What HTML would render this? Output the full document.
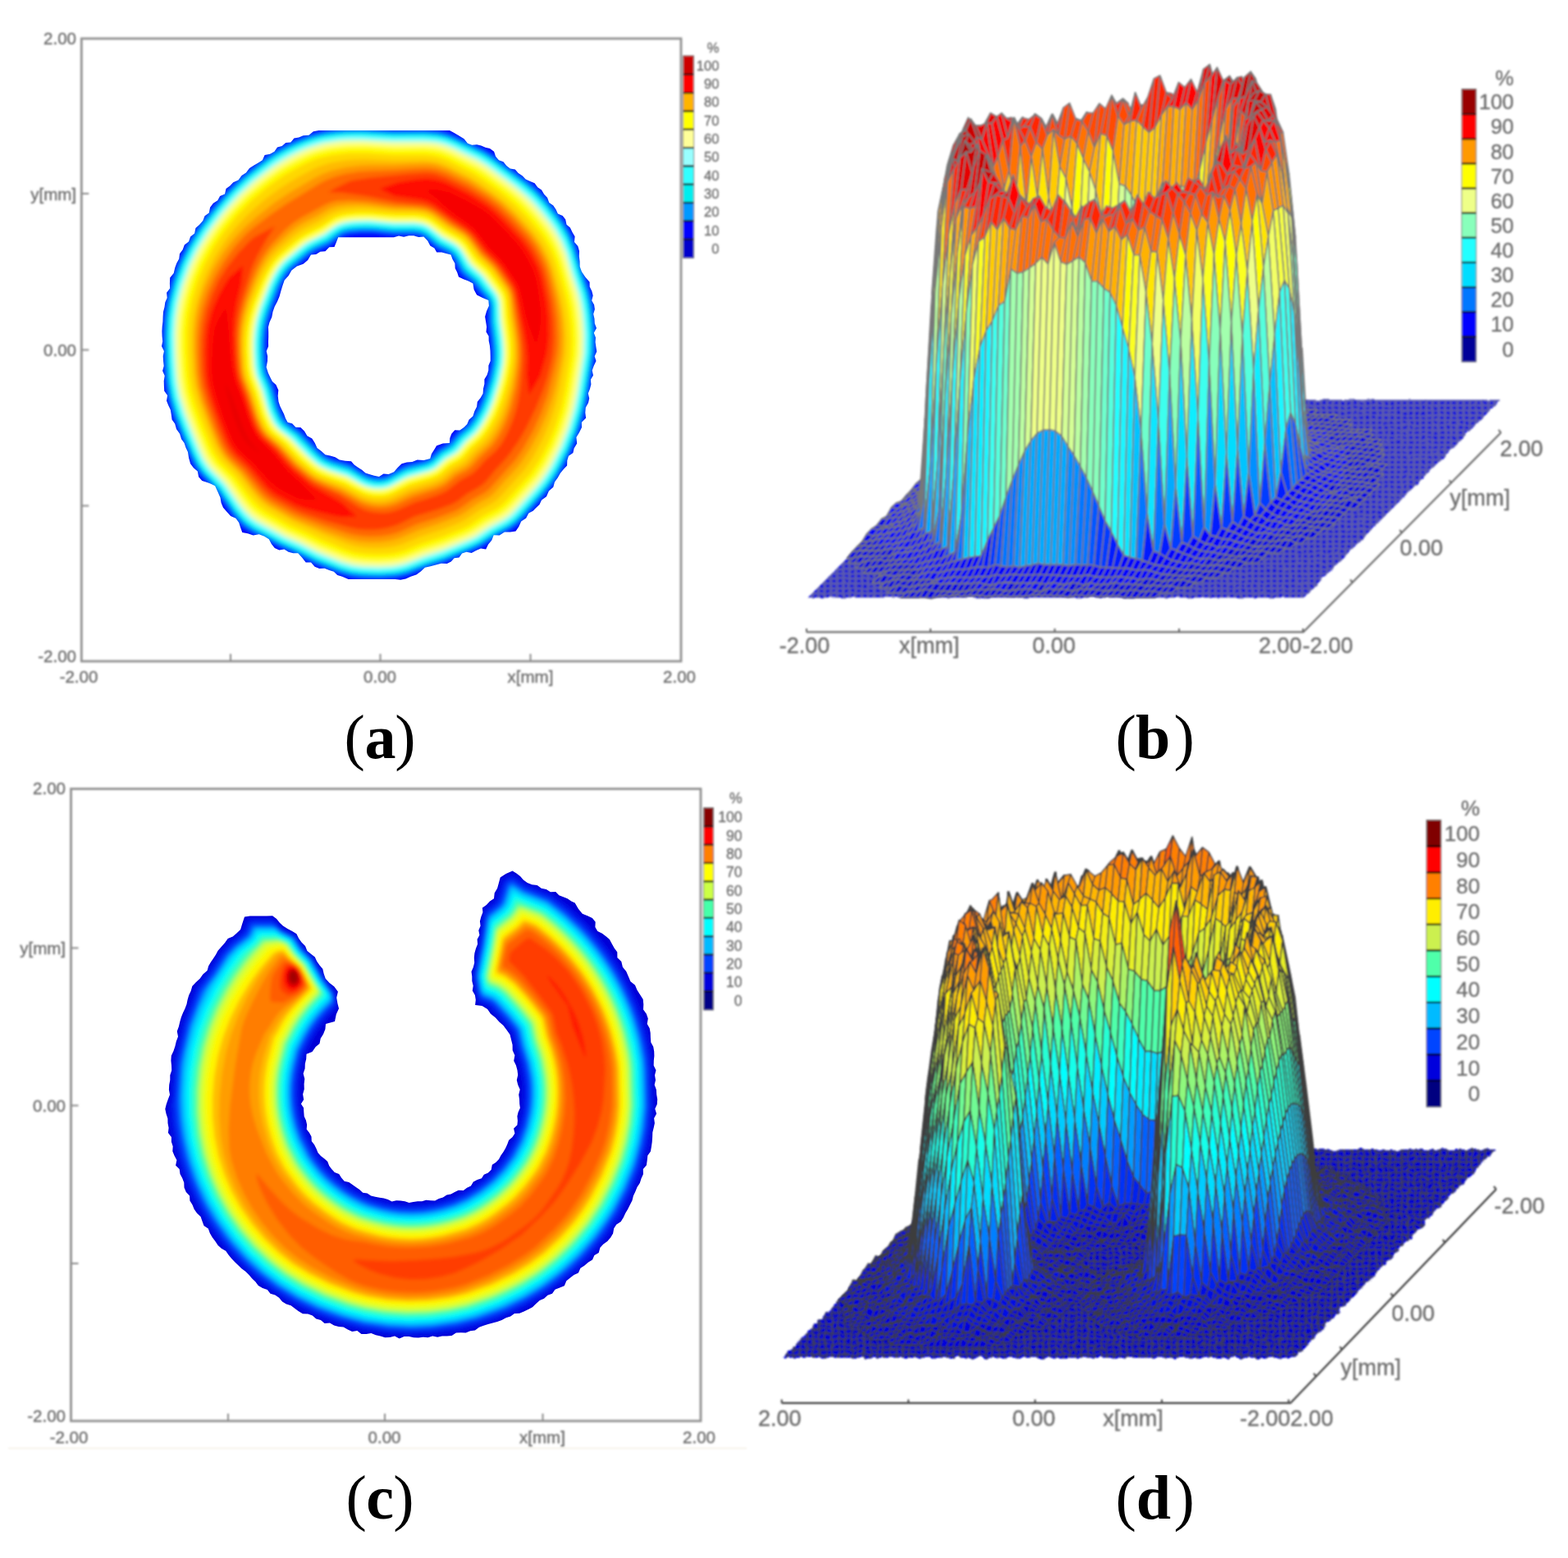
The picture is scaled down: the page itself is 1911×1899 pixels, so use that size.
<!DOCTYPE html>
<html lang="en"><head><meta charset="utf-8"><title>Beam intensity profiles</title>
<style>html,body{margin:0;padding:0;background:#fff;overflow:hidden}svg{display:block;font-family:"Liberation Sans",sans-serif}</style>
</head><body>
<svg width="1911" height="1899" viewBox="0 0 1911 1899" role="img" aria-label="Measured beam intensity profiles: ring (a, b) and open ring (c, d)">
<rect width="1911" height="1899" fill="#fff"/>
<filter id="tb" x="-10%" y="-10%" width="120%" height="120%"><feGaussianBlur stdDeviation="0.85"/></filter>
<g id="pa">
<clipPath id="ca"><path clip-rule="evenodd" d="M199.0 440.0L198.7 434.0L199.9 428.0L197.0 422.0L198.2 416.0L197.6 410.0L197.4 404.0L197.7 398.0L198.4 392.0L198.6 386.0L199.0 380.0L200.5 374.3L201.3 368.4L203.7 362.9L203.1 356.7L207.1 351.5L206.9 345.4L207.2 338.5L211.7 332.9L213.2 326.4L215.3 320.7L218.2 315.4L219.0 309.3L222.7 304.3L224.8 298.4L230.0 294.4L232.1 288.5L237.1 284.5L238.4 278.0L243.2 273.8L247.3 269.1L249.5 263.2L254.7 259.5L256.1 252.7L259.9 247.8L265.3 244.3L268.1 239.0L274.0 236.4L275.5 230.0L280.3 226.4L284.3 222.2L290.5 219.5L294.5 214.1L299.9 210.4L304.0 205.1L309.5 201.6L314.7 198.5L319.8 195.3L322.6 189.0L329.1 187.7L334.4 184.7L338.0 179.5L343.7 178.0L348.2 174.0L354.3 173.5L358.4 168.6L364.2 167.5L369.6 165.3L376.4 164.8L381.9 160.3L388.5 159.0L394.2 159.0L399.9 159.0L405.7 159.0L411.4 159.0L417.1 159.0L422.8 159.0L428.5 159.0L434.2 159.0L440.0 159.0L445.7 159.0L451.4 159.0L457.1 159.0L462.8 159.0L468.6 159.0L474.3 159.0L480.0 159.0L485.7 159.0L491.3 159.0L497.0 159.0L502.7 159.0L508.3 159.0L514.0 159.0L519.7 159.0L525.3 159.0L531.0 159.0L536.7 159.0L542.3 159.0L548.0 159.0L554.0 162.3L559.9 165.7L565.6 169.3L570.0 174.8L575.2 176.7L581.1 176.2L586.4 177.6L591.6 179.7L597.0 181.0L602.1 184.7L604.1 190.7L608.0 195.3L613.5 197.3L617.3 201.9L621.8 205.4L627.8 206.5L631.7 211.0L636.6 214.2L640.7 218.5L646.1 221.0L651.6 223.3L655.2 228.3L660.0 231.6L663.1 236.7L667.1 241.1L669.3 246.9L674.3 250.6L677.5 255.3L679.9 260.5L685.7 263.1L689.2 267.6L690.5 273.7L694.9 277.4L697.5 283.0L700.6 288.3L700.0 295.1L704.3 300.0L706.0 305.9L705.8 312.3L706.6 318.7L706.7 325.1L709.0 331.2L713.4 337.8L718.6 343.8L718.7 349.5L721.3 354.8L722.7 360.2L721.2 366.2L724.1 371.4L724.9 377.0L723.2 382.8L724.5 388.5L724.8 394.2L727.0 399.9L723.8 405.7L726.0 411.4L725.6 417.1L726.4 422.8L727.3 428.5L724.7 434.3L726.5 440.0L723.8 445.7L721.7 451.6L723.0 457.5L719.9 462.8L720.4 468.6L718.9 474.2L716.8 479.6L718.2 485.5L717.0 491.1L713.8 496.7L713.3 503.0L714.1 509.6L708.9 514.7L709.0 521.1L705.9 527.2L702.4 533.1L703.2 540.5L699.6 546.4L698.4 552.1L693.0 555.7L691.3 561.2L691.1 567.4L687.0 571.7L682.9 576.7L679.8 582.2L676.0 587.4L674.3 593.8L668.9 598.5L666.0 605.3L660.1 609.6L657.5 614.9L653.5 618.8L649.6 622.8L644.3 625.4L641.2 631.5L635.2 635.6L632.3 641.9L628.5 647.5L621.8 648.5L614.9 648.5L608.7 652.5L601.7 652.2L599.3 658.4L595.1 663.6L592.2 669.6L586.0 668.5L580.3 671.0L574.7 673.9L568.5 672.8L563.1 674.6L559.6 679.4L553.6 680.3L549.8 684.5L544.8 687.0L537.8 686.7L531.2 688.4L524.6 690.3L517.9 691.7L512.9 696.6L507.3 700.6L500.6 702.8L494.5 705.4L488.2 706.7L481.6 706.0L475.3 706.0L469.0 706.0L462.6 706.0L456.3 706.0L450.0 706.0L444.3 706.0L438.5 706.0L432.8 706.0L424.6 705.9L417.0 702.8L411.2 701.1L406.8 696.8L401.2 694.9L395.6 692.8L389.2 692.9L383.6 690.8L379.0 685.5L372.7 685.4L368.2 679.7L363.2 674.3L357.3 674.2L351.6 672.7L346.4 669.6L340.2 670.4L334.8 668.0L330.8 663.1L327.8 657.3L322.2 653.8L315.7 651.2L308.6 652.4L302.0 650.2L295.3 649.0L293.1 643.0L291.2 636.9L287.4 631.7L281.1 628.9L276.4 623.8L272.0 618.8L269.6 612.9L268.5 606.4L265.3 599.3L262.1 592.2L257.0 589.7L251.7 587.7L246.3 585.9L242.1 581.2L240.8 574.5L235.9 570.3L232.1 565.3L230.1 558.3L229.0 551.1L226.5 545.7L224.6 540.1L221.1 535.3L219.1 528.7L215.0 523.1L213.2 516.4L209.6 511.4L208.8 505.5L207.8 499.6L205.3 494.2L203.0 488.4L204.1 482.0L200.2 476.5L199.9 470.4L199.7 464.2L200.7 458.1L198.1 452.1L199.7 446.0ZM326.0 440.0L326.1 434.1L324.7 428.1L327.1 422.3L327.0 416.4L327.2 410.5L327.2 404.6L327.0 398.6L328.5 392.8L331.3 386.6L332.5 379.9L334.8 373.5L338.0 367.5L340.6 361.3L342.3 354.9L344.3 348.5L346.7 341.5L351.7 335.9L355.4 329.6L361.9 324.5L369.6 321.7L375.2 316.9L379.0 310.6L385.2 310.0L390.4 306.7L396.5 306.2L401.3 301.3L407.5 301.0L409.9 295.2L412.2 289.3L417.8 289.3L423.5 289.3L429.1 289.3L434.8 289.3L440.4 289.3L446.1 289.3L451.8 289.3L457.4 289.3L463.1 289.3L468.7 289.3L474.4 289.3L480.0 289.3L486.0 287.4L492.1 288.7L498.2 287.3L504.2 287.3L510.3 289.0L516.4 288.5L521.2 293.4L524.3 299.6L529.4 302.4L532.2 307.5L538.2 307.4L543.8 309.0L549.5 310.6L551.5 315.9L554.4 321.0L554.7 326.9L557.2 332.1L559.0 337.5L564.8 340.2L570.8 342.4L576.4 345.4L577.6 352.9L581.1 359.6L588.1 363.0L595.3 365.9L595.9 372.8L593.0 379.3L591.1 385.9L592.2 392.8L593.1 398.5L592.5 404.4L595.6 409.7L595.7 415.6L596.9 421.2L597.5 427.5L597.7 433.7L597.7 440.0L595.4 445.6L595.3 451.6L593.6 457.1L590.4 462.2L590.4 468.1L589.0 473.7L588.6 479.8L585.6 484.9L581.8 489.8L581.1 495.8L578.3 501.3L576.4 507.3L571.6 511.6L569.3 516.9L565.3 521.1L560.3 524.4L554.3 524.3L550.3 528.8L548.3 534.1L547.9 540.1L539.8 540.5L532.1 543.2L529.1 548.3L525.9 553.3L524.2 559.0L516.5 561.1L508.5 560.6L502.4 563.0L495.8 563.6L489.5 565.3L484.6 570.0L480.1 575.2L473.7 578.0L467.4 577.6L462.0 581.0L455.9 579.7L450.0 578.0L445.4 576.4L441.1 572.8L436.3 569.8L431.7 566.5L428.0 562.2L420.8 561.8L413.8 560.6L408.5 557.3L402.5 555.5L396.4 554.3L391.8 549.9L386.5 546.1L383.8 540.1L380.3 534.5L374.4 531.2L371.0 525.6L366.4 521.1L360.4 520.8L356.1 516.3L350.6 514.8L348.0 509.9L346.1 504.7L343.6 499.8L341.2 494.8L339.5 489.5L338.7 482.6L339.3 475.6L336.4 469.0L331.9 465.1L329.4 459.9L326.9 454.8L324.6 447.5Z"/></clipPath>
<filter id="bl" x="-5%" y="-5%" width="110%" height="110%"><feGaussianBlur stdDeviation="2.2"/></filter>
<g clip-path="url(#ca)"><g filter="url(#bl)" fill-rule="evenodd">
<path fill="#0000fa" d="M453.4 140.0L480.0 141.6L513.0 141.0L526.5 141.3L540.0 142.9L552.0 146.2L576.0 157.1L594.0 164.5L603.0 169.2L610.5 174.4L631.5 190.9L658.5 209.5L668.8 218.0L681.0 231.0L697.5 252.8L706.9 267.5L713.4 281.0L717.4 293.0L724.5 320.0L733.7 344.0L737.3 356.0L741.1 378.5L743.0 404.0L742.8 422.0L741.1 438.5L731.6 495.5L728.2 510.5L723.8 525.5L714.4 551.0L702.3 576.5L690.0 597.5L683.5 606.5L676.2 615.5L649.5 645.5L640.5 654.0L633.1 659.0L615.0 668.5L594.0 681.6L571.5 690.7L549.0 700.7L525.0 708.4L502.5 716.7L487.5 720.2L469.5 721.7L445.5 721.6L429.0 720.4L415.5 717.6L400.5 712.7L379.5 704.4L354.0 690.7L330.0 680.0L313.5 671.1L294.0 661.8L289.4 659.0L283.8 654.5L276.6 647.0L268.5 636.7L250.1 608.0L244.9 602.0L230.0 587.0L225.4 581.0L220.9 573.5L201.1 528.5L193.8 509.0L188.2 488.0L184.6 464.0L182.5 428.0L182.2 402.5L183.7 380.0L187.3 359.0L194.2 333.5L203.2 309.5L213.9 288.5L228.0 266.7L248.3 240.5L263.4 222.5L273.1 212.0L292.5 194.6L312.0 178.8L324.0 169.9L333.3 164.0L343.5 158.6L354.0 154.0L367.5 149.1L379.5 145.5L390.0 143.1L400.5 141.3ZM430.5 301.9L426.0 303.0L421.5 305.0L418.5 307.2L411.7 314.0L408.0 316.5L394.5 321.3L388.5 324.5L378.0 333.0L368.8 339.5L365.6 342.5L362.2 347.0L358.9 353.0L355.8 360.5L345.6 390.5L343.1 399.5L341.4 410.0L340.6 420.5L340.6 432.5L341.5 444.5L343.3 452.0L350.5 467.0L353.4 482.0L356.2 491.0L360.0 499.3L363.9 504.5L367.5 507.2L376.9 512.0L381.1 515.0L390.0 523.9L399.8 536.0L406.5 541.4L414.0 544.7L427.5 547.3L432.0 549.0L445.5 558.8L453.0 562.8L459.0 564.3L465.0 564.2L472.5 561.5L484.5 553.1L490.5 549.9L498.0 547.7L510.0 545.7L515.3 543.5L518.6 540.5L525.0 532.8L537.0 525.0L544.5 515.5L556.2 506.0L562.5 497.1L567.5 488.0L571.8 477.5L578.5 456.5L581.7 443.0L582.2 435.5L581.9 428.0L578.4 399.5L580.1 384.5L580.1 380.0L578.8 375.5L576.6 372.5L568.5 365.3L560.8 356.0L551.9 350.0L548.7 347.0L546.3 342.5L542.0 330.5L538.7 326.0L535.5 323.8L526.5 320.4L523.5 318.8L520.5 316.3L513.0 308.0L510.0 305.7L507.0 304.4L502.5 303.4L478.5 303.8L453.0 300.8L441.0 300.8Z"/>
<path fill="#0022ff" d="M427.1 155.0L453.0 155.2L466.3 156.5L480.0 156.9L525.0 156.8L538.5 158.5L544.5 160.1L552.0 162.9L594.0 182.5L603.0 188.6L619.4 201.5L637.5 214.2L649.5 223.3L664.3 237.5L674.6 249.5L688.0 267.5L692.7 275.0L698.2 285.5L703.0 297.5L711.0 327.1L720.8 354.5L723.9 368.0L726.9 392.0L727.5 414.5L726.8 432.5L721.5 463.3L717.9 488.0L713.5 507.5L705.9 531.5L697.2 552.5L684.9 576.5L677.5 588.5L669.8 599.0L643.2 629.0L630.0 642.2L624.0 646.4L610.6 653.0L603.0 657.5L588.0 667.6L579.0 671.8L568.7 675.5L553.5 682.4L541.5 687.2L520.5 693.5L499.5 701.8L487.5 704.9L477.0 706.3L459.0 706.8L439.5 706.2L429.0 704.9L421.5 703.3L408.0 699.0L385.5 690.2L357.3 675.5L339.0 667.7L321.0 657.5L304.5 649.7L294.0 642.2L287.1 635.0L281.0 627.5L273.7 617.0L265.5 603.5L261.0 597.6L241.8 578.0L237.4 572.0L233.1 564.5L215.1 522.5L207.4 501.5L204.4 491.0L201.5 477.5L198.7 453.5L197.1 419.0L197.3 399.5L198.4 384.5L199.9 374.0L204.4 353.0L211.9 329.0L220.9 308.0L231.6 288.5L248.1 264.5L267.5 240.5L286.5 220.2L298.5 209.5L315.0 196.1L327.0 187.1L336.0 181.1L346.5 175.1L355.5 170.7L370.5 164.7L379.5 161.7L391.5 158.6L400.5 156.9L412.5 155.5ZM435.0 285.5L424.5 287.0L419.6 288.5L414.0 291.5L406.5 298.1L402.0 301.4L383.1 309.5L376.5 314.0L369.0 320.7L359.8 327.5L352.4 335.0L346.5 344.8L342.1 354.5L331.5 383.4L328.5 393.5L327.0 401.0L325.5 414.3L325.5 435.8L327.1 450.5L330.0 459.0L335.3 470.0L340.5 491.6L345.0 503.2L348.0 508.6L351.0 512.3L356.0 516.5L366.0 522.8L372.0 528.2L392.4 549.5L395.8 552.5L400.5 555.5L412.5 560.0L421.5 561.9L426.0 563.3L432.0 566.5L442.2 573.5L451.5 578.0L458.6 579.5L464.3 579.5L470.9 578.0L474.2 576.5L487.5 568.1L493.5 565.1L504.0 562.0L514.8 560.0L522.2 557.0L534.0 545.3L543.0 540.3L546.7 537.5L555.3 527.0L564.4 519.5L568.5 515.4L574.5 507.2L580.5 496.4L586.5 482.1L594.0 457.3L597.0 442.4L597.0 421.2L593.4 393.5L594.0 374.0L592.5 369.1L591.0 366.4L582.7 357.5L576.0 348.3L571.7 344.0L564.0 338.3L560.7 335.0L558.5 332.0L552.0 318.2L549.0 314.2L544.8 311.0L531.0 304.5L520.1 294.5L516.0 291.4L508.7 288.5L505.5 288.2L478.5 288.2L457.5 285.5Z"/>
<path fill="#0067ff" d="M415.2 158.0L441.0 157.3L480.0 159.6L519.0 159.2L535.5 160.8L544.5 163.0L553.5 166.5L588.0 182.4L600.0 189.8L618.0 203.6L642.2 221.0L654.7 231.5L662.0 239.0L669.7 248.0L680.2 261.5L687.6 272.0L695.2 285.5L701.2 300.5L708.7 327.5L718.4 356.0L721.1 368.0L723.1 381.5L725.0 407.0L724.4 429.5L716.3 482.0L712.2 501.5L705.2 525.5L695.7 549.5L682.7 575.0L676.5 585.3L670.5 593.8L662.6 603.5L638.4 630.5L630.0 638.8L622.5 644.1L603.1 654.5L588.0 664.5L579.0 669.0L543.0 683.8L520.5 691.0L498.0 699.5L490.5 701.6L481.5 703.1L463.5 704.3L441.0 703.7L427.5 701.9L414.0 698.3L385.5 687.2L361.5 674.8L340.5 665.6L322.5 655.7L306.0 647.4L297.0 641.2L290.7 635.0L283.3 626.0L263.9 597.5L245.1 578.0L240.5 572.0L236.8 566.0L232.5 557.0L219.8 527.0L211.8 506.0L206.1 486.5L202.7 467.0L200.6 440.0L199.7 407.0L201.0 386.0L204.3 365.0L210.7 341.0L219.6 317.0L229.4 297.5L242.6 276.5L261.0 252.2L273.5 237.5L283.5 226.8L292.5 218.2L303.0 209.2L330.0 188.3L339.8 182.0L349.5 176.7L360.7 171.5L372.0 167.0L382.5 163.7L393.0 161.1L403.5 159.3ZM439.5 282.4L424.5 284.1L420.0 285.3L415.5 287.2L400.5 298.6L385.5 305.0L378.0 309.3L355.6 327.5L349.5 334.4L344.5 342.5L340.4 351.5L329.7 380.0L326.0 392.0L324.0 402.5L322.7 414.5L322.5 426.5L323.2 441.5L325.0 453.5L332.6 471.5L337.0 489.5L339.4 497.0L344.1 507.5L349.5 514.7L366.5 527.0L389.8 551.0L397.5 557.0L406.5 561.0L426.0 566.6L430.5 569.0L442.5 576.9L448.5 579.8L456.0 581.9L463.5 582.3L468.0 581.6L474.0 579.5L489.0 570.5L495.0 567.8L502.5 565.5L517.5 562.1L523.5 559.5L526.6 557.0L535.5 547.9L545.8 542.0L549.0 539.5L558.0 528.6L570.0 518.2L576.0 510.1L583.4 497.0L588.4 485.0L595.5 462.5L599.4 444.5L600.2 437.0L600.2 428.0L599.3 416.0L596.4 393.5L596.6 374.0L595.1 368.0L592.5 363.7L585.0 355.4L576.2 344.0L566.7 336.5L562.5 332.3L559.6 327.5L554.5 317.0L551.3 312.5L546.0 308.3L532.5 301.7L520.5 291.1L516.7 288.5L511.5 286.3L504.0 285.1L480.0 285.3L456.0 282.6Z"/>
<path fill="#00a4fd" d="M408.7 161.0L423.0 159.8L441.0 159.6L480.0 161.9L516.0 161.4L534.0 162.9L546.0 165.9L553.5 169.0L588.0 185.1L598.5 191.6L616.5 205.4L640.5 222.8L651.0 231.5L664.0 245.0L676.1 260.0L683.7 270.5L692.6 285.5L698.8 300.5L706.8 329.0L715.2 353.0L718.2 365.0L719.8 374.0L722.5 401.0L722.6 425.0L721.1 438.5L712.1 492.5L706.2 515.0L697.1 540.5L685.1 566.0L677.4 579.5L671.6 588.5L659.5 603.5L635.2 630.5L628.5 636.9L621.0 642.3L603.0 651.8L586.5 662.7L576.0 667.8L540.0 682.5L519.2 689.0L496.5 697.7L483.0 700.7L466.5 702.0L445.5 701.7L432.0 700.4L424.5 699.0L414.0 695.9L384.0 684.1L362.0 672.5L340.5 663.1L322.5 653.0L309.0 646.4L300.0 640.6L291.2 632.0L283.9 623.0L265.5 595.9L248.0 578.0L240.2 567.5L232.9 552.5L216.3 512.0L210.4 494.0L205.7 473.0L204.3 462.5L203.0 444.5L202.0 411.5L202.9 389.0L206.0 368.0L212.1 344.0L219.6 323.0L228.7 303.5L240.2 284.0L249.6 270.5L259.9 257.0L280.6 233.0L295.5 218.5L312.0 204.8L325.5 194.4L336.0 187.2L346.5 180.9L366.0 171.8L378.0 167.4L388.5 164.4L396.0 162.8ZM426.0 281.0L419.5 282.5L415.5 284.1L410.9 287.0L402.0 294.3L399.1 296.0L384.0 302.6L377.2 306.5L353.3 326.0L349.5 330.0L345.0 336.4L340.5 344.7L336.3 354.5L327.0 379.4L322.5 395.0L321.0 404.2L319.8 419.0L319.9 432.5L321.0 447.5L323.1 456.5L329.7 471.5L331.2 476.0L334.5 490.3L337.7 500.0L342.0 509.3L347.6 516.5L364.5 528.9L387.4 552.5L392.7 557.0L397.4 560.0L406.5 563.8L421.5 567.9L426.0 569.6L441.0 579.0L448.3 582.5L457.5 584.8L465.0 584.8L469.5 584.0L474.0 582.3L490.5 572.7L495.0 570.6L504.0 567.9L519.0 564.5L525.2 561.5L537.0 550.3L546.2 545.0L550.5 541.9L559.5 531.1L572.6 519.5L579.0 510.5L586.4 497.0L592.3 482.0L598.5 461.7L602.3 443.0L603.0 435.5L602.9 426.5L601.5 410.8L599.1 393.5L598.9 372.5L598.0 368.0L595.5 363.2L586.7 353.0L579.0 342.7L568.5 334.2L564.9 330.5L562.8 327.5L555.8 314.0L552.2 309.5L548.4 306.5L533.6 299.0L522.0 288.9L517.0 285.5L513.6 284.0L506.6 282.5L478.5 282.4L453.0 279.7L439.5 279.7Z"/>
<path fill="#00caf5" d="M408.3 162.5L423.0 161.3L438.0 161.0L478.5 163.3L514.5 162.9L532.5 164.2L543.0 166.6L552.0 170.0L586.5 186.1L597.0 192.4L637.5 222.4L651.0 233.7L658.5 241.2L666.0 249.9L676.4 263.0L683.8 273.5L691.6 287.0L697.7 302.0L705.8 330.5L714.4 356.0L717.2 368.0L718.9 378.5L721.2 405.5L720.8 428.0L719.6 438.5L712.8 480.5L708.4 501.5L700.7 527.0L691.6 549.5L678.4 575.0L667.5 591.5L657.5 603.5L634.6 629.0L628.5 635.0L621.0 640.5L603.2 650.0L585.0 661.9L577.5 665.6L541.5 680.4L519.1 687.5L496.5 696.1L487.5 698.4L480.0 699.6L462.0 700.6L439.5 699.8L426.0 697.7L412.5 693.8L385.5 683.1L362.1 671.0L342.0 662.2L324.0 652.2L309.0 644.7L300.0 638.6L293.2 632.0L285.8 623.0L267.0 595.5L248.6 576.5L243.9 570.5L240.2 564.5L235.2 554.0L223.2 525.5L215.8 506.0L209.6 485.0L206.6 468.5L204.7 447.5L203.4 411.5L204.2 392.0L206.7 372.5L212.8 347.0L217.2 333.5L221.8 321.5L231.2 302.0L243.0 282.5L259.4 260.0L271.8 245.0L283.5 232.1L301.5 215.3L327.0 195.2L337.5 188.0L346.5 182.7L367.5 172.9L385.5 166.8L399.0 163.8ZM439.5 278.0L424.6 279.5L418.5 281.0L414.0 283.0L399.0 294.0L382.5 301.5L375.0 306.0L354.0 323.1L346.5 331.2L341.3 339.5L336.4 350.0L325.5 378.5L321.9 390.5L319.5 402.8L318.4 414.5L318.1 426.5L318.9 443.0L320.9 455.0L328.4 473.0L335.4 498.5L340.0 509.0L345.3 516.5L349.5 520.2L363.0 529.9L385.5 552.9L394.5 560.2L405.0 565.1L424.5 570.9L429.0 573.1L441.4 581.0L448.5 584.3L456.0 586.3L463.5 586.6L469.5 585.6L474.1 584.0L490.5 574.6L496.5 571.9L519.0 566.2L525.0 563.6L529.5 560.1L538.5 551.3L547.5 546.2L552.0 542.9L561.0 532.0L573.0 521.5L579.1 513.5L586.8 500.0L592.5 486.5L599.6 464.0L603.6 446.0L604.6 437.0L604.6 426.5L603.5 413.0L600.9 393.5L600.7 374.0L599.7 368.0L596.7 362.0L588.9 353.0L580.5 341.8L570.0 333.0L566.0 329.0L563.1 324.5L557.7 314.0L554.5 309.5L549.0 304.8L534.0 297.1L519.0 284.7L513.0 282.0L505.5 280.7L480.0 280.8L456.0 278.2Z"/>
<path fill="#01eeee" d="M422.7 162.5L444.0 162.3L481.5 164.6L519.0 164.2L531.0 165.2L541.5 167.4L552.0 171.3L590.1 189.5L598.5 195.0L636.0 222.8L650.0 234.5L663.0 248.3L680.3 270.5L685.5 278.5L690.2 287.0L697.0 303.5L704.6 330.5L713.2 356.0L716.2 369.5L718.7 387.5L720.2 411.5L719.4 431.0L711.4 482.0L706.8 503.0L699.4 527.0L690.3 549.5L677.9 573.5L672.0 583.1L666.0 591.5L658.5 600.6L634.5 627.3L627.0 634.7L619.5 640.1L600.9 650.0L585.0 660.6L577.5 664.3L541.5 679.1L519.0 686.3L496.5 694.8L487.5 697.2L478.5 698.6L460.5 699.5L441.0 698.8L427.5 696.9L414.0 693.0L387.0 682.4L363.0 670.2L342.0 660.9L325.2 651.5L309.0 643.3L300.0 637.0L293.5 630.5L286.1 621.5L267.6 594.5L249.0 575.2L244.5 569.3L240.7 563.0L236.4 554.0L223.9 524.0L216.0 503.0L210.1 482.0L207.0 462.5L204.9 428.0L204.7 404.0L206.2 383.0L210.0 362.0L216.9 338.0L225.7 315.5L236.8 294.5L250.6 273.5L270.0 248.9L280.5 237.0L289.5 227.7L300.0 218.1L312.0 208.2L325.5 197.8L336.0 190.4L346.5 184.2L357.0 178.8L369.0 173.6L379.5 169.8L389.5 167.0L399.0 165.0L411.0 163.4ZM442.5 276.5L424.5 278.1L418.5 279.5L414.0 281.4L409.8 284.0L399.0 292.4L382.5 299.9L375.0 304.3L352.5 322.7L346.5 329.0L340.6 338.0L335.5 348.5L324.6 377.0L320.8 389.0L318.4 401.0L317.1 413.0L316.8 425.0L317.4 440.0L318.2 449.0L319.5 455.0L327.4 474.5L334.0 498.5L339.3 510.5L344.9 518.0L361.1 530.0L384.7 554.0L390.0 558.7L394.5 561.8L403.5 565.9L424.5 572.4L441.0 582.3L447.0 585.1L456.0 587.6L463.5 588.0L469.5 587.0L475.5 584.8L490.5 576.1L496.5 573.4L519.0 567.5L526.1 564.5L529.5 561.9L538.5 553.0L552.0 544.8L562.0 533.0L571.5 524.9L575.3 521.0L581.7 512.0L588.3 500.0L593.4 488.0L598.4 473.0L602.5 458.0L605.1 444.5L606.0 434.0L605.7 422.0L602.1 392.0L601.8 372.5L600.0 365.0L597.3 360.5L589.6 351.5L582.0 341.2L570.0 331.1L567.0 327.8L558.0 311.9L553.5 306.4L549.0 303.2L535.5 296.4L520.5 284.1L513.0 280.5L504.0 279.2L480.0 279.4L457.5 277.0Z"/>
<path fill="#18f6f6" d="M417.5 164.0L441.0 163.4L478.5 165.7L519.0 165.4L534.0 166.9L543.0 169.1L552.0 172.6L585.0 188.1L598.5 196.5L636.0 224.4L649.8 236.0L657.1 243.5L666.0 253.9L675.5 266.0L682.8 276.5L691.0 291.5L696.7 306.5L703.4 330.5L712.3 357.5L715.0 369.5L717.2 384.5L718.9 408.5L718.4 429.5L710.5 480.5L706.4 500.0L699.3 524.0L690.0 547.3L677.4 572.0L665.7 590.0L655.7 602.0L632.7 627.5L626.5 633.5L619.5 638.7L601.5 648.3L583.5 660.1L576.0 663.7L540.0 678.4L519.0 685.1L495.0 694.1L487.5 696.0L478.5 697.4L460.5 698.3L441.0 697.6L427.5 695.7L415.5 692.3L387.0 681.1L363.0 668.9L343.5 660.4L310.1 642.5L301.3 636.5L295.1 630.5L287.6 621.5L269.1 594.5L250.3 575.0L245.7 569.0L242.0 563.0L237.7 554.0L225.8 525.5L217.2 503.0L211.7 483.5L208.3 464.0L206.3 432.5L205.8 405.5L207.2 384.5L210.6 365.0L217.1 341.0L225.7 318.5L235.5 299.0L248.8 278.0L267.2 254.0L278.8 240.5L288.0 230.8L307.5 213.4L333.0 193.9L343.5 187.3L353.3 182.0L364.5 176.8L376.5 172.1L385.5 169.3L396.0 166.8ZM426.0 276.4L420.0 277.6L414.0 279.8L409.5 282.6L397.5 291.6L382.5 298.4L375.0 302.6L351.0 322.2L346.0 327.5L342.0 333.2L337.5 341.1L332.9 351.5L322.6 378.5L318.7 392.0L316.6 404.0L315.5 417.5L315.5 431.0L316.7 447.5L318.6 456.5L326.0 474.5L330.6 492.5L333.7 501.5L338.6 512.0L341.8 516.5L344.6 519.5L360.0 530.9L384.3 555.5L389.5 560.0L394.5 563.4L403.5 567.4L424.5 573.9L441.0 583.7L448.2 587.0L457.5 589.2L465.0 589.2L469.5 588.3L475.5 586.2L490.5 577.6L496.5 574.8L520.5 568.5L526.5 565.8L530.2 563.0L539.5 554.0L550.0 548.0L553.5 545.3L562.5 534.5L575.8 522.5L582.4 513.5L589.9 500.0L595.4 486.5L602.4 464.0L606.5 444.5L607.4 435.5L607.3 425.0L606.3 413.0L603.5 392.0L603.0 371.0L601.5 365.0L598.5 359.9L591.4 351.5L582.4 339.5L571.6 330.5L568.5 327.3L565.5 323.0L559.0 311.0L555.5 306.5L550.5 302.5L535.5 294.7L523.5 284.6L519.0 281.5L513.0 279.1L504.0 277.8L480.0 278.0L459.0 275.7L448.5 275.1L436.5 275.4Z"/>
<path fill="#2ffefe" d="M413.7 165.5L426.0 164.7L441.0 164.6L478.5 166.8L519.0 166.6L534.0 168.1L541.9 170.0L552.0 173.9L585.0 189.5L597.0 196.9L634.5 224.8L647.9 236.0L655.5 243.6L664.5 254.0L673.9 266.0L681.3 276.5L688.9 290.0L695.0 305.0L701.7 329.0L711.1 357.5L714.0 370.7L715.8 383.0L717.7 408.5L717.2 429.5L709.5 479.4L705.2 500.0L698.0 524.0L689.1 546.5L676.5 571.2L670.6 581.0L664.5 589.6L657.0 598.7L633.0 625.4L625.5 632.8L618.0 638.2L600.0 647.8L583.0 659.0L576.0 662.5L540.0 677.2L517.5 684.4L496.5 692.4L486.7 695.0L478.5 696.3L462.0 697.2L441.6 696.5L427.5 694.4L415.5 691.0L387.4 680.0L363.0 667.6L343.5 659.1L310.5 641.4L301.5 635.0L295.4 629.0L288.0 620.0L270.0 593.8L250.5 573.5L243.0 562.4L238.5 553.0L227.7 527.0L219.0 504.5L213.0 484.1L209.7 465.5L207.8 440.0L206.9 408.5L208.1 387.5L211.1 368.0L217.4 344.0L225.7 321.5L235.2 302.0L248.1 281.0L266.2 257.0L277.5 243.7L287.5 233.0L306.0 216.1L331.5 196.4L340.5 190.5L351.0 184.5L362.5 179.0L373.5 174.5L384.0 170.9L393.6 168.5ZM427.5 274.8L420.0 276.2L414.0 278.3L409.4 281.0L397.5 289.9L381.0 297.5L375.0 301.0L349.8 321.5L345.6 326.0L341.2 332.0L336.1 341.0L331.5 351.3L321.7 377.0L317.3 392.0L315.2 404.0L314.1 417.5L314.2 431.0L315.3 447.5L317.2 456.5L324.5 474.5L329.3 492.5L332.2 501.5L337.0 512.0L342.7 519.5L358.6 531.5L382.3 555.5L388.5 560.9L393.0 564.1L402.0 568.3L424.5 575.4L441.0 585.2L447.0 588.0L456.0 590.3L465.0 590.5L471.0 589.3L475.5 587.6L490.5 579.0L496.5 576.3L520.5 569.9L528.0 566.5L540.0 555.3L550.5 549.3L554.3 546.5L564.0 535.0L576.4 524.0L583.0 515.0L590.7 501.5L596.8 486.5L603.8 464.0L607.8 444.5L608.7 435.5L608.7 425.0L607.5 411.5L604.9 392.0L604.3 371.0L602.9 365.0L599.5 359.0L592.5 350.6L584.4 339.5L569.4 326.0L566.3 321.5L560.6 311.0L556.5 305.5L550.5 300.9L540.0 295.7L535.5 292.9L523.5 282.9L519.0 280.0L513.0 277.6L505.5 276.5L480.0 276.6L459.0 274.4L448.5 273.7L438.0 273.9Z"/>
<path fill="#59ffff" d="M411.8 167.0L426.0 166.0L439.5 165.9L478.5 168.2L514.5 167.8L531.0 169.0L542.3 171.5L550.5 174.6L582.0 189.5L594.8 197.0L631.5 224.2L646.5 236.6L654.0 244.1L662.6 254.0L673.3 267.5L679.5 276.2L688.2 291.5L694.2 306.5L700.9 330.5L709.5 356.6L712.2 368.0L714.0 379.3L715.5 392.6L716.4 407.0L716.0 428.0L715.1 437.0L708.0 480.7L704.6 497.0L697.5 521.6L688.5 544.7L676.3 569.0L670.0 579.5L664.5 587.4L654.0 600.1L630.0 626.7L624.4 632.0L616.5 637.5L598.5 647.1L583.5 657.2L574.5 661.7L541.5 675.2L520.5 681.9L495.0 691.6L480.0 694.8L462.0 695.9L442.5 695.2L429.0 693.4L417.0 690.2L387.2 678.5L364.5 666.9L345.0 658.4L312.0 640.7L303.0 634.5L297.0 628.7L289.5 619.8L271.0 593.0L252.1 573.5L244.5 562.5L238.5 549.8L220.9 506.0L214.9 486.5L211.5 469.4L210.0 456.5L209.0 440.0L208.2 411.5L208.9 392.0L211.8 371.0L217.5 348.1L225.2 326.0L235.5 304.1L247.6 284.0L264.1 261.5L276.0 247.3L286.5 235.8L302.2 221.0L330.0 199.1L339.8 192.5L349.5 186.9L361.5 180.9L372.0 176.5L381.8 173.0L391.5 170.3ZM427.5 273.5L419.3 275.0L412.5 277.5L396.0 289.2L381.0 296.0L373.5 300.4L349.5 320.1L345.0 324.7L340.5 330.7L334.5 341.3L330.0 351.5L320.8 375.5L316.3 390.5L314.1 402.5L312.9 416.0L312.9 431.0L314.0 447.5L316.3 458.0L323.1 474.5L328.3 494.0L331.4 503.0L336.0 512.8L338.4 516.5L342.0 520.5L357.0 531.9L382.0 557.0L387.1 561.5L393.0 565.6L402.0 569.6L423.0 576.2L429.0 579.3L439.5 585.8L447.0 589.3L456.0 591.6L465.0 591.8L471.0 590.6L475.5 589.0L490.5 580.5L496.5 577.7L522.0 570.8L528.0 568.0L541.5 555.9L552.0 550.0L555.0 547.7L564.9 536.0L577.5 524.7L583.7 516.5L592.5 500.7L598.5 485.7L604.7 465.5L609.1 444.5L610.0 435.5L610.0 425.0L609.0 412.5L606.1 390.5L605.5 371.0L604.3 365.0L601.2 359.0L585.0 338.1L573.0 327.8L570.0 324.5L561.2 309.5L557.8 305.0L552.0 300.2L537.0 292.3L520.5 279.3L513.9 276.5L505.5 275.2L480.0 275.3L459.0 273.0L448.5 272.4L438.0 272.6Z"/>
<path fill="#87ffff" d="M412.6 168.5L426.0 167.6L441.0 167.5L478.5 169.7L514.5 169.4L532.5 170.8L541.5 172.9L550.5 176.4L583.5 192.1L595.5 199.5L632.5 227.0L646.5 238.9L654.0 246.6L663.0 257.1L672.4 269.0L679.5 279.2L687.1 293.0L693.0 308.0L699.8 332.0L708.5 359.0L710.8 369.5L712.9 383.0L714.9 408.5L714.4 429.5L706.7 479.0L702.7 498.5L695.6 522.5L686.7 545.0L674.5 569.0L662.9 587.0L654.0 597.8L630.0 624.3L624.0 630.2L616.5 635.7L598.5 645.3L582.0 656.3L573.4 660.5L540.0 674.1L519.0 680.8L495.0 689.9L487.5 691.9L478.5 693.4L460.5 694.4L441.0 693.6L427.5 691.5L415.5 688.0L387.0 676.7L364.5 665.2L345.0 656.7L312.0 638.8L303.0 632.4L296.7 626.0L289.5 617.2L271.7 591.5L253.5 572.8L249.4 567.5L245.7 561.5L241.3 552.5L230.1 525.5L221.5 503.0L215.8 483.5L212.5 465.5L210.6 440.0L209.7 408.5L210.9 387.5L214.0 368.0L219.9 345.5L228.2 323.0L237.6 303.5L250.5 282.5L267.3 260.0L278.7 246.5L288.5 236.0L306.4 219.5L331.5 200.0L340.5 194.0L351.0 187.9L363.0 182.0L373.5 177.6L382.5 174.4L393.0 171.6ZM430.5 271.8L420.0 273.5L412.5 276.1L408.0 278.8L396.0 287.6L375.0 297.9L369.0 302.2L349.4 318.5L344.9 323.0L340.2 329.0L334.5 338.6L329.3 350.0L319.4 375.5L315.0 390.5L312.8 402.5L311.7 416.0L311.6 429.5L312.6 446.0L314.5 456.5L322.3 476.0L327.1 494.0L330.0 502.7L335.0 513.5L340.8 521.0L356.4 533.0L377.0 554.0L385.5 561.8L391.5 566.1L402.0 570.9L423.0 577.6L439.5 587.2L447.0 590.6L456.0 592.9L465.0 593.0L471.0 591.9L475.5 590.2L496.5 579.1L522.0 572.1L528.7 569.0L532.5 566.1L541.5 557.5L552.0 551.5L556.5 548.1L565.5 537.3L578.5 525.5L585.2 516.5L592.8 503.0L599.0 488.0L606.0 465.5L610.4 444.5L611.3 434.0L611.2 423.5L610.2 411.5L607.4 390.5L606.7 371.0L605.0 363.5L601.6 357.5L586.5 337.8L571.5 324.2L568.5 319.9L561.7 308.0L558.2 303.5L552.5 299.0L537.0 290.7L525.0 280.9L520.5 277.8L514.5 275.3L505.5 273.9L480.0 274.0L448.5 271.2Z"/>
<path fill="#b5ffe3" d="M413.5 170.0L427.5 169.1L441.0 169.0L478.5 171.3L514.5 170.9L532.5 172.4L541.5 174.6L550.5 178.1L582.0 193.1L594.0 200.4L629.8 227.0L644.1 239.0L651.6 246.5L660.7 257.0L670.5 269.2L677.7 279.5L685.5 293.4L691.9 309.5L698.6 333.5L706.9 359.0L709.2 369.5L711.3 383.0L713.3 408.5L712.8 429.5L705.4 477.5L701.5 497.0L694.5 521.0L685.6 543.5L673.5 567.5L667.5 577.6L661.5 586.2L652.1 597.5L628.5 623.6L622.5 629.4L615.0 634.7L597.0 644.4L582.0 654.5L573.0 659.0L540.0 672.5L517.5 679.7L495.0 688.3L487.5 690.4L478.5 691.9L462.0 692.9L442.5 692.2L429.0 690.3L417.0 686.9L388.5 675.6L366.0 664.3L346.5 655.7L313.5 637.9L304.5 631.5L298.5 625.6L291.4 617.0L272.4 590.0L253.5 570.5L246.6 560.0L242.3 551.0L231.8 525.5L223.2 503.0L217.4 483.5L214.1 465.5L212.1 440.0L211.2 408.5L212.3 389.0L215.3 369.5L221.1 347.0L229.5 323.8L239.4 303.5L252.0 283.0L269.2 260.0L289.5 237.2L307.5 220.6L333.0 200.9L342.0 195.0L352.5 189.0L363.7 183.5L375.0 178.7L393.0 173.2ZM432.0 270.4L420.0 272.2L412.5 274.7L408.0 277.3L396.0 286.1L379.5 293.9L373.5 297.3L367.5 301.8L348.0 318.1L343.3 323.0L339.0 328.6L333.5 338.0L328.6 348.5L318.1 375.5L314.0 389.0L311.6 402.5L310.4 416.0L310.4 429.5L311.4 446.0L313.7 458.0L321.0 476.0L325.8 494.0L328.8 503.0L334.5 515.0L340.5 522.4L355.5 533.9L376.7 555.5L385.5 563.3L391.5 567.5L401.4 572.0L423.0 579.0L439.5 588.5L447.0 591.9L456.0 594.1L465.0 594.3L471.0 593.1L475.5 591.5L492.0 582.4L498.0 579.8L522.0 573.3L529.5 569.9L542.2 558.5L552.8 552.5L556.8 549.5L567.0 537.6L579.0 526.8L586.5 516.7L594.2 503.0L600.3 488.0L607.6 464.0L611.6 444.5L612.6 434.0L612.4 423.5L611.4 411.5L608.6 390.5L607.7 369.5L606.3 363.5L603.0 357.3L587.1 336.5L572.3 323.0L563.1 308.0L559.5 303.1L553.5 298.1L538.3 290.0L525.2 279.5L520.7 276.5L514.5 274.0L505.5 272.7L480.0 272.8L450.0 270.0Z"/>
<path fill="#e3ffb5" d="M414.5 171.5L442.5 170.9L475.5 172.8L523.5 173.0L534.5 174.5L544.8 177.5L551.9 180.5L565.5 187.5L579.8 194.0L592.6 201.5L627.1 227.0L644.6 242.0L658.5 257.0L670.5 272.0L676.5 280.8L684.0 294.2L690.0 308.9L696.8 333.5L705.0 358.5L708.0 372.1L709.5 381.7L711.0 396.0L711.4 407.0L711.0 432.2L703.5 479.6L700.5 494.3L697.5 506.0L693.0 520.2L684.0 543.3L673.5 564.3L669.0 572.1L660.0 585.6L654.0 593.0L627.0 622.8L622.1 627.5L613.8 633.5L595.5 643.2L579.0 654.4L572.4 657.5L539.2 671.0L517.5 677.8L501.1 684.5L492.2 687.5L477.1 690.5L460.5 691.1L441.0 690.5L430.5 688.9L415.2 684.5L385.5 672.5L366.0 662.3L347.7 654.5L330.0 644.4L312.0 635.0L305.9 630.5L298.5 623.1L291.1 614.0L275.7 591.5L269.2 584.0L259.5 574.8L253.5 567.8L247.6 558.5L241.5 545.0L226.5 507.6L219.0 483.6L216.0 468.3L214.5 454.5L213.0 425.6L212.9 413.0L213.0 401.0L214.5 384.0L216.0 374.0L219.0 360.4L222.0 349.6L231.0 324.5L237.0 311.6L242.9 300.5L252.0 285.9L259.5 275.0L270.0 261.5L277.5 252.5L291.0 238.1L306.0 224.0L315.0 216.5L332.9 203.0L349.5 192.5L364.4 185.0L375.0 180.5L388.5 176.0L394.7 174.5ZM435.0 268.9L424.5 269.9L414.0 272.5L408.0 275.6L394.5 285.5L375.0 294.8L367.5 300.0L348.0 316.3L342.8 321.5L338.1 327.5L333.5 335.0L327.7 347.0L317.1 374.0L312.6 389.0L311.0 396.5L309.3 411.5L309.1 428.0L309.8 444.5L311.1 453.5L312.7 459.5L319.5 475.7L324.8 495.5L327.4 503.0L332.0 513.5L334.9 518.0L338.9 522.5L343.5 526.5L352.5 533.0L372.0 552.9L384.0 563.9L390.0 568.2L399.0 572.6L424.2 581.0L438.0 589.3L444.0 592.2L454.5 595.3L465.0 595.6L472.5 594.1L477.0 592.3L491.7 584.0L498.6 581.0L523.5 574.3L529.5 571.6L534.0 568.1L544.5 558.5L553.5 553.7L558.0 550.4L567.6 539.0L579.0 528.7L583.2 524.0L591.8 510.5L597.8 498.5L602.3 486.5L608.3 467.0L611.4 453.5L613.3 441.5L614.0 429.5L613.0 413.0L610.4 395.0L608.8 368.0L606.5 360.5L603.8 356.0L595.5 345.6L589.0 336.5L573.0 321.6L564.8 308.0L561.7 303.5L558.0 299.7L553.5 296.5L538.5 288.5L522.0 275.6L514.5 272.5L504.0 271.1L480.0 271.3L450.0 268.6Z"/>
<path fill="#ffff7e" d="M418.5 174.5L439.5 173.9L480.0 176.2L516.0 175.9L528.0 176.8L537.0 178.5L549.0 182.8L583.5 199.8L592.5 205.6L618.0 224.4L634.6 237.5L648.5 251.0L667.2 273.5L678.0 290.0L683.2 300.5L687.3 311.0L694.2 335.0L700.9 356.0L704.1 369.5L706.8 387.5L708.5 411.5L707.8 431.0L700.6 477.5L696.5 497.0L689.4 521.0L680.3 543.5L668.8 566.0L663.0 575.5L657.0 584.0L649.5 593.0L626.4 618.5L619.5 625.4L612.0 630.8L595.5 639.5L577.5 651.5L570.0 655.1L538.5 667.8L517.5 674.5L493.5 683.8L486.0 685.8L477.0 687.2L462.0 688.1L444.0 687.5L430.5 685.6L418.5 682.2L390.0 670.9L367.5 659.7L348.0 651.1L316.5 633.8L307.5 627.4L301.6 621.5L295.3 614.0L276.0 587.0L257.2 567.5L250.5 557.2L236.4 524.0L227.3 500.0L221.6 480.5L218.5 462.5L216.5 432.5L216.1 407.0L217.4 387.5L220.6 368.0L226.7 345.5L235.2 323.0L244.9 303.5L258.1 282.5L275.3 260.0L294.5 239.0L313.5 222.0L337.5 203.9L357.0 192.4L369.0 186.7L379.5 182.4L397.5 177.3ZM429.0 267.3L418.5 269.0L411.0 271.7L406.5 274.3L394.5 282.9L372.0 294.3L366.0 298.7L346.1 315.5L340.5 321.3L336.0 327.3L330.6 336.5L325.0 348.5L315.1 374.0L310.6 389.0L308.2 402.5L307.1 416.0L307.2 431.0L308.2 447.5L310.3 458.0L317.9 477.5L322.9 495.5L325.9 504.5L331.6 516.5L337.6 524.0L352.5 535.7L372.0 555.8L383.6 566.0L390.0 570.5L400.5 575.2L421.5 582.1L438.3 591.5L445.5 594.8L456.0 597.4L465.0 597.5L471.0 596.4L477.0 594.3L492.0 586.1L498.0 583.4L523.5 576.3L531.0 572.9L543.8 561.5L555.0 555.1L559.5 551.7L568.9 540.5L582.0 528.5L588.7 519.5L597.1 504.5L603.3 489.5L610.6 465.5L614.9 444.5L615.9 434.0L615.7 422.0L614.7 410.0L611.9 389.0L610.8 369.5L609.2 362.0L606.0 355.8L590.5 335.0L577.5 323.2L574.5 319.9L565.2 305.0L561.7 300.5L555.0 295.0L540.0 286.9L526.5 276.3L522.0 273.4L514.6 270.5L507.0 269.4L480.0 269.4L448.5 266.6Z"/>
<path fill="#ffff39" d="M423.7 177.5L445.5 177.3L481.5 179.6L517.5 179.3L528.0 180.2L537.0 182.0L549.0 186.5L582.0 202.9L591.0 208.8L619.8 230.0L636.0 243.6L651.0 259.3L667.3 279.5L672.2 287.0L677.3 296.0L681.5 305.0L684.9 314.0L697.8 357.5L701.2 372.5L703.9 392.0L705.2 414.5L704.4 432.5L697.3 477.5L692.8 498.5L685.5 522.1L676.7 543.5L665.0 566.0L654.0 582.5L623.2 617.0L617.1 623.0L610.5 627.7L592.5 637.4L576.0 648.6L568.5 652.2L541.5 663.2L516.0 671.5L496.5 679.3L486.0 682.4L475.5 684.1L460.5 684.9L442.5 684.1L430.5 682.2L418.5 678.7L390.0 667.2L369.0 656.8L349.5 648.2L318.0 630.7L309.4 624.5L303.5 618.5L297.3 611.0L279.0 585.5L260.1 566.0L253.3 555.5L249.1 546.5L238.7 521.0L229.8 497.0L224.3 477.5L221.5 459.5L219.5 426.5L219.4 404.0L221.0 384.5L224.7 365.0L231.2 342.5L240.0 320.4L250.5 300.5L264.0 279.7L280.8 258.5L299.2 239.0L319.5 221.4L342.0 205.1L363.0 193.3L374.6 188.0L384.0 184.4L402.0 179.9ZM439.5 264.5L429.0 265.2L420.0 266.5L414.0 268.1L408.0 270.8L393.4 281.0L376.5 289.2L367.9 294.5L344.7 314.0L336.5 323.0L329.9 333.5L324.1 345.5L313.9 371.0L309.2 386.0L306.7 398.0L305.3 411.5L304.9 425.0L305.7 443.0L306.8 452.0L308.1 458.0L315.7 477.5L323.2 503.0L328.5 515.3L331.5 520.1L334.8 524.0L351.4 537.5L365.5 552.5L373.4 560.0L382.5 567.8L388.5 572.0L399.0 576.8L421.5 584.4L438.0 593.6L445.5 597.0L454.5 599.3L463.5 599.7L469.5 598.9L474.0 597.6L480.0 595.1L492.0 588.4L498.0 585.6L523.5 578.4L531.0 575.3L535.5 572.0L545.4 563.0L556.5 556.7L560.2 554.0L570.5 542.0L580.6 533.0L584.8 528.5L592.1 518.0L599.4 504.5L604.4 492.5L609.9 476.0L613.8 461.0L617.0 444.5L618.0 432.5L617.7 419.0L613.8 387.5L612.6 368.0L611.8 363.5L610.3 359.0L607.5 354.3L593.4 335.0L589.5 330.7L580.5 322.9L576.3 318.5L565.6 302.0L561.0 296.8L555.8 293.0L540.0 284.3L525.0 272.7L520.5 270.3L516.0 268.7L505.5 267.1L481.5 267.3L454.5 264.7Z"/>
<path fill="#fff900" d="M433.2 180.5L450.0 180.8L480.0 182.9L517.5 182.7L526.9 183.5L537.0 185.6L549.0 190.2L582.0 206.9L591.0 213.0L621.9 236.0L637.5 250.0L654.6 269.0L667.1 285.5L675.7 300.5L682.5 317.1L695.2 360.5L698.6 377.0L701.1 398.0L701.9 419.0L700.8 435.5L693.8 479.0L688.6 501.5L681.3 524.0L672.4 545.0L661.1 566.0L655.3 575.0L649.7 582.5L621.0 614.4L615.0 620.3L607.5 625.6L591.0 634.4L574.5 645.6L567.0 649.3L541.5 659.6L514.5 668.6L495.0 676.4L484.5 679.4L472.5 681.1L457.5 681.6L442.5 680.8L430.5 678.8L418.5 675.1L390.0 663.5L370.5 653.9L351.3 645.5L321.0 628.5L311.3 621.5L306.0 616.2L299.2 608.0L281.9 584.0L263.0 564.5L256.2 554.0L252.0 545.0L241.5 519.2L231.8 492.5L227.0 474.5L224.2 453.5L222.6 422.0L222.8 401.0L224.8 381.5L229.2 360.5L236.3 338.0L245.3 317.0L257.0 296.0L271.5 275.0L288.0 255.2L306.0 237.1L328.5 218.7L339.0 211.2L349.6 204.5L372.0 192.9L381.0 189.1L390.0 186.1L399.0 183.9L410.7 182.0ZM430.5 262.9L420.0 264.3L411.0 266.9L405.0 270.2L391.6 279.5L370.5 290.2L363.0 295.6L343.5 312.3L338.8 317.0L334.0 323.0L326.7 335.0L320.5 348.5L311.6 371.0L307.0 386.0L304.1 401.0L303.1 413.0L302.9 426.5L304.0 447.5L305.5 456.5L306.9 461.0L313.5 477.6L322.0 506.0L327.7 518.0L330.8 522.5L334.5 526.5L349.9 539.0L363.0 553.1L370.5 560.3L381.0 569.3L388.5 574.4L397.5 578.5L421.5 586.7L436.5 595.1L445.5 599.2L456.0 601.5L465.0 601.7L471.0 600.7L478.5 598.0L498.0 587.9L525.0 580.1L532.5 576.8L536.9 573.5L546.0 565.2L557.7 558.5L561.8 555.5L572.0 543.5L582.0 534.6L586.5 529.8L594.6 518.0L601.8 504.5L607.8 489.5L613.8 470.0L617.0 456.5L619.8 438.5L620.1 425.0L619.1 411.5L616.0 387.5L614.4 366.5L613.9 363.5L611.8 357.5L609.2 353.0L595.1 333.5L591.0 329.0L579.0 318.1L575.8 314.0L567.1 300.5L561.0 294.0L556.5 290.9L541.5 282.6L525.0 270.2L522.0 268.6L516.0 266.4L505.5 265.0L478.5 265.0L451.5 262.4Z"/>
<path fill="#ffd800" d="M424.2 186.5L445.5 186.3L481.5 188.5L516.0 188.3L525.0 189.0L534.0 190.7L546.0 195.0L577.5 211.0L586.5 216.9L610.5 234.3L628.4 249.5L644.1 266.0L658.9 284.0L664.0 291.5L669.2 300.5L674.3 311.0L677.7 320.0L688.9 359.0L692.3 374.0L695.0 393.5L696.3 416.0L695.4 434.0L688.8 476.0L684.1 497.0L677.0 519.5L669.0 539.0L657.0 561.9L646.5 577.4L616.5 610.8L611.7 615.5L604.5 620.7L588.0 629.6L571.3 641.0L564.0 644.6L539.3 654.5L514.5 662.6L493.5 671.0L483.1 674.0L473.5 675.5L459.0 676.1L444.0 675.3L432.0 673.4L420.0 669.7L391.5 658.0L372.0 648.6L354.0 640.7L324.0 623.7L315.0 617.1L304.0 605.0L286.4 581.0L268.5 562.7L261.5 552.5L257.2 543.5L248.1 521.0L237.7 492.5L233.0 476.0L230.0 458.0L228.3 428.0L228.1 405.5L229.7 386.0L233.4 366.5L240.1 344.0L248.7 323.0L259.5 302.6L271.5 284.2L288.0 263.4L305.8 245.0L325.1 228.5L346.2 213.5L367.7 201.5L377.1 197.0L387.0 193.1L403.5 188.9ZM426.0 259.9L415.5 261.7L408.0 264.5L391.5 275.3L375.0 283.5L367.5 287.9L360.0 293.6L340.5 310.5L334.4 317.0L329.0 324.5L322.3 336.5L315.6 351.5L307.5 372.5L303.0 388.1L300.8 401.0L299.6 416.0L299.8 432.5L300.9 449.0L303.4 461.0L310.9 480.5L318.0 504.4L324.0 518.3L327.0 523.0L330.4 527.0L346.5 540.5L364.5 559.6L381.0 573.5L385.5 576.5L391.5 579.6L420.0 589.9L438.0 599.6L445.5 602.7L456.0 604.9L466.5 604.9L472.5 603.7L478.5 601.6L499.5 591.0L526.5 583.2L534.6 579.5L548.7 567.5L559.5 561.5L564.0 558.3L574.5 546.1L588.0 533.4L595.0 524.0L604.2 507.5L611.3 489.5L618.4 465.5L622.4 444.5L623.5 432.5L623.2 419.0L622.1 407.0L619.2 386.0L617.8 368.0L616.0 359.0L612.0 351.1L597.0 330.2L580.3 314.0L567.0 295.0L561.0 289.7L544.5 280.4L525.0 266.3L516.6 263.0L507.0 261.6L480.0 261.6L447.0 258.9L436.5 259.0Z"/>
<path fill="#ffc500" d="M418.3 195.5L432.0 194.3L445.5 194.0L480.0 195.6L516.0 194.9L531.0 196.6L538.5 198.7L544.5 201.2L571.5 214.8L582.0 221.2L600.0 233.9L616.1 246.5L631.6 261.5L651.4 284.0L657.0 291.7L662.4 300.5L669.2 314.0L674.2 327.5L684.2 365.0L688.3 389.0L689.9 411.5L689.3 431.0L682.8 470.0L678.5 489.5L671.5 512.0L663.0 532.8L651.1 555.5L640.5 571.4L610.5 604.9L605.7 609.5L599.5 614.0L583.5 622.7L567.0 634.1L559.5 637.7L539.7 645.5L511.5 654.8L490.5 663.5L481.5 666.1L472.5 667.6L459.0 668.4L444.0 667.7L432.0 665.8L421.5 662.6L393.0 651.3L357.0 635.5L328.5 619.3L319.5 612.9L314.4 608.0L308.0 600.5L291.0 577.9L273.3 560.0L266.1 549.5L261.8 540.5L254.6 522.5L243.6 492.5L238.4 474.5L235.8 459.5L234.2 434.0L233.9 410.0L235.1 392.0L238.1 374.0L244.0 353.0L251.5 333.5L261.0 314.4L273.0 295.1L286.5 277.5L301.5 261.4L321.0 243.9L340.5 229.2L361.1 216.5L385.5 203.8L400.5 198.7ZM436.5 254.0L420.0 255.2L408.0 258.2L402.0 261.2L387.5 270.5L370.5 279.1L361.5 285.0L355.5 290.0L337.5 306.3L329.5 315.5L321.9 327.5L315.4 341.0L305.3 366.5L300.3 383.0L297.6 396.5L296.2 411.5L296.1 426.5L297.0 444.5L298.1 453.5L299.8 461.0L307.3 480.5L315.6 507.5L321.7 521.0L324.7 525.5L328.5 529.7L343.5 542.4L358.2 558.5L364.4 564.5L377.1 575.0L384.0 579.9L393.0 584.3L418.5 593.8L435.0 602.9L442.5 606.3L453.0 609.2L459.0 609.9L465.0 609.8L471.0 609.0L477.0 607.3L499.5 596.4L528.0 587.8L535.5 584.6L540.0 581.6L551.1 572.0L562.5 565.7L567.0 562.5L578.4 549.5L592.6 536.0L600.0 525.5L608.2 510.5L613.7 497.0L619.0 480.5L623.4 462.5L626.6 443.0L627.5 431.0L626.9 416.0L622.7 384.5L620.8 365.0L619.6 359.0L618.0 354.5L615.0 349.3L600.8 329.0L596.7 324.5L584.0 312.5L571.5 294.9L565.5 288.6L561.0 285.4L545.5 276.5L528.0 263.8L523.5 261.3L517.5 259.2L507.0 257.7L481.5 257.4L453.0 254.4Z"/>
<path fill="#ffba00" d="M429.2 195.5L448.5 195.0L481.5 196.4L514.5 195.6L523.5 196.1L532.5 197.7L544.5 201.9L573.0 216.4L583.5 223.0L607.5 240.2L624.9 255.5L645.0 277.3L656.1 291.5L664.9 306.5L669.2 315.5L672.6 324.5L682.5 360.5L686.2 378.5L688.5 398.0L689.2 419.0L688.1 435.5L681.2 474.5L676.4 494.0L669.0 516.1L660.0 536.8L648.1 558.5L637.5 573.5L610.4 603.5L604.5 609.2L598.5 613.4L583.5 621.5L565.5 633.8L558.0 637.3L538.5 644.9L511.5 653.7L489.0 663.0L478.5 665.7L468.0 667.1L454.5 667.4L441.0 666.5L430.5 664.5L420.0 661.1L393.0 650.5L357.0 634.8L327.0 617.7L318.3 611.0L307.6 599.0L291.0 577.0L273.0 558.8L266.0 548.0L261.8 539.0L252.9 516.5L242.7 488.0L238.0 470.0L235.8 453.5L234.5 425.0L234.7 404.0L236.6 386.0L240.3 368.0L246.8 347.0L255.1 327.5L265.7 308.0L278.9 288.5L292.5 272.2L309.5 255.5L327.6 240.5L351.0 224.4L377.9 209.0L390.8 203.0L400.2 200.0L408.0 198.2ZM426.0 253.9L417.0 254.9L406.5 257.9L399.0 262.0L388.5 268.8L367.5 279.7L357.0 287.5L340.5 302.6L333.0 310.2L326.7 318.5L319.5 330.9L312.9 345.5L303.8 369.5L299.1 386.0L296.8 399.5L295.7 414.5L295.8 429.5L297.1 449.0L298.3 456.5L300.0 462.5L306.9 480.5L315.0 506.9L321.0 520.4L327.0 528.7L343.5 542.9L362.2 563.0L376.5 575.0L385.5 581.2L394.5 585.3L418.5 594.3L439.5 605.6L445.5 607.9L453.0 609.7L460.5 610.5L468.0 610.1L475.5 608.4L480.0 606.7L499.5 597.1L526.5 589.0L537.0 584.5L552.1 572.0L562.5 566.4L567.0 563.3L579.0 549.8L589.5 540.2L594.6 534.5L603.5 521.0L610.9 506.0L616.4 491.0L621.5 473.0L625.3 455.0L627.5 438.5L627.8 425.0L626.6 408.5L623.1 384.5L620.9 363.5L619.5 357.5L617.6 353.0L600.0 327.5L584.5 312.5L571.5 294.3L564.0 287.0L546.0 276.4L527.5 263.0L522.0 260.3L516.3 258.5L505.5 257.2L480.0 256.9L448.5 253.6L436.5 253.3Z"/>
<path fill="#ff9400" d="M499.6 200.0L519.0 199.6L525.8 200.0L533.4 201.5L545.4 206.0L573.0 220.1L598.5 237.2L612.3 248.0L627.8 263.0L647.8 285.5L658.2 300.5L667.3 318.5L671.5 330.5L678.9 359.0L682.5 375.9L684.5 390.5L685.7 408.5L685.0 429.5L682.3 446.0L677.2 470.0L673.7 483.5L666.0 506.0L656.9 527.0L646.4 546.5L635.8 563.0L628.5 572.0L615.8 585.5L601.5 601.8L595.5 606.5L580.5 614.7L566.9 624.5L559.5 628.8L534.0 638.6L510.0 646.2L487.5 655.8L477.0 658.8L465.0 660.6L451.5 661.0L438.0 660.1L424.5 657.1L397.5 647.7L361.9 633.5L354.0 629.7L328.5 614.9L321.3 609.5L315.3 603.5L307.8 594.5L294.2 576.5L279.0 561.4L273.0 554.3L266.1 542.0L255.9 516.5L245.7 488.0L240.9 470.0L238.7 453.5L237.4 425.0L237.7 405.5L239.6 387.5L241.5 377.2L244.5 365.5L250.5 348.4L259.5 329.0L271.5 309.0L283.5 292.9L297.0 278.2L312.0 264.7L334.5 247.1L352.5 235.1L384.0 216.5L394.5 211.4L405.0 207.7L421.5 204.1L439.5 201.8L453.0 201.2L480.0 201.2ZM421.5 249.4L411.0 250.9L402.0 254.0L385.5 263.7L369.3 272.0L362.1 276.5L352.7 284.0L336.0 300.2L330.0 306.8L324.0 315.2L317.3 327.5L311.4 341.0L301.7 368.0L297.6 383.0L294.9 398.0L293.8 414.5L294.0 428.0L295.3 449.0L296.5 456.5L298.1 462.5L305.1 480.5L313.5 507.5L319.4 521.0L322.2 525.5L326.0 530.0L342.0 543.9L361.5 564.9L378.0 578.6L385.5 583.5L394.5 587.6L417.0 596.6L439.5 609.2L447.0 612.1L454.5 613.8L462.0 614.5L469.5 614.0L480.0 611.2L501.0 601.3L529.5 592.5L538.5 588.5L543.0 585.4L553.5 576.3L565.5 569.7L570.7 566.0L581.3 554.0L594.0 542.2L599.3 536.0L607.5 522.9L614.8 507.5L619.9 492.5L624.9 473.0L628.2 453.5L630.0 437.0L629.7 419.0L627.9 402.5L625.0 384.5L622.7 363.5L621.4 357.5L618.8 351.5L602.4 327.5L598.4 323.0L585.7 311.0L572.8 293.0L568.7 288.5L565.1 285.5L546.0 274.0L528.0 260.9L522.0 257.9L517.5 256.5L505.5 254.8L479.7 254.0L445.5 249.4L433.5 249.0Z"/>
<path fill="#ff6700" d="M498.8 206.0L517.5 205.0L525.0 205.5L532.5 206.8L544.5 211.0L571.5 224.5L595.5 240.0L609.7 251.0L625.1 266.0L645.0 288.2L652.7 299.0L660.9 314.0L666.0 325.9L669.5 338.0L676.2 366.5L679.3 387.5L680.5 410.0L680.3 420.5L679.3 431.0L675.4 450.5L667.3 482.0L659.7 503.0L650.3 524.0L637.8 546.5L628.7 560.0L596.6 596.0L591.0 600.5L576.0 608.8L562.5 618.6L554.8 623.0L530.6 632.0L508.5 638.8L486.0 648.8L475.5 651.8L463.5 653.6L450.0 654.0L438.0 653.1L430.5 651.7L421.5 649.2L394.5 640.4L364.5 629.3L355.5 625.2L331.5 611.7L324.3 606.5L318.1 600.5L296.3 573.5L282.3 560.0L277.0 554.0L273.0 548.0L270.0 542.3L262.4 524.0L250.4 491.0L244.9 471.5L242.5 455.0L241.6 432.5L241.7 413.0L243.2 395.0L246.8 377.0L253.0 357.5L261.8 338.0L272.2 320.0L285.0 302.1L298.5 286.8L307.5 278.4L328.5 262.5L348.0 249.0L388.5 224.3L397.5 219.5L408.0 215.5L420.5 212.0L438.0 209.3L453.0 208.2L480.0 207.6ZM411.0 244.8L403.5 246.6L396.6 249.5L367.5 265.2L357.0 272.0L346.8 281.0L331.5 297.2L325.5 305.0L318.9 315.5L312.0 329.4L305.7 345.5L298.2 368.0L293.9 386.0L291.9 401.0L291.3 416.0L292.0 435.5L293.8 453.5L295.9 462.5L303.3 482.0L310.8 506.0L314.2 515.0L318.0 522.7L324.0 530.9L340.0 545.0L354.6 561.5L360.5 567.5L375.0 579.7L383.4 585.5L391.5 589.6L417.0 600.7L439.5 613.5L447.0 616.3L456.0 618.2L463.5 618.8L472.5 618.0L483.0 614.9L502.5 605.9L534.0 595.7L543.0 591.0L556.5 579.8L568.5 573.4L574.5 569.0L585.3 557.0L599.6 543.5L607.5 532.6L615.9 516.5L623.0 497.0L629.1 471.5L632.7 446.0L633.5 432.5L632.7 417.5L625.0 363.5L623.3 356.0L620.7 350.0L606.5 329.0L601.5 322.8L586.5 308.2L571.9 288.5L565.5 282.9L549.0 272.8L532.5 260.6L526.8 257.0L519.8 254.0L511.5 252.2L480.0 250.3L448.5 245.5L426.0 243.9Z"/>
<path fill="#ff3a00" d="M497.9 212.0L517.5 210.7L525.0 211.1L531.0 212.1L543.0 216.2L568.5 228.7L591.0 242.8L604.5 252.9L618.2 266.0L641.4 291.5L649.5 303.1L657.1 317.0L662.2 329.0L665.5 341.0L671.4 368.0L674.2 389.0L675.1 411.5L673.6 431.0L671.7 441.5L667.5 458.4L662.4 474.5L653.4 497.0L642.0 520.5L633.0 536.3L621.9 552.5L615.8 560.0L601.9 575.0L594.0 584.9L589.1 590.0L582.8 594.5L570.0 601.6L557.5 611.0L552.0 614.2L532.5 621.5L505.5 629.6L488.5 638.0L481.0 641.0L471.0 643.7L459.0 645.4L447.0 645.7L435.0 644.8L424.5 642.6L399.0 635.5L367.5 624.9L358.5 621.0L334.5 607.7L328.5 603.5L322.0 597.5L315.0 589.6L300.9 572.0L285.4 557.0L280.2 551.0L276.3 545.0L273.2 539.0L265.5 519.9L253.7 486.5L249.1 470.0L247.0 455.0L246.2 432.5L246.5 413.0L248.2 396.5L251.9 378.5L258.0 360.4L267.0 341.1L276.4 326.0L290.5 308.0L306.0 292.0L312.0 287.8L334.5 276.1L334.9 276.5L325.9 290.0L314.2 311.0L309.8 320.0L306.0 329.6L296.2 362.0L292.4 377.0L289.9 390.5L288.6 404.0L288.4 417.5L289.0 432.5L290.4 449.0L292.3 459.5L300.5 482.0L310.8 513.5L314.9 522.5L319.8 530.0L324.0 534.5L337.6 546.5L357.0 568.3L378.0 585.7L387.0 590.9L414.1 603.5L438.0 618.8L445.5 622.0L454.5 624.3L466.5 625.3L472.5 624.8L478.5 623.6L486.0 621.0L504.9 612.5L522.0 607.3L535.5 602.5L544.5 598.2L560.6 585.5L576.0 577.0L582.9 570.5L591.0 561.3L604.1 549.5L610.2 542.0L613.1 537.5L618.7 527.0L624.5 513.5L628.3 501.5L631.3 489.5L633.7 476.0L635.1 464.0L636.8 440.0L636.7 426.5L634.9 408.5L627.7 363.5L626.1 356.0L623.8 350.0L620.2 344.0L606.8 324.5L602.8 320.0L589.5 307.1L577.5 290.8L573.0 285.5L567.0 280.4L550.5 270.1L534.0 257.9L526.5 253.2L520.5 250.8L514.5 249.2L483.0 246.3L447.0 238.9L415.5 234.7L400.3 234.5L408.0 229.8L418.5 224.4L426.0 221.0L431.8 219.5L450.0 216.7Z"/>
<path fill="#ff0d00" d="M516.5 218.0L523.5 218.0L531.0 218.9L538.5 221.0L546.1 224.0L570.0 235.8L586.5 245.9L595.5 252.1L609.5 264.5L636.0 293.0L644.7 305.0L653.7 321.5L657.0 329.0L659.9 338.0L666.1 368.0L668.5 389.0L668.6 410.0L667.5 422.0L665.8 432.5L658.5 458.1L652.7 468.5L645.0 480.7L644.4 479.0L642.0 456.5L642.7 437.0L641.6 422.0L639.2 407.0L633.5 380.0L629.2 356.0L627.7 351.5L624.7 345.5L610.6 324.5L605.6 318.5L591.8 305.0L579.5 288.5L573.0 281.4L565.5 275.7L552.0 267.1L529.5 249.9L522.0 246.1L514.5 243.8L481.3 239.0L465.3 231.5L463.2 230.0L484.9 222.5L505.5 219.1ZM295.0 324.5L295.5 324.1L295.8 324.5L295.9 326.0L294.1 345.5L288.4 369.5L285.6 389.0L284.9 407.0L285.9 431.0L287.5 449.0L289.8 461.0L298.5 484.7L305.7 507.5L310.4 519.5L314.4 527.0L318.8 533.0L335.2 548.0L350.5 566.0L358.5 574.1L379.5 591.6L416.4 612.5L434.1 629.0L433.5 629.7L415.5 629.9L411.0 629.4L394.5 625.8L372.0 620.0L359.8 615.5L337.7 603.5L331.5 599.2L325.5 593.7L304.5 569.0L287.3 552.5L281.6 545.0L276.9 536.0L264.0 502.4L256.7 480.5L253.6 468.5L252.0 458.0L251.3 446.0L251.1 425.0L251.9 410.0L253.5 397.4L256.7 384.5L261.0 372.1L267.0 359.0L272.7 348.5L279.0 338.6Z"/>
<path fill="#f60000" d="M523.5 231.5L534.0 231.6L547.5 234.5L567.0 243.7L587.7 255.5L595.8 261.5L604.5 269.6L628.0 294.5L636.0 304.5L643.4 317.0L650.0 330.5L653.0 339.5L655.4 351.5L658.5 374.1L659.3 390.5L657.4 404.0L654.0 418.2L652.5 418.4L643.5 394.1L640.5 382.7L635.1 357.5L632.9 350.0L629.2 342.5L616.5 323.6L610.0 315.5L595.1 300.5L582.7 284.0L577.5 278.1L571.5 273.0L556.5 262.5L545.4 254.0L528.8 239.0L519.3 233.0L520.5 232.1ZM273.8 377.0L274.5 376.0L275.8 377.0L276.0 378.0L278.3 399.5L280.3 429.5L282.3 447.5L284.1 458.0L286.2 465.5L294.0 485.6L302.2 510.5L307.7 524.0L311.0 530.0L314.3 534.5L331.5 551.4L350.8 575.0L369.3 591.5L387.3 609.5L375.0 609.3L364.5 607.6L361.5 606.6L346.3 599.0L337.5 593.8L328.5 586.0L309.0 564.5L292.6 549.5L287.8 543.5L283.4 536.0L274.2 513.5L263.2 480.5L259.8 467.0L258.4 455.0L258.6 426.5L261.0 404.7L262.5 397.9L264.4 393.5L269.1 384.5Z"/>
<path fill="#e90000" d="M274.1 467.0L274.5 465.6L274.9 468.5L274.5 469.5ZM274.9 470.0L276.0 469.5L283.4 486.5L295.9 521.0L300.0 530.6L306.1 540.5L315.7 551.0L315.0 551.8L306.2 545.0L301.5 540.5L296.9 534.5L292.7 527.0L288.3 516.5L283.6 503.0L276.3 477.5ZM316.0 552.5L316.5 552.0L316.9 552.5L316.5 552.9ZM318.0 554.0L318.0 554.0L318.0 554.0L318.0 554.0Z"/>
</g></g>
<g filter="url(#tb)"><rect x="99.3" y="47" width="730.7" height="759" fill="none" stroke="#929292" stroke-width="2.8"/>
<path d="M281 806v-9M463.5 806v-9M646.5 806v-9M99.3 236h9M99.3 426.5h9M99.3 616.5h9" stroke="#8c8c8c" stroke-width="2" fill="none"/>
<g font-size="20.5" fill="#6e6e6e" stroke="#6e6e6e" stroke-width=".4">
<text x="93" y="53.5" text-anchor="end">2.00</text>
<text x="93" y="243.5" text-anchor="end">y[mm]</text>
<text x="93" y="434" text-anchor="end">0.00</text>
<text x="93" y="807" text-anchor="end">-2.00</text>
<text x="96" y="832" text-anchor="middle">-2.00</text>
<text x="463" y="832" text-anchor="middle">0.00</text>
<text x="646.5" y="832" text-anchor="middle">x[mm]</text>
<text x="828" y="832" text-anchor="middle">2.00</text>
</g>
<g class="cb">
<rect x="832" y="67.5" width="14" height="247.5" fill="#777"/>
<rect x="833" y="68.50" width="12" height="22.32" fill="#cc0000"/>
<rect x="833" y="90.82" width="12" height="22.32" fill="#ff0000"/>
<rect x="833" y="113.14" width="12" height="22.32" fill="#ffb400"/>
<rect x="833" y="135.45" width="12" height="22.32" fill="#ffff00"/>
<rect x="833" y="157.77" width="12" height="22.32" fill="#ffff99"/>
<rect x="833" y="180.09" width="12" height="22.32" fill="#99ffff"/>
<rect x="833" y="202.41" width="12" height="22.32" fill="#33ffff"/>
<rect x="833" y="224.73" width="12" height="22.32" fill="#00eeee"/>
<rect x="833" y="247.05" width="12" height="22.32" fill="#0099ff"/>
<rect x="833" y="269.36" width="12" height="22.32" fill="#0000ff"/>
<rect x="833" y="291.68" width="12" height="22.32" fill="#0000cc"/>
<rect x="833" y="89.72" width="12" height="2.2" fill="#111"/>
<rect x="833" y="112.04" width="12" height="2.2" fill="#111"/>
<rect x="833" y="134.35" width="12" height="2.2" fill="#111"/>
<rect x="833" y="156.67" width="12" height="2.2" fill="#111"/>
<rect x="833" y="178.99" width="12" height="2.2" fill="#111"/>
<rect x="833" y="201.31" width="12" height="2.2" fill="#111"/>
<rect x="833" y="223.63" width="12" height="2.2" fill="#111"/>
<rect x="833" y="245.95" width="12" height="2.2" fill="#111"/>
<rect x="833" y="268.26" width="12" height="2.2" fill="#111"/>
<rect x="833" y="290.58" width="12" height="2.2" fill="#111"/>
<text x="876.5" y="85.6" font-size="16.6" text-anchor="end" fill="#6e6e6e" stroke="#6e6e6e" stroke-width=".35">100</text>
<text x="876.5" y="107.9" font-size="16.6" text-anchor="end" fill="#6e6e6e" stroke="#6e6e6e" stroke-width=".35">90</text>
<text x="876.5" y="130.2" font-size="16.6" text-anchor="end" fill="#6e6e6e" stroke="#6e6e6e" stroke-width=".35">80</text>
<text x="876.5" y="152.6" font-size="16.6" text-anchor="end" fill="#6e6e6e" stroke="#6e6e6e" stroke-width=".35">70</text>
<text x="876.5" y="174.9" font-size="16.6" text-anchor="end" fill="#6e6e6e" stroke="#6e6e6e" stroke-width=".35">60</text>
<text x="876.5" y="197.2" font-size="16.6" text-anchor="end" fill="#6e6e6e" stroke="#6e6e6e" stroke-width=".35">50</text>
<text x="876.5" y="219.5" font-size="16.6" text-anchor="end" fill="#6e6e6e" stroke="#6e6e6e" stroke-width=".35">40</text>
<text x="876.5" y="241.8" font-size="16.6" text-anchor="end" fill="#6e6e6e" stroke="#6e6e6e" stroke-width=".35">30</text>
<text x="876.5" y="264.1" font-size="16.6" text-anchor="end" fill="#6e6e6e" stroke="#6e6e6e" stroke-width=".35">20</text>
<text x="876.5" y="286.5" font-size="16.6" text-anchor="end" fill="#6e6e6e" stroke="#6e6e6e" stroke-width=".35">10</text>
<text x="876.5" y="308.8" font-size="16.6" text-anchor="end" fill="#6e6e6e" stroke="#6e6e6e" stroke-width=".35">0</text>
<text x="876.5" y="63.5" font-size="16.6" text-anchor="end" fill="#6e6e6e" stroke="#6e6e6e" stroke-width=".35">%</text>
</g></g>
</g>
<g id="pb">
<pattern id="pb1" width="7.56" height="6.03" patternUnits="userSpaceOnUse"><rect width="7.56" height="6.03" fill="#5a5ab0"/><rect x="1.4" y="1.2" width="4.0" height="3.1" fill="#0808e4"/></pattern>
<filter id="fb1" x="-2%" y="-4%" width="104%" height="108%"><feTurbulence type="fractalNoise" baseFrequency="0.09" numOctaves="2" seed="2" result="n"/><feDisplacementMap in="SourceGraphic" in2="n" scale="3" xChannelSelector="R" yChannelSelector="G"/><feGaussianBlur stdDeviation="1.0"/></filter>
<path d="M984.5 728.5L1588.9 728.5L1828.9 487.3L1224.5 487.3Z" fill="url(#pb1)" filter="url(#fb1)"/>
<filter id="sbb" x="-3%" y="-3%" width="106%" height="106%"><feGaussianBlur stdDeviation="1.0"/></filter>
<g stroke="#787878" stroke-width="1.6" stroke-linejoin="round" filter="url(#sbb)">
<path fill="#0000e6" d="M1584.2 502.3l7.6 0.6 6-3.5-7.6 0zM1591.8 502.9l7.6 2.5 6-6-7.6 0zM1585.8 510.1l7.6-1.3 6-3.4-7.6-2.5zM1593.4 508.8l7.5 0.2 6-3.6-7.5 0zM1600.9 509l7.6-0.2 6-3.4-7.6 0zM1608.5 508.8l7.5-0.6 6-2.8-7.5 0zM1616 508.2l7.6 3.2 6-6-7.6 0zM1579.8 513.9l7.6 1.1 6-6.2-7.6 1.3zM1587.4 515l7.5-0.5 6-5.5-7.5-0.2zM1594.9 514.5l7.6 0.3 6-6-7.6 0.2zM1602.5 514.8l7.5-0.3 6-6.3-7.5 0.6zM1610 514.5l7.6 0.6 6-3.7-7.6-3.2zM1617.6 515.1l7.5 0.6 6-4.3-7.5 0zM1625.1 515.7l7.6-0.2 6-4.1-7.6 0zM1632.7 515.5l7.5 1.9 6-6-7.5 0zM1581.4 516.9l7.5 2.5 6-4.9-7.5 0.5zM1588.9 519.4l7.6-1.7 6-2.9-7.6-0.3zM1596.5 517.7l7.5 1 6-4.2-7.5 0.3zM1604 518.7l7.6 0.7 6-4.3-7.6-0.6zM1611.6 519.4l7.5 1 6-4.7-7.5-0.6zM1619.1 520.4l7.6 0.8 6-5.7-7.6 0.2zM1626.7 521.2l7.5 0.6 6-4.4-7.5-1.9zM1634.2 521.8l7.6 0.9 6-5.3-7.6 0z"/>
<path fill="#0000ff" d="M1582.9 522.6l7.6 1.4 6-6.3-7.6 1.7zM1590.5 524l7.5 0.9 6-6.2-7.5-1z"/>
<path fill="#0000e6" d="M1598 524.9l7.6 0.2 6-5.7-7.6-0.7zM1605.6 525.1l7.5 0 6-4.7-7.5-1zM1613.1 525.1l7.6 1.2 6-5.1-7.6-0.8zM1620.7 526.3l7.5 0.4 6-4.9-7.5-0.6zM1628.2 526.7l7.6-0.3 6-3.7-7.6-0.9zM1635.8 526.4l7.6 0.9 6-3.8-7.6-0.8zM1643.4 527.3l7.5-0.3 6-3.5-7.5 0zM1650.9 527l7.6 0.3 6-3.8-7.6 0zM1658.5 527.3l7.5 2.2 6-6-7.5 0z"/>
<path fill="#0000ff" d="M1584.5 528.8l7.5-0.3 6-3.6-7.5-0.9zM1592 528.5l7.6 0.3 6-3.7-7.6-0.2zM1599.6 528.8l7.5 1 6-4.7-7.5 0zM1607.1 529.8l7.6 1.1 6-4.6-7.6-1.2z"/>
<path fill="#0000e6" d="M1614.7 530.9l7.5-0.6 6-3.6-7.5-0.4zM1622.2 530.3l7.6 2.4 6-6.3-7.6 0.3zM1629.8 532.7l7.6-1.4 6-4-7.6-0.9zM1637.4 531.3l7.5 0.5 6-4.8-7.5 0.3zM1644.9 531.8l7.6 1 6-5.5-7.6-0.3zM1652.5 532.8l7.5-1 6-2.3-7.5-2.2zM1660 531.8l7.6 3.7 6-6-7.6 0z"/>
<path fill="#858585" stroke-width="3.2" d="M1510.5 148l7.5 46.1 6 194-7.5-69.1z"/>
<path fill="#0000ff" d="M1586 531.6l7.6 1.5 6-4.3-7.6-0.3zM1593.6 533.1l7.5 0.1 6-3.4-7.5-1zM1601.1 533.2l7.6 2 6-4.3-7.6-1.1zM1608.7 535.2l7.5 0.4 6-5.3-7.5 0.6z"/>
<path fill="#0000e6" d="M1616.2 535.6l7.6 2.1 6-5-7.6-2.4zM1623.8 537.7l7.6 1 6-7.4-7.6 1.4zM1631.4 538.7l7.5-1.1 6-5.8-7.5-0.5zM1638.9 537.6l7.6 0.6 6-5.4-7.6-1zM1646.5 538.2l7.5 0.2 6-6.6-7.5 1zM1654 538.4l7.6 1.3 6-4.2-7.6-3.7zM1661.6 539.7l7.5-0.6 6-3.6-7.5 0zM1669.1 539.1l7.6 2.5 6-6.1-7.6 0z"/>
<path fill="#858585" stroke-width="3.2" d="M1360.9 126.7l7.6-5.7 6 5.7-7.6 1.6z"/>
<path fill="#ff4c00" d="M1368.5 121l7.5 20.2 6-1.9-7.5-12.6z"/>
<path fill="#ff2600" d="M1383.6 113l7.6 18.9 6-3.3-7.6-1.1zM1421.4 112.8l7.5 7.2 6-0.6-7.5-5.7z"/>
<path fill="#e60000" d="M1474.3 78.6l7.5 33.6 6-3.5-7.5-9.2z"/>
<path fill="#858585" stroke-width="3.2" d="M1504.5 101.7l7.5 35 6 57.4-7.5-46.1zM1512 136.7l7.6-8.8 6 92.1-7.6-25.9z"/>
<path fill="#0000ff" d="M1587.6 532.9l7.5 3 6-2.7-7.5-0.1zM1595.1 535.9l7.6 4 6-4.7-7.6-2zM1602.7 539.9l7.5-1.1 6-3.2-7.5-0.4zM1610.2 538.8l7.6 2 6-3.1-7.6-2.1z"/>
<path fill="#0000e6" d="M1617.8 540.8l7.6 2.5 6-4.6-7.6-1zM1625.4 543.3l7.5 1.3 6-7-7.5 1.1zM1632.9 544.6l7.6-1.9 6-4.5-7.6-0.6zM1640.5 542.7l7.5-0.2 6-4.1-7.5-0.2zM1648 542.5l7.6 2 6-4.8-7.6-1.3zM1655.6 544.5l7.5 0.7 6-6.1-7.5 0.6zM1663.1 545.2l7.6-0.7 6-2.9-7.6-2.5zM1670.7 544.5l7.5 3.1 6-6-7.5 0z"/>
<path fill="#ff2600" d="M1354.9 116.2l7.6 25.2 6-20.4-7.6 5.7z"/>
<path fill="#ff4c00" d="M1362.5 141.4l7.5 10.7 6-10.9-7.5-20.2zM1370 152.1l7.6-4.3 6-34.8-7.6 28.2z"/>
<path fill="#ff2600" d="M1377.6 147.8l7.6-1 6-14.9-7.6-18.9z"/>
<path fill="#ff4c00" d="M1385.2 146.8l7.5 7.6 6-35.5-7.5 13z"/>
<path fill="#ff2600" d="M1392.7 154.4l7.6 7.3 6-65.7-7.6 22.9zM1400.3 161.7l7.5-6.4 6-63.3-7.5 4zM1407.8 155.3l7.6-14.7 6-27.8-7.6-20.8zM1415.4 140.6l7.5-10.8 6-9.8-7.5-7.2z"/>
<path fill="#ff0000" d="M1422.9 129.8l7.6 0.2 6-29.7-7.6 19.7zM1430.5 130l7.5 3.6 6-27-7.5-6.3zM1438 133.6l7.6-8.2 6-28.9-7.6 10.1zM1445.6 125.4l7.5 8.4 6-21.2-7.5-16.1zM1453.1 133.8l7.6-12.4 6-37-7.6 28.2z"/>
<path fill="#e60000" d="M1460.7 121.4l7.6-20.6 6-22.2-7.6 5.8zM1468.3 100.8l7.5-7.6 6 19-7.5-33.6z"/>
<path fill="#ff0000" d="M1498.5 92.6l7.5 17.1 6 27-7.5-35z"/>
<path fill="#0000ff" d="M1581.6 531.6l7.5 4.6 6-0.3-7.5-3zM1589.1 536.2l7.6 2.3 6 1.4-7.6-4zM1596.7 538.5l7.5 3.2 6-2.9-7.5 1.1zM1604.2 541.7l7.6 4 6-4.9-7.6-2zM1611.8 545.7l7.6 1.1 6-3.5-7.6-2.5zM1619.4 546.8l7.5 0.1 6-2.3-7.5-1.3zM1626.9 546.9l7.6 0.9 6-5.1-7.6 1.9zM1634.5 547.8l7.5 0.9 6-6.2-7.5 0.2z"/>
<path fill="#0000e6" d="M1642 548.7l7.6 1.4 6-5.6-7.6-2zM1649.6 550.1l7.5-0.3 6-4.6-7.5-0.7zM1657.1 549.8l7.6 2.1 6-7.4-7.6 0.7zM1664.7 551.9l7.5-0.4 6-3.9-7.5-3.1zM1672.2 551.5l7.6 2.1 6-6-7.6 0z"/>
<path fill="#858585" stroke-width="3.2" d="M1311.2 145.2l7.5 2.9 6-10.7-7.5 11.7z"/>
<path fill="#ff4c00" d="M1318.7 148.1l7.6 12.2 6-22.5-7.6-0.4zM1326.3 160.3l7.5 19.6 6-53.8-7.5 11.7zM1333.8 179.9l7.6-17 6-30.3-7.6-6.5zM1341.4 162.9l7.5 2.5 6-49.2-7.5 16.4zM1348.9 165.4l7.6 19.3 6-43.3-7.6-25.2z"/>
<path fill="#ff9900" d="M1356.5 184.7l7.5 39.2 6-71.8-7.5-10.7z"/>
<path fill="#ffb200" d="M1364 223.9l7.6 3 6-79.1-7.6 4.3zM1371.6 226.9l7.6 11.7 6-91.8-7.6 1z"/>
<path fill="#ffcc00" d="M1379.2 238.6l7.5 14.9 6-99.1-7.5-7.6zM1386.7 253.5l7.6-1.5 6-90.3-7.6-7.3zM1394.3 252l7.5-0.3 6-96.4-7.5 6.4zM1401.8 251.7l7.6-10.5 6-100.6-7.6 14.7z"/>
<path fill="#ffb200" d="M1409.4 241.2l7.5-19.8 6-91.6-7.5 10.8z"/>
<path fill="#ff9900" d="M1416.9 221.4l7.6 17.6 6-109-7.6-0.2z"/>
<path fill="#ffb200" d="M1424.5 239l7.5 2.6 6-108-7.5-3.6zM1432 241.6l7.6-15.2 6-101-7.6 8.2z"/>
<path fill="#ff9900" d="M1439.6 226.4l7.5 3.7 6-96.3-7.5-8.4zM1447.1 230.1l7.6 4.2 6-112.9-7.6 12.4z"/>
<path fill="#ff7300" d="M1454.7 234.3l7.6-27.8 6-105.7-7.6 20.6z"/>
<path fill="#ff4c00" d="M1462.3 206.5l7.5-32 6-81.3-7.5 7.6z"/>
<path fill="#ff0000" d="M1469.8 174.5l7.6-28.4 6-63.8-7.6 10.9z"/>
<path fill="#e60000" d="M1477.4 146.1l7.5-27.7 6-19.9-7.5-16.2zM1484.9 118.4l7.6-20.8 6-5-7.6 5.9z"/>
<path fill="#cc0000" d="M1492.5 97.6l7.5 5 6 7.1-7.5-17.1z"/>
<path fill="#e60000" d="M1507.6 94.6l7.5 11.2 6 9.3-7.5-21.9z"/>
<path fill="#858585" stroke-width="3.2" d="M1583.1 487.4l7.6 53 6-1.9-7.6-2.3z"/>
<path fill="#0000ff" d="M1590.7 540.4l7.5 2.6 6-1.3-7.5-3.2zM1598.2 543l7.6 4.8 6-2.1-7.6-4zM1605.8 547.8l7.6 1.7 6-2.7-7.6-1.1zM1613.4 549.5l7.5 2.9 6-5.5-7.5-0.1zM1620.9 552.4l7.6-0.1 6-4.5-7.6-0.9zM1628.5 552.3l7.5 2.8 6-6.4-7.5-0.9z"/>
<path fill="#0000e6" d="M1636 555.1l7.6 1 6-6-7.6-1.4zM1643.6 556.1l7.5-0.9 6-5.4-7.5 0.3zM1651.1 555.2l7.6 1.1 6-4.4-7.6-2.1zM1658.7 556.3l7.5 0.8 6-5.6-7.5 0.4zM1666.2 557.1l7.6 1.2 6-4.7-7.6-2.1zM1673.8 558.3l7.6 1.4 6-6.1-7.6 0z"/>
<path fill="#858585" stroke-width="3.2" d="M1274.9 156.4l7.6-16.5 6 11.5-7.6 15.7z"/>
<path fill="#ff2600" d="M1282.5 139.9l7.5 24.9 6-33.4-7.5 20z"/>
<path fill="#ff4c00" d="M1290 164.8l7.6 4.7 6-43.8-7.6 5.7zM1297.6 169.5l7.6-3.4 6-20.9-7.6-19.5zM1305.2 166.1l7.5 9.3 6-27.3-7.5-2.9z"/>
<path fill="#ff7300" d="M1312.7 175.4l7.6 18.2 6-33.3-7.6-12.2z"/>
<path fill="#ff9900" d="M1320.3 193.6l7.5 15.9 6-29.6-7.5-19.6z"/>
<path fill="#ffb200" d="M1327.8 209.5l7.6 22.4 6-69-7.6 17z"/>
<path fill="#ffcc00" d="M1335.4 231.9l7.5 34.8 6-101.3-7.5-2.5z"/>
<path fill="#ffff00" d="M1342.9 266.7l7.6 43.7 6-125.7-7.6-19.3z"/>
<path fill="#f6ff44" d="M1350.5 310.4l7.5 36.1 6-122.6-7.5-39.2z"/>
<path fill="#d4ff95" d="M1358 346.5l7.6 35.2 6-154.8-7.6-3z"/>
<path fill="#bbffa2" d="M1365.6 381.7l7.6 17.6 6-160.7-7.6-11.7z"/>
<path fill="#a2ffae" d="M1373.2 399.3l7.5 9.3 6-155.1-7.5-14.9z"/>
<path fill="#bbffa2" d="M1403.4 399.3l7.5-7.5 6-170.4-7.5 19.8zM1410.9 391.8l7.6-8.3 6-144.5-7.6-17.6zM1426 383.1l7.6 3.2 6-159.9-7.6 15.2z"/>
<path fill="#d4ff95" d="M1433.6 386.3l7.5-9.5 6-146.7-7.5-3.7z"/>
<path fill="#f2ff66" d="M1448.7 354.5l7.6-41.6 6-106.4-7.6 27.8z"/>
<path fill="#fbff22" d="M1456.3 312.9l7.5-41 6-97.4-7.5 32z"/>
<path fill="#ffcc00" d="M1463.8 271.9l7.6-42.2 6-83.6-7.6 28.4z"/>
<path fill="#ff9900" d="M1471.4 229.7l7.5-21.8 6-89.5-7.5 27.7z"/>
<path fill="#ff4c00" d="M1478.9 207.9l7.6-40.9 6-69.4-7.6 20.8z"/>
<path fill="#ff0000" d="M1486.5 167l7.5-34.2 6-30.2-7.5-5z"/>
<path fill="#e60000" d="M1494 132.8l7.6-13 6-25.2-7.6 8zM1501.6 119.8l7.5 0.8 6-14.8-7.5-11.2z"/>
<path fill="#cc0000" d="M1524.2 87.3l7.6 14 6 22.3-7.6-28z"/>
<path fill="#858585" stroke-width="3.2" d="M1584.7 425.2l7.5 119 6-1.2-7.5-2.6z"/>
<path fill="#0000ff" d="M1592.2 544.2l7.6 5.1 6-1.5-7.6-4.8zM1599.8 549.3l7.6 2 6-1.8-7.6-1.7zM1607.4 551.3l7.5 4.6 6-3.5-7.5-2.9zM1614.9 555.9l7.6 1.4 6-5-7.6 0.1zM1622.5 557.3l7.5 2.8 6-5-7.5-2.8zM1630 560.1l7.6-0.3 6-3.7-7.6-1z"/>
<path fill="#0000e6" d="M1637.6 559.8l7.5 2.5 6-7.1-7.5 0.9zM1645.1 562.3l7.6-1.2 6-4.8-7.6-1.1zM1652.7 561.1l7.5 1.2 6-5.2-7.5-0.8zM1660.2 562.3l7.6 2.6 6-6.6-7.6-1.2zM1667.8 564.9l7.6-0.1 6-5.1-7.6-1.4z"/>
<path fill="#858585" stroke-width="3.2" d="M1238.7 154l7.6-10.4 6 29.1-7.6 28zM1261.4 139.6l7.5 5.5 6 11.3-7.5 8.6z"/>
<path fill="#ff2600" d="M1268.9 145.1l7.6 19.5 6-24.7-7.6 16.5z"/>
<path fill="#ff4c00" d="M1276.5 164.6l7.5-6.5 6 6.7-7.5-24.9z"/>
<path fill="#ff7300" d="M1284 158.1l7.6 44.8 6-33.4-7.6-4.7z"/>
<path fill="#ff9900" d="M1291.6 202.9l7.6 14.7 6-51.5-7.6 3.4z"/>
<path fill="#ffb200" d="M1299.2 217.6l7.5 36.9 6-79.1-7.5-9.3z"/>
<path fill="#ffff00" d="M1306.7 254.5l7.6 56 6-116.9-7.6-18.2z"/>
<path fill="#f6ff44" d="M1314.3 310.5l7.5 29.5 6-130.5-7.5-15.9z"/>
<path fill="#eeff88" d="M1321.8 340l7.6 38.6 6-146.7-7.6-22.4z"/>
<path fill="#bbffa2" d="M1329.4 378.6l7.5 30.8 6-142.7-7.5-34.8z"/>
<path fill="#ffff00" d="M1472.9 328.8l7.6-56 6-105.8-7.6 40.9z"/>
<path fill="#ffb200" d="M1480.5 272.8l7.5-38.3 6-101.7-7.5 34.2z"/>
<path fill="#ff7300" d="M1488 234.5l7.6-28.1 6-86.6-7.6 13z"/>
<path fill="#ff2600" d="M1495.6 206.4l7.5-76.4 6-9.4-7.5-0.8z"/>
<path fill="#e60000" d="M1503.1 130l7.6-9.8 6-26.1-7.6 26.5z"/>
<path fill="#cc0000" d="M1510.7 120.2l7.5-2.9 6-30-7.5 6.8zM1518.2 117.3l7.6-19 6 3-7.6-14zM1525.8 98.3l7.6 20.5 6-5.8-7.6-11.7z"/>
<path fill="#ff2600" d="M1548.5 115.3l7.5 29.3 6 51.1-7.5-63z"/>
<path fill="#858585" stroke-width="3.2" d="M1586.2 424.7l7.6 126.6 6-2-7.6-5.1z"/>
<path fill="#0000ff" d="M1593.8 551.3l7.6 3.5 6-3.5-7.6-2zM1601.4 554.8l7.5 5.8 6-4.7-7.5-4.6zM1608.9 560.6l7.6 2 6-5.3-7.6-1.4zM1616.5 562.6l7.5 2 6-4.5-7.5-2.8zM1624 564.6l7.6 1.6 6-6.4-7.6 0.3zM1631.6 566.2l7.5 1.1 6-5-7.5-2.5z"/>
<path fill="#0000e6" d="M1639.1 567.3l7.6 2.9 6-9.1-7.6 1.2zM1646.7 570.2l7.5-1.6 6-6.3-7.5-1.2zM1654.2 568.6l7.6 0.2 6-3.9-7.6-2.6zM1661.8 568.8l7.6-0.6 6-3.4-7.6 0.1zM1669.4 568.2l7.5 0.7 6-3.2-7.5-0.9zM1676.9 568.9l7.6 2.8 6-6-7.6 0z"/>
<path fill="#ff2600" d="M1232.7 143.2l7.6 17.2 6-16.8-7.6 10.4zM1240.3 160.4l7.5-6.5 6-8.3-7.5-2zM1247.8 153.9l7.6 1.2 6-15.5-7.6 6zM1255.4 155.1l7.5 18.4 6-28.4-7.5-5.5z"/>
<path fill="#ff4c00" d="M1262.9 173.5l7.6 8.5 6-17.4-7.6-19.5z"/>
<path fill="#ff9900" d="M1270.5 182l7.5 58.3 6-82.2-7.5 6.5z"/>
<path fill="#ffcc00" d="M1278 240.3l7.6 35 6-72.4-7.6-44.8z"/>
<path fill="#fbff22" d="M1285.6 275.3l7.6 55.8 6-113.5-7.6-14.7z"/>
<path fill="#eeff88" d="M1293.2 331.1l7.5 41.8 6-118.4-7.5-36.9z"/>
<path fill="#a2ffae" d="M1300.7 372.9l7.6 52.2 6-114.6-7.6-56z"/>
<path fill="#ffb200" d="M1489.6 259.1l7.5-50.8 6-78.3-7.5 76.4z"/>
<path fill="#ff2600" d="M1497.1 208.3l7.6-29.9 6-58.2-7.6 9.8z"/>
<path fill="#ff0000" d="M1504.7 178.4l7.5-43.1 6-18-7.5 2.9z"/>
<path fill="#e60000" d="M1512.2 135.3l7.6 8.3 6-45.3-7.6 19z"/>
<path fill="#cc0000" d="M1519.8 143.6l7.6-29.6 6 4.8-7.6-20.5z"/>
<path fill="#e60000" d="M1542.5 114.7l7.5 30.1 6-0.2-7.5-29.3z"/>
<path fill="#ff2600" d="M1550 144.8l7.6 19.4 6-3.1-7.6-16.5z"/>
<path fill="#ff7300" d="M1557.6 164.2l7.5 30.2 6 19.2-7.5-52.5z"/>
<path fill="#ffe600" d="M1565.1 194.4l7.6 37.8 6 57.1-7.6-75.7z"/>
<path fill="#d4ff95" d="M1572.7 232.2l7.5 86.5 6 106-7.5-135.4z"/>
<path fill="#08e6ff" d="M1580.2 318.7l7.6 177.5 6 55.1-7.6-126.6z"/>
<path fill="#003cff" d="M1587.8 496.2l7.6 62.4 6-3.8-7.6-3.5z"/>
<path fill="#0000ff" d="M1595.4 558.6l7.5 4.9 6-2.9-7.5-5.8zM1602.9 563.5l7.6 1.5 6-2.4-7.6-2zM1610.5 565l7.5 6.7 6-7.1-7.5-2zM1618 571.7l7.6 0.5 6-6-7.6-1.6zM1625.6 572.2l7.5 0.7 6-5.6-7.5-1.1z"/>
<path fill="#0000e6" d="M1633.1 572.9l7.6 0 6-2.7-7.6-2.9zM1640.7 572.9l7.5 1.6 6-5.9-7.5 1.6zM1648.2 574.5l7.6 0.9 6-6.6-7.6-0.2zM1655.8 575.4l7.6-0.7 6-6.5-7.6 0.6zM1663.4 574.7l7.5 1.1 6-6.9-7.5-0.7zM1670.9 575.8l7.6 2 6-6.1-7.6-2.8z"/>
<path fill="#ff0000" d="M1226.7 144.4l7.6 3.8 6 12.2-7.6-17.2z"/>
<path fill="#ff2600" d="M1241.8 157.1l7.6 14.4 6-16.4-7.6-1.2z"/>
<path fill="#ff4c00" d="M1249.4 171.5l7.5 19.2 6-17.2-7.5-18.4z"/>
<path fill="#ff9900" d="M1256.9 190.7l7.6 50.5 6-59.2-7.6-8.5z"/>
<path fill="#ffe600" d="M1264.5 241.2l7.5 55.4 6-56.3-7.5-58.3z"/>
<path fill="#f2ff66" d="M1272 296.6l7.6 67 6-88.3-7.6-35z"/>
<path fill="#ff9900" d="M1498.7 266.4l7.5-44.1 6-87-7.5 43.1z"/>
<path fill="#ff4c00" d="M1506.2 222.3l7.6-60.8 6-17.9-7.6-8.3z"/>
<path fill="#cc0000" d="M1521.4 122.3l7.5 0.4 6-12.5-7.5 3.8zM1528.9 122.7l7.6 1.6 6-9.6-7.6-4.5z"/>
<path fill="#e60000" d="M1536.5 124.3l7.5 5.8 6 14.7-7.5-30.1z"/>
<path fill="#ffff00" d="M1566.7 200l7.5 65.7 6 53-7.5-86.5z"/>
<path fill="#6effcc" d="M1574.2 265.7l7.6 128.6 6 101.9-7.6-177.5z"/>
<path fill="#0090ff" d="M1581.8 394.3l7.6 159.4 6 4.9-7.6-62.4z"/>
<path fill="#001eff" d="M1589.4 553.7l7.5 12.9 6-3.1-7.5-4.9z"/>
<path fill="#0000ff" d="M1596.9 566.6l7.6 3.3 6-4.9-7.6-1.5zM1604.5 569.9l7.5 5.5 6-3.7-7.5-6.7zM1612 575.4l7.6 0.2 6-3.4-7.6-0.5zM1619.6 575.6l7.5 1.6 6-4.3-7.5-0.7zM1627.1 577.2l7.6 2.4 6-6.7-7.6 0z"/>
<path fill="#0000e6" d="M1634.7 579.6l7.5-0.1 6-5-7.5-1.6zM1642.2 579.5l7.6 1.4 6-5.5-7.6-0.9zM1649.8 580.9l7.6 1.1 6-7.3-7.6 0.7zM1657.4 582l7.5 0.5 6-6.7-7.5-1.1zM1664.9 582.5l7.6-1.4 6-3.3-7.6-2zM1672.5 581.1l7.5 2.7 6-6-7.5 0z"/>
<path fill="#ff0000" d="M1220.7 137.9l7.6 30 6-19.7-7.6-3.8z"/>
<path fill="#858585" stroke-width="3.2" d="M1228.3 167.9l7.5-23.8 6 13-7.5-8.9z"/>
<path fill="#ff2600" d="M1235.8 144.1l7.6 34.4 6-7-7.6-14.4z"/>
<path fill="#ff7300" d="M1243.4 178.5l7.5 72.8 6-60.6-7.5-19.2z"/>
<path fill="#ffe600" d="M1250.9 251.3l7.6 63.9 6-74-7.6-50.5z"/>
<path fill="#ffcc00" d="M1500.2 298.2l7.6-79 6-57.7-7.6 60.8z"/>
<path fill="#ff4c00" d="M1507.8 219.2l7.6-33.5 6-63.4-7.6 39.2z"/>
<path fill="#e60000" d="M1515.4 185.7l7.5-40.9 6-22.1-7.5-0.4z"/>
<path fill="#cc0000" d="M1522.9 144.8l7.6-20.3 6-0.2-7.6-1.6zM1530.5 124.5l7.5 8.5 6-2.9-7.5-5.8z"/>
<path fill="#e60000" d="M1538 133l7.6 14.4 6-6.8-7.6-10.5z"/>
<path fill="#ff0000" d="M1545.6 147.4l7.5-0.8 6 7.9-7.5-13.9z"/>
<path fill="#ff2600" d="M1553.1 146.6l7.6 24.2 6 29.2-7.6-45.5z"/>
<path fill="#ffb200" d="M1560.7 170.8l7.5 81.1 6 13.8-7.5-65.7z"/>
<path fill="#eeff88" d="M1568.2 251.9l7.6 60.1 6 82.3-7.6-128.6z"/>
<path fill="#1af6ff" d="M1575.8 312l7.6 137.9 6 103.8-7.6-159.4z"/>
<path fill="#0059ff" d="M1583.4 449.9l7.5 119 6-2.3-7.5-12.9z"/>
<path fill="#0000ff" d="M1590.9 568.9l7.6 5.6 6-4.6-7.6-3.3zM1598.5 574.5l7.5 4 6-3.1-7.5-5.5zM1606 578.5l7.6 0.6 6-3.5-7.6-0.2zM1613.6 579.1l7.5 3.6 6-5.5-7.5-1.6zM1621.1 582.7l7.6 1.5 6-4.6-7.6-2.4zM1628.7 584.2l7.5 1.6 6-6.3-7.5 0.1z"/>
<path fill="#0000e6" d="M1636.2 585.8l7.6 0.6 6-5.5-7.6-1.4zM1643.8 586.4l7.6 0.6 6-5-7.6-1.1zM1651.4 587l7.5 0.3 6-4.8-7.5-0.5zM1658.9 587.3l7.6 1.6 6-7.8-7.6 1.4zM1666.5 588.9l7.5 0.9 6-6-7.5-2.7z"/>
<path fill="#0000ff" d="M1116.5 589.3l7.6 0.7 6-5.7-7.6-0.1z"/>
<path fill="#ff0000" d="M1214.7 142.3l7.6 29 6-3.4-7.6-30z"/>
<path fill="#ff2600" d="M1222.3 171.3l7.5 36.6 6-63.8-7.5 23.8z"/>
<path fill="#ff7300" d="M1229.8 207.9l7.6 39.8 6-69.2-7.6-34.4z"/>
<path fill="#ffcc00" d="M1237.4 247.7l7.5 48.4 6-44.8-7.5-72.8z"/>
<path fill="#cc0000" d="M1524.5 140.9l7.5-4.6 6-3.3-7.5-8.5z"/>
<path fill="#e60000" d="M1532 136.3l7.6 10.1 6 1-7.6-14.4zM1539.6 146.4l7.5 9.9 6-9.7-7.5 0.8z"/>
<path fill="#ff0000" d="M1547.1 156.3l7.6 17.2 6-2.7-7.6-24.2z"/>
<path fill="#ff7300" d="M1554.7 173.5l7.5 36.2 6 42.2-7.5-81.1z"/>
<path fill="#a2ffae" d="M1569.8 260.4l7.6 122.2 6 67.3-7.6-137.9z"/>
<path fill="#00c4ff" d="M1577.4 382.6l7.5 162.7 6 23.6-7.5-119z"/>
<path fill="#001eff" d="M1584.9 545.3l7.6 32.8 6-3.6-7.6-5.6z"/>
<path fill="#0000ff" d="M1592.5 578.1l7.5 2.8 6-2.4-7.5-4zM1600 580.9l7.6 5 6-6.8-7.6-0.6zM1607.6 585.9l7.5 2.4 6-5.6-7.5-3.6zM1615.1 588.3l7.6 2.2 6-6.3-7.6-1.5zM1622.7 590.5l7.5 0.4 6-5.1-7.5-1.6z"/>
<path fill="#0000e6" d="M1630.2 590.9l7.6 0.6 6-5.1-7.6-0.6zM1637.8 591.5l7.6 1 6-5.5-7.6-0.6zM1645.4 592.5l7.5 0.3 6-5.5-7.5-0.3zM1652.9 592.8l7.6 0 6-3.9-7.6-1.6zM1660.5 592.8l7.5 1 6-4-7.5-0.9zM1668 593.8l7.6 2 6-6-7.6 0z"/>
<path fill="#0000ff" d="M1110.5 597.2l7.6-2.1 6-5.1-7.6-0.7zM1118.1 595.1l7.5-3.8 6-3.4-7.5 2.1z"/>
<path fill="#e60000" d="M1193.6 155l7.6-2.9 6-14.4-7.6 13.7zM1201.2 152.1l7.5-1.7 6-8.1-7.5-4.6z"/>
<path fill="#ff0000" d="M1208.7 150.4l7.6 40.4 6-19.5-7.6-29z"/>
<path fill="#ff7300" d="M1216.3 190.8l7.5 39.5 6-22.4-7.5-36.6z"/>
<path fill="#ffcc00" d="M1223.8 230.3l7.6 63.1 6-45.7-7.6-39.8z"/>
<path fill="#ff0000" d="M1510.9 187.8l7.6-19.9 6-27-7.6 5.4z"/>
<path fill="#e60000" d="M1518.5 167.9l7.5-22.2 6-9.4-7.5 4.6zM1526 145.7l7.6 13 6-12.3-7.6-10.1z"/>
<path fill="#ff0000" d="M1533.6 158.7l7.5 14.4 6-16.8-7.5-9.9zM1541.1 173.1l7.6-1.7 6 2.1-7.6-17.2z"/>
<path fill="#ff4c00" d="M1548.7 171.4l7.5 16.8 6 21.5-7.5-36.2z"/>
<path fill="#ffb200" d="M1556.2 188.2l7.6 62.2 6 10-7.6-50.7z"/>
<path fill="#f2ff66" d="M1563.8 250.4l7.6 101.6 6 30.6-7.6-122.2z"/>
<path fill="#11eeff" d="M1571.4 352l7.5 164.4 6 28.9-7.5-162.7z"/>
<path fill="#003cff" d="M1578.9 516.4l7.6 67.6 6-5.9-7.6-32.8z"/>
<path fill="#0000ff" d="M1586.5 584l7.5 3.8 6-6.9-7.5-2.8zM1594 587.8l7.6 2 6-3.9-7.6-5zM1601.6 589.8l7.5 3.5 6-5-7.5-2.4zM1609.1 593.3l7.6 3.9 6-6.7-7.6-2.2z"/>
<path fill="#0000e6" d="M1616.7 597.2l7.5 2.6 6-8.9-7.5-0.4zM1624.2 599.8l7.6-2.3 6-6-7.6-0.6zM1631.8 597.5l7.6-1.3 6-3.7-7.6-1zM1639.4 596.2l7.5 4.3 6-7.7-7.5-0.3zM1646.9 600.5l7.6-0.5 6-7.2-7.6 0zM1654.5 600l7.5-0.4 6-5.8-7.5-1zM1662 599.6l7.6 2.3 6-6.1-7.6-2z"/>
<path fill="#0000ff" d="M1104.5 603.5l7.6-3.8 6-4.6-7.6 2.1zM1112.1 599.7l7.5-0.8 6-7.6-7.5 3.8zM1119.6 598.9l7.6-3.6 6-4.3-7.6 0.3z"/>
<path fill="#ff0000" d="M1202.7 149.8l7.6 54.1 6-13.1-7.6-40.4z"/>
<path fill="#ff7300" d="M1210.3 203.9l7.5 27.6 6-1.2-7.5-39.5z"/>
<path fill="#ffe600" d="M1217.8 231.5l7.6 72 6-10.1-7.6-63.1z"/>
<path fill="#ff2600" d="M1504.9 209.5l7.6-23.5 6-18.1-7.6 19.9z"/>
<path fill="#ff0000" d="M1535.1 155.5l7.6 27.1 6-11.2-7.6 1.7z"/>
<path fill="#ff2600" d="M1542.7 182.6l7.5 15.7 6-10.1-7.5-16.8z"/>
<path fill="#ff9900" d="M1550.2 198.3l7.6 55.5 6-3.4-7.6-62.2z"/>
<path fill="#f6ff44" d="M1557.8 253.8l7.6 87.8 6 10.4-7.6-101.6z"/>
<path fill="#3cffee" d="M1565.4 341.6l7.5 161 6 13.8-7.5-164.4z"/>
<path fill="#0059ff" d="M1572.9 502.6l7.6 86.1 6-4.7-7.6-67.6z"/>
<path fill="#0000ff" d="M1580.5 588.7l7.5 4.2 6-5.1-7.5-3.8zM1588 592.9l7.6 2 6-5.1-7.6-2zM1595.6 594.9l7.5 4.5 6-6.1-7.5-3.5zM1603.1 599.4l7.6 2.5 6-4.7-7.6-3.9zM1610.7 601.9l7.5-0.4 6-1.7-7.5-2.6zM1618.2 601.5l7.6 0.8 6-4.8-7.6 2.3zM1625.8 602.3l7.6 2 6-8.1-7.6 1.3z"/>
<path fill="#0000e6" d="M1633.4 604.3l7.5-0.2 6-3.6-7.5-4.3zM1640.9 604.1l7.6 3.2 6-7.3-7.6 0.5zM1648.5 607.3l7.5-2.1 6-5.6-7.5 0.4zM1656 605.2l7.6 2.7 6-6-7.6-2.3z"/>
<path fill="#0000ff" d="M1098.5 610.7l7.6-4.8 6-6.2-7.6 3.8zM1106.1 605.9l7.5-1.8 6-5.2-7.5 0.8zM1113.6 604.1l7.6-3.3 6-5.5-7.6 3.6z"/>
<path fill="#cc0000" d="M1174 156.9l7.6 4.3 6-8.5-7.6-9.5zM1181.6 161.2l7.6-7.7 6-0.6-7.6-0.2z"/>
<path fill="#e60000" d="M1189.2 153.5l7.5 16.8 6-20.5-7.5 3.1z"/>
<path fill="#ff0000" d="M1196.7 170.3l7.6 18.2 6 15.4-7.6-54.1z"/>
<path fill="#ff7300" d="M1204.3 188.5l7.5 47.1 6-4.1-7.5-27.6z"/>
<path fill="#ff0000" d="M1506.5 174.2l7.5 13.7 6-35.4-7.5 33.5z"/>
<path fill="#e60000" d="M1514 187.9l7.6-4.7 6-42.1-7.6 11.4zM1521.6 183.2l7.5-13.7 6-14-7.5-14.4z"/>
<path fill="#ff0000" d="M1529.1 169.5l7.6 38.8 6-25.7-7.6-27.1z"/>
<path fill="#ff4c00" d="M1536.7 208.3l7.5 1.2 6-11.2-7.5-15.7z"/>
<path fill="#ff9900" d="M1544.2 209.5l7.6 47.4 6-3.1-7.6-55.5z"/>
<path fill="#f6ff44" d="M1551.8 256.9l7.6 99.8 6-15.1-7.6-87.8z"/>
<path fill="#3cffee" d="M1559.4 356.7l7.5 167.2 6-21.3-7.5-161z"/>
<path fill="#0077ff" d="M1566.9 523.9l7.6 72.6 6-7.8-7.6-86.1z"/>
<path fill="#0000ff" d="M1574.5 596.5l7.5 2.7 6-6.3-7.5-4.2zM1582 599.2l7.6 4.6 6-8.9-7.6-2zM1589.6 603.8l7.5 0.6 6-5-7.5-4.5zM1597.1 604.4l7.6 3.3 6-5.8-7.6-2.5zM1604.7 607.7l7.5 1.4 6-7.6-7.5 0.4zM1612.2 609.1l7.6 1.2 6-8-7.6-0.8z"/>
<path fill="#0000e6" d="M1619.8 610.3l7.6-0.7 6-5.3-7.6-2zM1627.4 609.6l7.5 1.6 6-7.1-7.5 0.2zM1634.9 611.2l7.6-2.4 6-1.5-7.6-3.2zM1642.5 608.8l7.5 1.8 6-5.4-7.5 2.1zM1650 610.6l7.6 3.3 6-6-7.6-2.7z"/>
<path fill="#0000ff" d="M1092.5 612.9l7.6 1.5 6-8.5-7.6 4.8zM1100.1 614.4l7.5-2.7 6-7.6-7.5 1.8zM1107.6 611.7l7.6-3.7 6-7.2-7.6 3.3zM1115.2 608l7.5-3.7 6-7.6-7.5 4.1z"/>
<path fill="#e60000" d="M1168 172.7l7.6-14.6 6 3.1-7.6-4.3z"/>
<path fill="#cc0000" d="M1183.2 144.9l7.5 21.9 6 3.5-7.5-16.8z"/>
<path fill="#ff0000" d="M1190.7 166.8l7.6 40 6-18.3-7.6-18.2z"/>
<path fill="#ff7300" d="M1198.3 206.8l7.5 32 6-3.2-7.5-47.1z"/>
<path fill="#858585" stroke-width="3.2" d="M1485.4 253.2l7.5-30.2 6-8.1-7.5 39.9z"/>
<path fill="#ff0000" d="M1500.5 186.7l7.5-5.8 6 7-7.5-13.7z"/>
<path fill="#ff2600" d="M1508 180.9l7.6 22.7 6-20.4-7.6 4.7z"/>
<path fill="#ff0000" d="M1515.6 203.6l7.5-15.7 6-18.4-7.5 13.7z"/>
<path fill="#ff2600" d="M1523.1 187.9l7.6 9.9 6 10.5-7.6-38.8z"/>
<path fill="#ff7300" d="M1530.7 197.8l7.5 50.8 6-39.1-7.5-1.2z"/>
<path fill="#ffb200" d="M1538.2 248.6l7.6 39.7 6-31.4-7.6-47.4z"/>
<path fill="#f2ff66" d="M1545.8 288.3l7.6 120.6 6-52.2-7.6-99.8z"/>
<path fill="#1af6ff" d="M1553.4 408.9l7.5 166.5 6-51.5-7.5-167.2z"/>
<path fill="#003cff" d="M1560.9 575.4l7.6 26.5 6-5.4-7.6-72.6z"/>
<path fill="#0000ff" d="M1568.5 601.9l7.5 5.8 6-8.5-7.5-2.7zM1576 607.7l7.6 2.9 6-6.8-7.6-4.6zM1583.6 610.6l7.5 1.5 6-7.7-7.5-0.6zM1591.1 612.1l7.6 2 6-6.4-7.6-3.3zM1598.7 614.1l7.5 0.5 6-5.5-7.5-1.4zM1606.2 614.6l7.6 0.6 6-4.9-7.6-1.2z"/>
<path fill="#0000e6" d="M1613.8 615.2l7.6 0.2 6-5.8-7.6 0.7zM1621.4 615.4l7.5 0.9 6-5.1-7.5-1.6zM1628.9 616.3l7.6 1.5 6-9-7.6 2.4zM1636.5 617.8l7.5 2.2 6-9.4-7.5-1.8zM1644 620l7.6 0 6-6.1-7.6-3.3z"/>
<path fill="#0000ff" d="M1086.5 618.4l7.6 1.7 6-5.7-7.6-1.5zM1094.1 620.1l7.5-4 6-4.4-7.5 2.7zM1101.6 616.1l7.6-1.2 6-6.9-7.6 3.7zM1109.2 614.9l7.5-3.7 6-6.9-7.5 3.7zM1116.7 611.2l7.6-6.8 6-2.7-7.6 2.6z"/>
<path fill="#cc0000" d="M1169.6 163.1l7.6-4.7 6-13.5-7.6 13.2zM1177.2 158.4l7.5 19.7 6-11.3-7.5-21.9z"/>
<path fill="#ff0000" d="M1184.7 178.1l7.6 2.5 6 26.2-7.6-40z"/>
<path fill="#ff4c00" d="M1192.3 180.6l7.5 49.4 6 8.8-7.5-32z"/>
<path fill="#858585" stroke-width="3.2" d="M1479.4 246.6l7.5-65.2 6 41.6-7.5 30.2z"/>
<path fill="#ff0000" d="M1494.5 165.1l7.5 36.5 6-20.7-7.5 5.8z"/>
<path fill="#ff2600" d="M1502 201.6l7.6 1.7 6 0.3-7.6-22.7zM1509.6 203.3l7.5 1.5 6-16.9-7.5 15.7zM1517.1 204.8l7.6-1.6 6-5.4-7.6-9.9z"/>
<path fill="#ff7300" d="M1524.7 203.2l7.5 33 6 12.4-7.5-50.8z"/>
<path fill="#ffe600" d="M1532.2 236.2l7.6 90.2 6-38.1-7.6-39.7z"/>
<path fill="#bbffa2" d="M1539.8 326.4l7.6 142.4 6-59.9-7.6-120.6z"/>
<path fill="#00c4ff" d="M1547.4 468.8l7.5 137.6 6-31-7.5-166.5z"/>
<path fill="#001eff" d="M1554.9 606.4l7.6 3.5 6-8-7.6-26.5z"/>
<path fill="#0000ff" d="M1562.5 609.9l7.5 2.7 6-4.9-7.5-5.8zM1570 612.6l7.6 5.1 6-7.1-7.6-2.9zM1577.6 617.7l7.5-0.1 6-5.5-7.5-1.5zM1585.1 617.6l7.6 2.9 6-6.4-7.6-2zM1592.7 620.5l7.5 3.5 6-9.4-7.5-0.5z"/>
<path fill="#0000e6" d="M1600.2 624l7.6-1.8 6-7-7.6-0.6z"/>
<path fill="#0000ff" d="M1607.8 622.2l7.6-1.1 6-5.7-7.6-0.2z"/>
<path fill="#0000e6" d="M1615.4 621.1l7.5 1.6 6-6.4-7.5-0.9zM1622.9 622.7l7.6 0 6-4.9-7.6-1.5zM1630.5 622.7l7.5 3.3 6-6-7.5-2.2z"/>
<path fill="#0000ff" d="M1080.5 629.1l7.6-4.3 6-4.7-7.6-1.7zM1088.1 624.8l7.5 0.2 6-8.9-7.5 4zM1095.6 625l7.6-3.3 6-6.8-7.6 1.2zM1103.2 621.7l7.5-3 6-7.5-7.5 3.7zM1110.7 618.7l7.6-3.7 6-10.6-7.6 6.8z"/>
<path fill="#ff2600" d="M1148.5 235.1l7.5-37.3 6-20.9-7.5 24.3z"/>
<path fill="#e60000" d="M1156 197.8l7.6-16.1 6-18.6-7.6 13.8z"/>
<path fill="#cc0000" d="M1163.6 181.7l7.6-18.3 6-5-7.6 4.7zM1171.2 163.4l7.5 6.5 6 8.2-7.5-19.7z"/>
<path fill="#ff0000" d="M1186.3 176.3l7.5 10.8 6 42.9-7.5-49.4z"/>
<path fill="#e60000" d="M1480.9 199.3l7.6 1.7 6-35.9-7.6 16.3z"/>
<path fill="#ff0000" d="M1488.5 201l7.5 11.8 6-11.2-7.5-36.5z"/>
<path fill="#ff2600" d="M1496 212.8l7.6-4 6-5.5-7.6-1.7zM1503.6 208.8l7.5 9.4 6-13.4-7.5-1.5z"/>
<path fill="#ff4c00" d="M1511.1 218.2l7.6 11.7 6-26.7-7.6 1.6z"/>
<path fill="#ff7300" d="M1518.7 229.9l7.5 39.9 6-33.6-7.5-33z"/>
<path fill="#ffff00" d="M1526.2 269.8l7.6 108.5 6-51.9-7.6-90.2z"/>
<path fill="#55ffdd" d="M1533.8 378.3l7.6 162.1 6-71.6-7.6-142.4z"/>
<path fill="#0090ff" d="M1541.4 540.4l7.5 71.9 6-5.9-7.5-137.6z"/>
<path fill="#0000ff" d="M1548.9 612.3l7.6 5.8 6-8.2-7.6-3.5zM1556.5 618.1l7.5 2.6 6-8.1-7.5-2.7zM1564 620.7l7.6 2.9 6-5.9-7.6-5.1zM1571.6 623.6l7.5 1.4 6-7.4-7.5 0.1zM1579.1 625l7.6 1.4 6-5.9-7.6-2.9zM1586.7 626.4l7.5 0.7 6-3.1-7.5-3.5z"/>
<path fill="#0000e6" d="M1594.2 627.1l7.6 2.4 6-7.3-7.6 1.8zM1601.8 629.5l7.6-1 6-7.4-7.6 1.1zM1609.4 628.5l7.5 1.7 6-7.5-7.5-1.6zM1616.9 630.2l7.6-0.1 6-7.4-7.6 0zM1624.5 630.1l7.5 1.9 6-6-7.5-3.3z"/>
<path fill="#0000ff" d="M1074.5 632.4l7.6-0.4 6-7.2-7.6 4.3zM1082.1 632l7.5-1.2 6-5.8-7.5-0.2zM1089.6 630.8l7.6-0.4 6-8.7-7.6 3.3zM1097.2 630.4l7.5-4.8 6-6.9-7.5 3zM1104.7 625.6l7.6-3.5 6-7.1-7.6 3.7z"/>
<path fill="#001eff" d="M1112.3 622.1l7.5-4.4 6-48.1-7.5 45.4z"/>
<path fill="#ff7300" d="M1142.5 276.2l7.5-46.5 6-31.9-7.5 37.3z"/>
<path fill="#ff0000" d="M1150 229.7l7.6-34.4 6-13.6-7.6 16.1z"/>
<path fill="#e60000" d="M1157.6 195.3l7.6-13 6-18.9-7.6 18.3z"/>
<path fill="#cc0000" d="M1165.2 182.3l7.5-15.5 6 3.1-7.5-6.5z"/>
<path fill="#ff0000" d="M1187.8 173.3l7.6 43.2 6 18.8-7.6-48.2z"/>
<path fill="#858585" stroke-width="3.2" d="M1474.9 214.7l7.6-17.5 6 3.8-7.6-1.7z"/>
<path fill="#ff2600" d="M1482.5 197.2l7.5 33.1 6-17.5-7.5-11.8zM1490 230.3l7.6-4 6-17.5-7.6 4z"/>
<path fill="#ff4c00" d="M1497.6 226.3l7.5 4.8 6-12.9-7.5-9.4z"/>
<path fill="#ff7300" d="M1505.1 231.1l7.6 41.7 6-42.9-7.6-11.7z"/>
<path fill="#ffcc00" d="M1512.7 272.8l7.5 57.8 6-60.8-7.5-39.9z"/>
<path fill="#eeff88" d="M1520.2 330.6l7.6 121.9 6-74.2-7.6-108.5z"/>
<path fill="#11eeff" d="M1527.8 452.5l7.6 160.9 6-73-7.6-162.1z"/>
<path fill="#003cff" d="M1535.4 613.4l7.5 7.7 6-8.8-7.5-71.9z"/>
<path fill="#0000ff" d="M1542.9 621.1l7.6 5 6-8-7.6-5.8zM1550.5 626.1l7.5 3.8 6-9.2-7.5-2.6zM1558 629.9l7.6 1.1 6-7.4-7.6-2.9zM1565.6 631l7.5-0.3 6-5.7-7.5-1.4zM1573.1 630.7l7.6 4 6-8.3-7.6-1.4zM1580.7 634.7l7.5-1.4 6-6.2-7.5-0.7z"/>
<path fill="#0000e6" d="M1588.2 633.3l7.6 2.9 6-6.7-7.6-2.4zM1595.8 636.2l7.6 0.3 6-8-7.6 1zM1603.4 636.5l7.5-0.9 6-5.4-7.5-1.7zM1610.9 635.6l7.6 1.1 6-6.6-7.6 0.1zM1618.5 636.7l7.5 1.4 6-6.1-7.5-1.9zM1068.5 640.3l7.6 1.4 6-9.7-7.6 0.4z"/>
<path fill="#0000ff" d="M1076.1 641.7l7.5-1.3 6-9.6-7.5 1.2zM1083.6 640.4l7.6-3.5 6-6.5-7.6 0.4zM1091.2 636.9l7.5-1.5 6-9.8-7.5 4.8zM1098.7 635.4l7.6-4.9 6-8.4-7.6 3.5zM1106.3 630.5l7.5-1.8 6-11-7.5 4.4z"/>
<path fill="#0059ff" d="M1113.8 628.7l7.6-5.5 6-112.8-7.6 107.3z"/>
<path fill="#d4ff95" d="M1128.9 479.8l7.6-121.1 6-82.5-7.6 97.5z"/>
<path fill="#858585" stroke-width="3.2" d="M1136.5 358.7l7.5-100.8 6-28.2-7.5 46.5z"/>
<path fill="#e60000" d="M1151.6 216.9l7.6-19.7 6-14.9-7.6 13z"/>
<path fill="#cc0000" d="M1159.2 197.2l7.5-0.6 6-29.8-7.5 15.5zM1166.7 196.6l7.6-15.8 6-17.5-7.6 3.5zM1174.3 180.8l7.5-3.9 6-3.6-7.5-10z"/>
<path fill="#e60000" d="M1181.8 176.9l7.6 13.7 6 25.9-7.6-43.2z"/>
<path fill="#ff2600" d="M1468.9 230.6l7.6-19.1 6-14.3-7.6 17.5zM1476.5 211.5l7.5 29.2 6-10.4-7.5-33.1z"/>
<path fill="#ff4c00" d="M1484 240.7l7.6-2.3 6-12.1-7.6 4zM1491.6 238.4l7.5 18.1 6-25.4-7.5-4.8z"/>
<path fill="#ffb200" d="M1499.1 256.5l7.6 54.8 6-38.5-7.6-41.7z"/>
<path fill="#fbff22" d="M1506.7 311.3l7.5 98.3 6-79-7.5-57.8z"/>
<path fill="#55ffdd" d="M1514.2 409.6l7.6 166.3 6-123.4-7.6-121.9z"/>
<path fill="#0090ff" d="M1521.8 575.9l7.6 52.2 6-14.7-7.6-160.9z"/>
<path fill="#001eff" d="M1529.4 628.1l7.5 0.6 6-7.6-7.5-7.7z"/>
<path fill="#0000ff" d="M1536.9 628.7l7.6 5.7 6-8.3-7.6-5zM1544.5 634.4l7.5 0.3 6-4.8-7.5-3.8zM1552 634.7l7.6 1.4 6-5.1-7.6-1.1zM1559.6 636.1l7.5 3.9 6-9.3-7.5 0.3zM1567.1 640l7.6 0.6 6-5.9-7.6-4z"/>
<path fill="#0000e6" d="M1574.7 640.6l7.5-0.8 6-6.5-7.5 1.4zM1582.2 639.8l7.6 0 6-3.6-7.6-2.9zM1589.8 639.8l7.6 2.2 6-5.5-7.6-0.3zM1597.4 642l7.5 0.8 6-7.2-7.5 0.9zM1604.9 642.8l7.6 1.3 6-7.4-7.6-1.1zM1612.5 644.1l7.5 0 6-6-7.5-1.4zM1062.5 644.3l7.6 1.2 6-3.8-7.6-1.4zM1070.1 645.5l7.5-1.5 6-3.6-7.5 1.3z"/>
<path fill="#0000ff" d="M1077.6 644l7.6-1 6-6.1-7.6 3.5zM1085.2 643l7.5-1.1 6-6.5-7.5 1.5zM1092.7 641.9l7.6-1.8 6-9.6-7.6 4.9zM1100.3 640.1l7.5-3.5 6-7.9-7.5 1.8zM1107.8 636.6l7.6-4.3 6-9.1-7.6 5.5z"/>
<path fill="#0077ff" d="M1115.4 632.3l7.5-10.6 6-141.9-7.5 143.4z"/>
<path fill="#22ffff" d="M1122.9 621.7l7.6-158.1 6-104.9-7.6 121.1z"/>
<path fill="#f2ff66" d="M1130.5 463.6l7.5-112.8 6-92.9-7.5 100.8z"/>
<path fill="#ffb200" d="M1138 350.8l7.6-83.7 6-50.2-7.6 41z"/>
<path fill="#ff2600" d="M1145.6 267.1l7.6-43.8 6-26.1-7.6 19.7z"/>
<path fill="#858585" stroke-width="3.2" d="M1153.2 223.3l7.5-29.3 6 2.6-7.5 0.6z"/>
<path fill="#e60000" d="M1160.7 194l7.6 26.5 6-39.7-7.6 15.8z"/>
<path fill="#cc0000" d="M1175.8 171.5l7.6 13.7 6 5.4-7.6-13.7z"/>
<path fill="#ff2600" d="M1455.4 221l7.5 6 6 3.6-7.5-13.8zM1462.9 227l7.6 10.8 6-26.3-7.6 19.1zM1470.5 237.8l7.5-3.5 6 6.4-7.5-29.2z"/>
<path fill="#ff4c00" d="M1478 234.3l7.6 32.6 6-28.5-7.6 2.3z"/>
<path fill="#ff9900" d="M1485.6 266.9l7.5 28.2 6-38.6-7.5-18.1z"/>
<path fill="#ffff00" d="M1493.1 295.1l7.6 99 6-82.8-7.6-54.8z"/>
<path fill="#a2ffae" d="M1500.7 394.1l7.5 153.4 6-137.9-7.5-98.3z"/>
<path fill="#00c4ff" d="M1508.2 547.5l7.6 82.1 6-53.7-7.6-166.3z"/>
<path fill="#001eff" d="M1515.8 629.6l7.6 4.9 6-6.4-7.6-52.2z"/>
<path fill="#0000ff" d="M1523.4 634.5l7.5 4.5 6-10.3-7.5-0.6zM1530.9 639l7.6 1.8 6-6.4-7.6-5.7zM1538.5 640.8l7.5 3.8 6-9.9-7.5-0.3zM1546 644.6l7.6 1.2 6-9.7-7.6-1.4zM1553.6 645.8l7.5-0.6 6-5.2-7.5-3.9z"/>
<path fill="#0000e6" d="M1561.1 645.2l7.6-0.3 6-4.3-7.6-0.6zM1568.7 644.9l7.5 2.9 6-8-7.5 0.8zM1576.2 647.8l7.6-1.6 6-6.4-7.6 0zM1583.8 646.2l7.6 1.3 6-5.5-7.6-2.2zM1591.4 647.5l7.5-1.3 6-3.4-7.5-0.8zM1598.9 646.2l7.6 3.9 6-6-7.6-1.3z"/>
<path fill="#0000ff" d="M1056.5 650.5l7.6 2.9 6-7.9-7.6-1.2zM1064.1 653.4l7.5-2 6-7.4-7.5 1.5zM1071.6 651.4l7.6-0.2 6-8.2-7.6 1zM1079.2 651.2l7.5-3 6-6.3-7.5 1.1zM1086.7 648.2l7.6-0.1 6-8-7.6 1.8zM1094.3 648.1l7.5-2.1 6-9.4-7.5 3.5zM1101.8 646l7.6-3 6-10.7-7.6 4.3z"/>
<path fill="#001eff" d="M1109.4 643l7.5-5 6-16.3-7.5 10.6z"/>
<path fill="#0077ff" d="M1116.9 638l7.6-22.9 6-151.5-7.6 158.1z"/>
<path fill="#3cffee" d="M1124.5 615.1l7.5-149.4 6-114.9-7.5 112.8z"/>
<path fill="#f2ff66" d="M1132 465.7l7.6-109.6 6-89-7.6 83.7z"/>
<path fill="#ffb200" d="M1139.6 356.1l7.6-78.3 6-54.5-7.6 43.8z"/>
<path fill="#ff2600" d="M1147.2 277.8l7.5-55.8 6-28-7.5 29.3z"/>
<path fill="#e60000" d="M1154.7 222l7.6-15.3 6 13.8-7.6-26.5z"/>
<path fill="#b20000" d="M1169.8 192.2l7.6-6.8 6-0.2-7.6-13.7z"/>
<path fill="#cc0000" d="M1177.4 185.4l7.5 26.1 6-35.8-7.5 9.5z"/>
<path fill="#e60000" d="M1184.9 211.5l7.6-18 6 19.8-7.6-37.6z"/>
<path fill="#ff2600" d="M1441.8 233.6l7.6 1.8 6-14.4-7.6-4.2zM1449.4 235.4l7.5 2 6-10.4-7.5-6z"/>
<path fill="#ff4c00" d="M1456.9 237.4l7.6 23.3 6-22.9-7.6-10.8zM1464.5 260.7l7.5 10.6 6-37-7.5 3.5z"/>
<path fill="#ff9900" d="M1472 271.3l7.6 39.6 6-44-7.6-32.6z"/>
<path fill="#ffff00" d="M1479.6 310.9l7.5 92.7 6-108.5-7.5-28.2z"/>
<path fill="#a2ffae" d="M1487.1 403.6l7.6 149.3 6-158.8-7.6-99z"/>
<path fill="#00ddff" d="M1494.7 552.9l7.5 83.1 6-88.5-7.5-153.4z"/>
<path fill="#003cff" d="M1502.2 636l7.6 5.3 6-11.7-7.6-82.1z"/>
<path fill="#0000ff" d="M1509.8 641.3l7.6 2.8 6-9.6-7.6-4.9zM1517.4 644.1l7.5 3.4 6-8.5-7.5-4.5zM1524.9 647.5l7.6 2.9 6-9.6-7.6-1.8zM1532.5 650.4l7.5-1 6-4.8-7.5-3.8zM1540 649.4l7.6 1 6-4.6-7.6-1.2zM1547.6 650.4l7.5 2.3 6-7.5-7.5 0.6z"/>
<path fill="#0000e6" d="M1555.1 652.7l7.6-0.6 6-7.2-7.6 0.3zM1562.7 652.1l7.5 0.9 6-5.2-7.5-2.9zM1570.2 653l7.6 1.8 6-8.6-7.6 1.6zM1577.8 654.8l7.6-1.9 6-5.4-7.6-1.3zM1585.4 652.9l7.5 3.2 6-9.9-7.5 1.3zM1592.9 656.1l7.6 0 6-6-7.6-3.9zM1050.5 660.4l7.6-0.7 6-6.3-7.6-2.9zM1058.1 659.7l7.5-1.1 6-7.2-7.5 2z"/>
<path fill="#0000ff" d="M1065.6 658.6l7.6-2.1 6-5.3-7.6 0.2zM1073.2 656.5l7.5-0.3 6-8-7.5 3zM1080.7 656.2l7.6 0 6-8.1-7.6 0.1zM1088.3 656.2l7.5-1 6-9.2-7.5 2.1zM1095.8 655.2l7.6-2 6-10.2-7.6 3zM1103.4 653.2l7.5-4.4 6-10.8-7.5 5z"/>
<path fill="#001eff" d="M1110.9 648.8l7.6-0.8 6-32.9-7.6 22.9z"/>
<path fill="#0077ff" d="M1118.5 648l7.5-5.4 6-176.9-7.5 149.4z"/>
<path fill="#1af6ff" d="M1126 642.6l7.6-72.6 6-213.9-7.6 109.6z"/>
<path fill="#bbffa2" d="M1133.6 570l7.6-125.2 6-167-7.6 78.3z"/>
<path fill="#ffe600" d="M1141.2 444.8l7.5-96 6-126.8-7.5 55.8z"/>
<path fill="#ff7300" d="M1148.7 348.8l7.6-63.6 6-78.5-7.6 15.3z"/>
<path fill="#ff2600" d="M1156.3 285.2l7.5-37.1 6-55.9-7.5 14.5z"/>
<path fill="#e60000" d="M1163.8 248.1l7.6-16.7 6-46-7.6 6.8zM1171.4 231.4l7.5-0.1 6-19.8-7.5-26.1zM1201.6 188.4l7.6 24 6 16.2-7.6-26.3z"/>
<path fill="#ff0000" d="M1428.2 228.6l7.6 7.8 6-2.8-7.6-11.4z"/>
<path fill="#ff2600" d="M1435.8 236.4l7.6 10 6-11-7.6-1.8z"/>
<path fill="#ff4c00" d="M1443.4 246.4l7.5 13.6 6-22.6-7.5-2z"/>
<path fill="#ff7300" d="M1450.9 260l7.6 20.9 6-20.2-7.6-23.3z"/>
<path fill="#ffb200" d="M1458.5 280.9l7.5 59.6 6-69.2-7.5-10.6z"/>
<path fill="#fbff22" d="M1466 340.5l7.6 103.6 6-133.2-7.6-39.6z"/>
<path fill="#88ffbb" d="M1473.6 444.1l7.5 145.9 6-186.4-7.5-92.7z"/>
<path fill="#00ddff" d="M1481.1 590l7.6 53.3 6-90.4-7.6-149.3z"/>
<path fill="#003cff" d="M1488.7 643.3l7.5 2.7 6-10-7.5-83.1z"/>
<path fill="#0000ff" d="M1496.2 646l7.6 2.7 6-7.4-7.6-5.3zM1503.8 648.7l7.6 3.4 6-8-7.6-2.8zM1511.4 652.1l7.5 3.1 6-7.7-7.5-3.4zM1518.9 655.2l7.6 0.5 6-5.3-7.6-2.9zM1526.5 655.7l7.5 3 6-9.3-7.5 1zM1534 658.7l7.6-0.4 6-7.9-7.6-1z"/>
<path fill="#0000e6" d="M1541.6 658.3l7.5 1.7 6-7.3-7.5-2.3zM1549.1 660l7.6-0.7 6-7.2-7.6 0.6zM1556.7 659.3l7.5-0.9 6-5.4-7.5-0.9zM1564.2 658.4l7.6-0.5 6-3.1-7.6-1.8zM1571.8 657.9l7.6 4.3 6-9.3-7.6 1.9zM1579.4 662.2l7.5 0 6-6.1-7.5-3.2zM1044.5 666.4l7.6-1.6 6-5.1-7.6 0.7zM1052.1 664.8l7.5 1.1 6-7.3-7.5 1.1zM1059.6 665.9l7.6-0.8 6-8.6-7.6 2.1z"/>
<path fill="#0000ff" d="M1067.2 665.1l7.5-0.8 6-8.1-7.5 0.3zM1074.7 664.3l7.6-1.6 6-6.5-7.6 0zM1082.3 662.7l7.5 0.6 6-8.1-7.5 1zM1089.8 663.3l7.6-2.8 6-7.3-7.6 2zM1097.4 660.5l7.5-1.3 6-10.4-7.5 4.4zM1104.9 659.2l7.6-1 6-10.2-7.6 0.8zM1112.5 658.2l7.5-2.4 6-13.2-7.5 5.4z"/>
<path fill="#003cff" d="M1120 655.8l7.6-5 6-80.8-7.6 72.6z"/>
<path fill="#00aaff" d="M1127.6 650.8l7.6-3.4 6-202.6-7.6 125.2z"/>
<path fill="#22ffff" d="M1135.2 647.4l7.5-85 6-213.6-7.5 96z"/>
<path fill="#d4ff95" d="M1142.7 562.4l7.6-136.9 6-140.3-7.6 63.6z"/>
<path fill="#ffe600" d="M1150.3 425.5l7.5-90.6 6-86.8-7.5 37.1z"/>
<path fill="#ff7300" d="M1157.8 334.9l7.6-68.8 6-34.7-7.6 16.7z"/>
<path fill="#ff2600" d="M1165.4 266.1l7.5-17.8 6-17-7.5 0.1z"/>
<path fill="#ff0000" d="M1172.9 248.3l7.6-7.6 6-37.4-7.6 28z"/>
<path fill="#e60000" d="M1180.5 240.7l7.5-5.9 6-50.9-7.5 19.4z"/>
<path fill="#cc0000" d="M1188 234.8l7.6-13.7 6-32.7-7.6-4.5zM1195.6 221.1l7.6-12.8 6 4.1-7.6-24z"/>
<path fill="#858585" stroke-width="3.2" d="M1376.9 256.9l7.6-6 6 32.9-7.6 0.8z"/>
<path fill="#ff0000" d="M1407.1 241.4l7.6-4.2 6-17.1-7.6 14.5zM1414.7 237.2l7.5-2.5 6-6.1-7.5-8.5z"/>
<path fill="#ff2600" d="M1422.2 234.7l7.6 24.9 6-23.2-7.6-7.8z"/>
<path fill="#ff4c00" d="M1429.8 259.6l7.6 26.1 6-39.3-7.6-10z"/>
<path fill="#ff7300" d="M1437.4 285.7l7.5 25.6 6-51.3-7.5-13.6z"/>
<path fill="#ffcc00" d="M1444.9 311.3l7.6 80.1 6-110.5-7.6-20.9z"/>
<path fill="#f2ff66" d="M1452.5 391.4l7.5 116.3 6-167.2-7.5-59.6z"/>
<path fill="#3cffee" d="M1460 507.7l7.6 135.4 6-199-7.6-103.6z"/>
<path fill="#0090ff" d="M1467.6 643.1l7.5 9.5 6-62.6-7.5-145.9z"/>
<path fill="#001eff" d="M1475.1 652.6l7.6 1.8 6-11.1-7.6-53.3z"/>
<path fill="#0000ff" d="M1482.7 654.4l7.5 2.9 6-11.3-7.5-2.7zM1490.2 657.3l7.6 0 6-8.6-7.6-2.7zM1497.8 657.3l7.6 2.8 6-8-7.6-3.4zM1505.4 660.1l7.5 1.8 6-6.7-7.5-3.1zM1512.9 661.9l7.6 1.6 6-7.8-7.6-0.5z"/>
<path fill="#0000e6" d="M1520.5 663.5l7.5 2.6 6-7.4-7.5-3zM1528 666.1l7.6 0 6-7.8-7.6 0.4zM1535.6 666.1l7.5-0.4 6-5.7-7.5-1.7zM1543.1 665.7l7.6-0.2 6-6.2-7.6 0.7zM1550.7 665.5l7.5 0.9 6-8-7.5 0.9zM1558.2 666.4l7.6 1.8 6-10.3-7.6 0.5zM1565.8 668.2l7.6 0 6-6-7.6-4.3zM1038.5 672.5l7.6-1.1 6-6.6-7.6 1.6zM1046.1 671.4l7.5-0.5 6-5-7.5-1.1zM1053.6 670.9l7.6 0.4 6-6.2-7.6 0.8zM1061.2 671.3l7.5 0.1 6-7.1-7.5 0.8zM1068.7 671.4l7.6-0.6 6-8.1-7.6 1.6z"/>
<path fill="#0000ff" d="M1076.3 670.8l7.5-1.9 6-5.6-7.5-0.6zM1083.8 668.9l7.6 0.1 6-8.5-7.6 2.8zM1091.4 669l7.5-1.6 6-8.2-7.5 1.3zM1098.9 667.4l7.6 1 6-10.2-7.6 1zM1106.5 668.4l7.5-3 6-9.6-7.5 2.4zM1114 665.4l7.6-2.3 6-12.3-7.6 5zM1121.6 663.1l7.6-2.9 6-12.8-7.6 3.4z"/>
<path fill="#003cff" d="M1129.2 660.2l7.5-2.4 6-95.4-7.5 85z"/>
<path fill="#00c4ff" d="M1136.7 657.8l7.6-36.1 6-196.2-7.6 136.9z"/>
<path fill="#6effcc" d="M1144.3 621.7l7.5-136.1 6-150.7-7.5 90.6z"/>
<path fill="#f6ff44" d="M1151.8 485.6l7.6-102.6 6-116.9-7.6 68.8z"/>
<path fill="#ffb200" d="M1159.4 383l7.5-73.9 6-60.8-7.5 17.8z"/>
<path fill="#ff4c00" d="M1166.9 309.1l7.6-57.1 6-11.3-7.6 7.6z"/>
<path fill="#ff2600" d="M1174.5 252l7.5 2.2 6-19.4-7.5 5.9z"/>
<path fill="#ff0000" d="M1182 254.2l7.6-2.7 6-30.4-7.6 13.7z"/>
<path fill="#cc0000" d="M1197.2 205.7l7.5 16.2 6-11.6-7.5-2z"/>
<path fill="#e60000" d="M1204.7 221.9l7.6 1.5 6-0.7-7.6-12.4z"/>
<path fill="#ff0000" d="M1212.3 223.4l7.5 9 6 9.9-7.5-19.6z"/>
<path fill="#ff2600" d="M1370.9 244l7.6 15.1 6-8.2-7.6 6zM1393.6 248.6l7.5 9.2 6-16.4-7.5-7.7zM1401.1 257.8l7.6 5.5 6-26.1-7.6 4.2zM1408.7 263.3l7.5 4.5 6-33.1-7.5 2.5z"/>
<path fill="#ff4c00" d="M1416.2 267.8l7.6 23.2 6-31.4-7.6-24.9z"/>
<path fill="#ff9900" d="M1423.8 291l7.6 49.6 6-54.9-7.6-26.1z"/>
<path fill="#ffff00" d="M1431.4 340.6l7.5 75.2 6-104.5-7.5-25.6z"/>
<path fill="#bbffa2" d="M1438.9 415.8l7.6 142.1 6-166.5-7.6-80.1z"/>
<path fill="#11eeff" d="M1446.5 557.9l7.5 95.8 6-146-7.5-116.3z"/>
<path fill="#0059ff" d="M1454 653.7l7.6 5 6-15.6-7.6-135.4z"/>
<path fill="#0000ff" d="M1461.6 658.7l7.5 4.2 6-10.3-7.5-9.5zM1469.1 662.9l7.6 0.7 6-9.2-7.6-1.8zM1476.7 663.6l7.5 4.2 6-10.5-7.5-2.9zM1484.2 667.8l7.6-1.9 6-8.6-7.6 0zM1491.8 665.9l7.6 1.9 6-7.7-7.6-2.8zM1499.4 667.8l7.5 2.3 6-8.2-7.5-1.8zM1506.9 670.1l7.6-0.4 6-6.2-7.6-1.6z"/>
<path fill="#0000e6" d="M1514.5 669.7l7.5 2.1 6-5.7-7.5-2.6zM1522 671.8l7.6 0.7 6-6.4-7.6 0zM1529.6 672.5l7.5-1.5 6-5.3-7.5 0.4zM1537.1 671l7.6 2 6-7.5-7.6 0.2zM1544.7 673l7.5 1.2 6-7.8-7.5-0.9zM1552.2 674.2l7.6 0 6-6-7.6-1.8zM1032.5 680.3l7.6 0 6-8.9-7.6 1.1zM1040.1 680.3l7.5-2.4 6-7-7.5 0.5zM1047.6 677.9l7.6 0.3 6-6.9-7.6-0.4zM1055.2 678.2l7.5 0.1 6-6.9-7.5-0.1zM1062.7 678.3l7.6-0.6 6-6.9-7.6 0.6zM1070.3 677.7l7.5 0 6-8.8-7.5 1.9zM1077.8 677.7l7.6-0.3 6-8.4-7.6-0.1z"/>
<path fill="#0000ff" d="M1085.4 677.4l7.5-3.6 6-6.4-7.5 1.6zM1092.9 673.8l7.6 0.3 6-5.7-7.6-1zM1100.5 674.1l7.5-1.7 6-7-7.5 3zM1108 672.4l7.6-1.2 6-8.1-7.6 2.3zM1115.6 671.2l7.6-0.2 6-10.8-7.6 2.9zM1123.2 671l7.5-4 6-9.2-7.5 2.4z"/>
<path fill="#001eff" d="M1130.7 667l7.6-2.4 6-42.9-7.6 36.1z"/>
<path fill="#0077ff" d="M1138.3 664.6l7.5-4.1 6-174.9-7.5 136.1z"/>
<path fill="#1af6ff" d="M1145.8 660.5l7.6-84.8 6-192.7-7.6 102.6z"/>
<path fill="#bbffa2" d="M1153.4 575.7l7.5-118.6 6-148-7.5 73.9z"/>
<path fill="#ffff00" d="M1160.9 457.1l7.6-91.8 6-113.3-7.6 57.1z"/>
<path fill="#ff9900" d="M1168.5 365.3l7.5-53.3 6-57.8-7.5-2.2z"/>
<path fill="#ff7300" d="M1176 312l7.6-25 6-35.5-7.6 2.7z"/>
<path fill="#ff2600" d="M1183.6 287l7.6-9.7 6-71.6-7.6 45.8z"/>
<path fill="#ff0000" d="M1191.2 277.3l7.5-15 6-40.4-7.5-16.2zM1198.7 262.3l7.6-19.9 6-19-7.6-1.5z"/>
<path fill="#e60000" d="M1206.3 242.4l7.5-4.9 6-5.1-7.5-9z"/>
<path fill="#ff0000" d="M1213.8 237.5l7.6 1.6 6-4.7-7.6-2z"/>
<path fill="#e60000" d="M1221.4 239.1l7.5 2.5 6-28.4-7.5 21.2z"/>
<path fill="#ff0000" d="M1228.9 241.6l7.6 17.6 6-22.5-7.6-23.5zM1236.5 259.2l7.5-18.8 6 3.9-7.5-7.6zM1244 240.4l7.6 11.5 6-0.6-7.6-7z"/>
<path fill="#858585" stroke-width="3.2" d="M1296.9 245l7.6 11.6 6 8.9-7.6 21.6z"/>
<path fill="#ff4c00" d="M1304.5 256.6l7.5 25.7 6-31.7-7.5 14.9z"/>
<path fill="#ff2600" d="M1312 282.3l7.6-29.7 6 9.7-7.6-11.7zM1342.3 262.1l7.5 0.6 6-9.2-7.5-2.7zM1349.8 262.7l7.6-1 6-12.5-7.6 4.3zM1357.4 261.7l7.5-11.6 6-6.1-7.5 5.2zM1364.9 250.1l7.6 22.8 6-13.8-7.6-15.1zM1372.5 272.9l7.5-6.5 6-29.1-7.5 21.8zM1380 266.4l7.6 14.2 6-32-7.6-11.3z"/>
<path fill="#ff4c00" d="M1387.6 280.6l7.5-3.7 6-19.1-7.5-9.2z"/>
<path fill="#ff7300" d="M1395.1 276.9l7.6 29.5 6-43.1-7.6-5.5zM1402.7 306.4l7.5 0.7 6-39.3-7.5-4.5z"/>
<path fill="#ffb200" d="M1410.2 307.1l7.6 59.3 6-75.4-7.6-23.2z"/>
<path fill="#fbff22" d="M1417.8 366.4l7.6 89.4 6-115.2-7.6-49.6z"/>
<path fill="#88ffbb" d="M1425.4 455.8l7.5 137 6-177-7.5-75.2z"/>
<path fill="#00ddff" d="M1432.9 592.8l7.6 68.2 6-103.1-7.6-142.1z"/>
<path fill="#003cff" d="M1440.5 661l7.5 3.4 6-10.7-7.5-95.8z"/>
<path fill="#0000ff" d="M1448 664.4l7.6 4.2 6-9.9-7.6-5zM1455.6 668.6l7.5 2.6 6-8.3-7.5-4.2zM1463.1 671.2l7.6 1.3 6-8.9-7.6-0.7zM1470.7 672.5l7.5 0.6 6-5.3-7.5-4.2zM1478.2 673.1l7.6 2 6-9.2-7.6 1.9zM1485.8 675.1l7.6 0.9 6-8.2-7.6-1.9z"/>
<path fill="#0000e6" d="M1493.4 676l7.5 1.5 6-7.4-7.5-2.3zM1500.9 677.5l7.6 1.2 6-9-7.6 0.4zM1508.5 678.7l7.5-1.3 6-5.6-7.5-2.1zM1516 677.4l7.6 0.6 6-5.5-7.6-0.7zM1523.6 678l7.5-0.2 6-6.8-7.5 1.5zM1531.1 677.8l7.6 2.5 6-7.3-7.6-2zM1034.1 686.3l7.5 0 6-8.4-7.5 2.4zM1041.6 686.3l7.6 0 6-8.1-7.6-0.3zM1049.2 686.3l7.5-2.8 6-5.2-7.5-0.1zM1056.7 683.5l7.6-0.3 6-5.5-7.6 0.6zM1064.3 683.2l7.5-1.1 6-4.4-7.5 0zM1071.8 682.1l7.6 1.9 6-6.6-7.6 0.3zM1079.4 684l7.5-1.2 6-9-7.5 3.6z"/>
<path fill="#0000ff" d="M1086.9 682.8l7.6-0.4 6-8.3-7.6-0.3zM1094.5 682.4l7.5-1.1 6-8.9-7.5 1.7zM1102 681.3l7.6 0.3 6-10.4-7.6 1.2zM1109.6 681.6l7.6-2.6 6-8-7.6 0.2zM1117.2 679l7.5-1.7 6-10.3-7.5 4zM1124.7 677.3l7.6-2.2 6-10.5-7.6 2.4zM1132.3 675.1l7.5-4.4 6-10.2-7.5 4.1z"/>
<path fill="#003cff" d="M1139.8 670.7l7.6-1.2 6-93.8-7.6 84.8z"/>
<path fill="#00aaff" d="M1147.4 669.5l7.5-3.2 6-209.2-7.5 118.6z"/>
<path fill="#22ffff" d="M1154.9 666.3l7.6-92.1 6-208.9-7.6 91.8z"/>
<path fill="#bbffa2" d="M1162.5 574.2l7.5-107.5 6-154.7-7.5 53.3z"/>
<path fill="#fbff22" d="M1170 466.7l7.6-85.8 6-93.9-7.6 25z"/>
<path fill="#ffb200" d="M1177.6 380.9l7.6-58.1 6-45.5-7.6 9.7z"/>
<path fill="#ff7300" d="M1185.2 322.8l7.5-28.5 6-32-7.5 15z"/>
<path fill="#ff4c00" d="M1192.7 294.3l7.6-5.3 6-46.6-7.6 19.9z"/>
<path fill="#ff2600" d="M1200.3 289l7.5-18.4 6-33.1-7.5 4.9zM1207.8 270.6l7.6 9.7 6-41.2-7.6-1.6zM1215.4 280.3l7.5-14.3 6-24.4-7.5-2.5zM1222.9 266l7.6 12.3 6-19.1-7.6-17.6zM1230.5 278.3l7.5 1.8 6-39.7-7.5 18.8zM1238 280.1l7.6-16.4 6-11.8-7.6-11.5zM1245.6 263.7l7.6 1.5 6-23.3-7.6 10z"/>
<path fill="#ff0000" d="M1253.2 265.2l7.5-16.5 6-10-7.5 3.2zM1260.7 248.7l7.6 21.9 6-18.7-7.6-13.2z"/>
<path fill="#ff2600" d="M1268.3 270.6l7.5-2.8 6-11-7.5-4.9zM1275.8 267.8l7.6 12.6 6-43.4-7.6 19.8zM1283.4 280.4l7.5 8.9 6-44.3-7.5-8z"/>
<path fill="#ff4c00" d="M1290.9 289.3l7.6 1.1 6-33.8-7.6-11.6zM1298.5 290.4l7.5-20.1 6 12-7.5-25.7zM1306 270.3l7.6 18.5 6-36.2-7.6 29.7z"/>
<path fill="#ff2600" d="M1313.6 288.8l7.5-21 6-21.5-7.5 6.3zM1321.1 267.8l7.6-1.4 6-23.9-7.6 3.8zM1328.7 266.4l7.6 18 6-22.3-7.6-19.6z"/>
<path fill="#ff4c00" d="M1336.3 284.4l7.5-17.9 6-3.8-7.5-0.6zM1343.8 266.5l7.6 15.9 6-20.7-7.6 1z"/>
<path fill="#ff2600" d="M1351.4 282.4l7.5-6.2 6-26.1-7.5 11.6z"/>
<path fill="#ff4c00" d="M1358.9 276.2l7.6 16.3 6-19.6-7.6-22.8zM1366.5 292.5l7.5-6.6 6-19.5-7.5 6.5z"/>
<path fill="#ff7300" d="M1374 285.9l7.6 24.6 6-29.9-7.6-14.2z"/>
<path fill="#ff9900" d="M1381.6 310.5l7.5 0.3 6-33.9-7.5 3.7z"/>
<path fill="#ffb200" d="M1389.1 310.8l7.6 45.8 6-50.2-7.6-29.5z"/>
<path fill="#ffe600" d="M1396.7 356.6l7.5 63.1 6-112.6-7.5-0.7z"/>
<path fill="#eeff88" d="M1404.2 419.7l7.6 94.2 6-147.5-7.6-59.3z"/>
<path fill="#3cffee" d="M1411.8 513.9l7.6 125.5 6-183.6-7.6-89.4z"/>
<path fill="#00aaff" d="M1419.4 639.4l7.5 29.2 6-75.8-7.5-137z"/>
<path fill="#003cff" d="M1426.9 668.6l7.6 2.4 6-10-7.6-68.2z"/>
<path fill="#0000ff" d="M1434.5 671l7.5 3.7 6-10.3-7.5-3.4zM1442 674.7l7.6 2.2 6-8.3-7.6-4.2zM1449.6 676.9l7.5 3.4 6-9.1-7.5-2.6zM1457.1 680.3l7.6 1.1 6-8.9-7.6-1.3zM1464.7 681.4l7.5-1.2 6-7.1-7.5-0.6zM1472.2 680.2l7.6 2 6-7.1-7.6-2z"/>
<path fill="#0000e6" d="M1479.8 682.2l7.6 1.2 6-7.4-7.6-0.9zM1487.4 683.4l7.5-1.7 6-4.2-7.5-1.5zM1494.9 681.7l7.6 0.8 6-3.8-7.6-1.2zM1502.5 682.5l7.5 0.8 6-5.9-7.5 1.3zM1510 683.3l7.6 3 6-8.3-7.6-0.6zM1517.6 686.3l7.5 0 6-8.5-7.5 0.2zM1525.1 686.3l7.6 0 6-6-7.6-2.5zM1043.2 692.3l7.5 0 6-8.8-7.5 2.8zM1050.7 692.3l7.6-0.3 6-8.8-7.6 0.3zM1058.3 692l7.5-1.5 6-8.4-7.5 1.1zM1065.8 690.5l7.6-0.5 6-6-7.6-1.9zM1073.4 690l7.5 0 6-7.2-7.5 1.2zM1080.9 690l7.6-2.1 6-5.5-7.6 0.4zM1088.5 687.9l7.5 0 6-6.6-7.5 1.1z"/>
<path fill="#0000ff" d="M1096 687.9l7.6-0.4 6-5.9-7.6-0.3zM1103.6 687.5l7.6 0.3 6-8.8-7.6 2.6zM1111.2 687.8l7.5-0.3 6-10.2-7.5 1.7zM1118.7 687.5l7.6-2.4 6-10-7.6 2.2zM1126.3 685.1l7.5-1.7 6-12.7-7.5 4.4zM1133.8 683.4l7.6-1.9 6-12-7.6 1.2zM1141.4 681.5l7.5-1.3 6-13.9-7.5 3.2z"/>
<path fill="#003cff" d="M1148.9 680.2l7.6-3.4 6-102.6-7.6 92.1z"/>
<path fill="#00aaff" d="M1156.5 676.8l7.5-4.4 6-205.7-7.5 107.5z"/>
<path fill="#1af6ff" d="M1164 672.4l7.6-44.5 6-247-7.6 85.8z"/>
<path fill="#88ffbb" d="M1171.6 627.9l7.6-95.9 6-209.2-7.6 58.1z"/>
<path fill="#f2ff66" d="M1179.2 532l7.5-68.5 6-169.2-7.5 28.5z"/>
<path fill="#fbff22" d="M1186.7 463.5l7.6-40.4 6-134.1-7.6 5.3z"/>
<path fill="#ffe600" d="M1194.3 423.1l7.5-19.7 6-132.8-7.5 18.4z"/>
<path fill="#ffcc00" d="M1201.8 403.4l7.6-12.1 6-111-7.6-9.7zM1209.4 391.3l7.5-18.6 6-106.7-7.5 14.3z"/>
<path fill="#ffb200" d="M1216.9 372.7l7.6-5.3 6-89.1-7.6-12.3z"/>
<path fill="#ff9900" d="M1224.5 367.4l7.5-39.8 6-47.5-7.5-1.8zM1232 327.6l7.6 5.7 6-69.6-7.6 16.4z"/>
<path fill="#ff7300" d="M1239.6 333.3l7.6-1.9 6-66.2-7.6-1.5zM1247.2 331.4l7.5-4.8 6-77.9-7.5 16.5zM1254.7 326.6l7.6-5.6 6-50.4-7.6-21.9zM1262.3 321l7.5-7.6 6-45.6-7.5 2.8zM1269.8 313.4l7.6 8.7 6-41.7-7.6-12.6zM1277.4 322.1l7.5-26.9 6-5.9-7.5-8.9zM1284.9 295.2l7.6 23.9 6-28.7-7.6-1.1zM1292.5 319.1l7.5 3.1 6-51.9-7.5 20.1zM1300 322.2l7.6-4.5 6-28.9-7.6-18.5zM1307.6 317.7l7.5-4.5 6-45.4-7.5 21zM1315.1 313.2l7.6 7.2 6-54-7.6 1.4z"/>
<path fill="#ff9900" d="M1322.7 320.4l7.6 22.1 6-58.1-7.6-18zM1330.3 342.5l7.5 0.5 6-76.5-7.5 17.9zM1337.8 343l7.6 8.4 6-69-7.6-15.9z"/>
<path fill="#ffb200" d="M1345.4 351.4l7.5 5.1 6-80.3-7.5 6.2zM1352.9 356.5l7.6 16 6-80-7.6-16.3z"/>
<path fill="#ffcc00" d="M1360.5 372.5l7.5 26.8 6-113.4-7.5 6.6z"/>
<path fill="#ffff00" d="M1368 399.3l7.6 26.1 6-114.9-7.6-24.6z"/>
<path fill="#fbff22" d="M1375.6 425.4l7.5 35.2 6-149.8-7.5-0.3z"/>
<path fill="#eeff88" d="M1383.1 460.6l7.6 65.9 6-169.9-7.6-45.8z"/>
<path fill="#6effcc" d="M1390.7 526.5l7.5 99.4 6-206.2-7.5-63.1z"/>
<path fill="#08e6ff" d="M1398.2 625.9l7.6 45.8 6-157.8-7.6-94.2z"/>
<path fill="#0077ff" d="M1405.8 671.7l7.6 2.9 6-35.2-7.6-125.5z"/>
<path fill="#001eff" d="M1413.4 674.6l7.5 4.8 6-10.8-7.5-29.2z"/>
<path fill="#0000ff" d="M1420.9 679.4l7.6 3.8 6-12.2-7.6-2.4zM1428.5 683.2l7.5 1.4 6-9.9-7.5-3.7zM1436 684.6l7.6 2.3 6-10-7.6-2.2zM1443.6 686.9l7.5-0.5 6-6.1-7.5-3.4zM1451.1 686.4l7.6 1.4 6-6.4-7.6-1.1zM1458.7 687.8l7.5 1.7 6-9.3-7.5 1.2z"/>
<path fill="#0000e6" d="M1466.2 689.5l7.6-0.1 6-7.2-7.6-2zM1473.8 689.4l7.6-0.8 6-5.2-7.6-1.2zM1481.4 688.6l7.5 0.8 6-7.7-7.5 1.7zM1488.9 689.4l7.6 1.2 6-8.1-7.6-0.8zM1496.5 690.6l7.5 1.7 6-9-7.5-0.8zM1504 692.3l7.6 0 6-6-7.6-3zM1052.3 698.4l7.5 0 6-7.9-7.5 1.5zM1059.8 698.4l7.6 0.2 6-8.6-7.6 0.5zM1067.4 698.6l7.5-1 6-7.6-7.5 0zM1074.9 697.6l7.6-2.1 6-7.6-7.6 2.1zM1082.5 695.5l7.5-1 6-6.6-7.5 0zM1090 694.5l7.6 0.8 6-7.8-7.6 0.4zM1097.6 695.3l7.6-1.2 6-6.3-7.6-0.3zM1105.2 694.1l7.5 0.4 6-7-7.5 0.3z"/>
<path fill="#0000ff" d="M1112.7 694.5l7.6-0.6 6-8.8-7.6 2.4zM1120.3 693.9l7.5-2.4 6-8.1-7.5 1.7zM1127.8 691.5l7.6-1 6-9-7.6 1.9zM1135.4 690.5l7.5-1.1 6-9.2-7.5 1.3zM1142.9 689.4l7.6-0.9 6-11.7-7.6 3.4zM1150.5 688.5l7.5-3.2 6-12.9-7.5 4.4z"/>
<path fill="#001eff" d="M1158 685.3l7.6-1.9 6-55.5-7.6 44.5z"/>
<path fill="#0077ff" d="M1165.6 683.4l7.6-1.9 6-149.5-7.6 95.9z"/>
<path fill="#00c4ff" d="M1173.2 681.5l7.5-2 6-216-7.5 68.5z"/>
<path fill="#08e6ff" d="M1180.7 679.5l7.6-1.3 6-255.1-7.6 40.4z"/>
<path fill="#11eeff" d="M1188.3 678.2l7.5-0.9 6-273.9-7.5 19.7z"/>
<path fill="#1af6ff" d="M1195.8 677.3l7.6-18.8 6-267.2-7.6 12.1z"/>
<path fill="#3cffee" d="M1203.4 658.5l7.5-15.2 6-270.6-7.5 18.6z"/>
<path fill="#55ffdd" d="M1210.9 643.3l7.6-15.3 6-260.6-7.6 5.3z"/>
<path fill="#6effcc" d="M1218.5 628l7.5-22.1 6-278.3-7.5 39.8z"/>
<path fill="#a2ffae" d="M1226 605.9l7.6-20.7 6-251.9-7.6-5.7zM1233.6 585.2l7.6-18.4 6-235.4-7.6 1.9z"/>
<path fill="#bbffa2" d="M1241.2 566.8l7.5-16.6 6-223.6-7.5 4.8z"/>
<path fill="#d4ff95" d="M1248.7 550.2l7.6-12.7 6-216.5-7.6 5.6z"/>
<path fill="#eeff88" d="M1256.3 537.5l7.5-9.2 6-214.9-7.5 7.6zM1263.8 528.3l7.6-4.1 6-202.1-7.6-8.7zM1271.4 524.2l7.5-0.6 6-228.4-7.5 26.9zM1278.9 523.6l7.6 2 6-206.5-7.6-23.9zM1286.5 525.6l7.5 6 6-209.4-7.5-3.1z"/>
<path fill="#d4ff95" d="M1294 531.6l7.6 12.8 6-226.7-7.6 4.5zM1301.6 544.4l7.5 10.9 6-242.1-7.5 4.5z"/>
<path fill="#bbffa2" d="M1309.1 555.3l7.6 13.4 6-248.3-7.6-7.2z"/>
<path fill="#a2ffae" d="M1316.7 568.7l7.6 14.4 6-240.6-7.6-22.1z"/>
<path fill="#88ffbb" d="M1324.3 583.1l7.5 16 6-256.1-7.5-0.5zM1331.8 599.1l7.6 18 6-265.7-7.6-8.4z"/>
<path fill="#6effcc" d="M1339.4 617.1l7.5 17.6 6-278.2-7.5-5.1z"/>
<path fill="#55ffdd" d="M1346.9 634.7l7.6 13.3 6-275.5-7.6-16z"/>
<path fill="#22ffff" d="M1354.5 648l7.5 15.3 6-264-7.5-26.8z"/>
<path fill="#1af6ff" d="M1362 663.3l7.6 13.3 6-251.2-7.6-26.1z"/>
<path fill="#08e6ff" d="M1369.6 676.6l7.5 2.7 6-218.7-7.5-35.2z"/>
<path fill="#00c4ff" d="M1377.1 679.3l7.6 1.7 6-154.5-7.6-65.9z"/>
<path fill="#0077ff" d="M1384.7 681l7.5 2.1 6-57.2-7.5-99.4z"/>
<path fill="#001eff" d="M1392.2 683.1l7.6 2.8 6-14.2-7.6-45.8z"/>
<path fill="#0000ff" d="M1399.8 685.9l7.6 2.7 6-14-7.6-2.9zM1407.4 688.6l7.5 0.9 6-10.1-7.5-4.8zM1414.9 689.5l7.6 1.8 6-8.1-7.6-3.8zM1422.5 691.3l7.5 1 6-7.7-7.5-1.4zM1430 692.3l7.6 1.9 6-7.3-7.6-2.3zM1437.6 694.2l7.5 0.7 6-8.5-7.5 0.5z"/>
<path fill="#0000e6" d="M1445.1 694.9l7.6 0.1 6-7.2-7.6-1.4zM1452.7 695l7.5 0.2 6-5.7-7.5-1.7zM1460.2 695.2l7.6 1.3 6-7.1-7.6 0.1zM1467.8 696.5l7.6-0.5 6-7.4-7.6 0.8zM1475.4 696l7.5 0.4 6-7-7.5-0.8zM1482.9 696.4l7.6 2 6-7.8-7.6-1.2zM1490.5 698.4l7.5 0 6-6.1-7.5-1.7zM1068.9 704.4l7.6-4 6-4.9-7.6 2.1zM1076.5 700.4l7.5 1.2 6-7.1-7.5 1zM1084 701.6l7.6 0.8 6-7.1-7.6-0.8zM1091.6 702.4l7.6-2.1 6-6.2-7.6 1.2zM1099.2 700.3l7.5-0.3 6-5.5-7.5-0.4zM1106.7 700l7.6 2.2 6-8.3-7.6 0.6zM1114.3 702.2l7.5-1.9 6-8.8-7.5 2.4z"/>
<path fill="#0000ff" d="M1121.8 700.3l7.6-2.3 6-7.5-7.6 1zM1129.4 698l7.5-0.7 6-7.9-7.5 1.1zM1136.9 697.3l7.6 1 6-9.8-7.6 0.9zM1144.5 698.3l7.5-2.2 6-10.8-7.5 3.2zM1152 696.1l7.6-1.9 6-10.8-7.6 1.9zM1159.6 694.2l7.6-0.4 6-12.3-7.6 1.9zM1167.2 693.8l7.5 0.5 6-14.8-7.5 2zM1174.7 694.3l7.6-1.5 6-14.6-7.6 1.3zM1182.3 692.8l7.5-1.4 6-14.1-7.5 0.9z"/>
<path fill="#001eff" d="M1189.8 691.4l7.6-0.4 6-32.5-7.6 18.8zM1197.4 691l7.5 0.9 6-48.6-7.5 15.2z"/>
<path fill="#003cff" d="M1204.9 691.9l7.6-3.6 6-60.3-7.6 15.3z"/>
<path fill="#0059ff" d="M1212.5 688.3l7.5 1.6 6-84-7.5 22.1z"/>
<path fill="#0077ff" d="M1220 689.9l7.6 1.3 6-106-7.6 20.7zM1227.6 691.2l7.6-1.5 6-122.9-7.6 18.4z"/>
<path fill="#0090ff" d="M1235.2 689.7l7.5 2 6-141.5-7.5 16.6z"/>
<path fill="#00aaff" d="M1242.7 691.7l7.6-2.1 6-152.1-7.6 12.7zM1250.3 689.6l7.5-0.8 6-160.5-7.5 9.2zM1257.8 688.8l7.6-2.4 6-162.2-7.6 4.1zM1265.4 686.4l7.5 2 6-164.8-7.5 0.6zM1272.9 688.4l7.6-0.1 6-162.7-7.6-2zM1280.5 688.3l7.5-0.3 6-156.4-7.5-6zM1288 688l7.6 0.6 6-144.2-7.6-12.8z"/>
<path fill="#0090ff" d="M1295.6 688.6l7.5 1 6-134.3-7.5-10.9zM1303.1 689.6l7.6-1.6 6-119.3-7.6-13.4z"/>
<path fill="#0077ff" d="M1310.7 688l7.6 1 6-105.9-7.6-14.4zM1318.3 689l7.5-0.6 6-89.3-7.5-16z"/>
<path fill="#0059ff" d="M1325.8 688.4l7.6 0.9 6-72.2-7.6-18z"/>
<path fill="#003cff" d="M1333.4 689.3l7.5 2.3 6-56.9-7.5-17.6zM1340.9 691.6l7.6 0 6-43.6-7.6-13.3z"/>
<path fill="#001eff" d="M1348.5 691.6l7.5 0.4 6-28.7-7.5-15.3zM1356 692l7.6 0.6 6-16-7.6-13.3z"/>
<path fill="#0000ff" d="M1363.6 692.6l7.5-0.2 6-13.1-7.5-2.7zM1371.1 692.4l7.6 1.4 6-12.8-7.6-1.7zM1378.7 693.8l7.5 1.5 6-12.2-7.5-2.1zM1386.2 695.3l7.6-1 6-8.4-7.6-2.8zM1393.8 694.3l7.6 1.3 6-7-7.6-2.7zM1401.4 695.6l7.5 2.3 6-8.4-7.5-0.9zM1408.9 697.9l7.6 2.1 6-8.7-7.6-1.8zM1416.5 700l7.5 0.4 6-8.1-7.5-1z"/>
<path fill="#0000e6" d="M1424 700.4l7.6 0.8 6-7-7.6-1.9zM1431.6 701.2l7.5 0.6 6-6.9-7.5-0.7zM1439.1 701.8l7.6 0.6 6-7.4-7.6-0.1zM1446.7 702.4l7.5-0.8 6-6.4-7.5-0.2zM1454.2 701.6l7.6 0.2 6-5.3-7.6-1.3zM1461.8 701.8l7.6 2.6 6-8.4-7.6 0.5zM1469.4 704.4l7.5 0 6-8-7.5-0.4zM1476.9 704.4l7.6 0 6-6-7.6-2zM1062.9 710.4l7.6 0 6-10-7.6 4zM1070.5 710.4l7.5 0 6-8.8-7.5-1.2zM1078 710.4l7.6-2.3 6-5.7-7.6-0.8zM1085.6 708.1l7.6-2.1 6-5.7-7.6 2.1zM1093.2 706l7.5 1.4 6-7.4-7.5 0.3zM1100.7 707.4l7.6 0.6 6-5.8-7.6-2.2zM1108.3 708l7.5-1.6 6-6.1-7.5 1.9z"/>
<path fill="#0000ff" d="M1115.8 706.4l7.6 0.5 6-8.9-7.6 2.3zM1123.4 706.9l7.5-0.8 6-8.8-7.5 0.7zM1130.9 706.1l7.6 1.6 6-9.4-7.6-1zM1138.5 707.7l7.5-3 6-8.6-7.5 2.2zM1146 704.7l7.6 0.4 6-10.9-7.6 1.9zM1153.6 705.1l7.6-2.1 6-9.2-7.6 0.4zM1161.2 703l7.5 0.6 6-9.3-7.5-0.5zM1168.7 703.6l7.6 0.1 6-10.9-7.6 1.5zM1176.3 703.7l7.5 0.3 6-12.6-7.5 1.4zM1183.8 704l7.6-1.3 6-11.7-7.6 0.4zM1191.4 702.7l7.5 0.2 6-11-7.5-0.9zM1198.9 702.9l7.6 0.1 6-14.7-7.6 3.6zM1206.5 703l7.5-2.7 6-10.4-7.5-1.6zM1214 700.3l7.6 1.7 6-10.8-7.6-1.3zM1221.6 702l7.6-1.2 6-11.1-7.6 1.5zM1229.2 700.8l7.5-0.7 6-8.4-7.5-2zM1236.7 700.1l7.6 0.9 6-11.4-7.6 2.1zM1244.3 701l7.5-0.3 6-11.9-7.5 0.8zM1251.8 700.7l7.6 0.1 6-14.4-7.6 2.4zM1259.4 700.8l7.5-0.5 6-11.9-7.5-2zM1266.9 700.3l7.6 0.4 6-12.4-7.6 0.1zM1274.5 700.7l7.5 0.1 6-12.8-7.5 0.3zM1282 700.8l7.6 0.4 6-12.6-7.6-0.6zM1289.6 701.2l7.5 0.7 6-12.3-7.5-1zM1297.1 701.9l7.6 0.1 6-14-7.6 1.6zM1304.7 702l7.6 0.4 6-13.4-7.6-1zM1312.3 702.4l7.5-0.6 6-13.4-7.5 0.6zM1319.8 701.8l7.6-0.9 6-11.6-7.6-0.9zM1327.4 700.9l7.5 2.4 6-11.7-7.5-2.3zM1334.9 703.3l7.6 0 6-11.7-7.6 0zM1342.5 703.3l7.5 0.6 6-11.9-7.5-0.4zM1350 703.9l7.6-0.6 6-10.7-7.6-0.6zM1357.6 703.3l7.5-0.7 6-10.2-7.5 0.2zM1365.1 702.6l7.6 1.6 6-10.4-7.6-1.4zM1372.7 704.2l7.5-0.2 6-8.7-7.5-1.5zM1380.2 704l7.6 3 6-12.7-7.6 1zM1387.8 707l7.6-1.5 6-9.9-7.6-1.3zM1395.4 705.5l7.5 0 6-7.6-7.5-2.3zM1402.9 705.5l7.6 1.6 6-7.1-7.6-2.1z"/>
<path fill="#0000e6" d="M1410.5 707.1l7.5 1.4 6-8.1-7.5-0.4zM1418 708.5l7.6-1.5 6-5.8-7.6-0.8zM1425.6 707l7.5 0.8 6-6-7.5-0.6zM1433.1 707.8l7.6-1.5 6-3.9-7.6-0.6zM1440.7 706.3l7.5 2.5 6-7.2-7.5 0.8zM1448.2 708.8l7.6 1.6 6-8.6-7.6-0.2zM1455.8 710.4l7.6 0 6-6-7.6-2.6zM1072 716.4l7.6 0 6-8.3-7.6 2.3zM1079.6 716.4l7.6 0 6-10.4-7.6 2.1zM1087.2 716.4l7.5-3.2 6-5.8-7.5-1.4zM1094.7 713.2l7.6 1.5 6-6.7-7.6-0.6zM1102.3 714.7l7.5 1 6-9.3-7.5 1.6zM1109.8 715.7l7.6-2.1 6-6.7-7.6-0.5zM1117.4 713.6l7.5-0.5 6-7-7.5 0.8zM1124.9 713.1l7.6-1.4 6-4-7.6-1.6z"/>
<path fill="#0000ff" d="M1132.5 711.7l7.5-1.3 6-5.7-7.5 3zM1140 710.4l7.6 1.9 6-7.2-7.6-0.4zM1147.6 712.3l7.6-1.2 6-8.1-7.6 2.1zM1155.2 711.1l7.5-0.1 6-7.4-7.5-0.6zM1162.7 711l7.6 0.7 6-8-7.6-0.1zM1170.3 711.7l7.5-0.7 6-7-7.5-0.3zM1177.8 711l7.6 0.3 6-8.6-7.6 1.3zM1185.4 711.3l7.5-1.3 6-7.1-7.5-0.2zM1192.9 710l7.6 2.4 6-9.4-7.6-0.1zM1200.5 712.4l7.5 1 6-13.1-7.5 2.7zM1208 713.4l7.6-2.4 6-9-7.6-1.7zM1215.6 711l7.6-0.9 6-9.3-7.6 1.2zM1223.2 710.1l7.5-0.2 6-9.8-7.5 0.7zM1230.7 709.9l7.6 1.5 6-10.4-7.6-0.9zM1238.3 711.4l7.5-1.1 6-9.6-7.5 0.3zM1245.8 710.3l7.6 1.1 6-10.6-7.6-0.1zM1253.4 711.4l7.5-1.3 6-9.8-7.5 0.5zM1260.9 710.1l7.6 1.4 6-10.8-7.6-0.4zM1268.5 711.5l7.5 0.3 6-11-7.5-0.1zM1276 711.8l7.6-1.8 6-8.8-7.6-0.4zM1283.6 710l7.5 2.1 6-10.2-7.5-0.7zM1291.1 712.1l7.6 0.3 6-10.4-7.6-0.1zM1298.7 712.4l7.6-2.1 6-7.9-7.6-0.4zM1306.3 710.3l7.5 0.8 6-9.3-7.5 0.6zM1313.8 711.1l7.6 2.4 6-12.6-7.6 0.9zM1321.4 713.5l7.5-3.2 6-7-7.5-2.4zM1328.9 710.3l7.6 2.5 6-9.5-7.6 0zM1336.5 712.8l7.5-0.6 6-8.3-7.5-0.6zM1344 712.2l7.6-0.2 6-8.7-7.6 0.6zM1351.6 712l7.5-1.9 6-7.5-7.5 0.7zM1359.1 710.1l7.6 2.1 6-8-7.6-1.6zM1366.7 712.2l7.5-0.6 6-7.6-7.5 0.2zM1374.2 711.6l7.6 1.2 6-5.8-7.6-3z"/>
<path fill="#0000e6" d="M1381.8 712.8l7.6-0.4 6-6.9-7.6 1.5zM1389.4 712.4l7.5 2.1 6-9-7.5 0zM1396.9 714.5l7.6-1.1 6-6.3-7.6-1.6zM1404.5 713.4l7.5 0.9 6-5.8-7.5-1.4zM1412 714.3l7.6 0.6 6-7.9-7.6 1.5zM1419.6 714.9l7.5-1 6-6.1-7.5-0.8zM1427.1 713.9l7.6 2.5 6-10.1-7.6 1.5zM1434.7 716.4l7.5 0 6-7.6-7.5-2.5zM1442.2 716.4l7.6 0 6-6-7.6-1.6zM1081.2 722.5l7.5 0 6-9.3-7.5 3.2zM1088.7 722.5l7.6 0 6-7.8-7.6-1.5zM1096.3 722.5l7.5 0 6-6.8-7.5-1zM1103.8 722.5l7.6-1.9 6-7-7.6 2.1zM1111.4 720.6l7.5 0.6 6-8.1-7.5 0.5zM1118.9 721.2l7.6-2.9 6-6.6-7.6 1.4zM1126.5 718.3l7.5 1.2 6-9.1-7.5 1.3zM1134 719.5l7.6 1.3 6-8.5-7.6-1.9zM1141.6 720.8l7.6-0.6 6-9.1-7.6 1.2zM1149.2 720.2l7.5 0.9 6-10.1-7.5 0.1zM1156.7 721.1l7.6 0.1 6-9.5-7.6-0.7zM1164.3 721.2l7.5 0 6-10.2-7.5 0.7zM1171.8 721.2l7.6-1.1 6-8.8-7.6-0.3zM1179.4 720.1l7.5-1.3 6-8.8-7.5 1.3z"/>
<path fill="#0000ff" d="M1186.9 718.8l7.6-0.3 6-6.1-7.6-2.4z"/>
<path fill="#0000e6" d="M1194.5 718.5l7.5 0.7 6-5.8-7.5-1zM1202 719.2l7.6-1.1 6-7.1-7.6 2.4z"/>
<path fill="#0000ff" d="M1209.6 718.1l7.6 0.4 6-8.4-7.6 0.9zM1217.2 718.5l7.5 1.6 6-10.2-7.5 0.2z"/>
<path fill="#0000e6" d="M1224.7 720.1l7.6-0.4 6-8.3-7.6-1.5zM1232.3 719.7l7.5-1.1 6-8.3-7.5 1.1z"/>
<path fill="#0000ff" d="M1239.8 718.6l7.6-0.4 6-6.8-7.6-1.1zM1247.4 718.2l7.5-0.4 6-7.7-7.5 1.3zM1254.9 717.8l7.6 2.4 6-8.7-7.6-1.4z"/>
<path fill="#0000e6" d="M1262.5 720.2l7.5 0.6 6-9-7.5-0.3z"/>
<path fill="#0000ff" d="M1270 720.8l7.6-3.8 6-7-7.6 1.8zM1277.6 717l7.5 2.2 6-7.1-7.5-2.1z"/>
<path fill="#0000e6" d="M1285.1 719.2l7.6-1.2 6-5.6-7.6-0.3z"/>
<path fill="#0000ff" d="M1292.7 718l7.6 1 6-8.7-7.6 2.1z"/>
<path fill="#0000e6" d="M1300.3 719l7.5 1.4 6-9.3-7.5-0.8zM1307.8 720.4l7.6-2.6 6-4.3-7.6-2.4zM1315.4 717.8l7.5 1 6-8.5-7.5 3.2z"/>
<path fill="#0000ff" d="M1322.9 718.8l7.6-0.9 6-5.1-7.6-2.5z"/>
<path fill="#0000e6" d="M1330.5 717.9l7.5 0.9 6-6.6-7.5 0.6zM1338 718.8l7.6 1.6 6-8.4-7.6 0.2zM1345.6 720.4l7.5-0.8 6-9.5-7.5 1.9zM1353.1 719.6l7.6-0.9 6-6.5-7.6-2.1zM1360.7 718.7l7.5 1.7 6-8.8-7.5 0.6zM1368.2 720.4l7.6-0.7 6-6.9-7.6-1.2zM1375.8 719.7l7.6-0.9 6-6.4-7.6 0.4zM1383.4 718.8l7.5 2.5 6-6.8-7.5-2.1zM1390.9 721.3l7.6-0.7 6-7.2-7.6 1.1zM1398.5 720.6l7.5-0.4 6-5.9-7.5-0.9zM1406 720.2l7.6 2.3 6-7.6-7.6-0.6zM1413.6 722.5l7.5 0 6-8.6-7.5 1zM1421.1 722.5l7.6 0 6-6.1-7.6-2.5zM1097.8 728.5l7.6 0 6-7.9-7.6 1.9zM1105.4 728.5l7.5 0 6-7.3-7.5-0.6zM1112.9 728.5l7.6 0 6-10.2-7.6 2.9zM1120.5 728.5l7.5 0 6-9-7.5-1.2zM1128 728.5l7.6 1.1 6-8.8-7.6-1.3zM1135.6 729.6l7.6-2.5 6-6.9-7.6 0.6zM1143.2 727.1l7.5-1.4 6-4.6-7.5-0.9zM1150.7 725.7l7.6 0.9 6-5.4-7.6-0.1zM1158.3 726.6l7.5-1.7 6-3.7-7.5 0zM1165.8 724.9l7.6 2.1 6-6.9-7.6 1.1zM1173.4 727l7.5-1.3 6-6.9-7.5 1.3zM1180.9 725.7l7.6 0.2 6-7.4-7.6 0.3zM1188.5 725.9l7.5-0.1 6-6.6-7.5-0.7zM1196 725.8l7.6 1.6 6-9.3-7.6 1.1zM1203.6 727.4l7.6-1.3 6-7.6-7.6-0.4zM1211.2 726.1l7.5-0.4 6-5.6-7.5-1.6zM1218.7 725.7l7.6 0.6 6-6.6-7.6 0.4zM1226.3 726.3l7.5 0.9 6-8.6-7.5 1.1zM1233.8 727.2l7.6-0.8 6-8.2-7.6 0.4zM1241.4 726.4l7.5 0.5 6-9.1-7.5 0.4zM1248.9 726.9l7.6-1.3 6-5.4-7.6-2.4zM1256.5 725.6l7.5-0.6 6-4.2-7.5-0.6zM1264 725l7.6 0.7 6-8.7-7.6 3.8zM1271.6 725.7l7.5-0.1 6-6.4-7.5-2.2zM1279.1 725.6l7.6 0.6 6-8.2-7.6 1.2zM1286.7 726.2l7.6-0.3 6-6.9-7.6-1zM1294.3 725.9l7.5 2 6-7.5-7.5-1.4zM1301.8 727.9l7.6-1.9 6-8.2-7.6 2.6zM1309.4 726l7.5-0.7 6-6.5-7.5-1zM1316.9 725.3l7.6 1.4 6-8.8-7.6 0.9zM1324.5 726.7l7.5-1.1 6-6.8-7.5-0.9zM1332 725.6l7.6 2.1 6-7.3-7.6-1.6zM1339.6 727.7l7.5-1.4 6-6.7-7.5 0.8zM1347.1 726.3l7.6 0.3 6-7.9-7.6 0.9zM1354.7 726.6l7.5-0.6 6-5.6-7.5-1.7zM1362.2 726l7.6 2.5 6-8.8-7.6 0.7zM1369.8 728.5l7.6 0 6-9.7-7.6 0.9zM1377.4 728.5l7.5 0 6-7.2-7.5-2.5zM1384.9 728.5l7.6 0 6-7.9-7.6 0.7zM1392.5 728.5l7.5 0 6-8.3-7.5 0.4zM1400 728.5l7.6 0 6-6-7.6-2.3z"/>
</g>
<g filter="url(#tb)"><path d="M983 770.4H1588.4L1829.3 527.3" fill="none" stroke="#6c6c6c" stroke-width="2.2"/>
<path d="M983 770.4v-4.5M1134 770.4v-4.5M1285.5 770.4v-4.5M1437 770.4v-4.5M1588 770.4v-4.5M1648.6 710l-3-3.5M1708.8 649.5l-3-3.5M1769.2 588.8l-3-3.5M1829.3 527.3l-3-3.5" fill="none" stroke="#666" stroke-width="2"/>
<g font-size="27" fill="#6e6e6e" stroke="#6e6e6e" stroke-width=".4">
<text x="980.5" y="795.5" text-anchor="middle">-2.00</text>
<text x="1132.5" y="795.5" text-anchor="middle">x[mm]</text>
<text x="1284.5" y="795.5" text-anchor="middle">0.00</text>
<text x="1586.5" y="795.5" text-anchor="end">2.00</text>
<text x="1587.5" y="795.5">-2.00</text>
<text x="1706" y="676.5">0.00</text>
<text x="1767" y="616">y[mm]</text>
<text x="1828" y="555.5">2.00</text>
</g>
<g class="cb">
<rect x="1781" y="108" width="18.5" height="333.5" fill="#777"/>
<rect x="1782" y="109.00" width="16.5" height="30.14" fill="#990000"/>
<rect x="1782" y="139.14" width="16.5" height="30.14" fill="#ff0000"/>
<rect x="1782" y="169.27" width="16.5" height="30.14" fill="#ff9900"/>
<rect x="1782" y="199.41" width="16.5" height="30.14" fill="#ffff00"/>
<rect x="1782" y="229.55" width="16.5" height="30.14" fill="#eeff88"/>
<rect x="1782" y="259.68" width="16.5" height="30.14" fill="#88ffbb"/>
<rect x="1782" y="289.82" width="16.5" height="30.14" fill="#22ffff"/>
<rect x="1782" y="319.95" width="16.5" height="30.14" fill="#00ddff"/>
<rect x="1782" y="350.09" width="16.5" height="30.14" fill="#0077ff"/>
<rect x="1782" y="380.23" width="16.5" height="30.14" fill="#0000ff"/>
<rect x="1782" y="410.36" width="16.5" height="30.14" fill="#000099"/>
<rect x="1782" y="138.04" width="16.5" height="2.2" fill="#111"/>
<rect x="1782" y="168.17" width="16.5" height="2.2" fill="#111"/>
<rect x="1782" y="198.31" width="16.5" height="2.2" fill="#111"/>
<rect x="1782" y="228.45" width="16.5" height="2.2" fill="#111"/>
<rect x="1782" y="258.58" width="16.5" height="2.2" fill="#111"/>
<rect x="1782" y="288.72" width="16.5" height="2.2" fill="#111"/>
<rect x="1782" y="318.85" width="16.5" height="2.2" fill="#111"/>
<rect x="1782" y="348.99" width="16.5" height="2.2" fill="#111"/>
<rect x="1782" y="379.13" width="16.5" height="2.2" fill="#111"/>
<rect x="1782" y="409.26" width="16.5" height="2.2" fill="#111"/>
<text x="1845" y="133.2" font-size="25.5" text-anchor="end" fill="#6e6e6e" stroke="#6e6e6e" stroke-width=".35">100</text>
<text x="1845" y="163.3" font-size="25.5" text-anchor="end" fill="#6e6e6e" stroke="#6e6e6e" stroke-width=".35">90</text>
<text x="1845" y="193.5" font-size="25.5" text-anchor="end" fill="#6e6e6e" stroke="#6e6e6e" stroke-width=".35">80</text>
<text x="1845" y="223.6" font-size="25.5" text-anchor="end" fill="#6e6e6e" stroke="#6e6e6e" stroke-width=".35">70</text>
<text x="1845" y="253.7" font-size="25.5" text-anchor="end" fill="#6e6e6e" stroke="#6e6e6e" stroke-width=".35">60</text>
<text x="1845" y="283.9" font-size="25.5" text-anchor="end" fill="#6e6e6e" stroke="#6e6e6e" stroke-width=".35">50</text>
<text x="1845" y="314.0" font-size="25.5" text-anchor="end" fill="#6e6e6e" stroke="#6e6e6e" stroke-width=".35">40</text>
<text x="1845" y="344.2" font-size="25.5" text-anchor="end" fill="#6e6e6e" stroke="#6e6e6e" stroke-width=".35">30</text>
<text x="1845" y="374.3" font-size="25.5" text-anchor="end" fill="#6e6e6e" stroke="#6e6e6e" stroke-width=".35">20</text>
<text x="1845" y="404.4" font-size="25.5" text-anchor="end" fill="#6e6e6e" stroke="#6e6e6e" stroke-width=".35">10</text>
<text x="1845" y="434.6" font-size="25.5" text-anchor="end" fill="#6e6e6e" stroke="#6e6e6e" stroke-width=".35">0</text>
<text x="1845" y="103.5" font-size="25.5" text-anchor="end" fill="#6e6e6e" stroke="#6e6e6e" stroke-width=".35">%</text>
</g></g>
</g>
<g id="pc">
<clipPath id="cc"><path d="M800.8 1345.9L798.3 1351.5L800.1 1357.5L797.1 1363.0L797.9 1368.9L796.7 1374.6L795.3 1380.2L795.1 1386.1L794.7 1391.9L793.9 1397.7L792.9 1403.5L789.3 1408.5L788.7 1414.4L787.9 1420.2L783.8 1425.0L783.9 1431.2L781.5 1436.4L779.8 1442.0L776.5 1447.0L774.4 1452.3L771.9 1457.6L770.5 1463.3L767.8 1468.5L765.2 1473.7L762.2 1478.7L759.8 1484.0L756.7 1489.0L751.3 1492.4L748.2 1497.2L747.1 1503.5L744.1 1508.6L740.2 1512.9L735.3 1516.4L731.4 1520.8L729.7 1526.9L724.4 1530.0L722.0 1535.6L716.7 1538.7L712.4 1542.5L707.4 1545.7L704.9 1551.5L699.4 1554.0L694.9 1557.6L690.3 1561.2L687.8 1567.3L682.2 1569.6L676.5 1571.7L673.0 1576.7L667.4 1578.8L663.1 1582.7L657.8 1585.1L653.3 1589.0L649.0 1593.2L643.8 1595.9L638.6 1598.5L633.2 1600.7L627.0 1601.0L622.2 1604.4L616.6 1606.2L611.6 1609.1L606.1 1611.0L600.5 1612.4L594.9 1613.9L589.4 1615.7L583.9 1617.7L579.0 1621.6L573.1 1622.2L567.7 1624.6L561.7 1624.2L555.9 1624.4L550.6 1627.9L544.7 1628.4L538.9 1628.6L533.2 1629.7L527.2 1628.4L521.6 1630.3L515.7 1629.7L509.9 1630.4L504.1 1630.2L498.4 1629.0L492.6 1628.9L486.7 1631.5L481.0 1628.6L475.1 1629.9L469.2 1630.2L463.6 1628.5L457.9 1627.3L452.4 1624.9L446.4 1625.9L440.4 1625.9L435.4 1621.9L429.1 1623.0L423.8 1620.4L418.6 1617.6L412.7 1617.0L407.1 1615.5L402.0 1612.5L395.6 1613.0L390.9 1609.1L385.3 1607.5L380.8 1603.4L375.3 1601.6L368.9 1601.3L363.9 1598.3L359.2 1594.8L354.6 1591.3L348.9 1589.5L344.0 1586.4L340.1 1581.7L335.3 1578.4L329.5 1576.7L325.8 1572.0L320.0 1570.0L314.8 1567.1L311.3 1562.3L307.1 1558.2L303.3 1553.8L299.2 1549.8L294.5 1546.3L290.4 1542.3L286.2 1538.3L282.2 1534.1L278.5 1529.6L275.2 1524.8L269.9 1521.7L265.5 1517.8L262.4 1512.9L258.8 1508.2L255.9 1503.2L253.8 1497.6L248.5 1494.1L246.5 1488.5L244.6 1482.9L240.1 1478.8L236.7 1474.0L234.5 1468.6L231.4 1463.6L231.1 1457.4L226.8 1453.0L224.5 1447.6L224.3 1441.4L222.2 1436.0L219.5 1430.9L218.7 1425.0L214.1 1420.4L215.4 1414.0L212.6 1408.7L210.3 1403.3L210.7 1397.3L208.9 1391.8L208.9 1385.9L204.9 1380.7L205.6 1374.7L204.5 1369.0L204.4 1363.2L202.5 1357.5L201.3 1351.8L202.7 1345.9L204.8 1340.0L207.0 1334.2L205.9 1328.2L206.2 1322.3L207.3 1316.4L207.3 1310.5L209.2 1304.7L209.0 1298.8L208.4 1292.8L208.8 1286.7L211.5 1281.0L213.4 1275.2L214.8 1269.3L217.0 1263.6L215.8 1257.0L217.9 1251.3L219.3 1245.3L220.9 1239.8L223.0 1234.6L225.4 1229.4L227.5 1224.1L228.6 1218.4L230.2 1212.9L232.7 1207.8L234.3 1201.9L238.8 1197.2L243.7 1192.8L247.4 1187.5L252.6 1183.1L254.1 1177.6L256.9 1172.8L260.0 1168.2L263.1 1163.6L265.6 1158.8L269.8 1154.0L274.0 1149.3L277.7 1143.9L283.8 1141.4L288.7 1137.2L293.1 1133.0L295.3 1125.8L298.0 1117.6L304.8 1116.6L311.5 1116.6L318.2 1116.6L325.0 1116.6L332.1 1116.2L337.1 1119.9L340.9 1124.8L344.9 1128.6L350.4 1132.0L356.1 1134.9L361.4 1138.2L364.1 1143.7L367.7 1148.7L372.0 1152.9L374.4 1158.9L379.0 1162.7L383.8 1166.4L386.2 1171.7L389.5 1176.5L393.3 1181.0L394.7 1186.9L396.7 1192.7L401.5 1198.0L407.3 1202.6L411.9 1208.8L410.2 1216.1L411.4 1222.9L413.0 1229.3L409.8 1236.3L408.0 1244.9L397.0 1248.1L396.4 1254.6L394.0 1260.4L390.7 1265.7L389.5 1272.0L384.7 1276.0L380.5 1281.9L373.5 1284.8L373.2 1290.8L371.8 1296.6L371.6 1302.6L369.6 1308.5L371.3 1314.9L370.6 1321.2L370.8 1327.5L369.1 1333.7L370.2 1340.2L366.9 1345.5L370.0 1350.3L370.3 1355.6L370.7 1360.8L372.9 1365.6L374.1 1370.7L373.7 1376.4L377.0 1380.7L379.5 1385.3L379.8 1391.0L383.1 1395.3L385.5 1399.9L387.5 1404.9L391.0 1408.9L395.3 1412.3L399.2 1415.8L401.2 1420.9L404.4 1425.2L407.9 1429.1L413.2 1431.1L416.2 1435.7L419.7 1439.8L425.3 1440.9L429.6 1443.9L433.8 1447.0L438.2 1450.0L442.2 1453.7L447.6 1454.6L452.1 1457.6L457.3 1458.7L462.5 1459.7L467.7 1460.6L472.7 1461.9L477.6 1464.4L483.1 1463.2L488.2 1463.6L493.4 1464.3L498.6 1466.0L503.8 1465.0L509.0 1464.3L514.2 1464.3L519.3 1462.8L524.7 1463.2L530.1 1463.4L534.9 1461.0L539.9 1459.6L544.4 1456.6L549.6 1455.6L554.1 1453.0L558.8 1450.8L564.8 1450.9L569.1 1447.8L573.9 1445.4L576.9 1440.6L581.6 1438.1L586.9 1436.3L589.8 1431.7L594.9 1429.4L598.7 1425.7L599.8 1419.7L604.4 1416.7L608.0 1412.9L610.5 1408.2L613.5 1403.9L616.1 1399.4L618.3 1394.7L620.1 1389.8L624.5 1386.0L627.4 1381.4L626.1 1375.4L630.4 1371.3L630.9 1365.9L630.4 1360.5L631.6 1355.4L633.9 1350.5L633.2 1345.5L633.0 1340.1L632.2 1334.2L633.7 1328.0L631.2 1322.3L629.8 1316.5L631.2 1310.3L630.5 1304.4L628.9 1298.6L626.2 1293.0L627.4 1286.2L624.7 1280.2L624.6 1273.6L623.1 1267.4L621.5 1260.9L617.6 1255.4L613.5 1250.0L608.4 1245.5L603.7 1240.2L598.0 1235.8L594.1 1230.0L587.5 1226.0L579.1 1225.0L579.8 1218.8L578.9 1213.0L575.8 1207.6L576.7 1201.4L575.3 1195.7L575.3 1190.3L574.5 1184.3L576.8 1178.9L578.2 1173.3L577.8 1167.4L578.4 1161.7L580.0 1156.1L582.1 1150.7L581.6 1145.0L584.4 1139.7L583.3 1133.9L585.6 1128.6L584.9 1122.9L586.3 1117.5L588.4 1112.1L587.9 1106.4L592.9 1103.0L597.0 1098.6L602.0 1095.3L602.7 1088.5L606.1 1082.7L607.9 1076.3L609.7 1069.4L616.6 1065.0L624.6 1061.6L629.4 1064.6L634.0 1068.0L637.9 1072.5L642.7 1076.1L648.4 1078.3L654.7 1079.0L659.8 1082.7L665.8 1083.9L670.9 1087.3L677.2 1087.0L681.3 1091.3L686.5 1093.2L691.6 1095.3L696.3 1098.4L700.7 1100.6L704.7 1107.6L709.8 1113.7L716.0 1116.2L721.9 1119.1L725.7 1123.7L725.4 1129.9L728.3 1135.1L733.9 1137.8L738.8 1141.5L742.9 1144.9L745.7 1150.2L748.6 1155.6L752.3 1160.5L752.4 1167.2L757.3 1172.1L758.9 1178.8L763.2 1184.1L765.9 1190.3L768.4 1196.3L774.0 1200.7L776.5 1206.8L780.0 1212.3L783.7 1218.1L784.3 1224.2L784.0 1230.5L787.8 1235.7L789.8 1241.4L788.7 1247.9L791.7 1253.3L792.7 1258.9L792.9 1264.7L793.3 1270.4L796.2 1275.7L797.2 1281.4L797.4 1287.1L796.8 1292.8L796.7 1298.7L799.5 1304.6L798.0 1310.5L799.0 1316.4L797.7 1322.3L799.9 1328.2L800.2 1334.1L801.2 1339.9Z"/></clipPath>
<g clip-path="url(#cc)"><g filter="url(#bl)" fill-rule="evenodd">
<path fill="#0000d4" d="M622.3 1050.5L625.5 1050.4L630.0 1051.4L649.5 1064.3L678.0 1075.5L706.5 1089.0L711.0 1092.7L718.5 1103.9L727.5 1108.3L730.3 1110.5L733.5 1115.0L738.2 1125.5L741.0 1128.1L751.2 1134.5L755.2 1139.0L766.8 1164.5L793.2 1214.0L802.6 1248.5L809.7 1290.5L811.5 1334.0L811.5 1350.5L809.0 1376.0L804.6 1400.0L796.7 1430.0L785.5 1458.5L771.0 1487.0L764.5 1497.5L754.2 1512.5L745.2 1524.5L732.5 1539.5L724.1 1548.5L708.0 1564.1L699.0 1571.9L688.5 1580.0L667.5 1594.8L651.0 1604.6L627.0 1616.3L616.5 1620.6L588.0 1630.3L561.0 1636.8L529.5 1641.3L510.0 1642.5L493.5 1642.5L472.5 1641.3L438.0 1636.1L408.0 1628.3L376.5 1616.7L349.5 1603.5L328.5 1590.6L303.0 1571.5L277.5 1548.1L258.0 1525.3L240.7 1502.0L231.5 1487.0L224.4 1473.5L217.0 1458.5L209.1 1439.0L202.3 1418.0L196.9 1395.5L192.2 1367.0L191.1 1350.5L193.7 1335.5L196.2 1296.5L197.4 1287.5L208.5 1240.3L223.9 1199.0L226.4 1194.5L240.9 1175.0L256.1 1151.0L269.5 1136.0L282.5 1125.5L288.0 1113.3L290.2 1110.5L294.0 1107.8L300.0 1105.5L306.0 1104.6L328.5 1104.5L334.5 1105.2L339.3 1107.5L351.6 1119.5L368.7 1128.5L372.0 1132.0L381.3 1146.5L394.5 1160.5L408.8 1185.5L420.3 1202.0L422.5 1208.0L425.7 1227.5L425.8 1230.5L424.8 1235.0L418.5 1249.0L415.3 1253.0L408.4 1257.5L407.0 1259.0L396.8 1281.5L393.4 1286.0L386.4 1292.0L384.9 1296.5L382.6 1316.0L380.9 1347.5L381.1 1352.0L383.4 1362.5L388.0 1376.0L397.6 1395.5L402.0 1402.3L408.3 1410.5L414.0 1416.8L423.0 1424.9L432.0 1431.6L441.0 1437.3L451.5 1442.6L460.5 1446.3L478.5 1451.3L501.0 1453.5L516.0 1452.4L525.0 1451.1L543.0 1446.0L558.0 1439.1L571.5 1430.9L585.7 1419.5L594.2 1410.5L604.0 1397.0L611.9 1382.0L617.2 1368.5L620.9 1355.0L621.8 1347.5L619.8 1328.0L615.6 1295.0L610.0 1268.0L608.5 1265.0L600.1 1254.5L588.0 1241.2L585.0 1239.4L574.5 1235.6L571.7 1233.5L570.0 1231.4L568.0 1226.0L561.7 1190.0L569.4 1149.5L575.7 1107.5L577.3 1101.5L580.5 1097.1L591.1 1088.0L592.5 1085.0L598.2 1067.0L601.5 1061.6L604.5 1059.1L615.0 1053.2L619.5 1051.2Z"/>
<path fill="#000fe5" d="M621.0 1065.5L624.0 1064.5L625.5 1064.8L643.5 1076.5L669.0 1086.4L673.5 1088.6L691.5 1102.5L709.5 1118.7L729.0 1139.7L740.2 1154.0L750.8 1169.0L758.2 1181.0L765.7 1194.5L772.9 1209.5L779.1 1224.5L785.0 1241.0L789.4 1256.0L792.8 1271.0L795.7 1287.5L797.2 1304.0L798.2 1349.0L795.8 1374.5L791.6 1397.0L783.8 1425.5L772.6 1454.0L758.7 1481.0L752.3 1491.5L742.5 1505.7L733.9 1517.0L722.5 1530.5L714.2 1539.5L700.5 1552.7L681.0 1568.8L660.0 1583.4L639.0 1595.4L621.0 1604.1L610.5 1608.4L583.5 1617.6L558.0 1623.8L528.0 1628.0L508.5 1629.2L496.5 1629.2L474.0 1628.0L442.5 1623.4L424.5 1619.1L412.5 1615.6L382.5 1604.5L355.5 1591.2L331.5 1576.2L309.0 1558.9L297.0 1548.1L286.5 1537.8L267.4 1515.5L257.2 1502.0L250.5 1491.9L243.0 1479.5L234.0 1462.3L228.1 1449.5L222.0 1434.4L215.2 1413.5L210.0 1392.1L206.1 1368.5L204.7 1350.5L207.1 1335.5L209.4 1298.0L210.4 1290.5L221.0 1245.5L236.0 1205.0L238.7 1200.5L252.1 1182.5L267.0 1158.9L279.0 1145.6L294.0 1133.7L298.7 1122.5L301.5 1119.4L307.5 1117.8L328.5 1117.8L331.5 1118.3L334.5 1120.2L344.4 1130.0L360.0 1138.0L362.5 1140.5L371.2 1154.0L384.0 1167.5L397.5 1191.3L409.2 1208.0L410.7 1212.5L412.6 1224.5L412.6 1227.5L411.2 1230.5L402.0 1239.6L393.0 1250.5L387.0 1259.1L381.0 1269.5L373.3 1286.0L367.5 1311.7L366.3 1323.5L366.0 1334.0L367.2 1349.0L368.9 1359.5L372.0 1371.3L376.4 1383.5L386.3 1403.0L392.4 1412.0L398.3 1419.5L406.5 1428.2L415.3 1436.0L425.4 1443.5L435.0 1449.5L445.5 1454.8L454.5 1458.5L468.0 1462.6L477.0 1464.6L490.5 1466.3L502.5 1466.7L516.0 1465.9L528.0 1464.1L537.0 1461.9L549.0 1458.2L564.6 1451.0L579.2 1442.0L594.1 1430.0L605.4 1418.0L615.3 1404.5L624.8 1386.5L630.9 1370.0L634.2 1356.5L635.3 1349.0L636.3 1334.0L636.2 1323.5L635.3 1314.5L632.9 1301.0L625.9 1278.5L622.4 1262.0L619.8 1257.5L611.3 1247.0L596.6 1230.5L592.5 1227.7L584.0 1224.5L580.8 1221.5L579.2 1217.0L574.6 1191.5L575.1 1185.5L582.1 1151.0L587.4 1115.0L588.7 1109.0L590.8 1106.0L600.3 1098.5L603.0 1095.5L610.0 1074.5L611.4 1071.5L613.5 1069.6Z"/>
<path fill="#002ef4" d="M620.8 1071.5L624.0 1070.6L625.5 1070.9L640.5 1080.8L670.5 1092.9L690.0 1107.8L709.1 1125.5L719.0 1136.0L729.2 1148.0L738.4 1160.0L746.6 1172.0L754.9 1185.5L762.0 1198.6L768.6 1212.5L774.2 1226.0L779.6 1241.0L784.0 1256.0L787.6 1271.0L790.6 1287.5L792.1 1304.0L793.2 1349.0L790.6 1374.5L786.7 1395.5L779.4 1422.5L768.3 1451.0L754.5 1478.0L738.9 1502.0L730.5 1513.1L718.4 1527.5L711.0 1535.5L697.5 1548.5L688.5 1556.4L678.0 1564.6L658.5 1578.3L639.0 1589.7L619.5 1599.1L609.0 1603.4L582.0 1612.7L558.0 1618.6L526.5 1623.1L507.0 1624.1L496.5 1624.2L474.0 1622.9L442.5 1618.2L414.0 1610.7L384.0 1599.6L358.5 1587.0L334.5 1572.0L311.8 1554.5L300.2 1544.0L289.5 1533.3L280.3 1523.0L270.5 1511.0L261.7 1499.0L253.8 1487.0L246.8 1475.0L239.7 1461.5L233.5 1448.0L228.1 1434.5L221.3 1413.5L215.9 1391.0L212.3 1368.5L210.7 1347.5L212.2 1335.5L214.4 1299.5L215.3 1292.0L225.9 1247.0L240.4 1208.0L242.9 1203.5L256.5 1185.2L271.5 1161.5L282.4 1149.5L297.6 1137.5L299.6 1134.5L303.0 1126.0L304.7 1124.0L309.0 1122.8L331.5 1123.1L334.5 1124.7L343.5 1133.0L358.5 1140.8L360.9 1143.5L368.5 1155.5L381.4 1169.0L394.5 1192.1L406.5 1209.5L407.6 1212.5L408.9 1220.0L409.0 1223.0L408.0 1226.3L397.5 1237.0L390.0 1246.0L382.5 1256.8L376.1 1268.0L368.3 1284.5L364.3 1301.0L362.4 1311.5L361.2 1323.5L361.0 1335.5L361.8 1347.5L363.7 1359.5L366.7 1371.5L371.5 1385.0L382.0 1406.0L388.2 1415.0L394.5 1422.9L402.6 1431.5L412.5 1440.3L423.0 1448.0L432.0 1453.7L444.0 1459.8L453.0 1463.4L468.0 1467.9L477.0 1469.7L489.0 1471.2L502.5 1471.8L514.5 1471.1L528.0 1469.2L537.0 1467.2L550.5 1463.1L567.0 1455.5L582.0 1446.3L591.0 1439.5L598.4 1433.0L609.0 1421.7L619.5 1407.5L629.1 1389.5L635.7 1371.5L639.1 1358.0L640.6 1347.5L641.4 1335.5L641.3 1325.0L640.4 1314.5L637.4 1298.0L630.8 1277.0L626.8 1259.0L624.0 1254.5L615.0 1243.4L599.3 1226.0L595.5 1223.4L586.5 1219.9L583.5 1217.0L581.7 1211.0L578.2 1191.5L578.5 1187.0L585.4 1152.5L591.6 1113.5L594.0 1110.0L604.5 1101.7L607.3 1098.5L615.1 1076.0L616.5 1074.1Z"/>
<path fill="#0053ff" d="M620.9 1076.0L624.0 1075.2L625.5 1075.6L639.0 1084.4L669.0 1096.5L688.5 1111.6L706.5 1128.3L717.0 1139.5L726.7 1151.0L734.7 1161.5L744.0 1175.0L751.3 1187.0L758.7 1200.5L770.7 1227.5L776.5 1244.0L781.2 1260.5L784.3 1274.0L787.2 1290.5L788.3 1304.0L789.3 1349.0L787.0 1373.0L782.8 1395.5L775.4 1422.5L764.7 1449.5L750.9 1476.5L735.2 1500.5L727.2 1511.0L715.5 1524.8L708.0 1533.0L694.5 1546.0L682.5 1556.3L667.5 1567.7L658.5 1573.8L639.0 1585.3L616.5 1596.2L609.0 1599.3L583.5 1608.3L556.5 1615.0L526.5 1619.2L508.5 1620.3L496.5 1620.3L472.5 1618.9L442.5 1614.3L415.5 1607.1L397.5 1600.8L385.5 1596.0L361.5 1584.3L337.5 1569.4L314.3 1551.5L303.0 1541.2L292.5 1530.6L283.0 1520.0L273.3 1508.0L257.8 1485.5L250.7 1473.5L243.7 1460.0L232.8 1434.5L225.1 1410.5L220.5 1391.0L216.9 1367.0L215.4 1344.5L218.3 1299.5L219.2 1292.0L229.5 1248.5L244.1 1209.5L247.7 1203.5L260.0 1187.0L274.5 1164.1L285.0 1152.4L300.2 1140.5L302.5 1137.5L306.0 1129.2L307.5 1127.5L312.0 1126.7L330.0 1126.6L333.0 1127.2L342.0 1134.5L357.0 1142.3L359.4 1145.0L366.0 1155.6L379.8 1170.5L393.0 1193.7L404.9 1211.0L406.3 1217.0L406.3 1221.5L405.7 1223.0L394.5 1234.6L387.0 1243.6L379.5 1254.3L372.6 1266.5L365.2 1281.5L360.7 1299.5L358.7 1310.0L357.4 1322.0L357.1 1335.5L357.8 1346.0L360.0 1360.4L363.1 1373.0L367.9 1386.5L378.4 1407.5L384.5 1416.5L391.5 1425.4L400.1 1434.5L408.4 1442.0L420.5 1451.0L429.9 1457.0L441.6 1463.0L451.5 1467.0L466.5 1471.4L476.5 1473.5L487.8 1475.0L502.5 1475.6L516.0 1474.9L528.0 1473.1L537.0 1471.2L552.0 1466.7L568.5 1459.2L583.5 1450.0L592.5 1443.3L600.0 1436.8L612.0 1424.2L623.2 1409.0L632.7 1391.0L639.8 1371.5L643.2 1356.5L644.6 1346.0L645.2 1335.5L645.1 1323.5L644.1 1313.0L641.4 1298.0L638.4 1287.5L634.8 1277.0L630.3 1257.5L627.8 1253.0L618.0 1240.9L601.9 1223.0L597.5 1220.0L588.0 1216.2L585.7 1214.0L584.0 1209.5L580.8 1191.5L581.0 1187.0L588.0 1152.7L592.7 1121.0L593.8 1116.5L595.5 1113.9L607.2 1104.5L610.5 1100.8L612.0 1097.9L618.1 1079.0Z"/>
<path fill="#0088ff" d="M621.9 1079.0L624.0 1078.4L625.5 1078.8L637.5 1086.6L667.5 1098.7L687.0 1113.8L706.5 1132.0L717.0 1143.4L725.8 1154.0L734.7 1166.0L742.8 1178.0L750.0 1190.0L757.2 1203.5L763.5 1217.0L769.0 1230.5L773.7 1244.0L778.1 1259.0L781.6 1274.0L784.3 1289.0L785.7 1304.0L786.7 1349.0L784.2 1374.5L780.1 1395.5L773.1 1421.0L762.0 1449.0L748.5 1475.3L742.2 1485.5L732.0 1500.4L724.5 1510.2L712.5 1524.2L705.3 1532.0L691.5 1545.2L672.7 1560.5L655.5 1572.5L637.5 1583.1L616.5 1593.3L606.0 1597.6L579.0 1606.9L556.5 1612.3L526.5 1616.6L507.0 1617.7L496.5 1617.7L474.0 1616.4L444.0 1611.9L417.0 1604.8L387.0 1593.7L361.5 1581.2L338.0 1566.5L316.5 1549.8L306.0 1540.4L295.5 1529.8L285.3 1518.5L276.8 1508.0L261.1 1485.5L254.0 1473.5L246.9 1460.0L236.0 1434.5L227.9 1409.0L222.4 1383.5L220.4 1370.0L219.0 1355.0L218.5 1343.0L218.8 1332.5L221.1 1298.0L224.0 1283.0L231.8 1250.0L246.0 1212.8L250.1 1205.0L262.5 1188.0L277.5 1164.5L287.1 1154.0L302.4 1142.0L304.7 1139.0L308.1 1131.5L309.6 1130.0L313.5 1129.3L333.0 1129.6L336.0 1131.3L342.0 1136.2L356.1 1143.5L358.6 1146.5L366.0 1157.9L378.1 1170.5L391.8 1194.5L403.3 1211.0L404.7 1217.0L404.4 1220.0L403.5 1221.7L393.4 1232.0L385.5 1241.3L378.0 1251.8L371.2 1263.5L362.4 1281.5L358.0 1299.5L356.0 1310.0L354.8 1322.0L354.5 1335.5L355.5 1349.0L357.5 1361.0L360.4 1373.0L365.6 1388.0L376.5 1409.5L382.5 1418.2L389.4 1427.0L397.5 1435.7L406.5 1443.8L420.0 1453.9L429.0 1459.6L441.0 1465.6L450.0 1469.3L465.0 1473.7L477.0 1476.2L489.0 1477.7L502.5 1478.2L516.0 1477.5L528.0 1475.8L538.5 1473.5L553.5 1468.9L570.0 1461.4L586.5 1451.1L595.5 1444.2L603.0 1437.6L614.3 1425.5L625.5 1410.3L635.6 1391.0L642.1 1373.0L645.8 1356.5L647.2 1346.0L647.9 1334.0L647.7 1323.5L646.8 1313.0L643.7 1296.5L637.1 1275.5L632.6 1256.0L629.9 1251.5L619.5 1238.6L604.1 1221.5L600.0 1218.3L591.0 1214.8L587.6 1212.5L585.6 1208.0L582.6 1191.5L582.8 1187.0L589.8 1152.5L595.0 1119.5L597.0 1116.0L609.0 1106.4L612.2 1103.0L614.6 1098.5L619.9 1082.0Z"/>
<path fill="#00bdff" d="M623.2 1082.0L625.5 1081.8L637.5 1089.2L663.0 1099.1L667.5 1101.4L688.5 1118.0L708.6 1137.5L718.5 1148.7L727.6 1160.0L736.5 1172.5L744.8 1185.5L752.4 1199.0L759.0 1212.4L765.0 1226.3L769.9 1239.5L777.3 1265.0L782.4 1292.0L783.5 1305.5L784.5 1337.0L784.4 1350.5L780.9 1380.5L778.5 1392.5L774.0 1410.4L768.0 1428.4L759.9 1448.0L753.0 1462.0L746.9 1473.5L740.5 1484.0L724.5 1506.6L705.0 1529.1L682.5 1550.1L660.6 1566.5L639.0 1579.7L613.5 1592.1L580.7 1604.0L556.5 1610.0L528.0 1614.2L501.0 1615.5L474.0 1614.1L445.7 1610.0L430.5 1606.4L418.5 1602.9L388.7 1592.0L364.0 1580.0L342.0 1566.5L321.0 1550.7L301.5 1532.7L283.4 1512.5L267.0 1490.1L253.5 1467.4L242.2 1443.5L233.2 1418.0L226.5 1391.0L224.2 1377.5L222.4 1362.5L221.3 1338.5L222.9 1307.0L224.2 1295.0L226.1 1284.5L234.0 1251.8L243.0 1227.1L251.7 1208.0L256.2 1200.5L264.9 1188.5L279.0 1166.3L288.9 1155.5L304.2 1143.5L306.5 1140.5L310.5 1132.7L312.0 1131.9L315.0 1131.5L333.0 1131.6L336.0 1133.1L342.0 1137.6L355.5 1144.6L364.9 1158.5L375.2 1169.0L378.0 1172.5L391.4 1196.0L401.9 1211.0L403.2 1215.5L402.8 1218.5L402.0 1220.0L391.7 1230.5L384.0 1239.5L376.5 1250.0L369.4 1262.0L360.5 1280.0L356.0 1298.0L353.8 1310.0L352.4 1323.5L352.3 1335.5L353.2 1349.0L355.2 1361.0L358.5 1374.5L363.8 1389.5L374.4 1410.5L380.6 1419.5L387.7 1428.5L396.0 1437.4L405.0 1445.5L414.0 1452.5L427.5 1461.3L439.5 1467.5L448.5 1471.2L463.5 1475.7L475.5 1478.3L487.5 1479.9L501.0 1480.5L514.5 1479.9L526.5 1478.3L540.0 1475.4L553.5 1471.3L570.0 1464.0L586.5 1453.9L603.2 1440.5L616.0 1427.0L628.1 1410.5L637.5 1392.5L644.0 1374.5L647.8 1358.0L649.3 1347.5L650.1 1335.5L650.0 1323.5L649.0 1313.0L645.6 1295.0L639.0 1274.0L634.5 1254.5L631.6 1250.0L621.0 1236.9L605.8 1220.0L600.0 1215.7L591.0 1212.3L588.0 1209.6L586.5 1205.0L584.1 1191.5L584.3 1187.0L591.3 1152.5L596.3 1121.0L598.5 1117.6L611.2 1107.5L615.0 1103.0L616.5 1099.9L621.3 1085.0Z"/>
<path fill="#00dbff" d="M623.9 1086.5L625.5 1085.5L627.0 1085.8L636.0 1091.3L666.0 1103.4L676.5 1111.3L688.5 1121.4L699.3 1131.5L709.5 1142.2L719.7 1154.0L728.9 1166.0L737.2 1178.0L745.4 1191.5L752.7 1205.0L759.0 1218.5L764.5 1232.0L769.7 1247.0L776.1 1271.0L780.3 1295.0L782.0 1340.0L781.9 1350.5L780.3 1367.0L776.3 1391.0L769.1 1418.0L757.8 1446.5L745.5 1470.8L732.4 1491.5L716.4 1512.5L702.0 1528.5L687.4 1542.5L678.0 1550.5L658.5 1564.9L636.0 1578.4L610.5 1590.6L595.5 1596.3L574.5 1603.2L553.5 1608.1L526.5 1611.8L499.5 1613.0L472.5 1611.5L445.5 1607.4L420.0 1600.8L390.0 1589.8L364.5 1577.4L342.0 1563.5L321.0 1547.3L301.5 1529.0L284.4 1509.5L268.5 1487.5L255.1 1464.5L244.1 1440.5L235.3 1415.0L229.2 1389.5L225.5 1362.5L224.4 1335.5L226.0 1307.0L229.8 1281.5L236.6 1254.5L245.1 1230.5L256.3 1206.5L260.6 1199.0L281.3 1167.5L291.0 1157.0L306.0 1145.2L308.5 1142.0L311.6 1136.0L313.5 1134.5L318.0 1134.0L331.5 1133.9L334.5 1134.3L341.8 1139.0L354.0 1145.2L356.6 1148.0L363.2 1158.5L376.5 1172.7L388.9 1194.5L399.3 1209.5L401.4 1214.0L401.0 1217.0L400.0 1218.5L388.3 1230.5L378.6 1242.5L372.6 1251.5L366.6 1262.0L358.4 1278.5L353.5 1298.0L351.2 1310.0L349.9 1323.5L349.8 1337.0L350.9 1350.5L352.9 1362.5L356.3 1376.0L361.5 1390.7L372.4 1412.0L385.7 1430.0L394.5 1439.5L403.5 1447.5L412.5 1454.5L426.0 1463.4L438.0 1469.6L447.5 1473.5L462.0 1477.8L474.0 1480.5L486.0 1482.2L499.5 1483.0L513.0 1482.5L526.5 1480.9L540.0 1478.0L553.5 1474.0L562.5 1470.5L571.5 1466.1L586.5 1457.0L596.6 1449.5L605.3 1442.0L618.0 1428.5L630.1 1412.0L639.6 1394.0L646.1 1376.0L650.4 1358.0L651.8 1347.5L652.6 1335.5L652.5 1323.5L651.6 1313.0L648.2 1295.0L641.1 1272.5L637.2 1254.5L634.5 1249.7L623.9 1236.5L607.5 1218.1L602.2 1214.0L592.5 1210.2L589.7 1208.0L588.0 1203.9L585.7 1191.5L586.0 1187.0L592.9 1152.5L596.6 1128.5L597.9 1122.5L600.0 1119.6L612.0 1110.1L616.5 1105.3L618.6 1101.5Z"/>
<path fill="#00faff" d="M625.3 1091.0L627.0 1089.8L628.5 1090.2L636.0 1094.3L661.5 1104.2L665.0 1106.0L676.5 1114.7L687.4 1124.0L698.5 1134.5L708.4 1145.0L717.4 1155.5L726.7 1167.5L735.0 1179.6L743.2 1193.0L750.4 1206.5L756.7 1220.0L762.2 1233.5L767.4 1248.5L773.7 1272.5L777.7 1296.5L779.3 1346.0L777.6 1367.0L773.9 1389.5L766.7 1416.5L755.5 1445.0L742.5 1470.5L735.2 1482.5L727.0 1494.5L714.1 1511.0L700.5 1526.1L685.5 1540.6L676.1 1548.5L657.0 1562.6L635.6 1575.5L609.0 1588.3L585.0 1597.1L573.0 1600.8L553.5 1605.3L526.5 1609.1L499.5 1610.3L472.5 1608.8L447.0 1605.0L421.5 1598.4L391.5 1587.4L366.0 1575.1L343.5 1561.2L323.1 1545.5L303.9 1527.5L286.5 1507.6L270.7 1485.5L257.6 1463.0L246.7 1439.0L238.1 1413.5L232.2 1388.0L228.7 1361.0L227.8 1334.0L229.5 1307.0L233.8 1280.0L240.4 1254.5L249.7 1229.0L261.0 1205.4L276.0 1181.0L285.4 1167.5L292.5 1159.4L307.5 1147.6L310.8 1143.5L313.5 1138.7L315.0 1137.4L318.0 1136.8L334.5 1136.7L351.0 1145.1L354.0 1147.2L362.6 1160.0L375.3 1173.5L388.1 1196.0L397.5 1209.5L399.2 1214.0L397.8 1217.0L387.4 1227.5L378.6 1238.0L371.3 1248.5L365.1 1259.0L356.0 1277.0L351.0 1296.5L348.7 1308.5L347.3 1322.0L347.1 1335.5L348.0 1349.0L350.2 1362.5L353.5 1376.0L358.7 1391.0L363.0 1400.3L370.1 1413.5L384.0 1432.2L393.0 1441.8L401.6 1449.5L411.4 1457.0L425.0 1466.0L436.7 1472.0L447.0 1476.2L462.0 1480.6L474.0 1483.3L487.5 1485.1L501.0 1485.7L514.5 1485.1L528.0 1483.3L541.5 1480.4L554.6 1476.5L562.5 1473.5L571.8 1469.0L588.0 1459.2L598.5 1451.4L607.5 1443.7L619.1 1431.5L632.4 1413.5L641.9 1395.5L648.5 1377.5L652.8 1359.5L654.4 1349.0L655.3 1337.0L655.2 1325.0L654.3 1313.0L651.0 1295.0L643.9 1272.5L639.6 1253.0L636.0 1247.2L625.0 1233.5L609.0 1215.8L603.0 1211.3L594.0 1207.9L591.0 1205.6L589.5 1202.0L587.5 1191.5L587.8 1187.0L594.7 1152.5L599.1 1125.5L601.5 1121.9L614.0 1112.0L618.2 1107.5L620.9 1103.0Z"/>
<path fill="#1affdf" d="M626.7 1095.5L628.5 1094.2L630.0 1094.5L660.0 1106.5L664.5 1108.9L676.3 1118.0L687.0 1127.3L697.5 1137.4L707.5 1148.0L717.0 1159.3L726.0 1171.2L734.6 1184.0L741.8 1196.0L748.9 1209.5L755.1 1223.0L760.5 1236.7L765.4 1251.5L771.2 1274.0L775.0 1296.5L776.6 1346.0L774.9 1367.0L770.8 1391.0L763.8 1416.5L753.0 1443.9L740.2 1469.0L732.9 1481.0L724.7 1493.0L711.8 1509.5L698.3 1524.5L684.0 1538.2L673.6 1547.0L655.5 1560.3L633.0 1573.8L607.5 1585.9L583.5 1594.7L571.5 1598.4L550.5 1603.1L531.0 1605.9L519.0 1607.0L495.0 1607.5L468.0 1605.5L444.0 1601.6L421.5 1595.6L393.0 1585.1L366.0 1571.9L345.0 1558.9L324.0 1542.6L304.9 1524.5L288.0 1504.9L272.2 1482.5L259.5 1460.0L248.8 1436.0L240.9 1412.0L235.2 1386.5L231.9 1359.5L231.3 1332.5L233.2 1305.5L237.4 1280.0L244.2 1254.5L253.7 1229.0L265.5 1205.0L277.5 1185.0L291.1 1166.0L296.3 1160.0L309.5 1149.5L316.5 1140.3L319.5 1139.5L334.5 1139.2L337.5 1140.1L352.7 1148.0L361.5 1160.9L372.3 1172.0L374.5 1175.0L387.0 1197.0L395.6 1209.5L396.7 1212.5L396.4 1214.0L395.4 1215.5L384.0 1227.2L375.2 1238.0L368.1 1248.5L362.1 1259.0L353.6 1275.5L348.3 1296.5L346.0 1308.5L344.6 1322.0L344.4 1335.5L345.3 1349.0L347.4 1362.5L351.1 1377.5L356.3 1392.5L366.9 1413.5L374.1 1424.0L382.4 1434.5L390.0 1442.7L399.0 1450.9L409.5 1459.0L423.0 1468.0L435.0 1474.2L444.0 1478.0L459.0 1482.6L471.0 1485.5L483.0 1487.3L496.5 1488.3L510.0 1488.1L523.5 1486.8L535.5 1484.6L549.0 1481.1L558.6 1478.0L567.0 1474.5L576.0 1469.9L586.5 1463.6L604.5 1450.0L612.0 1443.2L620.1 1434.5L628.4 1424.0L634.7 1415.0L644.2 1397.0L650.9 1379.0L655.0 1362.5L656.9 1350.5L657.9 1338.5L658.0 1325.0L657.0 1313.0L653.4 1293.5L646.3 1271.0L641.9 1251.5L639.0 1246.7L627.0 1231.7L611.1 1214.0L604.5 1209.0L595.5 1205.5L592.5 1203.4L591.0 1200.2L589.3 1191.5L589.6 1187.0L596.3 1154.0L599.7 1131.5L600.9 1127.0L603.0 1124.1L616.4 1113.5L619.3 1110.5L623.3 1104.5Z"/>
<path fill="#38ffb9" d="M629.7 1098.5L631.5 1098.6L636.0 1100.2L658.5 1108.9L663.0 1111.2L675.0 1120.5L687.0 1130.9L698.3 1142.0L709.1 1154.0L717.7 1164.5L726.4 1176.5L734.2 1188.5L742.0 1202.0L748.8 1215.5L754.5 1228.6L759.7 1242.5L764.0 1256.0L770.0 1281.5L771.9 1293.5L772.8 1304.0L773.9 1347.5L772.0 1368.5L768.0 1391.0L761.5 1415.0L750.1 1443.5L737.1 1469.0L730.5 1479.7L720.3 1494.5L704.3 1514.0L697.4 1521.5L681.9 1536.5L664.5 1550.6L654.0 1558.1L639.0 1567.3L621.0 1576.7L599.9 1586.0L570.0 1596.1L549.0 1600.6L531.0 1603.2L519.0 1604.3L495.0 1604.8L468.0 1602.8L444.0 1598.8L423.0 1593.2L394.5 1582.7L367.3 1569.5L346.5 1556.7L336.0 1548.9L325.5 1540.3L306.0 1521.5L289.5 1502.2L274.7 1481.0L262.0 1458.5L251.5 1434.5L243.8 1410.5L238.2 1385.0L235.2 1358.0L234.8 1331.0L236.9 1304.0L241.4 1278.5L248.5 1253.0L257.7 1229.0L269.7 1205.0L281.6 1185.5L294.6 1167.5L301.0 1160.0L311.8 1151.0L318.0 1143.2L321.0 1142.2L336.0 1141.8L348.0 1146.8L352.1 1149.5L360.1 1161.5L372.8 1175.0L385.7 1197.5L392.8 1208.0L394.0 1211.0L393.9 1212.5L393.1 1214.0L382.5 1224.9L373.0 1236.5L365.8 1247.0L359.8 1257.5L350.8 1275.5L345.5 1296.5L343.3 1308.5L341.9 1322.0L341.7 1335.5L342.6 1349.0L344.7 1362.5L348.8 1379.0L353.4 1392.5L356.7 1400.0L364.6 1415.0L371.8 1425.5L380.1 1436.0L388.5 1445.0L396.7 1452.5L408.3 1461.5L421.5 1470.3L433.5 1476.6L442.5 1480.4L459.0 1485.4L471.0 1488.2L483.0 1490.0L496.5 1491.0L510.0 1490.8L523.5 1489.5L535.5 1487.4L549.0 1483.9L559.5 1480.6L567.0 1477.5L585.4 1467.5L604.5 1453.6L618.0 1440.9L624.0 1434.1L632.8 1422.5L637.9 1415.0L643.5 1404.5L647.2 1397.0L651.3 1386.5L654.1 1377.5L657.4 1364.0L659.5 1352.0L660.6 1338.5L660.7 1325.0L659.7 1313.0L656.2 1293.5L653.2 1283.0L649.1 1271.0L644.3 1250.0L640.5 1244.1L629.6 1230.5L613.5 1212.5L606.0 1206.7L597.0 1203.2L594.0 1201.2L592.5 1198.3L591.1 1191.5L591.4 1187.0L598.1 1154.0L602.0 1130.0L604.5 1126.4L620.3 1113.5L624.8 1107.5L628.0 1100.0Z"/>
<path fill="#69ff8e" d="M630.1 1103.0L631.5 1102.1L634.5 1102.5L657.0 1111.1L663.0 1114.4L676.5 1125.1L685.5 1133.2L696.0 1143.5L707.0 1155.5L717.8 1169.0L725.3 1179.5L733.0 1191.5L739.8 1203.5L745.9 1215.5L751.8 1229.0L756.4 1241.0L761.2 1256.0L767.3 1281.5L769.1 1292.0L770.2 1304.0L771.3 1347.5L769.0 1371.5L764.3 1395.5L759.7 1412.0L756.5 1421.0L747.9 1442.0L734.0 1469.0L719.3 1491.5L702.0 1512.6L694.5 1520.7L679.6 1535.0L660.0 1550.7L651.0 1556.8L634.5 1566.9L609.0 1579.4L591.0 1586.4L568.5 1593.7L546.0 1598.5L519.0 1601.7L495.0 1602.2L483.0 1601.6L468.0 1600.2L442.5 1595.8L424.5 1590.9L396.0 1580.5L369.0 1567.4L346.5 1553.5L327.0 1538.0L308.3 1520.0L291.7 1500.5L277.1 1479.5L264.5 1457.0L254.7 1434.5L246.9 1410.5L243.7 1397.0L240.9 1382.0L238.3 1356.5L238.2 1329.5L240.5 1302.5L245.3 1277.0L252.7 1251.5L261.6 1229.0L273.8 1205.0L285.9 1185.5L298.0 1169.0L304.2 1161.5L313.5 1153.1L319.5 1146.0L322.5 1144.9L337.5 1144.2L346.5 1147.7L351.0 1150.4L358.5 1161.7L371.2 1175.0L391.5 1209.5L391.5 1211.0L390.8 1212.5L378.0 1226.1L366.0 1241.9L358.5 1254.3L349.5 1271.6L343.5 1293.5L340.5 1309.2L339.2 1323.5L339.0 1335.5L340.1 1350.5L342.0 1362.5L345.0 1375.4L349.5 1389.7L353.7 1400.0L361.5 1415.0L367.5 1424.1L377.9 1437.5L385.5 1445.8L394.5 1454.1L408.0 1464.5L419.2 1472.0L430.5 1478.1L440.5 1482.5L454.8 1487.0L468.0 1490.3L483.0 1492.7L495.0 1493.6L507.0 1493.6L520.5 1492.5L535.5 1490.1L547.8 1487.0L565.7 1481.0L577.5 1475.3L585.7 1470.5L594.6 1464.5L606.0 1455.8L619.5 1443.2L627.0 1434.6L636.0 1422.6L640.5 1415.9L646.5 1404.6L649.5 1398.5L654.0 1386.8L660.0 1364.7L661.7 1355.0L663.2 1340.0L663.3 1325.0L662.3 1313.0L658.6 1292.0L651.4 1269.5L646.6 1248.5L643.5 1243.7L631.5 1228.7L615.0 1210.3L607.5 1204.5L598.5 1200.9L595.5 1199.1L593.8 1196.0L592.9 1191.5L593.1 1187.0L600.0 1153.1L603.7 1131.5L606.0 1128.5L622.5 1115.1L627.1 1109.0Z"/>
<path fill="#a7ff60" d="M631.5 1106.0L633.0 1105.2L636.0 1105.6L657.0 1113.6L661.5 1116.1L673.5 1125.6L685.2 1136.0L696.0 1146.7L706.5 1158.5L715.5 1169.7L723.5 1181.0L731.2 1193.0L738.8 1206.5L744.8 1218.5L750.6 1232.0L755.5 1245.5L759.7 1259.0L765.3 1283.0L767.2 1295.0L767.9 1304.0L769.0 1347.5L767.1 1368.5L763.0 1391.0L756.8 1413.5L746.0 1440.5L732.2 1467.5L716.4 1491.5L700.5 1510.8L693.4 1518.5L678.0 1533.3L661.1 1547.0L651.0 1554.1L635.7 1563.5L618.0 1572.6L597.0 1581.8L568.5 1591.4L547.5 1595.9L531.0 1598.3L519.0 1599.4L495.0 1599.9L483.0 1599.3L466.5 1597.7L444.0 1593.8L424.5 1588.5L396.0 1578.0L369.0 1564.8L348.0 1551.7L328.7 1536.5L310.1 1518.5L293.6 1499.0L279.0 1478.0L266.6 1455.5L256.3 1431.5L248.9 1407.5L243.7 1382.0L241.2 1356.5L241.1 1329.5L243.5 1302.5L248.4 1277.0L255.4 1253.0L265.0 1229.0L276.6 1206.5L286.7 1190.0L298.4 1173.5L308.2 1161.5L321.0 1148.3L324.0 1147.2L339.0 1146.2L346.5 1149.1L349.7 1151.0L358.1 1163.0L370.9 1176.5L383.7 1199.0L388.6 1206.5L389.5 1209.5L388.5 1211.7L375.3 1226.0L364.9 1239.5L357.5 1251.5L347.2 1271.0L341.2 1293.5L338.3 1308.5L337.0 1322.0L336.8 1337.0L337.8 1350.5L340.0 1364.0L344.1 1380.5L349.2 1395.5L360.0 1417.0L366.8 1427.0L376.2 1439.0L384.0 1447.5L393.0 1455.8L406.2 1466.0L418.5 1474.3L430.5 1480.6L439.5 1484.6L453.0 1488.8L468.0 1492.6L481.5 1494.8L495.0 1495.9L507.0 1495.9L522.0 1494.7L535.5 1492.4L549.0 1489.0L561.0 1485.3L568.0 1482.5L577.5 1477.9L586.5 1472.7L596.4 1466.0L607.5 1457.5L620.9 1445.0L627.6 1437.5L636.7 1425.5L642.0 1417.9L648.4 1406.0L652.0 1398.5L655.5 1389.4L658.4 1380.5L662.1 1365.5L664.2 1353.5L665.5 1340.0L665.6 1326.5L664.6 1313.0L661.2 1293.5L658.4 1283.0L653.3 1268.0L649.0 1248.5L646.5 1244.0L639.0 1234.3L631.0 1224.5L617.5 1209.5L607.9 1202.0L597.0 1197.4L595.5 1195.4L594.4 1191.5L594.7 1187.0L601.3 1154.0L604.2 1136.0L605.2 1133.0L607.5 1130.2L622.9 1118.0L627.8 1112.0Z"/>
<path fill="#d5ff38" d="M632.8 1109.0L634.5 1108.2L638.7 1109.0L654.3 1115.0L660.2 1118.0L673.5 1128.5L683.5 1137.5L694.5 1148.5L705.0 1160.2L714.0 1171.5L721.8 1182.5L730.5 1196.2L736.5 1207.0L742.5 1219.0L748.8 1233.5L753.2 1245.5L757.8 1260.5L763.5 1285.9L765.5 1302.5L766.7 1347.5L765.0 1367.3L760.7 1391.0L754.5 1413.1L744.0 1439.4L730.5 1465.8L715.5 1488.9L703.5 1503.9L691.7 1517.0L677.7 1530.5L663.0 1542.7L650.8 1551.5L636.2 1560.5L619.1 1569.5L598.5 1578.7L568.5 1589.1L547.5 1593.7L526.8 1596.5L519.0 1597.1L495.0 1597.6L477.0 1596.6L465.0 1595.2L446.2 1592.0L424.5 1586.1L396.1 1575.5L369.0 1562.1L349.5 1550.0L337.7 1541.0L328.9 1533.5L311.9 1517.0L295.4 1497.5L281.9 1478.0L275.7 1467.5L268.5 1453.8L262.5 1440.4L257.9 1428.5L250.5 1403.2L245.8 1377.5L243.8 1352.0L244.2 1325.0L247.2 1298.0L252.0 1274.7L259.5 1250.5L268.5 1228.8L280.5 1205.9L289.5 1191.4L300.0 1176.6L309.0 1165.4L321.0 1152.1L322.5 1150.8L325.5 1149.5L339.0 1148.1L344.3 1149.5L349.5 1152.5L357.8 1164.5L369.0 1175.8L387.0 1206.5L387.2 1209.5L386.2 1211.0L372.5 1226.0L361.2 1241.0L354.9 1251.5L348.2 1265.0L344.6 1271.0L336.9 1302.5L335.2 1314.5L334.5 1326.5L335.0 1346.0L337.0 1361.0L341.3 1379.0L347.3 1397.0L352.3 1407.5L359.8 1421.0L369.6 1434.5L379.8 1446.5L390.0 1456.3L397.5 1462.4L409.5 1471.2L418.5 1477.0L436.5 1485.9L456.0 1492.1L468.0 1495.0L478.5 1496.8L490.5 1498.0L501.0 1498.3L511.5 1498.0L523.5 1496.8L534.0 1495.1L546.0 1492.2L565.5 1486.1L577.5 1480.5L586.5 1475.4L595.5 1469.5L607.5 1460.4L621.3 1448.0L629.3 1439.0L635.2 1431.5L645.5 1416.5L653.3 1401.5L656.3 1394.0L660.4 1382.0L663.9 1368.5L666.6 1353.5L667.8 1340.0L667.9 1326.5L667.0 1313.0L663.6 1293.5L660.8 1283.0L655.5 1267.6L651.5 1248.5L649.3 1244.0L642.5 1235.0L634.0 1224.5L619.2 1208.0L615.0 1204.2L609.0 1199.9L598.5 1195.7L597.0 1194.1L596.2 1191.5L596.8 1184.0L602.3 1157.0L606.0 1135.8L607.8 1133.0L624.6 1119.5Z"/>
<path fill="#ecff19" d="M635.9 1112.0L639.0 1112.5L655.5 1118.9L659.1 1121.0L666.0 1126.3L678.0 1136.5L689.9 1148.0L700.5 1159.6L710.6 1172.0L718.5 1183.0L725.9 1194.5L732.8 1206.5L738.9 1218.5L744.2 1230.5L749.4 1244.0L753.8 1257.5L757.3 1271.0L762.0 1296.5L763.7 1337.0L763.6 1350.5L762.0 1367.0L760.3 1377.5L755.7 1398.5L749.5 1418.0L740.1 1440.5L728.5 1463.0L721.3 1475.0L708.6 1493.0L690.0 1514.3L669.7 1533.5L651.0 1547.7L630.0 1560.5L604.5 1573.0L574.5 1584.0L553.5 1589.4L528.0 1593.3L502.5 1594.7L475.5 1593.4L450.0 1589.7L438.0 1587.0L427.5 1583.9L399.0 1573.4L372.0 1560.3L354.0 1549.3L335.3 1535.0L317.7 1518.5L301.5 1500.1L286.7 1479.5L274.6 1458.5L264.4 1436.0L256.8 1413.5L251.3 1389.5L248.2 1364.0L247.5 1338.5L249.1 1313.0L253.2 1287.5L259.4 1263.5L267.6 1241.0L278.3 1218.5L291.0 1196.8L306.5 1175.0L324.0 1155.0L325.5 1153.7L328.5 1152.5L339.0 1150.9L342.0 1150.9L345.0 1151.7L348.0 1153.5L355.9 1164.5L368.0 1176.5L371.8 1182.5L384.3 1205.0L384.7 1208.0L383.9 1209.5L367.8 1227.5L357.7 1241.0L352.3 1250.0L342.0 1269.4L334.5 1299.5L332.8 1310.0L331.7 1322.0L331.6 1338.5L333.0 1355.0L336.2 1371.5L341.4 1389.5L345.9 1401.5L355.2 1419.5L361.5 1428.7L372.0 1442.3L379.5 1450.6L388.5 1459.0L405.0 1471.7L420.0 1481.4L431.4 1487.0L441.0 1490.8L457.5 1495.6L468.0 1498.0L480.0 1500.0L492.0 1501.0L505.5 1501.3L517.5 1500.5L529.5 1498.9L541.5 1496.4L564.0 1489.9L573.0 1486.1L582.0 1481.5L592.5 1475.2L601.5 1468.8L612.8 1460.0L622.5 1451.1L634.5 1437.3L642.0 1427.3L648.1 1418.0L657.8 1398.5L662.6 1385.0L666.2 1371.5L668.9 1358.0L670.6 1343.0L671.0 1328.0L670.1 1314.5L668.5 1302.5L666.3 1292.0L663.0 1280.0L658.3 1266.5L653.6 1245.5L649.8 1239.5L636.7 1223.0L621.0 1205.5L610.5 1197.3L600.0 1193.0L598.2 1190.0L598.5 1185.5L608.0 1137.5L610.5 1134.6L625.9 1122.5L633.0 1114.0Z"/>
<path fill="#fff500" d="M635.6 1116.5L637.5 1115.8L639.0 1116.0L652.4 1121.0L657.0 1123.4L663.0 1127.9L675.0 1138.1L686.9 1149.5L698.0 1161.5L708.0 1173.8L723.1 1196.0L730.0 1208.0L736.5 1220.8L742.1 1233.5L747.0 1246.6L750.9 1259.0L754.5 1272.7L757.5 1287.5L759.0 1298.0L760.5 1337.0L760.4 1350.5L759.0 1365.3L756.9 1379.0L752.0 1400.0L746.0 1418.0L736.5 1440.5L725.7 1461.5L718.5 1473.4L706.5 1490.6L687.4 1512.5L667.5 1531.2L649.5 1544.9L628.5 1557.7L603.0 1570.1L572.1 1581.5L552.0 1586.5L528.0 1590.1L499.5 1591.5L472.5 1590.0L448.5 1586.1L429.0 1581.0L400.5 1570.6L373.6 1557.5L355.5 1546.5L336.7 1532.0L319.3 1515.5L303.0 1496.6L288.8 1476.5L276.9 1455.5L267.6 1434.5L260.2 1412.0L254.9 1388.0L252.0 1363.7L251.5 1338.5L253.2 1313.0L257.4 1287.5L263.3 1265.0L271.6 1242.5L282.4 1220.0L295.7 1197.5L310.8 1176.5L327.0 1158.0L328.5 1156.8L331.4 1155.5L340.5 1153.7L343.5 1153.6L345.2 1154.0L347.3 1155.5L355.1 1166.0L367.5 1178.0L371.1 1184.0L382.0 1205.0L382.1 1206.5L381.0 1208.5L365.3 1226.0L356.1 1238.0L349.6 1248.5L339.1 1268.0L331.2 1299.5L329.4 1311.5L328.4 1323.5L328.5 1340.0L330.3 1358.0L333.7 1374.5L339.0 1392.5L343.1 1403.0L352.4 1421.0L358.5 1430.0L369.0 1443.7L376.5 1452.1L385.5 1460.6L403.5 1474.5L418.5 1484.2L430.5 1490.1L439.5 1493.6L466.5 1500.9L478.5 1502.9L492.0 1504.2L505.5 1504.4L517.5 1503.7L529.5 1502.1L543.0 1499.3L565.5 1492.8L582.0 1485.2L592.5 1479.0L601.5 1472.7L615.0 1462.3L624.1 1454.0L636.0 1440.5L645.0 1428.5L651.0 1419.5L660.1 1401.5L665.4 1386.5L669.1 1373.0L672.1 1358.0L673.7 1344.5L674.1 1329.5L673.3 1314.5L671.7 1302.5L669.2 1290.5L666.3 1280.0L661.2 1265.0L656.5 1244.0L653.7 1239.5L645.0 1228.2L637.0 1218.5L623.5 1203.5L613.5 1195.4L610.5 1193.7L603.0 1190.9L601.6 1190.0L600.8 1188.5L600.9 1184.0L609.6 1140.5L612.0 1137.4L628.5 1124.4Z"/>
<path fill="#ffd300" d="M636.1 1122.5L639.0 1121.1L645.0 1122.8L654.0 1126.6L661.5 1132.2L673.5 1142.4L685.4 1154.0L696.3 1166.0L705.9 1178.0L713.4 1188.5L721.0 1200.5L732.9 1223.0L738.8 1236.5L743.2 1248.5L747.4 1262.0L750.8 1275.5L753.7 1290.5L755.1 1302.5L756.2 1337.0L756.0 1352.0L754.4 1367.0L752.4 1379.0L749.5 1392.5L746.1 1404.5L735.0 1433.0L721.3 1460.0L712.9 1473.5L702.3 1488.5L684.0 1509.3L664.5 1527.7L646.5 1541.3L627.0 1553.3L600.0 1566.4L570.0 1577.5L549.0 1582.6L525.0 1586.0L498.0 1587.1L472.5 1585.5L448.5 1581.6L430.5 1576.7L402.0 1566.1L376.5 1553.6L357.0 1541.7L338.9 1527.5L321.9 1511.0L306.0 1492.1L292.5 1472.4L281.5 1452.5L272.5 1431.5L265.5 1409.2L260.8 1386.5L258.3 1362.5L258.1 1338.5L260.1 1313.0L264.5 1287.5L270.6 1265.0L279.1 1242.5L290.1 1220.0L303.7 1197.5L316.6 1179.5L331.5 1162.2L336.0 1159.2L343.5 1157.6L346.5 1158.8L353.8 1167.5L366.0 1178.1L370.5 1185.5L379.1 1203.5L379.2 1205.0L377.5 1208.0L357.9 1229.0L350.6 1238.0L345.7 1245.5L338.6 1259.0L334.8 1265.0L326.5 1296.5L324.7 1307.0L323.4 1319.0L323.1 1337.0L324.4 1353.5L327.3 1370.0L332.2 1388.0L338.1 1404.5L347.4 1422.5L361.4 1442.0L367.5 1449.5L376.5 1459.0L384.4 1466.0L397.5 1476.1L415.5 1488.0L426.0 1493.3L435.0 1497.0L463.5 1504.9L475.5 1507.0L487.5 1508.3L501.0 1508.9L514.5 1508.4L528.0 1506.8L540.0 1504.6L567.0 1497.0L583.5 1489.6L594.0 1483.5L603.0 1477.3L617.7 1466.0L626.1 1458.5L639.0 1444.1L648.0 1432.2L654.6 1422.5L664.5 1402.7L669.6 1388.0L673.2 1374.5L676.3 1359.5L678.0 1344.5L678.4 1329.5L677.6 1314.5L676.0 1302.5L673.5 1290.2L670.5 1279.3L665.1 1263.5L660.4 1242.5L657.8 1238.0L648.0 1225.2L640.5 1216.0L626.6 1200.5L615.0 1191.2L606.0 1187.3L604.4 1185.5L604.5 1181.0L612.0 1144.0L615.0 1140.6L631.5 1127.6Z"/>
<path fill="#ffbc00" d="M638.3 1122.5L642.0 1122.8L652.7 1127.0L658.5 1131.0L669.0 1139.7L679.6 1149.5L690.0 1160.3L700.0 1172.0L709.1 1184.0L716.2 1194.5L723.4 1206.5L734.6 1229.0L740.1 1242.5L744.2 1254.5L750.8 1280.0L753.4 1295.0L754.3 1304.0L755.3 1346.0L753.6 1365.5L750.5 1383.5L745.0 1404.5L733.8 1433.0L720.0 1460.0L709.6 1476.5L697.5 1492.6L682.5 1509.2L663.0 1527.6L645.0 1541.0L625.5 1552.8L598.5 1565.9L568.5 1576.8L546.0 1582.1L520.5 1585.3L496.5 1586.0L471.0 1584.2L447.0 1580.1L430.5 1575.5L402.0 1564.8L376.5 1552.2L357.0 1540.2L339.2 1526.0L322.4 1509.5L307.3 1491.5L294.0 1472.0L282.5 1451.0L273.7 1430.0L267.0 1408.2L262.4 1385.0L260.2 1361.0L260.3 1335.5L262.6 1310.0L267.4 1284.5L273.8 1262.0L282.7 1239.5L294.0 1217.0L307.8 1194.5L319.9 1178.0L332.8 1163.0L337.3 1160.0L343.5 1158.7L346.5 1159.9L353.0 1167.5L361.5 1174.2L366.0 1178.6L370.5 1186.2L376.5 1198.5L378.3 1203.5L378.0 1205.5L376.3 1208.0L356.4 1229.0L350.1 1236.5L344.1 1245.5L336.9 1259.0L333.9 1263.5L332.6 1266.5L325.8 1292.0L322.3 1313.0L321.4 1328.0L321.9 1344.5L323.7 1359.5L326.8 1374.5L331.1 1389.5L337.2 1406.0L346.7 1424.0L352.9 1433.0L363.3 1446.5L370.5 1454.8L384.0 1467.3L399.0 1478.7L409.0 1485.5L417.0 1490.2L432.0 1497.1L444.0 1501.0L462.0 1505.7L474.8 1508.0L487.5 1509.4L499.5 1509.9L513.0 1509.5L526.5 1508.1L540.0 1505.7L567.0 1498.2L583.5 1490.9L594.0 1484.8L603.0 1478.7L617.6 1467.5L626.2 1460.0L639.0 1445.9L648.8 1433.0L655.5 1423.1L664.9 1404.5L670.3 1389.5L673.6 1377.5L676.8 1362.5L678.7 1347.5L679.4 1331.0L678.7 1316.0L677.2 1304.0L674.9 1292.0L671.7 1280.0L666.0 1263.5L661.4 1242.5L659.0 1238.0L649.5 1225.6L640.5 1214.6L627.0 1199.6L615.0 1190.1L606.0 1186.0L605.0 1184.0L605.4 1179.5L612.5 1145.0L615.0 1141.8L630.2 1130.0L636.1 1124.0Z"/>
<path fill="#ff9d00" d="M638.6 1125.5L642.0 1125.4L652.5 1129.6L669.0 1142.7L679.5 1152.5L690.0 1163.5L699.6 1175.0L708.6 1187.0L722.6 1209.5L728.8 1221.5L734.2 1233.5L742.8 1257.5L749.1 1283.0L751.1 1295.0L752.0 1304.0L752.9 1347.5L751.0 1367.0L747.6 1385.0L742.5 1404.1L730.9 1433.0L717.7 1458.5L706.5 1476.2L696.0 1490.1L681.0 1506.8L660.6 1526.0L642.2 1539.5L624.0 1550.5L597.0 1563.6L567.0 1574.6L556.5 1577.4L543.0 1580.1L519.0 1582.9L495.0 1583.5L469.7 1581.5L445.5 1577.1L432.0 1573.1L402.8 1562.0L376.5 1548.7L357.3 1536.5L340.5 1522.6L324.7 1506.5L310.1 1488.5L297.2 1469.0L287.0 1449.5L278.6 1428.5L272.7 1407.5L268.8 1385.0L267.1 1361.0L267.7 1335.5L270.6 1308.5L275.4 1283.0L281.8 1260.5L290.4 1238.0L301.9 1214.0L315.0 1191.5L325.5 1177.2L336.3 1164.5L340.5 1162.0L343.5 1161.3L345.0 1161.5L346.5 1162.4L352.7 1169.0L361.5 1175.4L365.7 1179.5L369.9 1187.0L376.3 1202.0L375.8 1205.0L373.5 1208.0L352.4 1229.0L345.8 1236.5L340.3 1244.0L333.2 1256.0L329.0 1262.0L320.8 1289.0L316.9 1308.5L315.6 1323.5L315.7 1338.5L317.1 1353.5L319.9 1368.5L325.9 1389.5L331.5 1404.5L336.7 1415.0L345.0 1429.1L363.4 1452.5L372.0 1461.5L380.6 1469.0L396.0 1480.6L406.5 1487.7L417.0 1493.7L430.5 1499.7L444.0 1503.9L462.0 1508.4L474.0 1510.5L486.0 1511.8L499.5 1512.4L513.0 1512.0L526.5 1510.6L540.0 1508.3L567.0 1501.0L576.0 1497.5L585.0 1493.2L595.5 1487.2L606.0 1479.9L619.5 1469.6L628.5 1461.6L640.9 1448.0L657.3 1425.5L667.8 1404.5L672.5 1391.0L676.1 1377.5L679.3 1362.5L681.1 1347.5L681.7 1331.0L681.0 1316.0L679.5 1304.0L676.8 1290.5L673.5 1278.5L667.9 1262.0L663.2 1241.0L660.6 1236.5L651.0 1224.0L642.0 1213.0L628.5 1197.9L616.5 1188.3L607.8 1184.0L607.1 1182.5L607.5 1177.0L613.0 1149.5L614.0 1146.5L616.5 1143.7L632.1 1131.5Z"/>
<path fill="#ff7d00" d="M638.3 1130.0L640.5 1128.7L642.0 1128.7L649.5 1131.3L654.0 1134.0L664.5 1142.3L675.8 1152.5L686.1 1163.0L696.0 1174.4L705.0 1186.1L718.5 1207.1L724.5 1218.3L730.5 1231.1L736.2 1245.5L740.2 1257.5L743.9 1271.0L746.5 1283.0L748.4 1295.0L749.2 1304.0L749.8 1347.5L747.9 1365.5L744.4 1383.5L739.0 1403.0L727.5 1430.6L713.6 1457.0L703.0 1473.5L692.7 1487.0L677.9 1503.5L657.2 1523.0L641.0 1535.0L622.5 1546.3L595.5 1559.7L565.5 1571.0L555.0 1573.9L543.0 1576.3L520.5 1579.2L496.5 1579.9L472.5 1578.0L450.0 1573.9L434.8 1569.5L405.0 1557.5L381.0 1545.0L363.0 1533.5L348.0 1521.4L332.9 1506.5L319.1 1490.0L307.7 1473.5L297.5 1455.5L288.9 1436.0L282.0 1414.3L279.4 1400.0L278.6 1376.0L280.4 1347.5L287.0 1296.5L294.6 1253.0L298.1 1242.5L308.3 1220.0L320.1 1197.5L330.2 1181.0L340.6 1167.5L343.5 1165.5L346.5 1166.0L360.0 1175.4L364.6 1179.5L369.6 1188.5L374.0 1199.0L374.5 1202.0L374.2 1203.5L372.1 1206.5L364.5 1214.3L357.0 1220.6L346.9 1227.5L340.6 1233.5L335.8 1239.5L327.5 1253.0L322.8 1259.0L311.3 1286.0L308.1 1296.5L305.9 1307.0L304.4 1320.5L304.3 1334.0L305.7 1347.5L308.5 1361.0L313.1 1376.0L324.8 1406.0L337.0 1428.5L343.4 1437.5L356.7 1454.0L369.7 1467.5L381.0 1476.7L400.5 1490.3L411.0 1496.5L421.5 1501.4L432.0 1505.3L451.5 1510.3L465.0 1513.1L478.5 1514.9L492.0 1515.9L505.5 1516.0L520.5 1515.0L534.0 1513.2L546.0 1510.8L561.0 1506.9L571.5 1503.8L580.5 1500.1L588.9 1496.0L600.0 1489.5L625.4 1470.5L633.5 1463.0L641.7 1454.0L660.5 1428.5L670.4 1409.0L676.5 1391.0L681.1 1371.5L683.4 1356.5L684.6 1340.0L684.3 1322.0L682.9 1308.5L680.2 1293.5L676.2 1278.5L670.5 1262.4L665.8 1241.0L662.5 1235.0L652.2 1221.5L631.5 1197.3L627.0 1193.0L618.0 1186.0L610.5 1182.0L609.4 1179.5L610.5 1171.9L615.5 1149.5L618.0 1146.4Z"/>
<path fill="#ff5d00" d="M640.1 1134.5L642.0 1133.8L643.5 1133.8L649.3 1136.0L663.0 1146.5L673.1 1155.5L682.0 1164.5L698.5 1184.0L711.0 1202.2L721.7 1221.5L730.5 1241.5L737.7 1263.5L742.5 1284.1L745.0 1302.5L745.6 1337.0L745.2 1350.5L742.5 1370.4L737.3 1392.5L732.0 1407.7L722.2 1430.0L708.5 1455.5L697.7 1472.0L688.5 1483.9L673.5 1500.4L669.0 1504.1L652.6 1520.0L640.5 1529.1L621.0 1541.3L594.9 1554.5L567.0 1565.4L553.5 1569.3L529.5 1573.6L507.0 1575.2L483.0 1574.3L463.5 1571.7L442.5 1566.7L426.5 1560.5L409.5 1551.0L384.0 1533.8L366.7 1520.0L352.5 1505.3L338.1 1487.0L326.1 1467.5L320.8 1457.0L316.3 1446.5L313.3 1437.5L312.4 1433.0L312.7 1431.5L313.5 1431.2L315.0 1432.6L327.9 1448.0L343.5 1464.9L352.5 1473.6L366.0 1484.0L388.5 1497.5L405.0 1505.4L420.0 1510.2L429.0 1512.0L444.5 1514.0L453.0 1516.1L472.5 1519.2L484.5 1520.3L498.0 1520.8L522.0 1519.6L544.5 1516.0L573.0 1508.6L588.0 1502.4L603.0 1493.9L624.0 1478.8L634.5 1469.9L647.6 1455.5L660.9 1437.5L666.7 1428.5L675.2 1410.5L680.6 1394.0L685.2 1374.5L687.8 1358.0L689.0 1340.0L688.3 1319.0L685.3 1298.0L680.8 1280.0L674.0 1260.5L669.8 1241.0L668.2 1236.5L648.8 1211.0L633.2 1193.0L620.4 1182.5L615.0 1179.4L613.5 1178.1L612.9 1176.5L613.3 1172.0L616.1 1158.5L618.0 1152.5L620.9 1149.5ZM344.0 1172.0L346.5 1170.7L348.0 1170.9L357.0 1174.6L363.5 1179.5L366.6 1184.0L369.3 1190.0L372.1 1197.5L372.4 1202.0L369.0 1206.9L363.0 1212.4L345.0 1221.9L331.5 1221.6L329.7 1220.0L329.1 1214.0L329.8 1202.0L331.6 1191.5L332.7 1188.5L336.3 1182.5Z"/>
<path fill="#ff3d00" d="M642.8 1143.5L645.0 1143.3L648.6 1145.0L666.0 1157.2L679.5 1169.3L693.0 1184.0L703.5 1198.7L711.2 1211.0L723.0 1234.8L728.6 1250.0L733.5 1268.6L736.6 1287.5L737.8 1302.5L736.9 1320.5L735.6 1340.0L733.3 1355.0L728.0 1374.5L721.1 1392.5L706.4 1419.5L690.1 1445.0L676.5 1463.9L669.0 1472.4L658.5 1483.4L636.0 1505.0L612.0 1521.7L586.8 1536.5L570.0 1544.8L553.5 1551.9L535.5 1556.7L517.5 1559.3L499.5 1559.6L481.5 1557.5L463.5 1553.0L447.7 1547.0L436.8 1541.0L430.5 1536.5L431.6 1535.0L433.5 1534.9L459.0 1536.6L478.5 1536.9L505.5 1536.1L534.0 1534.1L552.0 1531.9L579.0 1526.9L589.5 1523.9L600.0 1519.7L610.5 1514.4L619.5 1508.8L640.5 1493.8L651.0 1485.1L660.3 1475.0L664.9 1469.0L678.4 1449.5L684.7 1439.0L690.3 1425.5L693.3 1416.5L696.5 1401.5L698.6 1385.0L699.7 1370.0L699.9 1355.0L699.1 1340.0L697.4 1325.0L694.7 1310.0L691.1 1295.0L683.8 1272.5L678.0 1258.2L674.2 1239.5L672.7 1235.0L660.7 1218.5L637.5 1188.7L621.0 1172.4L620.1 1170.5L620.8 1164.5L622.7 1160.0L639.0 1145.9ZM347.9 1175.0L351.0 1174.7L357.0 1175.9L360.0 1177.5L363.0 1180.1L367.2 1187.0L370.4 1197.5L370.2 1200.5L369.5 1202.0L364.5 1207.6L360.0 1210.5L352.5 1212.9L351.0 1213.0L349.5 1212.4L343.4 1208.0L341.4 1205.0L340.9 1202.0L341.1 1193.0L342.6 1185.5L344.9 1179.5Z"/>
<path fill="#ff1d00" d="M350.0 1178.0L352.5 1176.9L355.5 1177.1L358.5 1177.9L361.5 1179.8L363.9 1182.5L366.0 1186.3L368.1 1193.0L368.6 1197.5L366.7 1202.0L363.0 1205.7L360.0 1207.5L357.0 1208.4L354.0 1208.4L350.8 1206.5L347.9 1203.5L345.7 1199.0L345.2 1193.0L345.8 1187.0L347.2 1182.5ZM665.9 1188.5L666.0 1188.3L666.6 1188.5L666.0 1188.6ZM666.8 1190.0L667.5 1188.7L670.5 1191.3L676.5 1197.6L682.5 1205.0L690.0 1216.2L700.5 1235.3L705.8 1248.5L710.0 1262.0L712.8 1275.5L714.0 1288.2L712.5 1288.1L697.8 1251.5L691.8 1226.0L670.5 1196.3Z"/>
<path fill="#fc0000" d="M352.0 1179.5L354.0 1178.6L355.5 1178.6L358.5 1179.4L361.2 1181.0L364.5 1185.3L366.2 1190.0L367.0 1196.0L366.4 1199.0L363.0 1203.1L358.5 1205.5L355.5 1205.3L352.4 1203.5L349.7 1200.5L347.9 1196.0L347.6 1191.5L348.1 1187.0L349.7 1182.5Z"/>
<path fill="#de0000" d="M353.4 1181.0L355.5 1180.2L360.0 1181.6L362.5 1184.0L364.7 1188.5L365.6 1193.0L365.2 1197.5L363.0 1200.7L360.0 1202.7L357.0 1202.9L354.0 1201.6L351.5 1199.0L350.0 1196.0L349.4 1191.5L349.9 1187.0L351.0 1184.0Z"/>
<path fill="#c10000" d="M354.6 1182.5L357.0 1181.8L360.0 1183.1L362.1 1185.5L363.5 1188.5L364.4 1193.0L364.1 1196.0L362.0 1199.0L360.0 1200.3L357.0 1200.5L355.5 1199.9L352.9 1197.5L351.4 1194.5L351.0 1191.5L351.6 1187.0L353.1 1184.0Z"/>
<path fill="#a30000" d="M355.9 1184.0L358.5 1183.7L360.0 1184.8L361.7 1187.0L363.1 1191.5L363.0 1193.4L362.0 1196.0L360.0 1197.8L358.5 1198.3L355.5 1197.4L354.0 1195.9L352.8 1193.0L352.6 1190.0L353.3 1187.0L354.1 1185.5Z"/>
</g></g>
<g filter="url(#tb)"><rect x="86.5" y="961.5" width="767.5" height="770.5" fill="none" stroke="#929292" stroke-width="2.8"/>
<path d="M278 1732v-9M469 1732v-9M661.5 1732v-9M86.5 1155.5h9M86.5 1347.5h9M86.5 1540h9" stroke="#8c8c8c" stroke-width="2" fill="none"/>
<g font-size="20.5" fill="#6e6e6e" stroke="#6e6e6e" stroke-width=".4">
<text x="80" y="968" text-anchor="end">2.00</text>
<text x="80" y="1162.5" text-anchor="end">y[mm]</text>
<text x="80" y="1355" text-anchor="end">0.00</text>
<text x="80" y="1733" text-anchor="end">-2.00</text>
<text x="84" y="1758.5" text-anchor="middle">-2.00</text>
<text x="468.5" y="1758.5" text-anchor="middle">0.00</text>
<text x="661" y="1758.5" text-anchor="middle">x[mm]</text>
<text x="852" y="1758.5" text-anchor="middle">2.00</text>
</g>
<rect x="10" y="1764.5" width="900" height="1.6" fill="#f3efe6"/>
<g class="cb">
<rect x="857" y="984" width="13" height="247.5" fill="#777"/>
<rect x="858" y="985.00" width="11" height="22.32" fill="#880000"/>
<rect x="858" y="1007.32" width="11" height="22.32" fill="#ff0000"/>
<rect x="858" y="1029.64" width="11" height="22.32" fill="#ff8000"/>
<rect x="858" y="1051.95" width="11" height="22.32" fill="#ffff00"/>
<rect x="858" y="1074.27" width="11" height="22.32" fill="#ccff44"/>
<rect x="858" y="1096.59" width="11" height="22.32" fill="#44ffaa"/>
<rect x="858" y="1118.91" width="11" height="22.32" fill="#00ffff"/>
<rect x="858" y="1141.23" width="11" height="22.32" fill="#00bbff"/>
<rect x="858" y="1163.55" width="11" height="22.32" fill="#0044ff"/>
<rect x="858" y="1185.86" width="11" height="22.32" fill="#0000dd"/>
<rect x="858" y="1208.18" width="11" height="22.32" fill="#000088"/>
<rect x="858" y="1006.22" width="11" height="2.2" fill="#111"/>
<rect x="858" y="1028.54" width="11" height="2.2" fill="#111"/>
<rect x="858" y="1050.85" width="11" height="2.2" fill="#111"/>
<rect x="858" y="1073.17" width="11" height="2.2" fill="#111"/>
<rect x="858" y="1095.49" width="11" height="2.2" fill="#111"/>
<rect x="858" y="1117.81" width="11" height="2.2" fill="#111"/>
<rect x="858" y="1140.13" width="11" height="2.2" fill="#111"/>
<rect x="858" y="1162.45" width="11" height="2.2" fill="#111"/>
<rect x="858" y="1184.76" width="11" height="2.2" fill="#111"/>
<rect x="858" y="1207.08" width="11" height="2.2" fill="#111"/>
<text x="904.5" y="1002.4" font-size="17.5" text-anchor="end" fill="#6e6e6e" stroke="#6e6e6e" stroke-width=".35">100</text>
<text x="904.5" y="1024.7" font-size="17.5" text-anchor="end" fill="#6e6e6e" stroke="#6e6e6e" stroke-width=".35">90</text>
<text x="904.5" y="1047.1" font-size="17.5" text-anchor="end" fill="#6e6e6e" stroke="#6e6e6e" stroke-width=".35">80</text>
<text x="904.5" y="1069.4" font-size="17.5" text-anchor="end" fill="#6e6e6e" stroke="#6e6e6e" stroke-width=".35">70</text>
<text x="904.5" y="1091.7" font-size="17.5" text-anchor="end" fill="#6e6e6e" stroke="#6e6e6e" stroke-width=".35">60</text>
<text x="904.5" y="1114.0" font-size="17.5" text-anchor="end" fill="#6e6e6e" stroke="#6e6e6e" stroke-width=".35">50</text>
<text x="904.5" y="1136.3" font-size="17.5" text-anchor="end" fill="#6e6e6e" stroke="#6e6e6e" stroke-width=".35">40</text>
<text x="904.5" y="1158.7" font-size="17.5" text-anchor="end" fill="#6e6e6e" stroke="#6e6e6e" stroke-width=".35">30</text>
<text x="904.5" y="1181.0" font-size="17.5" text-anchor="end" fill="#6e6e6e" stroke="#6e6e6e" stroke-width=".35">20</text>
<text x="904.5" y="1203.3" font-size="17.5" text-anchor="end" fill="#6e6e6e" stroke="#6e6e6e" stroke-width=".35">10</text>
<text x="904.5" y="1225.6" font-size="17.5" text-anchor="end" fill="#6e6e6e" stroke="#6e6e6e" stroke-width=".35">0</text>
<text x="904.5" y="979" font-size="17.5" text-anchor="end" fill="#6e6e6e" stroke="#6e6e6e" stroke-width=".35">%</text>
</g></g>
</g>
<g id="pd">
<pattern id="pd1" width="7.8" height="6.35" patternUnits="userSpaceOnUse"><rect width="7.8" height="6.35" fill="#3c3c5c"/><rect x="1.4" y="1.2" width="5.5" height="4.3" fill="#0000d6"/></pattern>
<filter id="fd1" x="-2%" y="-4%" width="104%" height="108%"><feTurbulence type="fractalNoise" baseFrequency="0.11" numOctaves="2" seed="5" result="n"/><feDisplacementMap in="SourceGraphic" in2="n" scale="7" xChannelSelector="R" yChannelSelector="G"/><feGaussianBlur stdDeviation="1.0"/></filter>
<path d="M954 1655L1578 1655L1823 1401L1199 1401Z" fill="url(#pd1)" filter="url(#fd1)"/>
<filter id="sbd" x="-3%" y="-3%" width="106%" height="106%"><feGaussianBlur stdDeviation="1.0"/></filter>
<g stroke="#3e3e3e" stroke-width="1.6" stroke-linejoin="round" filter="url(#sbd)">
<path fill="#0000dd" d="M1595.7 1420.3l7.8 7.3 3.1-4.4-7.8 0z"/>
<path fill="#4a4a4a" stroke-width="3.2" d="M1608.2 1429.6l7.8-6.3 3.1 3.1-7.8-1.4z"/>
<path fill="#0000dd" d="M1616 1423.3l7.8 6.3 3.1-3.2-7.8 0zM1597.4 1427.5l7.8 3.8 3-1.7-7.8-0.8zM1605.2 1431.3l7.8-2.2 3-5.8-7.8 6.3zM1613 1429.1l7.8 0.5 3 0-7.8-6.3zM1620.8 1429.6l7.8 2.3 3-2.3-7.8 0zM1594.3 1430.2l7.8 4.6 3.1-3.5-7.8-3.8zM1602.1 1434.8l7.8-5.6 3.1-0.1-7.8 2.2zM1609.9 1429.2l7.8 4.9 3.1-4.5-7.8-0.5zM1617.7 1434.1l7.8 1.8 3.1-4-7.8-2.3zM1625.5 1435.9l7.8-3.5 3.1 0.4-7.8-0.9zM1633.3 1432.4l7.8 3.5 3.1-3.1-7.8 0zM1599.1 1432.5l7.7 1.6 3.1-4.9-7.8 5.6zM1606.8 1434.1l7.8 1.4 3.1-1.4-7.8-4.9z"/>
<path fill="#4a4a4a" stroke-width="3.2" d="M1614.6 1435.5l7.8-2.3 3.1 2.7-7.8-1.8z"/>
<path fill="#0000dd" d="M1622.4 1433.2l7.8 6.6 3.1-7.4-7.8 3.5zM1630.2 1439.8l7.9-1.5 3-2.4-7.8-3.5zM1596 1435.1l7.8-0.1 3-0.9-7.7-1.6zM1603.8 1435l7.8 0.2 3 0.3-7.8-1.4zM1611.6 1435.2l7.8 3.7 3-5.7-7.8 2.3zM1619.4 1438.9l7.8-4 3 4.9-7.8-6.6zM1635 1438.6l7.8 4.5 3-4-7.7-0.8zM1600.7 1437.2l7.8-0.6 3.1-1.4-7.8-0.2zM1608.5 1436.6l7.8 6.5 3.1-4.2-7.8-3.7zM1616.3 1443.1l7.8-1.4 3.1-6.8-7.8 4zM1624.1 1441.7l7.8 0 3.1-3.1-7.8-3.7zM1631.9 1441.7l7.8-0.7 3.1 2.1-7.8-4.5z"/>
<path fill="#4a4a4a" stroke-width="3.2" d="M1639.7 1441l7.8 2.1 3.1-0.8-7.8 0.8z"/>
<path fill="#0000dd" d="M1647.5 1443.1l7.8 2.3 3.1-3.1-7.8 0zM1597.7 1432.6l7.8 10.4 3-6.4-7.8 0.6zM1605.5 1443l7.8-3.4 3 3.5-7.8-6.5zM1621.1 1442l7.8 1.8 3-2.1-7.8 0zM1628.9 1443.8l7.8-1.4 3-1.4-7.8 0.7zM1636.7 1442.4l7.8 5 3-4.3-7.8-2.1zM1644.5 1447.4l7.8-0.9 3-1.1-7.8-2.3zM1652.3 1446.5l7.8 2.1 3-3.2-7.8 0zM1602.4 1439.6l7.8 4 3.1-4-7.8 3.4zM1610.2 1443.6l7.8 1.9 3.1-3.5-7.8-2.4zM1618 1445.5l7.8-1 3.1-0.7-7.8-1.8zM1625.8 1444.5l7.8-0.5 3.1-1.6-7.8 1.4zM1633.6 1444l7.8 5 3.1-1.6-7.8-5zM1641.4 1449l7.8-2.3 3.1-0.2-7.8 0.9zM1649.2 1446.7l7.8 2.1 3.1-0.2-7.8-2.1zM1657 1448.8l7.8 3 3.1-3.2-7.8 0z"/>
<path fill="#4a4a4a" stroke-width="3.2" d="M1435.5 1077.2l7.8-11.2 3.1 40.2-7.8 16.1z"/>
<path fill="#0000dd" d="M1599.3 1441.9l7.8 3.3 3.1-1.6-7.8-4zM1607.1 1445.2l7.8-0.2 3.1 0.5-7.8-1.9zM1614.9 1445l7.8 4.6 3.1-5.1-7.8 1zM1622.7 1449.6l7.8 2 3.1-7.6-7.8 0.5zM1630.5 1451.6l7.8-2.6 3.1 0-7.8-5zM1638.3 1449l7.8 1.1 3.1-3.4-7.8 2.3zM1646.1 1450.1l7.8-0.8 3.1-0.5-7.8-2.1zM1653.9 1449.3l7.8 7.6 3.1-5.1-7.8-3zM1604.1 1442.8l7.8 6.3 3-4.1-7.8 0.2zM1611.9 1449.1l7.8 1.8 3-1.3-7.8-4.6z"/>
<path fill="#4a4a4a" stroke-width="3.2" d="M1619.7 1450.9l7.8-3.1 3 3.8-7.8-2zM1627.5 1447.8l7.8 3 3-1.8-7.8 2.6z"/>
<path fill="#0000dd" d="M1635.3 1450.8l7.8 4.3 3-5-7.8-1.1zM1643.1 1455.1l7.8-3.5 3-2.3-7.8 0.8zM1650.9 1451.6l7.8 1.8 3 3.5-7.8-7.6zM1658.7 1453.4l7.8 5 3-3.4-7.8 1.9z"/>
<path fill="#4a4a4a" stroke-width="3.2" d="M1382.6 1048.6l7.8-1.5 3.1 23.9-7.8 0.4zM1499.6 1076.5l7.8 0.7 3.1 48.5-7.8-17.1z"/>
<path fill="#0011e6" d="M1601 1443.4l7.8 4.9 3.1 0.8-7.8-6.3z"/>
<path fill="#0000dd" d="M1608.8 1448.3l7.8 4.8 3.1-2.2-7.8-1.8zM1616.6 1453.1l7.8-3.7 3.1-1.6-7.8 3.1zM1624.4 1449.4l7.8 5.2 3.1-3.8-7.8-3zM1632.2 1454.6l7.8 1.2 3.1-0.7-7.8-4.3zM1640 1455.8l7.8 0.9 3.1-5.1-7.8 3.5zM1647.8 1456.7l7.8 7.1 3.1-10.4-7.8-1.8zM1655.6 1463.8l7.8-7.8 3.1 2.4-7.8-5z"/>
<path fill="#4a4a4a" stroke-width="3.2" d="M1663.4 1456l7.8 2.6 3.1-0.4-7.8 0.2z"/>
<path fill="#0000dd" d="M1671.2 1458.6l7.8 2.7 3.1-3.1-7.8 0z"/>
<path fill="#4a4a4a" stroke-width="3.2" d="M1379.6 1037.2l7.8 14.8 3-4.9-7.8 1.5z"/>
<path fill="#ff8000" d="M1387.4 1052l7.8 4.7 3-6-7.8-3.6z"/>
<path fill="#4a4a4a" stroke-width="3.2" d="M1395.2 1056.7l7.8-12 3 8.7-7.8-2.7z"/>
<path fill="#ff8000" d="M1403 1044.7l7.8 24.4 3-30.9-7.8 15.2zM1410.8 1069.1l7.8-14 3-20.3-7.8 3.4z"/>
<path fill="#ff6000" d="M1418.6 1055.1l7.8-11.7 3-24.5-7.8 15.9z"/>
<path fill="#ff8000" d="M1426.4 1043.4l7.8 24.9 3-34.2-7.8-15.2zM1434.2 1068.3l7.8-10.5 3-13.6-7.8-10.1zM1442 1057.8l7.8-8.7 3-28.7-7.8 23.8zM1449.8 1049.1l7.8-6.3 3 31.1-7.8-53.5z"/>
<path fill="#0011e6" d="M1598 1444.4l7.8 6.7 3-2.8-7.8-4.9zM1605.8 1451.1l7.8 0.9 3 1.1-7.8-4.8z"/>
<path fill="#0000dd" d="M1613.6 1452l7.8 1 3-3.6-7.8 3.7zM1621.4 1453l7.8 4 3-2.4-7.8-5.2z"/>
<path fill="#4a4a4a" stroke-width="3.2" d="M1629.2 1457l7.8-4.1 3 2.9-7.8-1.2z"/>
<path fill="#0000dd" d="M1637 1452.9l7.8 6.6 3-2.8-7.8-0.9zM1644.8 1459.5l7.8 0.4 3 3.9-7.8-7.1z"/>
<path fill="#4a4a4a" stroke-width="3.2" d="M1652.6 1459.9l7.8 1.2 3-5.1-7.8 7.8z"/>
<path fill="#0000dd" d="M1660.4 1461.1l7.8 1.9 3-4.4-7.8-2.6zM1668.2 1463l7.8 1.5 3-3.2-7.8-2.7z"/>
<path fill="#4a4a4a" stroke-width="3.2" d="M1360.9 1044l7.8-4.4 3.1 18.4-7.8-20.4zM1368.7 1039.6l7.8 12.9 3.1-15.3-7.8 20.8z"/>
<path fill="#ff8000" d="M1376.5 1052.5l7.8 7.7 3.1-8.2-7.8-14.8z"/>
<path fill="#4a4a4a" stroke-width="3.2" d="M1384.3 1060.2l7.8-13.6 3.1 10.1-7.8-4.7z"/>
<path fill="#ff8000" d="M1392.1 1046.6l7.8 10.8 3.1-12.7-7.8 12z"/>
<path fill="#ff9c00" d="M1399.9 1057.4l7.8 9.6 3.1 2.1-7.8-24.4zM1415.5 1058.6l7.8 16.4 3.1-31.6-7.8 11.7zM1423.3 1075l7.8-13.9 3.1 7.2-7.8-24.9zM1431.1 1061.1l7.8 20.3 3.1-23.6-7.8 10.5zM1438.9 1081.4l7.8-18.9 3.1-13.4-7.8 8.7z"/>
<path fill="#4a4a4a" stroke-width="3.2" d="M1446.7 1062.5l7.8-26.5 3.1 6.8-7.8 6.3z"/>
<path fill="#ff8000" d="M1454.5 1036l7.8 32.1 3.1-35.1-7.8 9.8zM1462.3 1068.1l7.8-5.3 3.1-24-7.8-5.8zM1470.1 1062.8l7.8-4.2 3.1-4.8-7.8-15z"/>
<path fill="#4a4a4a" stroke-width="3.2" d="M1477.9 1058.6l7.8-8.4 3.1 33.4-7.8-29.8z"/>
<path fill="#ffb700" d="M1493.5 1075.1l7.8 0.6 3.1-1.8-7.8-10.1z"/>
<path fill="#0011e6" d="M1610.5 1451.1l7.8 2.8 3.1-0.9-7.8-1z"/>
<path fill="#0000dd" d="M1618.3 1453.9l7.8 7.5 3.1-4.4-7.8-4zM1626.1 1461.4l7.8-1.1 3.1-7.4-7.8 4.1zM1633.9 1460.3l7.8 0.9 3.1-1.7-7.8-6.6zM1641.7 1461.2l7.8 5 3.1-6.3-7.8-0.4zM1649.5 1466.2l7.8-1.4 3.1-3.7-7.8-1.2zM1657.3 1464.8l7.8 0.6 3.1-2.4-7.8-1.9zM1665.1 1465.4l7.8-2.5 3.1 1.6-7.8-1.5zM1672.9 1462.9l7.8 4.8 3.1-3.2-7.8 0z"/>
<path fill="#ff8000" d="M1350 1054.8l7.8-1.6 3.1-9.2-7.8 6.8zM1357.8 1053.2l7.8 16.8 3.1-30.4-7.8 4.4zM1365.6 1070l7.8 1.9 3.1-19.4-7.8-12.9z"/>
<path fill="#ff9c00" d="M1373.4 1071.9l7.8 30.9 3.1-42.6-7.8-7.7z"/>
<path fill="#ffb700" d="M1381.2 1102.8l7.8-6.7 3.1-49.5-7.8 13.6z"/>
<path fill="#ff9c00" d="M1389 1096.1l7.8-7.6 3.1-31.1-7.8-10.8z"/>
<path fill="#ffb700" d="M1396.8 1088.5l7.8 8.6 3.1-30.1-7.8-9.6zM1404.6 1097.1l7.8 9.6 3.1-48.1-7.8 8.4zM1412.4 1106.7l7.8-12.6 3.1-19.1-7.8-16.4zM1420.2 1094.1l7.8-17.5 3.1-15.5-7.8 13.9z"/>
<path fill="#ff9c00" d="M1428 1076.6l7.8-0.1 3.1 4.9-7.8-20.3z"/>
<path fill="#ffb700" d="M1435.8 1076.5l7.8 32.3 3.1-46.3-7.8 18.9z"/>
<path fill="#ff9c00" d="M1443.6 1108.8l7.8-28.2 3.1-44.6-7.8 26.5zM1451.4 1080.6l7.8 6.6 3.1-19.1-7.8-32.1zM1459.2 1087.2l7.8-23.4 3.1-1-7.8 5.3zM1467 1063.8l7.8 11.2 3.1-16.4-7.8 4.2zM1474.8 1075l7.8-8.5 3.1-16.3-7.8 8.4zM1482.6 1066.5l7.8-6.4 3.1 15-7.8-24.9z"/>
<path fill="#4a4a4a" stroke-width="3.2" d="M1490.4 1060.1l7.8 8.7 3.1 6.9-7.8-0.6zM1521.6 1072.9l7.8 26.7 3.1 3.9-7.8 7.3z"/>
<path fill="#0011e6" d="M1607.4 1449.4l7.8 4.5 3.1 0-7.8-2.8zM1615.2 1453.9l7.8 4.3 3.1 3.2-7.8-7.5z"/>
<path fill="#0000dd" d="M1630.8 1461.2l7.8 2.3 3.1-2.3-7.8-0.9zM1638.6 1463.5l7.8 0.6 3.1 2.1-7.8-5zM1669.8 1463.3l7.8 6.9 3.1-2.5-7.8-4.8z"/>
<path fill="#4a4a4a" stroke-width="3.2" d="M1284.6 1113.1l7.8-17.6 3 34.7-7.8 20.1zM1292.4 1095.5l7.8 1.3 3 1.2-7.8 32.2zM1315.8 1080.4l7.8-20.2 3 1.9-7.8 6.7z"/>
<path fill="#ff9c00" d="M1323.6 1060.2l7.8 17.7 3-9.7-7.8-6.1zM1331.4 1077.9l7.8 7.3 3-21.3-7.8 4.3zM1339.2 1085.2l7.8-3.4 3-27-7.8 9.1zM1347 1081.8l7.8 7.6 3-36.2-7.8 1.6zM1354.8 1089.4l7.8 8.9 3-28.3-7.8-16.8z"/>
<path fill="#ffb700" d="M1362.6 1098.3l7.8 1.2 3-27.6-7.8-1.9z"/>
<path fill="#ffd200" d="M1370.4 1099.5l7.8 26.9 3-23.6-7.8-30.9z"/>
<path fill="#ffee00" d="M1378.2 1126.4l7.8-14.9 3-15.4-7.8 6.7zM1386 1111.5l7.8 27.3 3-50.3-7.8 7.6zM1393.8 1138.8l7.8 8.5 3-50.2-7.8-8.6zM1401.6 1147.3l7.8-15.3 3-25.3-7.8-9.6zM1409.4 1132l7.8 20.2 3-58.1-7.8 12.6zM1417.2 1152.2l7.8-11.3 3-64.3-7.8 17.5zM1425 1140.9l7.8 4.4 3-68.8-7.8 0.1zM1432.8 1145.3l7.8-28.6 3-7.9-7.8-32.3z"/>
<path fill="#ffd200" d="M1440.6 1116.7l7.8 0.1 3-36.2-7.8 28.2zM1448.4 1116.8l7.8-20 3-9.6-7.8-6.6z"/>
<path fill="#ffb700" d="M1456.2 1096.8l7.8 5.2 3-38.2-7.8 23.4zM1464 1102l7.8 6.6 3-33.6-7.8-11.2zM1471.8 1108.6l7.8-42.1 3 0-7.8 8.5z"/>
<path fill="#ff9c00" d="M1487.4 1062.5l7.8 12 3-5.7-7.8-8.7z"/>
<path fill="#4a4a4a" stroke-width="3.2" d="M1495.2 1074.5l7.8-9.9 3 17.4-7.8-13.2zM1503 1064.6l7.8 6.1 3 20.6-7.8-9.3zM1526.4 1086.5l7.8 20.8 3 5.8-7.8-13.5z"/>
<path fill="#0011e6" d="M1596.6 1445.3l7.8 9.5 3-5.4-7.8-8.2zM1604.4 1454.8l7.8 0.5 3-1.4-7.8-4.5zM1612.2 1455.3l7.8 0.5 3 2.4-7.8-4.3zM1620 1455.8l7.8 7.7 3-2.3-7.8-3z"/>
<path fill="#0000dd" d="M1627.8 1463.5l7.8 0.7 3-0.7-7.8-2.3z"/>
<path fill="#4a4a4a" stroke-width="3.2" d="M1635.6 1464.2l7.8-0.9 3 0.8-7.8-0.6z"/>
<path fill="#0000dd" d="M1643.4 1463.3l7.8 4.5 3-3.8-7.8 0.1zM1651.2 1467.8l7.8 2.8 3-5.3-7.8-1.3zM1659 1470.6l7.8-4 3-3.3-7.8 2zM1666.8 1466.6l7.8 2.8 3 0.8-7.8-6.9zM1674.6 1469.4l7.8 4.6 3-3.2-7.8-0.6z"/>
<path fill="#4a4a4a" stroke-width="3.2" d="M1289.3 1076.9l7.8-9.5 3.1 29.4-7.8-1.3z"/>
<path fill="#ff9c00" d="M1312.7 1080.1l7.8 12.1 3.1-32-7.8 20.2z"/>
<path fill="#ffb700" d="M1320.5 1092.2l7.8 3.6 3.1-17.9-7.8-17.7zM1328.3 1095.8l7.8 3.5 3.1-14.1-7.8-7.3zM1336.1 1099.3l7.8 13.7 3.1-31.2-7.8 3.4z"/>
<path fill="#ffd200" d="M1343.9 1113l7.8 5.2 3.1-28.8-7.8-7.6z"/>
<path fill="#ffee00" d="M1351.7 1118.2l7.8 33.4 3.1-53.3-7.8-8.9zM1359.5 1151.6l7.8-2.3 3.1-49.8-7.8-1.2z"/>
<path fill="#f2ee14" d="M1367.3 1149.3l7.8 31.8 3.1-54.7-7.8-26.9z"/>
<path fill="#e6ef28" d="M1375.1 1181.1l7.8 3 3.1-72.6-7.8 14.9z"/>
<path fill="#d9f03c" d="M1382.9 1184.1l7.8 9.3 3.1-54.6-7.8-27.3zM1390.7 1193.4l7.8 2.4 3.1-48.5-7.8-8.5z"/>
<path fill="#ccf050" d="M1398.5 1195.8l7.8 11.5 3.1-75.3-7.8 15.3zM1406.3 1207.3l7.8 0.2 3.1-55.3-7.8-20.2zM1414.1 1207.5l7.8-5.1 3.1-61.5-7.8 11.3zM1421.9 1202.4l7.8-1.5 3.1-55.6-7.8-4.4z"/>
<path fill="#d9f03c" d="M1429.7 1200.9l7.8-19.4 3.1-64.8-7.8 28.6z"/>
<path fill="#e6ef28" d="M1437.5 1181.5l7.8-0.8 3.1-63.9-7.8-0.1z"/>
<path fill="#f2ee14" d="M1445.3 1180.7l7.8-17 3.1-66.9-7.8 20z"/>
<path fill="#ffee00" d="M1453.1 1163.7l7.8-26.9 3.1-34.8-7.8-5.2zM1460.9 1136.8l7.8-6 3.1-22.2-7.8-6.6z"/>
<path fill="#ffd200" d="M1468.7 1130.8l7.8-12 3.1-52.3-7.8 42.1z"/>
<path fill="#ffb700" d="M1476.5 1118.8l7.8-26.9 3.1-29.4-7.8 4z"/>
<path fill="#ff9c00" d="M1484.3 1091.9l7.8-8 3.1-9.4-7.8-12zM1492.1 1083.9l7.8 1.6 3.1-20.9-7.8 9.9z"/>
<path fill="#4a4a4a" stroke-width="3.2" d="M1499.9 1085.5l7.8-28.7 3.1 13.9-7.8-6.1zM1515.5 1076.6l7.8-19.3 3.1 29.2-7.8 3.7zM1523.3 1057.3l7.8 13.3 3.1 36.7-7.8-20.8z"/>
<path fill="#0011e6" d="M1609.1 1455.5l7.8 4 3.1-3.7-7.8-0.5zM1616.9 1459.5l7.8 4.6 3.1-0.6-7.8-7.7zM1624.7 1464.1l7.8-0.4 3.1 0.5-7.8-0.7z"/>
<path fill="#0000dd" d="M1632.5 1463.7l7.8 6.4 3.1-6.8-7.8 0.9zM1640.3 1470.1l7.8-3.6 3.1 1.3-7.8-4.5zM1648.1 1466.5l7.8 4.7 3.1-0.6-7.8-2.8zM1655.9 1471.2l7.8-0.9 3.1-3.7-7.8 4zM1663.7 1470.3l7.8-0.2 3.1-0.7-7.8-2.8zM1671.5 1470.1l7.8 2.4 3.1 1.5-7.8-4.6zM1679.3 1472.5l7.8 4.7 3.1-3.2-7.8 0z"/>
<path fill="#ff9c00" d="M1286.2 1063.8l7.8 35.3 3.1-31.7-7.8 9.5zM1294 1099.1l7.8-23.1 3.1-10.2-7.8 1.6zM1301.8 1076l7.8 13.6 3.1-9.5-7.8-14.3z"/>
<path fill="#ffb700" d="M1309.6 1089.6l7.8 14.2 3.1-11.6-7.8-12.1zM1317.4 1103.8l7.8-0.5 3.1-7.5-7.8-3.6z"/>
<path fill="#ffd200" d="M1325.2 1103.3l7.8 40.4 3.1-44.4-7.8-3.5z"/>
<path fill="#ffee00" d="M1333 1143.7l7.8 3.2 3.1-33.9-7.8-13.7z"/>
<path fill="#f2ee14" d="M1340.8 1146.9l7.8 31.7 3.1-60.4-7.8-5.2z"/>
<path fill="#d9f03c" d="M1348.6 1178.6l7.8 17 3.1-44-7.8-33.4z"/>
<path fill="#ccf050" d="M1356.4 1195.6l7.8 26.9 3.1-73.2-7.8 2.3z"/>
<path fill="#adf466" d="M1364.2 1222.5l7.8 10.9 3.1-52.3-7.8-31.8z"/>
<path fill="#8ef87d" d="M1372 1233.4l7.8 15.1 3.1-64.4-7.8-3z"/>
<path fill="#6ffb94" d="M1379.8 1248.5l7.8 17.4 3.1-72.5-7.8-9.3z"/>
<path fill="#50ffaa" d="M1387.6 1265.9l7.8 15.4 3.1-85.5-7.8-2.4zM1395.4 1281.3l7.8 0.1 3.1-74.1-7.8-11.5zM1403.2 1281.4l7.8 2.9 3.1-76.8-7.8-0.2zM1411 1284.3l7.8-3.7 3.1-78.2-7.8 5.1z"/>
<path fill="#adf466" d="M1442.2 1238.1l7.8-15.4 3.1-59-7.8 17z"/>
<path fill="#ccf050" d="M1450 1222.7l7.8-15.8 3.1-70.1-7.8 26.9z"/>
<path fill="#d9f03c" d="M1457.8 1206.9l7.8-20.3 3.1-55.8-7.8 6z"/>
<path fill="#e6ef28" d="M1465.6 1186.6l7.8-30.3 3.1-37.5-7.8 12z"/>
<path fill="#ffee00" d="M1473.4 1156.3l7.8-37.1 3.1-27.3-7.8 26.9z"/>
<path fill="#ffd200" d="M1481.2 1119.2l7.8 5.8 3.1-41.1-7.8 8zM1489 1125l7.8 8.1 3.1-47.6-7.8-1.6z"/>
<path fill="#ffb700" d="M1496.8 1133.1l7.8-45.7 3.1-30.6-7.8 28.7z"/>
<path fill="#ff9c00" d="M1504.6 1087.4l7.8 5.4 3.1-16.2-7.8-19.8zM1512.4 1092.8l7.8-12.3 3.1-23.2-7.8 19.3zM1520.2 1080.5l7.8 4.4 3.1-14.3-7.8-13.3z"/>
<path fill="#0011e6" d="M1606 1455.2l7.8 2.6 3.1 1.7-7.8-4zM1621.6 1461l7.8 10.8 3.1-8.1-7.8 0.4z"/>
<path fill="#0000dd" d="M1629.4 1471.8l7.8-3.1 3.1 1.4-7.8-6.4zM1637.2 1468.7l7.8 5.1 3.1-7.3-7.8 3.6zM1645 1473.8l7.8-1.5 3.1-1.1-7.8-4.7zM1652.8 1472.3l7.8 2.7 3.1-4.7-7.8 0.9zM1660.6 1475l7.8 0 3.1-4.9-7.8 0.2zM1668.4 1475l7.8 0 3.1-2.5-7.8-2.4zM1676.2 1475l7.8 5.4 3.1-3.2-7.8-4.7z"/>
<path fill="#4a4a4a" stroke-width="3.2" d="M1275.4 1072.4l7.8 13.2 3-21.8-7.8 27.5z"/>
<path fill="#ff9c00" d="M1283.2 1085.6l7.8 10.9 3 2.6-7.8-35.3z"/>
<path fill="#ffb700" d="M1291 1096.5l7.8-4.5 3-16-7.8 23.1zM1298.8 1092l7.8 14 3-16.4-7.8-13.6z"/>
<path fill="#ffd200" d="M1306.6 1106l7.8 24.7 3-26.9-7.8-14.2z"/>
<path fill="#ffee00" d="M1314.4 1130.7l7.8 6.5 3-33.9-7.8 0.5z"/>
<path fill="#f2ee14" d="M1322.2 1137.2l7.8 44.4 3-37.9-7.8-40.4z"/>
<path fill="#d9f03c" d="M1330 1181.6l7.8 15.7 3-50.4-7.8-3.2z"/>
<path fill="#ccf050" d="M1337.8 1197.3l7.8 34.1 3-52.8-7.8-31.7z"/>
<path fill="#8ef87d" d="M1345.6 1231.4l7.8 27 3-62.8-7.8-17z"/>
<path fill="#50ffaa" d="M1353.4 1258.4l7.8 29.4 3-65.3-7.8-26.9z"/>
<path fill="#3cffbf" d="M1361.2 1287.8l7.8 24.7 3-79.1-7.8-10.9z"/>
<path fill="#14ffea" d="M1369 1312.5l7.8 19 3-83-7.8-15.1z"/>
<path fill="#00ffff" d="M1376.8 1331.5l7.8 14.9 3-80.5-7.8-17.4z"/>
<path fill="#00eeff" d="M1384.6 1346.4l7.8 11.7 3-76.8-7.8-15.4zM1392.4 1358.1l7.8 6.4 3-83.1-7.8-0.1z"/>
<path fill="#00ddff" d="M1400.2 1364.5l7.8 1.4 3-81.6-7.8-2.9z"/>
<path fill="#00eeff" d="M1408 1365.9l7.8-3.7 3-81.6-7.8 3.7z"/>
<path fill="#adf466" d="M1462.6 1240l7.8-20.5 3-63.2-7.8 30.3z"/>
<path fill="#d9f03c" d="M1470.4 1219.5l7.8-36.7 3-63.6-7.8 37.1z"/>
<path fill="#e6ef28" d="M1478.2 1182.8l7.8-7.7 3-50.1-7.8-5.8z"/>
<path fill="#f2ee14" d="M1486 1175.1l7.8-46.2 3 4.2-7.8-8.1z"/>
<path fill="#ffee00" d="M1493.8 1128.9l7.8-7.4 3-34.1-7.8 45.7z"/>
<path fill="#ffb700" d="M1501.6 1121.5l7.8-35.9 3 7.2-7.8-5.4zM1509.4 1085.6l7.8 12.2 3-17.3-7.8 12.3z"/>
<path fill="#4a4a4a" stroke-width="3.2" d="M1517.2 1097.8l7.8-29.9 3 17-7.8-4.4z"/>
<path fill="#ffb700" d="M1532.8 1069.6l7.8 36.3 3-5.2-7.8-17.9z"/>
<path fill="#0011e6" d="M1603 1451.2l7.8 11.1 3-4.5-7.8-2.6zM1610.8 1462.3l7.8 5.6 3-6.9-7.8-3.2zM1618.6 1467.9l7.8 0.5 3 3.4-7.8-10.8z"/>
<path fill="#4a4a4a" stroke-width="3.2" d="M1626.4 1468.4l7.8 2.5 3-2.2-7.8 3.1z"/>
<path fill="#0000dd" d="M1634.2 1470.9l7.8 2.4 3 0.5-7.8-5.1zM1642 1473.3l7.8 2.3 3-3.3-7.8 1.5zM1649.8 1475.6l7.8 1.7 3-2.3-7.8-2.7zM1657.6 1477.3l7.8-2.2 3-0.1-7.8 0zM1665.4 1475.1l7.8 2.2 3-2.3-7.8 0zM1673.2 1477.3l7.8 2.8 3 0.3-7.8-5.4zM1681 1480.1l7.8 3.5 3-3.2-7.8 0z"/>
<path fill="#ff9c00" d="M1272.3 1081.7l7.8 29.9 3.1-26-7.8-13.2z"/>
<path fill="#ffb700" d="M1280.1 1111.6l7.8 2.6 3.1-17.7-7.8-10.9zM1287.9 1114.2l7.8-1.7 3.1-20.5-7.8 4.5z"/>
<path fill="#ffd200" d="M1295.7 1112.5l7.8 29.5 3.1-36-7.8-14z"/>
<path fill="#ffee00" d="M1303.5 1142l7.8 3.8 3.1-15.1-7.8-24.7z"/>
<path fill="#e6ef28" d="M1311.3 1145.8l7.8 53.4 3.1-62-7.8-6.5z"/>
<path fill="#ccf050" d="M1319.1 1199.2l7.8 19.4 3.1-37-7.8-44.4z"/>
<path fill="#8ef87d" d="M1326.9 1218.6l7.8 42.9 3.1-64.2-7.8-15.7z"/>
<path fill="#50ffaa" d="M1334.7 1261.5l7.8 38.4 3.1-68.5-7.8-34.1z"/>
<path fill="#28ffd4" d="M1342.5 1299.9l7.8 34.6 3.1-76.1-7.8-27z"/>
<path fill="#00ffff" d="M1350.3 1334.5l7.8 30.6 3.1-77.3-7.8-29.4z"/>
<path fill="#00ddff" d="M1358.1 1365.1l7.8 23.9 3.1-76.5-7.8-24.7z"/>
<path fill="#00bbff" d="M1365.9 1389l7.8 25.8 3.1-83.3-7.8-19z"/>
<path fill="#009dff" d="M1373.7 1414.8l7.8 19.7 3.1-88.1-7.8-14.9z"/>
<path fill="#0080ff" d="M1381.5 1434.5l7.8 9.7 3.1-86.1-7.8-11.7z"/>
<path fill="#0062ff" d="M1389.3 1444.2l7.8 10 3.1-89.7-7.8-6.4zM1397.1 1454.2l7.8-1.7 3.1-86.6-7.8-1.4zM1404.9 1452.5l7.8 0.8 3.1-91.1-7.8 3.7z"/>
<path fill="#d9f03c" d="M1482.9 1207.7l7.8-17.7 3.1-61.1-7.8 46.2z"/>
<path fill="#f2ee14" d="M1490.7 1190l7.8-57.3 3.1-11.2-7.8 7.4z"/>
<path fill="#ffd200" d="M1498.5 1132.7l7.8-11 3.1-36.1-7.8 35.9z"/>
<path fill="#ffb700" d="M1506.3 1121.7l7.8-10.8 3.1-13.1-7.8-12.2zM1514.1 1110.9l7.8-24.7 3.1-18.3-7.8 29.9z"/>
<path fill="#ff9c00" d="M1521.9 1086.2l7.8-5.1 3.1-11.5-7.8-1.7z"/>
<path fill="#4a4a4a" stroke-width="3.2" d="M1529.7 1081.1l7.8-7.3 3.1 32.1-7.8-36.3z"/>
<path fill="#0011e6" d="M1607.7 1466.8l7.8-1.5 3.1 2.6-7.8-5.6zM1615.5 1465.3l7.8 8.2 3.1-5.1-7.8-0.5zM1623.3 1473.5l7.8-4.3 3.1 1.7-7.8-2.5zM1631.1 1469.2l7.8 8.9 3.1-4.8-7.8-2.4z"/>
<path fill="#0000dd" d="M1638.9 1478.1l7.8 2.1 3.1-4.6-7.8-2.3zM1646.7 1480.2l7.8-3 3.1 0.1-7.8-1.7zM1654.5 1477.2l7.8 5.2 3.1-7.3-7.8 2.2zM1662.3 1482.4l7.8 3.4 3.1-8.5-7.8-2.2zM1670.1 1485.8l7.8 0.3 3.1-6-7.8-2.8zM1677.9 1486.1l7.8 0.6 3.1-3.1-7.8-3.5z"/>
<path fill="#4a4a4a" stroke-width="3.2" d="M1253.6 1093.8l7.8-8.2 3.1-12.3-7.8 24.2z"/>
<path fill="#ff9c00" d="M1261.4 1085.6l7.8-9.4 3.1 5.5-7.8-8.4z"/>
<path fill="#ffd200" d="M1284.8 1111.3l7.8 34.8 3.1-33.6-7.8 1.7z"/>
<path fill="#f2ee14" d="M1292.6 1146.1l7.8 38.1 3.1-42.2-7.8-29.5z"/>
<path fill="#d9f03c" d="M1300.4 1184.2l7.8 23.3 3.1-61.7-7.8-3.8z"/>
<path fill="#adf466" d="M1308.2 1207.5l7.8 32.3 3.1-40.6-7.8-53.4z"/>
<path fill="#6ffb94" d="M1316 1239.8l7.8 45 3.1-66.2-7.8-19.4z"/>
<path fill="#28ffd4" d="M1323.8 1284.8l7.8 46 3.1-69.3-7.8-42.9z"/>
<path fill="#00eeff" d="M1331.6 1330.8l7.8 39.3 3.1-70.2-7.8-38.4z"/>
<path fill="#00ccff" d="M1339.4 1370.1l7.8 39.8 3.1-75.4-7.8-34.6z"/>
<path fill="#0080ff" d="M1347.2 1409.9l7.8 35.5 3.1-80.3-7.8-30.6z"/>
<path fill="#0062ff" d="M1355 1445.4l7.8 24.5 3.1-80.9-7.8-23.9z"/>
<path fill="#0033f6" d="M1362.8 1469.9l7.8-2.7 3.1-52.4-7.8-25.8zM1370.6 1467.2l7.8-0.4 3.1-32.3-7.8-19.7z"/>
<path fill="#0022ee" d="M1378.4 1466.8l7.8 1 3.1-23.6-7.8-9.7zM1386.2 1467.8l7.8 1.2 3.1-14.8-7.8-10zM1394 1469l7.8-1 3.1-15.5-7.8 1.7z"/>
<path fill="#d9f03c" d="M1487.6 1223.4l7.8-53.2 3.1-37.5-7.8 57.3z"/>
<path fill="#f2ee14" d="M1495.4 1170.2l7.8-4.4 3.1-44.1-7.8 11z"/>
<path fill="#ffee00" d="M1503.2 1165.8l7.9-40.8 3-14.1-7.8 10.8z"/>
<path fill="#ffd200" d="M1511.1 1125l7.7-9.6 3.1-29.2-7.8 24.7z"/>
<path fill="#ffb700" d="M1518.8 1115.4l7.8-3.5 3.1-30.8-7.8 5.1z"/>
<path fill="#ff9c00" d="M1526.6 1111.9l7.8-25.1 3.1-13-7.8 7.3z"/>
<path fill="#4a4a4a" stroke-width="3.2" d="M1534.4 1086.8l7.8-5.2 3.1 28.9-7.8-36.7zM1542.2 1081.6l7.9 33.8 3 0.6-7.8-5.5z"/>
<path fill="#0011e6" d="M1612.4 1465.2l7.8 6.1 3.1 2.2-7.8-8.2zM1620.2 1471.3l7.9 2.3 3-4.4-7.8 4.3zM1628.1 1473.6l7.7 4.9 3.1-0.4-7.8-8.9z"/>
<path fill="#0000dd" d="M1635.8 1478.5l7.8 4.7 3.1-3-7.8-2.1zM1643.6 1483.2l7.8-0.6 3.1-5.4-7.8 3zM1651.4 1482.6l7.8 4.6 3.1-4.8-7.8-5.2zM1659.2 1487.2l7.8-4.1 3.1 2.7-7.8-3.4zM1674.8 1486l7.8 1.8 3.1-1.1-7.8-0.6zM1682.6 1487.8l7.8 2.1 3.1-3.2-7.8 0zM1110.2 1493.1l7.8 0.3 3-5.5-7.8 2z"/>
<path fill="#ffb700" d="M1242.8 1103l7.8-4.3 3-4.9-7.8 3.1z"/>
<path fill="#4a4a4a" stroke-width="3.2" d="M1250.6 1098.7l7.8-21.3 3 8.2-7.8 8.2z"/>
<path fill="#ff9c00" d="M1258.4 1077.4l7.8 23.2 3-24.4-7.8 9.4zM1266.2 1100.6l7.8 14.2 3-28.7-7.8-9.9z"/>
<path fill="#ffb700" d="M1274 1114.8l7.8 17.6 3-21.1-7.8-25.2z"/>
<path fill="#ffee00" d="M1281.8 1132.4l7.8 37.1 3-23.4-7.8-34.8z"/>
<path fill="#d9f03c" d="M1289.6 1169.5l7.8 31.7 3-17-7.8-38.1z"/>
<path fill="#adf466" d="M1297.4 1201.2l7.8 43.1 3-36.8-7.8-23.3z"/>
<path fill="#50ffaa" d="M1305.2 1244.3l7.8 55.7 3-60.2-7.8-32.3z"/>
<path fill="#14ffea" d="M1313 1300l7.8 52.5 3-67.7-7.8-45z"/>
<path fill="#00ddff" d="M1320.8 1352.5l7.8 45.5 3-67.2-7.8-46z"/>
<path fill="#009dff" d="M1328.6 1398l7.8 48.3 3-76.2-7.8-39.3z"/>
<path fill="#0044ff" d="M1336.4 1446.3l7.8 25 3-61.4-7.8-39.8z"/>
<path fill="#0033f6" d="M1344.2 1471.3l7.8-5.1 3-20.8-7.8-35.5z"/>
<path fill="#0022ee" d="M1352 1466.2l7.8 8 3-4.3-7.8-24.5z"/>
<path fill="#0011e6" d="M1359.8 1474.2l7.8-0.5 3-6.5-7.8 2.7zM1367.6 1473.7l7.8 1.1 3-8-7.8 0.4zM1375.4 1474.8l7.8 2.6 3-9.6-7.8-1zM1383.2 1477.4l7.8-6.6 3-1.8-7.8-1.2zM1391 1470.8l7.8 4.3 3-7.1-7.8 1zM1398.8 1475.1l7.8-2.5 3-5.1-7.8 0.5z"/>
<path fill="#8ef87d" d="M1484.6 1278.2l7.8-48.1 3-59.9-7.8 53.2z"/>
<path fill="#ccf050" d="M1492.4 1230.1l7.8-43.2 3-21.1-7.8 4.4z"/>
<path fill="#e6ef28" d="M1500.2 1186.9l7.8-36.6 3.1-25.3-7.9 40.8z"/>
<path fill="#ffee00" d="M1508 1150.3l7.8-31 3-3.9-7.7 9.6z"/>
<path fill="#ffd200" d="M1515.8 1119.3l7.8 6.2 3-13.6-7.8 3.5z"/>
<path fill="#ffb700" d="M1523.6 1125.5l7.8-27.7 3-11-7.8 25.1z"/>
<path fill="#ff9c00" d="M1531.4 1097.8l7.8 7 3-23.2-7.8 5.2z"/>
<path fill="#ffb700" d="M1539.2 1104.8l7.8 0.3 3.1 10.3-7.9-33.8z"/>
<path fill="#ffd200" d="M1547 1105.1l7.8 31.4 3-20.8-7.7-0.3z"/>
<path fill="#ffee00" d="M1554.8 1136.5l7.8 3.5 3 30.8-7.8-55.1z"/>
<path fill="#0033f6" d="M1601.6 1414.4l7.8 60.7 3-9.9-7.8-20.3z"/>
<path fill="#0011e6" d="M1609.4 1475.1l7.8-3.9 3 0.1-7.8-6.1zM1625 1471.9l7.8 5.4 3 1.2-7.7-4.9z"/>
<path fill="#0000dd" d="M1632.8 1477.3l7.8 6.2 3-0.3-7.8-4.7zM1640.6 1483.5l7.8 0 3-0.9-7.8 0.6zM1648.4 1483.5l7.8 3.3 3 0.4-7.8-4.6zM1656.2 1486.8l7.8 2.8 3-6.5-7.8 4.1zM1664 1489.6l7.8 4.6 3-8.2-7.8-2.9zM1671.8 1494.2l7.8-2.4 3-4-7.8-1.8zM1679.6 1491.8l7.8 1.3 3-3.2-7.8-2.1zM1107.1 1495.1l7.8-1.4 3.1-0.3-7.8-0.3z"/>
<path fill="#4a4a4a" stroke-width="3.2" d="M1231.9 1113.6l7.8-24.7 3.1 14.1-7.8 32.4zM1239.7 1088.9l7.8 12.1 3.1-2.3-7.8 4.3z"/>
<path fill="#ff9c00" d="M1247.5 1101l7.8-0.1 3.1-23.5-7.8 21.3zM1255.3 1100.9l7.8 4 3.1-4.3-7.8-23.2z"/>
<path fill="#ffb700" d="M1263.1 1104.9l7.8 33.7 3.1-23.8-7.8-14.2z"/>
<path fill="#ffee00" d="M1270.9 1138.6l7.8 15.1 3.1-21.3-7.8-17.6z"/>
<path fill="#e6ef28" d="M1278.7 1153.7l7.8 54 3.1-38.2-7.8-37.1z"/>
<path fill="#adf466" d="M1286.5 1207.7l7.8 46.2 3.1-52.7-7.8-31.7z"/>
<path fill="#50ffaa" d="M1294.3 1253.9l7.8 55.6 3.1-65.2-7.8-43.1z"/>
<path fill="#14ffea" d="M1302.1 1309.5l7.8 55.5 3.1-65-7.8-55.7z"/>
<path fill="#00ccff" d="M1309.9 1365l7.8 54.2 3.1-66.7-7.8-52.5z"/>
<path fill="#0080ff" d="M1317.7 1419.2l7.8 49 3.1-70.2-7.8-45.5z"/>
<path fill="#0033f6" d="M1325.5 1468.2l7.8 3.1 3.1-25-7.8-48.3z"/>
<path fill="#0022ee" d="M1333.3 1471.3l7.8 5.2 3.1-5.2-7.8-25z"/>
<path fill="#0011e6" d="M1341.1 1476.5l7.8 2.7 3.1-13-7.8 5.1zM1348.9 1479.2l7.8-1.3 3.1-3.7-7.8-8zM1356.7 1477.9l7.8 1.2 3.1-5.4-7.8 0.5zM1364.5 1479.1l7.8-1 3.1-3.3-7.8-1.1zM1372.3 1478.1l7.8 5 3.1-5.7-7.8-2.6zM1380.1 1483.1l7.8-0.4 3.1-11.9-7.8 6.6zM1387.9 1482.7l7.8-2.2 3.1-5.4-7.8-4.3zM1395.7 1480.5l7.8 3.8 3.1-11.7-7.8 2.5z"/>
<path fill="#f2ee14" d="M1504.9 1182.5l7.8-38.5 3.1-24.7-7.8 31z"/>
<path fill="#ffee00" d="M1512.7 1144l7.8 4.3 3.1-22.8-7.8-6.2z"/>
<path fill="#ffd200" d="M1520.5 1148.3l7.8-39.4 3.1-11.1-7.8 27.7z"/>
<path fill="#4a4a4a" stroke-width="3.2" d="M1528.3 1108.9l7.8-14.1 3.1 10-7.8-7z"/>
<path fill="#e6ef28" d="M1559.5 1148.5l7.8 28.7 3.1-0.9-7.8-36.3z"/>
<path fill="#ccf050" d="M1567.3 1177.2l7.8 32.2 3.1 6.4-7.8-39.5z"/>
<path fill="#6ffb94" d="M1575.1 1209.4l7.8 52.4 3.1 26-7.8-72z"/>
<path fill="#4a4a4a" stroke-width="3.2" d="M1582.9 1261.8l7.8 60.5 3.1 26.1-7.8-60.6zM1590.7 1322.3l7.8 63.7 3.1 28.4-7.8-66z"/>
<path fill="#0044ff" d="M1598.5 1386l7.8 76.7 3.1 12.4-7.8-60.7z"/>
<path fill="#0011e6" d="M1614.1 1470.1l7.8 8.3 3.1-6.5-7.8-0.7zM1621.9 1478.4l7.8 4.9 3.1-6-7.8-5.4zM1629.7 1483.3l7.8 1.4 3.1-1.2-7.8-6.2z"/>
<path fill="#0000dd" d="M1645.3 1482.1l7.8 8.1 3.1-3.4-7.8-3.3zM1653.1 1490.2l7.8-0.7 3.1 0.1-7.8-2.8z"/>
<path fill="#4a4a4a" stroke-width="3.2" d="M1660.9 1489.5l7.8 1.5 3.1 3.2-7.8-4.6zM1668.7 1491l7.8 3 3.1-2.2-7.8 2.4z"/>
<path fill="#0000dd" d="M1676.5 1494l7.8 2.2 3.1-3.1-7.8-1.3zM1104.1 1496.3l7.8 5 3-7.6-7.8 1.4z"/>
<path fill="#4a4a4a" stroke-width="3.2" d="M1228.9 1087.5l7.8 23.6 3-22.2-7.8 24.7z"/>
<path fill="#ff9c00" d="M1236.7 1111.1l7.8-11.9 3 1.8-7.8-12.1zM1244.5 1099.2l7.8 7.3 3-5.6-7.8 0.1z"/>
<path fill="#ffb700" d="M1252.3 1106.5l7.8 37.1 3-38.7-7.8-4z"/>
<path fill="#ffee00" d="M1260.1 1143.6l7.8 14.5 3-19.5-7.8-33.7z"/>
<path fill="#e6ef28" d="M1267.9 1158.1l7.8 43.7 3-48.1-7.8-15.1z"/>
<path fill="#ccf050" d="M1275.7 1201.8l7.8 50.8 3-44.9-7.8-54z"/>
<path fill="#50ffaa" d="M1283.5 1252.6l7.8 55.7 3-54.4-7.8-46.2z"/>
<path fill="#00ffff" d="M1291.3 1308.3l7.8 59 3-57.8-7.8-55.6z"/>
<path fill="#00ccff" d="M1299.1 1367.3l7.8 61.4 3-63.7-7.8-55.5z"/>
<path fill="#0062ff" d="M1306.9 1428.7l7.8 47.2 3-56.7-7.8-54.2z"/>
<path fill="#0022ee" d="M1314.7 1475.9l7.8-0.9 3-6.8-7.8-49z"/>
<path fill="#0011e6" d="M1322.5 1475l7.8 3 3-6.7-7.8-3.1zM1330.3 1478l7.8 4.5 3-6-7.8-5.2zM1338.1 1482.5l7.8 1.7 3-5-7.8-2.7zM1345.9 1484.2l7.8 7.2 3-13.5-7.8 1.3zM1353.7 1491.4l7.8-0.8 3-11.5-7.8-1.2zM1361.5 1490.6l7.8-10 3-2.5-7.8 1zM1369.3 1480.6l7.8 11.1 3-8.6-7.8-5z"/>
<path fill="#0000dd" d="M1377.1 1491.7l7.8-1.8 3-7.2-7.8 0.4z"/>
<path fill="#0011e6" d="M1384.9 1489.9l7.8-3.9 3-5.5-7.8 2.2zM1392.7 1486l7.8 3.1 3-4.8-7.8-3.8z"/>
<path fill="#d9f03c" d="M1501.9 1222.6l7.8-41.1 3-37.5-7.8 38.5z"/>
<path fill="#f2ee14" d="M1509.7 1181.5l7.8-27.9 3-5.3-7.8-4.3z"/>
<path fill="#ffee00" d="M1517.5 1153.6l7.8-11.2 3-33.5-7.8 39.4z"/>
<path fill="#ffb700" d="M1525.3 1142.4l7.8-30.8 3-16.8-7.8 14.1z"/>
<path fill="#ff9c00" d="M1533.1 1111.6l7.8-2.1 3-17.6-7.8 2.9z"/>
<path fill="#ffb700" d="M1540.9 1109.5l7.8-3.7 3 15.5-7.8-29.4z"/>
<path fill="#8ef87d" d="M1572.1 1189.6l7.8 54.7 3 17.5-7.8-52.4z"/>
<path fill="#28ffd4" d="M1579.9 1244.3l7.8 56.4 3 21.6-7.8-60.5z"/>
<path fill="#00ddff" d="M1587.7 1300.7l7.8 62.9 3 22.4-7.8-63.7z"/>
<path fill="#0080ff" d="M1595.5 1363.6l7.8 69.4 3 29.7-7.8-76.7z"/>
<path fill="#4a4a4a" stroke-width="3.2" d="M1603.3 1433l7.8 40.6 3-3.5-7.8-7.4z"/>
<path fill="#0011e6" d="M1611.1 1473.6l7.8 5.6 3-0.8-7.8-8.3zM1618.9 1479.2l7.8 3.3 3 0.8-7.8-4.9zM1626.7 1482.5l7.8 10.7 3-8.5-7.8-1.4zM1634.5 1493.2l7.8-7.1 3-4-7.8 2.6z"/>
<path fill="#0000dd" d="M1642.3 1486.1l7.8 8.9 3-4.8-7.8-8.1zM1650.1 1495l7.8-1.7 3-3.8-7.8 0.7zM1657.9 1493.3l7.8-0.1 3-2.2-7.8-1.5zM1665.7 1493.2l7.8 6.6 3-5.8-7.8-3zM1673.5 1499.8l7.8-0.4 3-3.2-7.8-2.2zM1101 1499.7l7.8-2.4 3.1 4-7.8-5z"/>
<path fill="#ffb700" d="M1218 1122.3l7.8 1.8 3.1-36.6-7.8 51.3zM1225.8 1124.1l7.8-11.5 3.1-1.5-7.8-23.6zM1233.6 1112.6l7.8 1.3 3.1-14.7-7.8 11.9zM1241.4 1113.9l7.8 18.1 3.1-25.5-7.8-7.3z"/>
<path fill="#ffd200" d="M1249.2 1132l7.8 28.3 3.1-16.7-7.8-37.1z"/>
<path fill="#e6ef28" d="M1257 1160.3l7.8 40.4 3.1-42.6-7.8-14.5z"/>
<path fill="#ccf050" d="M1264.8 1200.7l7.8 29.1 3.1-28-7.8-43.7z"/>
<path fill="#6ffb94" d="M1272.6 1229.8l7.8 68.1 3.1-45.3-7.8-50.8z"/>
<path fill="#14ffea" d="M1280.4 1297.9l7.8 62.7 3.1-52.3-7.8-55.7z"/>
<path fill="#00ccff" d="M1288.2 1360.6l7.8 64.5 3.1-57.8-7.8-59z"/>
<path fill="#0062ff" d="M1296 1425.1l7.8 53.7 3.1-50.1-7.8-61.4z"/>
<path fill="#0022ee" d="M1303.8 1478.8l7.8 2.1 3.1-5-7.8-47.2z"/>
<path fill="#0011e6" d="M1311.6 1480.9l7.8 1.3 3.1-7.2-7.8 0.9zM1319.4 1482.2l7.8 3.3 3.1-7.5-7.8-3zM1327.2 1485.5l7.8 4.1 3.1-7.1-7.8-4.5zM1335 1489.6l7.8 0.6 3.1-6-7.8-1.7zM1342.8 1490.2l7.8 2.4 3.1-1.2-7.8-7.2z"/>
<path fill="#0000dd" d="M1350.6 1492.6l7.8 2.2 3.1-4.2-7.8 0.8zM1358.4 1494.8l7.8 2.2 3.1-16.4-7.8 10zM1366.2 1497l7.8-1.8 3.1-3.5-7.8-11.1zM1374 1495.2l7.8-0.3 3.1-5-7.8 1.8zM1381.8 1494.9l7.8-2.8 3.1-6.1-7.8 3.9z"/>
<path fill="#0011e6" d="M1389.6 1492.1l7.8-0.1 3.1-2.9-7.8-3.1z"/>
<path fill="#0000dd" d="M1397.4 1492l7.8 5.8 3.1-6.2-7.8-2.5z"/>
<path fill="#ffb700" d="M1530 1120l7.8-11.1 3.1 0.6-7.8 2.1zM1537.8 1108.9l7.8 0.5 3.1-3.6-7.8 3.7zM1545.6 1109.4l7.8 13.9 3.1 15.2-7.8-32.7z"/>
<path fill="#4a4a4a" stroke-width="3.2" d="M1569 1176.5l7.8 41.9 3.1 25.9-7.8-54.7zM1576.8 1218.4l7.8 60.7 3.1 21.6-7.8-56.4z"/>
<path fill="#00ffff" d="M1584.6 1279.1l7.8 65.7 3.1 18.8-7.8-62.9z"/>
<path fill="#009dff" d="M1592.4 1344.8l7.8 64.2 3.1 24-7.8-69.4z"/>
<path fill="#0033f6" d="M1600.2 1409l7.8 58.8 3.1 5.8-7.8-40.6z"/>
<path fill="#0022ee" d="M1608 1467.8l7.8 11.3 3.1 0.1-7.8-5.6z"/>
<path fill="#0011e6" d="M1615.8 1479.1l7.8 4.8 3.1-1.4-7.8-3.3zM1623.6 1483.9l7.8 8.6 3.1 0.7-7.8-10.7z"/>
<path fill="#0000dd" d="M1631.4 1492.5l7.8-1.5 3.1-4.9-7.8 7.1zM1639.2 1491l7.8 9.2 3.1-5.2-7.8-8.9zM1647 1500.2l7.8-2.4 3.1-4.5-7.8 1.7zM1654.8 1497.8l7.8-0.5 3.1-4.1-7.8 0.1zM1662.6 1497.3l7.8 5.3 3.1-2.8-7.8-6.6zM1097.9 1500.9l7.8-1.3 3.1-2.3-7.8 2.4zM1105.7 1499.6l7.8-2 3.1-3-7.8 2.7z"/>
<path fill="#4a4a4a" stroke-width="3.2" d="M1214.9 1112.8l7.8-7.7 3.1 19-7.8-1.8zM1222.7 1105.1l7.8 8.7 3.1-1.2-7.8 11.5z"/>
<path fill="#ffb700" d="M1230.5 1113.8l7.8 12.1 3.1-12-7.8-1.3z"/>
<path fill="#ffd200" d="M1238.3 1125.9l7.8 15.6 3.1-9.5-7.8-18.1z"/>
<path fill="#f2ee14" d="M1246.1 1141.5l7.8 49.8 3.1-31-7.8-28.3z"/>
<path fill="#d9f03c" d="M1253.9 1191.3l7.8 30.4 3.1-21-7.8-40.4z"/>
<path fill="#8ef87d" d="M1261.7 1221.7l7.8 62.3 3.1-54.2-7.8-29.1z"/>
<path fill="#28ffd4" d="M1269.5 1284l7.8 61 3.1-47.1-7.8-68.1z"/>
<path fill="#00ddff" d="M1277.3 1345l7.8 64.7 3.1-49.1-7.8-62.7z"/>
<path fill="#0062ff" d="M1285.1 1409.7l7.8 73.5 3.1-58.1-7.8-64.5z"/>
<path fill="#0022ee" d="M1292.9 1483.2l7.8 2.1 3.1-6.5-7.8-53.7z"/>
<path fill="#0011e6" d="M1300.7 1485.3l7.8 1.6 3.1-6-7.8-2.1zM1308.5 1486.9l7.8 1.8 3.1-6.5-7.8-1.3zM1316.3 1488.7l7.8 4.8 3.1-8-7.8-3.3zM1324.1 1493.5l7.8 0.9 3.1-4.8-7.8-4.1zM1331.9 1494.4l7.8 2.1 3.1-6.3-7.8-0.6z"/>
<path fill="#0000dd" d="M1339.7 1496.5l7.8 1.9 3.1-5.8-7.8-2.4zM1347.5 1498.4l7.8-1.2 3.1-2.4-7.8-2.2zM1355.3 1497.2l7.8 3.8 3.1-4-7.8-2.2zM1363.1 1501l7.8-2.3 3.1-3.5-7.8 1.8zM1370.9 1498.7l7.8-1.5 3.1-2.3-7.8 0.3zM1378.7 1497.2l7.8 4.4 3.1-9.5-7.8 2.8zM1386.5 1501.6l7.8-2.5 3.1-7.1-7.8 0.1zM1394.3 1499.1l7.8-3.3 3.1 2-7.8-5.8z"/>
<path fill="#f2ee14" d="M1511.3 1196l7.8-38 3.1-22.7-7.8 41.1z"/>
<path fill="#ffd200" d="M1519.1 1158l7.8-22.6 3.1-15.4-7.8 15.3z"/>
<path fill="#ffb700" d="M1526.9 1135.4l7.8-19.5 3.1-7-7.8 11.1z"/>
<path fill="#4a4a4a" stroke-width="3.2" d="M1534.7 1115.9l7.8-11.8 3.1 5.3-7.8-0.5z"/>
<path fill="#ffb700" d="M1542.5 1104.1l7.8 26.4 3.1-7.2-7.8-13.9z"/>
<path fill="#ffd200" d="M1550.3 1130.5l7.8 15.8 3.1-11-7.8-12z"/>
<path fill="#f2ee14" d="M1558.1 1146.3l7.8 21.3 3.1 8.9-7.8-41.2z"/>
<path fill="#d9f03c" d="M1565.9 1167.6l7.8 50.9 3.1-0.1-7.8-41.9z"/>
<path fill="#6ffb94" d="M1573.7 1218.5l7.8 40.3 3.1 20.3-7.8-60.7z"/>
<path fill="#14ffea" d="M1581.5 1258.8l7.8 69 3.1 17-7.8-65.7z"/>
<path fill="#00ccff" d="M1589.3 1327.8l7.8 63.3 3.1 17.9-7.8-64.2z"/>
<path fill="#0062ff" d="M1597.1 1391.1l7.8 70.4 3.1 6.3-7.8-58.8z"/>
<path fill="#0022ee" d="M1604.9 1461.5l7.8 23.4 3.1-5.8-7.8-11.3z"/>
<path fill="#0011e6" d="M1612.7 1484.9l7.8 1.7 3.1-2.7-7.8-4.8zM1620.5 1486.6l7.8 4.3 3.1 1.6-7.8-8.6zM1628.3 1490.9l7.8 3.9 3.1-3.8-7.8 1.5z"/>
<path fill="#0000dd" d="M1636.1 1494.8l7.8 0.6 3.1 4.8-7.8-9.2zM1643.9 1495.4l7.8 6.9 3.1-4.5-7.8 2.4zM1651.7 1502.3l7.8-3.5 3.1-1.5-7.8 0.5z"/>
<path fill="#4a4a4a" stroke-width="3.2" d="M1659.5 1498.8l7.8-0.2 3.1 4-7.8-5.3z"/>
<path fill="#0000dd" d="M1667.3 1498.6l7.8 7.2 3.1-3.2-7.8 0zM1094.9 1502.9l7.8 3.9 3-7.2-7.8 1.3zM1102.7 1506.8l7.8-7.3 3-1.9-7.8 2zM1110.5 1499.5l7.8 4.3 3-8.1-7.8 1.9z"/>
<path fill="#4a4a4a" stroke-width="3.2" d="M1196.3 1129.4l7.8-2.8 3-3-7.8 41.2z"/>
<path fill="#ff9c00" d="M1211.9 1118.9l7.8-8.5 3-5.3-7.8 7.7z"/>
<path fill="#4a4a4a" stroke-width="3.2" d="M1219.7 1110.4l7.8-8.5 3 11.9-7.8-8.7z"/>
<path fill="#ffb700" d="M1227.5 1101.9l7.8 31.7 3-7.7-7.8-12.1z"/>
<path fill="#ffd200" d="M1235.3 1133.6l7.8 32.3 3-24.4-7.8-15.6z"/>
<path fill="#e6ef28" d="M1243.1 1165.9l7.8 51.5 3-26.1-7.8-49.8z"/>
<path fill="#adf466" d="M1250.9 1217.4l7.8 36.8 3-32.5-7.8-30.4z"/>
<path fill="#50ffaa" d="M1258.7 1254.2l7.8 63.7 3-33.9-7.8-62.3z"/>
<path fill="#00ffff" d="M1266.5 1317.9l7.8 67.7 3-40.6-7.8-61z"/>
<path fill="#009dff" d="M1274.3 1385.6l7.8 74.9 3-50.8-7.8-64.7z"/>
<path fill="#0033f6" d="M1282.1 1460.5l7.8 26.5 3-3.8-7.8-73.5z"/>
<path fill="#0011e6" d="M1289.9 1487l7.8 4.2 3-5.9-7.8-2.1zM1297.7 1491.2l7.8 0.4 3-4.7-7.8-1.6zM1305.5 1491.6l7.8 8.1 3-11-7.8-1.8zM1313.3 1499.7l7.8-1.9 3-4.3-7.8-4.8z"/>
<path fill="#0000dd" d="M1321.1 1497.8l7.8 6.5 3-9.9-7.8-0.9zM1328.9 1504.3l7.8-4.2 3-3.6-7.8-2.1zM1336.7 1500.1l7.8-1 3-0.7-7.8-1.9zM1344.5 1499.1l7.8 4.4 3-6.3-7.8 1.2zM1352.3 1503.5l7.8-2.4 3-0.1-7.8-3.8zM1360.1 1501.1l7.8 3.6 3-6-7.8 2.3zM1367.9 1504.7l7.8 0 3-7.5-7.8 1.5zM1375.7 1504.7l7.8-2.4 3-0.7-7.8-4.4zM1383.5 1502.3l7.8-0.8 3-2.4-7.8 2.5zM1391.3 1501.5l7.8 4.2 3-9.9-7.8 3.3z"/>
<path fill="#ffee00" d="M1516.1 1188l7.8-45.7 3-6.9-7.8 22.6z"/>
<path fill="#4a4a4a" stroke-width="3.2" d="M1523.9 1142.3l7.8-25.8 3-0.6-7.8 19.5z"/>
<path fill="#ffb700" d="M1531.7 1116.5l7.8 18.3 3-30.7-7.8 11.8zM1539.5 1134.8l7.8-11.9 3 7.6-7.8-26.4z"/>
<path fill="#4a4a4a" stroke-width="3.2" d="M1570.7 1193.5l7.8 52 3 13.3-7.8-40.3z"/>
<path fill="#3cffbf" d="M1578.5 1245.5l7.8 69 3 13.3-7.8-69z"/>
<path fill="#00ddff" d="M1586.3 1314.5l7.8 62.2 3 14.4-7.8-63.3z"/>
<path fill="#0080ff" d="M1594.1 1376.7l7.8 70.5 3 14.3-7.8-70.4z"/>
<path fill="#0022ee" d="M1601.9 1447.2l7.8 38.3 3-0.6-7.8-23.4z"/>
<path fill="#0011e6" d="M1609.7 1485.5l7.8 4.6 3-3.5-7.8-1.7zM1617.5 1490.1l7.8 5.7 3-4.9-7.8-4.3zM1625.3 1495.8l7.8 0.6 3-1.6-7.8-3.9z"/>
<path fill="#0000dd" d="M1633.1 1496.4l7.8 9.3 3-10.3-7.8-0.6zM1640.9 1505.7l7.8-1.8 3-1.6-7.8-6.9zM1648.7 1503.9l7.8-2.3 3-2.8-7.8 3.5zM1656.5 1501.6l7.8 7.1 3-10.1-7.8 0.2zM1664.3 1508.7l7.8 0.3 3-3.2-7.8-7.2zM1091.8 1504.7l7.8 5.4 3.1-3.3-7.8-3.9zM1099.6 1510.1l7.8-5.8 3.1-4.8-7.8 7.3zM1107.4 1504.3l7.8-0.4 3.1-0.1-7.8-4.3z"/>
<path fill="#ff9c00" d="M1216.6 1088.2l7.8 58.7 3.1-45-7.8 8.5z"/>
<path fill="#ffd200" d="M1224.4 1146.9l7.8 15.6 3.1-28.9-7.8-31.7z"/>
<path fill="#f2ee14" d="M1232.2 1162.5l7.8 19.1 3.1-15.7-7.8-32.3z"/>
<path fill="#d9f03c" d="M1240 1181.6l7.8 40.2 3.1-4.4-7.8-51.5z"/>
<path fill="#8ef87d" d="M1247.8 1221.8l7.8 63.7 3.1-31.3-7.8-36.8z"/>
<path fill="#28ffd4" d="M1255.6 1285.5l7.8 69.8 3.1-37.4-7.8-63.7z"/>
<path fill="#00ccff" d="M1263.4 1355.3l7.8 71.3 3.1-41-7.8-67.7z"/>
<path fill="#0044ff" d="M1271.2 1426.6l7.8 62.2 3.1-28.3-7.8-74.9z"/>
<path fill="#0022ee" d="M1279 1488.8l7.8 0.9 3.1-2.7-7.8-26.5z"/>
<path fill="#0011e6" d="M1286.8 1489.7l7.8 7.1 3.1-5.6-7.8-4.2zM1294.6 1496.8l7.8-2.1 3.1-3.1-7.8-0.4zM1302.4 1494.7l7.8 8.7 3.1-3.7-7.8-8.1z"/>
<path fill="#0000dd" d="M1310.2 1503.4l7.8 0 3.1-5.6-7.8 1.9zM1318 1503.4l7.8-0.7 3.1 1.6-7.8-6.5zM1325.8 1502.7l7.8 2.6 3.1-5.2-7.8 4.2zM1333.6 1505.3l7.8 6.2 3.1-12.4-7.8 1zM1341.4 1511.5l7.8-2.5 3.1-5.5-7.8-4.4zM1349.2 1509l7.8 2.7 3.1-10.6-7.8 2.4zM1357 1511.7l7.8-3.5 3.1-3.5-7.8-3.6zM1364.8 1508.2l7.8 2.6 3.1-6.1-7.8 0zM1372.6 1510.8l7.8-4.6 3.1-3.9-7.8 2.4zM1380.4 1506.2l7.8 3.7 3.1-8.4-7.8 0.8zM1388.2 1509.9l7.8 3.5 3.1-7.7-7.8-4.2zM1396 1513.4l7.8-1.1 3.1-6.4-7.8-0.2z"/>
<path fill="#e6ef28" d="M1513 1193l7.8-13.1 3.1-37.6-7.8 45.7z"/>
<path fill="#ffd200" d="M1520.8 1179.9l7.8-47.7 3.1-15.7-7.8 25.8z"/>
<path fill="#4a4a4a" stroke-width="3.2" d="M1528.6 1132.2l7.8-20.6 3.1 23.2-7.8-18.3z"/>
<path fill="#ffd200" d="M1544.2 1128.3l7.8 25.3 3.1-29.6-7.8-1.1z"/>
<path fill="#ffee00" d="M1552 1153.6l7.8 21.4 3.1-28.4-7.8-22.6z"/>
<path fill="#e6ef28" d="M1559.8 1175l7.8 14.2 3.1 4.3-7.8-46.9z"/>
<path fill="#ccf050" d="M1567.6 1189.2l7.8 51.2 3.1 5.1-7.8-52z"/>
<path fill="#50ffaa" d="M1575.4 1240.4l7.8 57.4 3.1 16.7-7.8-69z"/>
<path fill="#00eeff" d="M1583.2 1297.8l7.8 67.7 3.1 11.2-7.8-62.2z"/>
<path fill="#009dff" d="M1591 1365.5l7.8 66.9 3.1 14.8-7.8-70.5z"/>
<path fill="#0033f6" d="M1598.8 1432.4l7.8 58 3.1-4.9-7.8-38.3z"/>
<path fill="#0011e6" d="M1606.6 1490.4l7.8 4 3.1-4.3-7.8-4.6zM1614.4 1494.4l7.8 3.9 3.1-2.5-7.8-5.7zM1622.2 1498.3l7.8 2.4 3.1-4.3-7.8-0.6z"/>
<path fill="#0000dd" d="M1630 1500.7l7.8 3.6 3.1 1.4-7.8-9.3zM1645.6 1503.9l7.8 3.7 3.1-6-7.8 2.3zM1653.4 1507.6l7.8 2.5 3.1-1.4-7.8-7.1zM1661.2 1510.1l7.8 2 3.1-3.1-7.8-0.3zM1088.8 1511.8l7.8-2.7 3 1-7.8-5.4z"/>
<path fill="#4a4a4a" stroke-width="3.2" d="M1096.6 1509.1l7.8-2.1 3-2.7-7.8 5.8z"/>
<path fill="#0000dd" d="M1104.4 1507l7.8 1.3 3-4.4-7.8 0.4z"/>
<path fill="#ff8000" d="M1205.8 1097.7l7.8 20 3-29.5-7.8 8.6z"/>
<path fill="#ffb700" d="M1213.6 1117.7l7.8 24.3 3 4.9-7.8-58.7z"/>
<path fill="#4a4a4a" stroke-width="3.2" d="M1221.4 1142l7.8-5.7 3 26.2-7.8-15.6zM1229.2 1136.3l7.8 44.3 3 1-7.8-19.1z"/>
<path fill="#d9f03c" d="M1237 1180.6l7.8 65.6 3-24.4-7.8-40.2z"/>
<path fill="#6ffb94" d="M1244.8 1246.2l7.8 65.6 3-26.3-7.8-63.7z"/>
<path fill="#00ffff" d="M1252.6 1311.8l7.8 75.4 3-31.9-7.8-69.8z"/>
<path fill="#009dff" d="M1260.4 1387.2l7.8 78.8 3-39.4-7.8-71.3z"/>
<path fill="#0033f6" d="M1268.2 1466l7.8 24.1 3-1.3-7.8-62.2z"/>
<path fill="#0011e6" d="M1276 1490.1l7.8 0.7 3-1.1-7.8-0.9zM1283.8 1490.8l7.8 10.4 3-4.4-7.8-7.1zM1291.6 1501.2l7.8 1.5 3-8-7.8 2.1zM1299.4 1502.7l7.8 2.2 3-1.5-7.8-8.7z"/>
<path fill="#0000dd" d="M1307.2 1504.9l7.8 4.2 3-5.7-7.8 0zM1315 1509.1l7.8 0.8 3-7.2-7.8 0.7zM1322.8 1509.9l7.8 1.3 3-5.9-7.8-2.6zM1330.6 1511.2l7.8 1.8 3-1.5-7.8-6.2zM1338.4 1513l7.8-1.1 3-2.9-7.8 2.5zM1346.2 1511.9l7.8 2.2 3-2.4-7.8-2.7zM1354 1514.1l7.8-1.2 3-4.7-7.8 3.5zM1361.8 1512.9l7.8 2.4 3-4.5-7.8-2.6zM1369.6 1515.3l7.8 0 3-9.1-7.8 4.6zM1377.4 1515.3l7.8-0.7 3-4.7-7.8-3.7zM1385.2 1514.6l7.8-1.2 3 0-7.8-3.5z"/>
<path fill="#f2ee14" d="M1517.8 1195.7l7.8-38 3-25.5-7.8 47.7z"/>
<path fill="#ffb700" d="M1525.6 1157.7l7.8-43.3 3-2.8-7.8 20.6zM1533.4 1114.4l7.8 25 3-11.1-7.8-16.7z"/>
<path fill="#4a4a4a" stroke-width="3.2" d="M1541.2 1139.4l7.8-8.6 3 22.8-7.8-25.3zM1549 1130.8l7.8 40.8 3 3.4-7.8-21.4z"/>
<path fill="#e6ef28" d="M1556.8 1171.6l7.8 13.5 3 4.1-7.8-14.2z"/>
<path fill="#ccf050" d="M1564.6 1185.1l7.8 45 3 10.3-7.8-51.2z"/>
<path fill="#6ffb94" d="M1572.4 1230.1l7.8 62.8 3 4.9-7.8-57.4z"/>
<path fill="#00ffff" d="M1580.2 1292.9l7.8 63.8 3 8.8-7.8-67.7z"/>
<path fill="#00bbff" d="M1588 1356.7l7.8 63.8 3 11.9-7.8-66.9z"/>
<path fill="#0033f6" d="M1595.8 1420.5l7.8 70.9 3-1-7.8-58z"/>
<path fill="#4a4a4a" stroke-width="3.2" d="M1603.6 1491.4l7.8-2 3 5-7.8-4z"/>
<path fill="#0011e6" d="M1611.4 1489.4l7.8 13 3-4.1-7.8-3.9zM1619.2 1502.4l7.8 0.9 3-2.6-7.8-2.4zM1627 1503.3l7.8-2.1 3 3.1-7.8-3.6z"/>
<path fill="#0000dd" d="M1634.8 1501.2l7.8 6.9 3-4.2-7.8 0.4zM1642.6 1508.1l7.8 3.4 3-3.9-7.8-3.7zM1650.4 1511.5l7.8-3.6 3 2.2-7.8-2.5zM1658.2 1507.9l7.8 7.4 3-3.2-7.8-2zM1085.7 1514.5l7.8-3.5 3.1-1.9-7.8 2.7zM1093.5 1511l7.8-2.3 3.1-1.7-7.8 2.1z"/>
<path fill="#ff9c00" d="M1194.9 1118.7l7.8 5.3 3.1-26.3-7.8 26.7zM1202.7 1124l7.8-13.4 3.1 7.1-7.8-20z"/>
<path fill="#ffd200" d="M1218.3 1124.2l7.8 41.4 3.1-29.3-7.8 5.7z"/>
<path fill="#f2ee14" d="M1226.1 1165.6l7.8 45.3 3.1-30.3-7.8-44.3z"/>
<path fill="#adf466" d="M1233.9 1210.9l7.8 56.8 3.1-21.5-7.8-65.6z"/>
<path fill="#3cffbf" d="M1241.7 1267.7l7.8 71 3.1-26.9-7.8-65.6z"/>
<path fill="#00ddff" d="M1249.5 1338.7l7.8 76.1 3.1-27.6-7.8-75.4z"/>
<path fill="#0062ff" d="M1257.3 1414.8l7.8 70.6 3.1-19.4-7.8-78.8z"/>
<path fill="#0022ee" d="M1265.1 1485.4l7.8 7.8 3.1-3.1-7.8-24.1z"/>
<path fill="#0011e6" d="M1272.9 1493.2l7.8 9 3.1-11.4-7.8-0.7zM1280.7 1502.2l7.8 0.6 3.1-1.6-7.8-10.4zM1288.5 1502.8l7.8 6.4 3.1-6.5-7.8-1.5z"/>
<path fill="#0000dd" d="M1296.3 1509.2l7.8 3.1 3.1-7.4-7.8-2.2zM1304.1 1512.3l7.8 2.2 3.1-5.4-7.8-4.2zM1311.9 1514.5l7.8-3 3.1-1.6-7.8-0.8zM1319.7 1511.5l7.8 3.7 3.1-4-7.8-1.3zM1327.5 1515.2l7.8 0.8 3.1-3-7.8-1.8zM1335.3 1516l7.8-1.7 3.1-2.4-7.8 1.1zM1343.1 1514.3l7.8 4.2 3.1-4.4-7.8-2.2zM1350.9 1518.5l7.8 0 3.1-5.6-7.8 1.2zM1358.7 1518.5l7.8 0 3.1-3.2-7.8-2.4zM1382.1 1518.5l7.8 0 3.1-5.1-7.8 1.2zM1389.9 1518.5l7.8-2.4 3.1-4.1-7.8 1.4z"/>
<path fill="#ffb700" d="M1530.3 1125.7l7.8 13.9 3.1-0.2-7.8-25z"/>
<path fill="#ffd200" d="M1538.1 1139.6l7.8 4.2 3.1-13-7.8 8.6z"/>
<path fill="#ffee00" d="M1545.9 1143.8l7.8 31.7 3.1-3.9-7.8-40.8z"/>
<path fill="#f2ee14" d="M1553.7 1175.5l7.8 9.1 3.1 0.5-7.8-13.5z"/>
<path fill="#d9f03c" d="M1561.5 1184.6l7.8 34.6 3.1 10.9-7.8-45z"/>
<path fill="#6ffb94" d="M1569.3 1219.2l7.8 67.3 3.1 6.4-7.8-62.8z"/>
<path fill="#14ffea" d="M1577.1 1286.5l7.8 63 3.1 7.2-7.8-63.8z"/>
<path fill="#00ccff" d="M1584.9 1349.5l7.8 63.5 3.1 7.5-7.8-63.8z"/>
<path fill="#0044ff" d="M1592.7 1413l7.8 73.1 3.1 5.3-7.8-70.9z"/>
<path fill="#0022ee" d="M1600.5 1486.1l7.8 9.9 3.1-6.6-7.8 2z"/>
<path fill="#0011e6" d="M1608.3 1496l7.8 2.6 3.1 3.8-7.8-13zM1616.1 1498.6l7.8 7.9 3.1-3.2-7.8-0.9zM1623.9 1506.5l7.8 5 3.1-10.3-7.8 2.1z"/>
<path fill="#0000dd" d="M1631.7 1511.5l7.8-3.8 3.1 0.4-7.8-6.9zM1639.5 1507.7l7.8 8 3.1-4.2-7.8-3.4zM1647.3 1515.7l7.8-2.3 3.1-5.5-7.8 3.6zM1655.1 1513.4l7.8 5.1 3.1-3.2-7.8-7.4zM1082.6 1519.8l7.8-3.5 3.1-5.3-7.8 3.5zM1090.4 1516.3l7.8 0.3 3.1-7.9-7.8 2.3zM1098.2 1516.6l7.8-4 3.1-7-7.8 3.1z"/>
<path fill="#0011e6" d="M1106 1512.6l7.8-5.1 3.1-4.9-7.8 3z"/>
<path fill="#ff9c00" d="M1191.8 1114.2l7.8 22.7 3.1-12.9-7.8-5.3zM1199.6 1136.9l7.8-12.8 3.1-13.5-7.8 13.4z"/>
<path fill="#ffb700" d="M1207.4 1124.1l7.8 28.4 3.1-28.3-7.8-13.6z"/>
<path fill="#ffd200" d="M1215.2 1152.5l7.8 22.2 3.1-9.1-7.8-41.4z"/>
<path fill="#e6ef28" d="M1223 1174.7l7.8 56.6 3.1-20.4-7.8-45.3z"/>
<path fill="#8ef87d" d="M1230.8 1231.3l7.8 48.2 3.1-11.8-7.8-56.8z"/>
<path fill="#28ffd4" d="M1238.6 1279.5l7.8 82.2 3.1-23-7.8-71z"/>
<path fill="#00ccff" d="M1246.4 1361.7l7.8 79.4 3.1-26.3-7.8-76.1z"/>
<path fill="#0044ff" d="M1254.2 1441.1l7.8 56.5 3.1-12.2-7.8-70.6z"/>
<path fill="#0011e6" d="M1262 1497.6l7.8 4.7 3.1-9.1-7.8-7.8zM1269.8 1502.3l7.8 4.3 3.1-4.4-7.8-9zM1277.6 1506.6l7.8 4.9 3.1-8.7-7.8-0.6zM1285.4 1511.5l7.8-0.6 3.1-1.7-7.8-6.4z"/>
<path fill="#0000dd" d="M1293.2 1510.9l7.8 4.5 3.1-3.1-7.8-3.1zM1301 1515.4l7.8 5.7 3.1-6.6-7.8-2.2zM1308.8 1521.1l7.8-0.2 3.1-9.4-7.8 3zM1316.6 1520.9l7.8-3.5 3.1-2.2-7.8-3.7zM1324.4 1517.4l7.8 4.6 3.1-6-7.8-0.8zM1332.2 1522l7.8-0.4 3.1-7.3-7.8 1.7zM1340 1521.6l7.8 0 3.1-3.1-7.8-4.2zM1386.8 1521.6l7.8 0 3.1-5.5-7.8 2.4zM1394.6 1521.6l7.8 0 3.1-7.5-7.8 2z"/>
<path fill="#ffd200" d="M1519.4 1168.5l7.8-15.3 3.1-27.5-7.8 33.2z"/>
<path fill="#ffb700" d="M1527.2 1153.2l7.8-16 3.1 2.4-7.8-13.9z"/>
<path fill="#ffd200" d="M1535 1137.2l7.8 9.1 3.1-2.5-7.8-4.2z"/>
<path fill="#4a4a4a" stroke-width="3.2" d="M1542.8 1146.3l7.8-5.5 3.1 34.7-7.8-31.7zM1550.6 1140.8l7.8 42.8 3.1 1-7.8-9.1z"/>
<path fill="#d9f03c" d="M1558.4 1183.6l7.8 42.7 3.1-7.1-7.8-34.6z"/>
<path fill="#8ef87d" d="M1566.2 1226.3l7.8 53.4 3.1 6.8-7.8-67.3z"/>
<path fill="#28ffd4" d="M1574 1279.7l7.8 66.8 3.1 3-7.8-63z"/>
<path fill="#00ccff" d="M1581.8 1346.5l7.8 62 3.1 4.5-7.8-63.5z"/>
<path fill="#0062ff" d="M1589.6 1408.5l7.8 68.9 3.1 8.7-7.8-73.1z"/>
<path fill="#0022ee" d="M1597.4 1477.4l7.8 19.6 3.1-1-7.8-9.9z"/>
<path fill="#0011e6" d="M1605.2 1497l7.8 3.6 3.1-2-7.8-2.6zM1613 1500.6l7.8 4.6 3.1 1.3-7.8-7.9zM1620.8 1505.2l7.8 6.9 3.1-0.6-7.8-5z"/>
<path fill="#0000dd" d="M1628.6 1512.1l7.8 6.4 3.1-10.8-7.8 3.8zM1636.4 1518.5l7.8-4.5 3.1 1.7-7.8-8zM1644.2 1514l7.8 4.7 3.1-5.3-7.8 2.3zM1652 1518.7l7.8 2.9 3.1-3.1-7.8-5.1z"/>
<path fill="#4a4a4a" stroke-width="3.2" d="M1095.2 1515.1l7.8-0.1 3-2.4-7.8 4z"/>
<path fill="#0000dd" d="M1103 1515l7.8-1.5 3-6-7.8 5.1z"/>
<path fill="#4a4a4a" stroke-width="3.2" d="M1165.4 1190.6l7.8-52.4 3 28.1-7.8 38zM1196.6 1122l7.8 11.5 3-9.4-7.8 12.8zM1204.4 1133.5l7.8-3.1 3 22.1-7.8-28.4z"/>
<path fill="#ffee00" d="M1212.2 1130.4l7.8 53.4 3-9.1-7.8-22.2z"/>
<path fill="#d9f03c" d="M1220 1183.8l7.8 51.4 3-3.9-7.8-56.6z"/>
<path fill="#6ffb94" d="M1227.8 1235.2l7.8 65.3 3-21-7.8-48.2z"/>
<path fill="#14ffea" d="M1235.6 1300.5l7.8 79.4 3-18.2-7.8-82.2z"/>
<path fill="#009dff" d="M1243.4 1379.9l7.8 83.3 3-22.1-7.8-79.4z"/>
<path fill="#0033f6" d="M1251.2 1463.2l7.8 38.9 3-4.5-7.8-56.5z"/>
<path fill="#0011e6" d="M1259 1502.1l7.8 5.5 3-5.3-7.8-4.7zM1266.8 1507.6l7.8 4.4 3-5.4-7.8-4.3zM1274.6 1512l7.8 4.2 3-4.7-7.8-4.9z"/>
<path fill="#0000dd" d="M1282.4 1516.2l7.8-1.1 3-4.2-7.8 0.6zM1290.2 1515.1l7.8 1.3 3-1-7.8-4.5zM1298 1516.4l7.8 2.8 3 1.9-7.8-5.7zM1305.8 1519.2l7.8 5 3-3.3-7.8 0.2zM1313.6 1524.2l7.8-0.7 3-6.1-7.8 3.5zM1321.4 1523.5l7.8 1.3 3-2.8-7.8-4.6z"/>
<path fill="#ffb700" d="M1532 1137.4l7.8 13 3-4.1-7.8-9.1z"/>
<path fill="#ffd200" d="M1539.8 1150.4l7.8 22.4 3-32-7.8 5.5z"/>
<path fill="#f2ee14" d="M1547.6 1172.8l7.8 37.8 3-27-7.8-42.8z"/>
<path fill="#d9f03c" d="M1555.4 1210.6l7.8 21.9 3-6.2-7.8-42.7z"/>
<path fill="#8ef87d" d="M1563.2 1232.5l7.8 43.8 3 3.4-7.8-53.4z"/>
<path fill="#28ffd4" d="M1571 1276.3l7.8 69.2 3 1-7.8-66.8z"/>
<path fill="#00ddff" d="M1578.8 1345.5l7.8 60.9 3 2.1-7.8-62z"/>
<path fill="#0062ff" d="M1586.6 1406.4l7.8 69.7 3 1.3-7.8-68.9z"/>
<path fill="#0022ee" d="M1594.4 1476.1l7.8 24.4 3-3.5-7.8-19.6z"/>
<path fill="#0011e6" d="M1602.2 1500.5l7.8 3.7 3-3.6-7.8-3.6zM1610 1504.2l7.8 7.1 3-6.1-7.8-4.6zM1617.8 1511.3l7.8 4.3 3-3.5-7.8-6.9z"/>
<path fill="#0000dd" d="M1625.6 1515.6l7.8 0.8 3 2.1-7.8-6.4zM1641.2 1516.1l7.8 6.7 3-4.1-7.8-4.7zM1649 1522.8l7.8 2 3-3.2-7.8-2.9zM1076.5 1524.9l7.8-1.2 3.1-8.2-7.8 6.3zM1084.3 1523.7l7.8-4.4 3.1-4.2-7.8 0.4zM1092.1 1519.3l7.8 1.6 3.1-5.9-7.8 0.1zM1099.9 1520.9l7.8-4.4 3.1-3-7.8 1.5z"/>
<path fill="#4a4a4a" stroke-width="3.2" d="M1177.9 1124.8l7.8-16.7 3.1 17.7-7.8 20.7z"/>
<path fill="#ff9c00" d="M1193.5 1113.8l7.8 17.6 3.1 2.1-7.8-11.5z"/>
<path fill="#ffb700" d="M1201.3 1131.4l7.8 21.9 3.1-22.9-7.8 3.1z"/>
<path fill="#ffee00" d="M1209.1 1153.3l7.8 36 3.1-5.5-7.8-53.4z"/>
<path fill="#d9f03c" d="M1216.9 1189.3l7.8 48.9 3.1-3-7.8-51.4z"/>
<path fill="#6ffb94" d="M1224.7 1238.2l7.8 76.3 3.1-14-7.8-65.3z"/>
<path fill="#00ffff" d="M1232.5 1314.5l7.8 78.9 3.1-13.5-7.8-79.4z"/>
<path fill="#0080ff" d="M1240.3 1393.4l7.8 85 3.1-15.2-7.8-83.3z"/>
<path fill="#0022ee" d="M1248.1 1478.4l7.8 28.6 3.1-4.9-7.8-38.9z"/>
<path fill="#0011e6" d="M1255.9 1507l7.8-1 3.1 1.6-7.8-5.5zM1263.7 1506l7.8 5.2 3.1 0.8-7.8-4.4zM1271.5 1511.2l7.8 8.3 3.1-3.3-7.8-4.2z"/>
<path fill="#0000dd" d="M1279.3 1519.5l7.8 3.4 3.1-7.8-7.8 1.1zM1287.1 1522.9l7.8-1.9 3.1-4.6-7.8-1.3zM1294.9 1521l7.8 5.5 3.1-7.3-7.8-2.8zM1302.7 1526.5l7.8-3.2 3.1 0.9-7.8-5zM1318.3 1523.7l7.8 4.3 3.1-3.2-7.8-1.3z"/>
<path fill="#4a4a4a" stroke-width="3.2" d="M1521.1 1164.5l7.8-32.5 3.1 5.4-7.8 10.1z"/>
<path fill="#ffb700" d="M1528.9 1132l7.8 14.9 3.1 3.5-7.8-13z"/>
<path fill="#ffee00" d="M1536.7 1146.9l7.8 34.9 3.1-9-7.8-22.4z"/>
<path fill="#e6ef28" d="M1544.5 1181.8l7.8 27.1 3.1 1.7-7.8-37.8z"/>
<path fill="#ccf050" d="M1552.3 1208.9l7.8 25.6 3.1-2-7.8-21.9z"/>
<path fill="#8ef87d" d="M1560.1 1234.5l7.8 45.8 3.1-4-7.8-43.8z"/>
<path fill="#28ffd4" d="M1567.9 1280.3l7.8 64.8 3.1 0.4-7.8-69.2z"/>
<path fill="#00ddff" d="M1575.7 1345.1l7.8 61.4 3.1-0.1-7.8-60.9z"/>
<path fill="#0080ff" d="M1583.5 1406.5l7.8 69.8 3.1-0.2-7.8-69.7z"/>
<path fill="#0022ee" d="M1591.3 1476.3l7.8 23.4 3.1 0.8-7.8-24.4z"/>
<path fill="#0011e6" d="M1599.1 1499.7l7.8 7.5 3.1-3-7.8-3.7zM1606.9 1507.2l7.8 8.2 3.1-4.1-7.8-7.1zM1614.7 1515.4l7.8 3.2 3.1-3-7.8-4.3z"/>
<path fill="#0000dd" d="M1622.5 1518.6l7.8-0.7 3.1-1.5-7.8-0.8zM1630.3 1517.9l7.8 0.9 3.1-2.7-7.8 0.3zM1638.1 1518.8l7.8 6 3.1-2-7.8-6.7zM1645.9 1524.8l7.8 3.2 3.1-3.2-7.8-2zM1073.4 1530.4l7.8-3.9 3.1-2.8-7.8 1.2zM1081.2 1526.5l7.8 0.5 3.1-7.7-7.8 4.4zM1089 1527l7.8-4.3 3.1-1.8-7.8-1.6z"/>
<path fill="#ff8000" d="M1182.6 1104.1l7.8 13.9 3.1-4.2-7.8-5.7z"/>
<path fill="#ff9c00" d="M1190.4 1118l7.8 14 3.1-0.6-7.8-17.6z"/>
<path fill="#ffb700" d="M1198.2 1132l7.8 35.4 3.1-14.1-7.8-21.9z"/>
<path fill="#ffee00" d="M1206 1167.4l7.8 36.7 3.1-14.8-7.8-36z"/>
<path fill="#d9f03c" d="M1213.8 1204.1l7.8 45 3.1-10.9-7.8-48.9z"/>
<path fill="#6ffb94" d="M1221.6 1249.1l7.8 73.6 3.1-8.2-7.8-76.3z"/>
<path fill="#0022ee" d="M1245 1486.1l7.8 20.8 3.1 0.1-7.8-28.6z"/>
<path fill="#0011e6" d="M1252.8 1506.9l7.8 8 3.1-8.9-7.8 1zM1260.6 1514.9l7.8 4.3 3.1-8-7.8-5.2zM1268.4 1519.2l7.8 3.3 3.1-3-7.8-8.3z"/>
<path fill="#0000dd" d="M1276.2 1522.5l7.8 3 3.1-2.6-7.8-3.4zM1284 1525.5l7.8-1 3.1-3.5-7.8 1.9zM1291.8 1524.5l7.8 1.1 3.1 0.9-7.8-5.5zM1299.6 1525.6l7.8 1 3.1-3.3-7.8 3.2zM1307.4 1526.6l7.8-2.2 3.1-0.7-7.8-0.4zM1315.2 1524.4l7.8 6.8 3.1-3.2-7.8-4.3z"/>
<path fill="#ffd200" d="M1518 1159.2l7.8-3.8 3.1-23.4-7.8 32.5z"/>
<path fill="#ffb700" d="M1525.8 1155.4l7.8 6.3 3.1-14.8-7.8-14.9z"/>
<path fill="#ffee00" d="M1533.6 1161.7l7.8 9.5 3.1 10.6-7.8-34.9z"/>
<path fill="#d9f03c" d="M1549.2 1192.6l7.8 47.3 3.1-5.4-7.8-25.6z"/>
<path fill="#8ef87d" d="M1557 1239.9l7.8 46.6 3.1-6.2-7.8-45.8z"/>
<path fill="#28ffd4" d="M1564.8 1286.5l7.8 59.7 3.1-1.1-7.8-64.8z"/>
<path fill="#00ddff" d="M1572.6 1346.2l7.8 62.5 3.1-2.2-7.8-61.4z"/>
<path fill="#0080ff" d="M1580.4 1408.7l7.8 73.2 3.1-5.6-7.8-69.8z"/>
<path fill="#0022ee" d="M1588.2 1481.9l7.8 23.1 3.1-5.3-7.8-23.4z"/>
<path fill="#0011e6" d="M1596 1505l7.8 7.2 3.1-5-7.8-7.5zM1603.8 1512.2l7.8 5 3.1-1.8-7.8-8.2zM1611.6 1517.2l7.8 3.7 3.1-2.3-7.8-3.2z"/>
<path fill="#0000dd" d="M1619.4 1520.9l7.8 4.4 3.1-7.4-7.8 0.7zM1627.2 1525.3l7.8 0.3 3.1-6.8-7.8-0.9zM1635 1525.6l7.8-2.6 3.1 1.8-7.8-6zM1642.8 1523l7.8 8.2 3.1-3.2-7.8-3.2zM1070.4 1532.9l7.8-4 3-2.4-7.8 3.9zM1078.2 1528.9l7.8-1.4 3-0.5-7.8-0.5z"/>
<path fill="#0011e6" d="M1101.6 1519.4l7.8-2.1 3-7.8-7.8 9.1z"/>
<path fill="#ff9c00" d="M1171.8 1143.7l7.8-5.2 3-34.4-7.8 16z"/>
<path fill="#ff8000" d="M1179.6 1138.5l7.8-27.5 3 7-7.8-13.9z"/>
<path fill="#ff9c00" d="M1187.4 1111l7.8 32.3 3-11.3-7.8-14z"/>
<path fill="#ffb700" d="M1195.2 1143.3l7.8 15.5 3 8.6-7.8-35.4z"/>
<path fill="#f2ee14" d="M1203 1158.8l7.8 44.3 3 1-7.8-36.7z"/>
<path fill="#ccf050" d="M1210.8 1203.1l7.8 59.4 3-13.4-7.8-45z"/>
<path fill="#0011e6" d="M1249.8 1513.1l7.8 1.8 3 0-7.8-8zM1257.6 1514.9l7.8 6.4 3-2.1-7.8-4.3z"/>
<path fill="#0000dd" d="M1265.4 1521.3l7.8 3.9 3-2.7-7.8-3.3zM1273.2 1525.2l7.8 1.2 3-0.9-7.8-3zM1281 1526.4l7.8-1.1 3-0.8-7.8 1zM1288.8 1525.3l7.8 3.1 3-2.8-7.8-1.1zM1296.6 1528.4l7.8 5.8 3-7.6-7.8-1zM1304.4 1534.2l7.8-3.9 3-5.9-7.8 2.2zM1312.2 1530.3l7.8 4.1 3-3.2-7.8-6.8z"/>
<path fill="#ffd200" d="M1530.6 1156.6l7.8 21.4 3-6.8-7.8-9.5z"/>
<path fill="#f2ee14" d="M1538.4 1178l7.8 36.4 3-21.8-7.8-21.4z"/>
<path fill="#d9f03c" d="M1546.2 1214.4l7.8 18.1 3 7.4-7.8-47.3z"/>
<path fill="#8ef87d" d="M1554 1232.5l7.8 52.5 3 1.5-7.8-46.6z"/>
<path fill="#28ffd4" d="M1561.8 1285l7.8 65.6 3-4.4-7.8-59.7z"/>
<path fill="#00ddff" d="M1569.6 1350.6l7.8 62.5 3-4.4-7.8-62.5z"/>
<path fill="#0062ff" d="M1577.4 1413.1l7.8 75.8 3-7-7.8-73.2z"/>
<path fill="#0022ee" d="M1585.2 1488.9l7.8 26.3 3-10.2-7.8-23.1z"/>
<path fill="#0011e6" d="M1593 1515.2l7.8-1.4 3-1.6-7.8-7.2zM1600.8 1513.8l7.8 6 3-2.6-7.8-5zM1608.6 1519.8l7.8 5.8 3-4.7-7.8-3.7z"/>
<path fill="#0000dd" d="M1616.4 1525.6l7.8-0.9 3 0.6-7.8-4.4zM1624.2 1524.7l7.8 4.9 3-4-7.8-0.3zM1632 1529.6l7.8-0.9 3-5.7-7.8 2.6zM1639.8 1528.7l7.8 5.7 3-3.2-7.8-8.2zM1067.3 1531l7.8 2.6 3.1-4.7-7.8 4zM1075.1 1533.6l7.8-5.9 3.1-0.2-7.8 1.4zM1082.9 1527.7l7.8-2.3 3.1-2.3-7.8 4.4z"/>
<path fill="#0011e6" d="M1090.7 1525.4l7.8-1.9 3.1-4.1-7.8 3.7zM1098.5 1523.5l7.8-2.6 3.1-3.6-7.8 2.1z"/>
<path fill="#4a4a4a" stroke-width="3.2" d="M1176.5 1114.6l7.8-5.4 3.1 1.8-7.8 27.5z"/>
<path fill="#ff8000" d="M1184.3 1109.2l7.8 30.1 3.1 4-7.8-32.3z"/>
<path fill="#ffb700" d="M1192.1 1139.3l7.8 12.5 3.1 7-7.8-15.5z"/>
<path fill="#ffee00" d="M1199.9 1151.8l7.8 48.5 3.1 2.8-7.8-44.3z"/>
<path fill="#ccf050" d="M1207.7 1200.3l7.8 55.6 3.1 6.6-7.8-59.4z"/>
<path fill="#0011e6" d="M1246.7 1514l7.8 2.4 3.1-1.5-7.8-1.8zM1254.5 1516.4l7.8 5.1 3.1-0.2-7.8-6.4zM1262.3 1521.5l7.8 6.8 3.1-3.1-7.8-3.9z"/>
<path fill="#0000dd" d="M1270.1 1528.3l7.8-1.3 3.1-0.6-7.8-1.2zM1277.9 1527l7.8 1.2 3.1-2.9-7.8 1.1zM1285.7 1528.2l7.8-1.8 3.1 2-7.8-3.1zM1293.5 1526.4l7.8 10.6 3.1-2.8-7.8-5.8zM1301.3 1537l7.8-2.1 3.1-4.6-7.8 3.9zM1309.1 1534.9l7.8 2.6 3.1-3.1-7.8-4.1z"/>
<path fill="#ffb700" d="M1519.7 1136.5l7.8 36.5 3.1-16.4-7.8-5.4z"/>
<path fill="#ffee00" d="M1527.5 1173l7.8 20.5 3.1-15.5-7.8-21.4z"/>
<path fill="#e6ef28" d="M1535.3 1193.5l7.8 33.8 3.1-12.9-7.8-36.4z"/>
<path fill="#d9f03c" d="M1543.1 1227.3l7.8 16.6 3.1-11.4-7.8-18.1z"/>
<path fill="#8ef87d" d="M1550.9 1243.9l7.8 50 3.1-8.9-7.8-52.5z"/>
<path fill="#28ffd4" d="M1558.7 1293.9l7.8 64.5 3.1-7.8-7.8-65.6z"/>
<path fill="#00ddff" d="M1566.5 1358.4l7.8 61.1 3.1-6.4-7.8-62.5z"/>
<path fill="#0062ff" d="M1574.3 1419.5l7.8 76.2 3.1-6.8-7.8-75.8z"/>
<path fill="#0022ee" d="M1582.1 1495.7l7.8 17.1 3.1 2.4-7.8-26.3z"/>
<path fill="#0011e6" d="M1589.9 1512.8l7.8 10.3 3.1-9.3-7.8 1.4zM1597.7 1523.1l7.8 4.1 3.1-7.4-7.8-6zM1605.5 1527.2l7.8-0.9 3.1-0.7-7.8-5.8z"/>
<path fill="#0000dd" d="M1613.3 1526.3l7.8 0.9 3.1-2.5-7.8 0.9zM1621.1 1527.2l7.8 5.1 3.1-2.7-7.8-4.9zM1628.9 1532.3l7.8-0.6 3.1-3-7.8 0.9zM1636.7 1531.7l7.8 5.8 3.1-3.1-7.8-5.7zM1064.2 1536.6l7.8-4.7 3.1 1.7-7.8-2.6zM1072 1531.9l7.8 8.7 3.1-12.9-7.8 5.9zM1079.8 1540.6l7.8-9.1 3.1-6.1-7.8 2.3z"/>
<path fill="#0011e6" d="M1087.6 1531.5l7.8-4.6 3.1-3.4-7.8 1.9zM1095.4 1526.9l7.8-5.3 3.1-0.7-7.8 2.6z"/>
<path fill="#ff8000" d="M1165.6 1140.5l7.8-6.2 3.1-19.7-7.8 9.3zM1173.4 1134.3l7.8-2 3.1-23.1-7.8 5.4zM1181.2 1132.3l7.8-0.2 3.1 7.2-7.8-30.1z"/>
<path fill="#ffb700" d="M1189 1132.1l7.8 40.2 3.1-20.5-7.8-12.5z"/>
<path fill="#ffee00" d="M1196.8 1172.3l7.8 19.7 3.1 8.3-7.8-48.5z"/>
<path fill="#0011e6" d="M1251.4 1518.8l7.8 1.4 3.1 1.3-7.8-5.1zM1259.2 1520.2l7.8 5.7 3.1 2.4-7.8-6.8z"/>
<path fill="#0000dd" d="M1267 1525.9l7.8 9.5 3.1-8.4-7.8 1.3zM1274.8 1535.4l7.8-2 3.1-5.2-7.8-1.2zM1282.6 1533.4l7.8 0.5 3.1-7.5-7.8 1.8zM1290.4 1533.9l7.8 0.8 3.1 2.3-7.8-10.6z"/>
<path fill="#4a4a4a" stroke-width="3.2" d="M1298.2 1534.7l7.8 2.1 3.1-1.9-7.8 2.1z"/>
<path fill="#0000dd" d="M1306 1536.8l7.8 3.9 3.1-3.2-7.8-2.6zM1384.1 1540.7l7.7-4.5 3.1-0.1-7.8 1.4z"/>
<path fill="#ffd200" d="M1508.8 1191.6l7.8-36.1 3.1-19-7.8 35.1z"/>
<path fill="#ffb700" d="M1516.6 1155.5l7.8 14.2 3.1 3.3-7.8-36.5z"/>
<path fill="#ffee00" d="M1524.4 1169.7l7.8 18.9 3.1 4.9-7.8-20.5z"/>
<path fill="#e6ef28" d="M1532.2 1188.6l7.9 31 3 7.7-7.8-33.8z"/>
<path fill="#ccf050" d="M1540.1 1219.6l7.7 44.8 3.1-20.5-7.8-16.6z"/>
<path fill="#8ef87d" d="M1547.8 1264.4l7.8 41.8 3.1-12.3-7.8-50z"/>
<path fill="#28ffd4" d="M1555.6 1306.2l7.8 62.7 3.1-10.5-7.8-64.5z"/>
<path fill="#00ddff" d="M1563.4 1368.9l7.8 58.9 3.1-8.3-7.8-61.1z"/>
<path fill="#0062ff" d="M1571.2 1427.8l7.9 77.7 3-9.8-7.8-76.2z"/>
<path fill="#0022ee" d="M1579.1 1505.5l7.7 10.5 3.1-3.2-7.8-17.1z"/>
<path fill="#0011e6" d="M1586.8 1516l7.8 10.6 3.1-3.5-7.8-10.3zM1594.6 1526.6l7.8 5.2 3.1-4.6-7.8-4.1z"/>
<path fill="#0000dd" d="M1602.4 1531.8l7.8-2.4 3.1-3.1-7.8 0.9zM1610.2 1529.4l7.9 2.5 3-4.7-7.8-0.9zM1618.1 1531.9l7.7 4.6 3.1-4.2-7.8-5.1zM1625.8 1536.5l7.8-0.9 3.1-3.9-7.8 0.6zM1633.6 1535.6l7.8 5.1 3.1-3.2-7.8-5.8zM1061.2 1541l7.8-4.9 3-4.2-7.8 4.7zM1069 1536.1l7.8 2.1 3 2.4-7.8-8.7z"/>
<path fill="#0011e6" d="M1084.6 1534.3l7.8-4.2 3-3.2-7.8 4.6zM1092.4 1530.1l7.8-2.6 3-5.9-7.8 5.3zM1100.2 1527.5l7.8-3.4 3-8.3-7.8 5.8z"/>
<path fill="#ff9c00" d="M1170.4 1139.4l7.8-4.7 3-2.4-7.8 2z"/>
<path fill="#4a4a4a" stroke-width="3.2" d="M1178.2 1134.7l7.8-4.4 3 1.8-7.8 0.2z"/>
<path fill="#ffb700" d="M1186 1130.3l7.8 37.7 3 4.3-7.8-40.2z"/>
<path fill="#0011e6" d="M1248.4 1523.4l7.8 3.3 3-6.5-7.8-1.4zM1256.2 1526.7l7.8 2.9 3-3.7-7.8-5.7z"/>
<path fill="#0000dd" d="M1264 1529.6l7.8 5.1 3 0.7-7.8-9.5zM1279.6 1533l7.8 3.6 3-2.7-7.8-0.5zM1287.4 1536.6l7.8 5.2 3-7.1-7.8-0.8zM1295.2 1541.8l7.8 1.4 3-6.4-7.8-2.1zM1303 1543.2l7.8 0.7 3-3.2-7.8-3.9zM1373.2 1543.9l7.8-2.6 3.1-0.6-7.9 0zM1381 1541.3l7.8 1.2 3-6.3-7.7 4.5zM1388.8 1542.5l7.8-5.8 3-0.8-7.8 0.3z"/>
<path fill="#ffd200" d="M1513.6 1162.6l7.8 21.3 3-14.2-7.8-14.2z"/>
<path fill="#ffee00" d="M1521.4 1183.9l7.8 15.4 3-10.7-7.8-18.9z"/>
<path fill="#e6ef28" d="M1529.2 1199.3l7.8 23.1 3.1-2.8-7.9-31z"/>
<path fill="#ccf050" d="M1537 1222.4l7.8 43.4 3-1.4-7.7-44.8z"/>
<path fill="#6ffb94" d="M1544.8 1265.8l7.8 53.6 3-13.2-7.8-41.8z"/>
<path fill="#14ffea" d="M1552.6 1319.4l7.8 60.1 3-10.6-7.8-62.7z"/>
<path fill="#00ccff" d="M1560.4 1379.5l7.8 58.5 3-10.2-7.8-58.9z"/>
<path fill="#0062ff" d="M1568.2 1438l7.8 75.1 3.1-7.6-7.9-77.7z"/>
<path fill="#0022ee" d="M1576 1513.1l7.8 11.4 3-8.5-7.7-10.5z"/>
<path fill="#0011e6" d="M1583.8 1524.5l7.8 2.9 3-0.8-7.8-10.6z"/>
<path fill="#4a4a4a" stroke-width="3.2" d="M1591.6 1527.4l7.8-1 3 5.4-7.8-5.2zM1599.4 1526.4l7.8 6.4 3-3.4-7.8 2.4z"/>
<path fill="#0000dd" d="M1607.2 1532.8l7.8 2.3 3.1-3.2-7.9-2.5zM1615 1535.1l7.8 5.8 3-4.4-7.7-4.6zM1622.8 1540.9l7.8 2 3-7.3-7.8 0.9zM1630.6 1542.9l7.8 1 3-3.2-7.8-5.1zM1058.1 1540.4l7.8 2.3 3.1-6.6-7.8 4.9zM1065.9 1542.7l7.8-2.8 3.1-1.7-7.8-2.1zM1073.7 1539.9l7.8-2.3 3.1-3.3-7.8 3.9zM1081.5 1537.6l7.8-1.9 3.1-5.6-7.8 4.2z"/>
<path fill="#0011e6" d="M1089.3 1535.7l7.8-3.2 3.1-5-7.8 2.6z"/>
<path fill="#4a4a4a" stroke-width="3.2" d="M1097.1 1532.5l7.8-11.9 3.1 3.5-7.8 3.4zM1159.5 1157.8l7.8-28.8 3.1 10.4-7.8 1.4z"/>
<path fill="#ff8000" d="M1175.1 1124.5l7.8 28.4 3.1-22.6-7.8 4.4z"/>
<path fill="#ff9c00" d="M1182.9 1152.9l7.8-7.1 3.1 22.2-7.8-37.7z"/>
<path fill="#0011e6" d="M1253.1 1530.5l7.8 5.8 3.1-6.7-7.8-2.9z"/>
<path fill="#0000dd" d="M1260.9 1536.3l7.8 1.4 3.1-3-7.8-5.1zM1268.7 1537.7l7.8 4.5 3.1-9.2-7.8 1.7zM1276.5 1542.2l7.8-3 3.1-2.6-7.8-3.6zM1284.3 1539.2l7.8 4.3 3.1-1.7-7.8-5.2zM1292.1 1543.5l7.8 0.3 3.1-0.6-7.8-1.4zM1299.9 1543.8l7.8 1 3.1-0.9-7.8-0.7zM1315.5 1540.7l7.8 6.3 3.1-3.1-7.8 0zM1362.3 1547l7.8-3.2 3.1 0.1-7.8 0zM1370.1 1543.8l7.8 2 3.1-4.5-7.8 2.6zM1377.9 1545.8l7.8-2.6 3.1-0.7-7.8-1.2zM1385.7 1543.2l7.8-2.8 3.1-3.7-7.8 5.8z"/>
<path fill="#ffd200" d="M1494.9 1204.5l7.8-30.2 3.1-24.3-7.8 24z"/>
<path fill="#ffb700" d="M1502.7 1174.3l7.8-14.6 3.1 2.9-7.8-12.6z"/>
<path fill="#ffd200" d="M1510.5 1159.7l7.8 33.6 3.1-9.4-7.8-21.3z"/>
<path fill="#f2ee14" d="M1518.3 1193.3l7.8 14 3.1-8-7.8-15.4z"/>
<path fill="#e6ef28" d="M1526.1 1207.3l7.8 40.7 3.1-25.6-7.8-23.1z"/>
<path fill="#adf466" d="M1533.9 1248l7.8 33.5 3.1-15.7-7.8-43.4z"/>
<path fill="#50ffaa" d="M1541.7 1281.5l7.8 54.3 3.1-16.4-7.8-53.6z"/>
<path fill="#14ffea" d="M1549.5 1335.8l7.8 56.9 3.1-13.2-7.8-60.1z"/>
<path fill="#00ccff" d="M1557.3 1392.7l7.8 58.2 3.1-12.9-7.8-58.5z"/>
<path fill="#0044ff" d="M1565.1 1450.9l7.8 67.1 3.1-4.9-7.8-75.1z"/>
<path fill="#0011e6" d="M1572.9 1518l7.8 7.7 3.1-1.2-7.8-11.4zM1580.7 1525.7l7.8 6.6 3.1-4.9-7.8-2.9zM1588.5 1532.3l7.8 2.3 3.1-8.2-7.8 1zM1596.3 1534.6l7.8 1.6 3.1-3.4-7.8-6.4z"/>
<path fill="#0000dd" d="M1604.1 1536.2l7.8 6.3 3.1-7.4-7.8-2.3zM1611.9 1542.5l7.8 2.4 3.1-4-7.8-5.8zM1619.7 1544.9l7.8-1.5 3.1-0.5-7.8-2zM1627.5 1543.4l7.8 3.6 3.1-3.1-7.8-1zM1055.1 1545.5l7.8-2.4 3-0.4-7.8-2.3zM1062.9 1543.1l7.8 3.2 3-6.4-7.8 2.8zM1070.7 1546.3l7.8-4.3 3-4.4-7.8 2.3zM1078.5 1542l7.8-3.8 3-2.5-7.8 1.9z"/>
<path fill="#0011e6" d="M1086.3 1538.2l7.8-4.5 3-1.2-7.8 3.2z"/>
<path fill="#4a4a4a" stroke-width="3.2" d="M1094.1 1533.7l7.8-7.1 3-6-7.8 11.9z"/>
<path fill="#0011e6" d="M1101.9 1526.6l7.8-4.1 3 3.3-7.8-5.2z"/>
<path fill="#ff8000" d="M1164.3 1152.3l7.8-12.7 3-15.1-7.8 4.5z"/>
<path fill="#ff9c00" d="M1172.1 1139.6l7.8 7.9 3 5.4-7.8-28.4zM1179.9 1147.5l7.8 7.6 3-9.3-7.8 7.1z"/>
<path fill="#ffd200" d="M1187.7 1155.1l7.8 37.9 3 2-7.8-49.2z"/>
<path fill="#0011e6" d="M1250.1 1530.2l7.8 7.3 3-1.2-7.8-5.8z"/>
<path fill="#0000dd" d="M1257.9 1537.5l7.8 1.8 3-1.6-7.8-1.4z"/>
<path fill="#4a4a4a" stroke-width="3.2" d="M1265.7 1539.3l7.8-1.1 3 4-7.8-4.5z"/>
<path fill="#0000dd" d="M1273.5 1538.2l7.8 4.5 3-3.5-7.8 3zM1281.3 1542.7l7.8 5.5 3-4.7-7.8-4.3zM1289.1 1548.2l7.8-2.4 3-2-7.8-0.3zM1296.9 1545.8l7.8 2.3 3-3.3-7.8-1zM1304.7 1548.1l7.8 0.2 3-7.6-7.8 4.1zM1312.5 1548.3l7.8 2.4 3-3.7-7.8-6.3zM1359.3 1550.2l7.8 0.2 3-6.6-7.8 3.2zM1367.1 1550.4l7.8-2 3-2.6-7.8-2zM1374.9 1548.4l7.8 1.7 3-6.9-7.8 2.6zM1382.7 1550.1l7.8-7.8 3-1.9-7.8 2.8zM1390.5 1542.3l7.8-1.4 3-0.7-7.8 0.2z"/>
<path fill="#ffd200" d="M1499.7 1172.3l7.8 5.4 3-18-7.8 14.6z"/>
<path fill="#ffee00" d="M1507.5 1177.7l7.8 30 3-14.4-7.8-33.6z"/>
<path fill="#f2ee14" d="M1515.3 1207.7l7.8 9.6 3-10-7.8-14z"/>
<path fill="#d9f03c" d="M1523.1 1217.3l7.8 29.5 3 1.2-7.8-40.7z"/>
<path fill="#adf466" d="M1530.9 1246.8l7.8 51.5 3-16.8-7.8-33.5z"/>
<path fill="#50ffaa" d="M1538.7 1298.3l7.8 48.1 3-10.6-7.8-54.3z"/>
<path fill="#00ffff" d="M1546.5 1346.4l7.8 60.6 3-14.3-7.8-56.9z"/>
<path fill="#00bbff" d="M1554.3 1407l7.8 63.9 3-20-7.8-58.2z"/>
<path fill="#0044ff" d="M1562.1 1470.9l7.8 57.1 3-10-7.8-67.1z"/>
<path fill="#0011e6" d="M1569.9 1528l7.8 2.1 3-4.4-7.8-7.7zM1577.7 1530.1l7.8 2.4 3-0.2-7.8-6.6zM1585.5 1532.5l7.8 4.8 3-2.7-7.8-2.3z"/>
<path fill="#0000dd" d="M1593.3 1537.3l7.8 8.5 3-9.6-7.8-1.6zM1601.1 1545.8l7.8-2.8 3-0.5-7.8-6.3zM1608.9 1543l7.8 2.9 3-1-7.8-2.4zM1616.7 1545.9l7.8-1.5 3-1-7.8 1.5zM1624.5 1544.4l7.8 5.8 3-3.2-7.8-3.6zM1052 1548.5l7.8 2.7 3.1-8.1-7.8 2.4zM1059.8 1551.2l7.8-0.3 3.1-4.6-7.8-3.2z"/>
<path fill="#4a4a4a" stroke-width="3.2" d="M1067.6 1550.9l7.8-8.9 3.1 0-7.8 4.3z"/>
<path fill="#0000dd" d="M1075.4 1542l7.8 1.8 3.1-5.6-7.8 3.8z"/>
<path fill="#0011e6" d="M1083.2 1543.8l7.8-4.7 3.1-5.4-7.8 4.5zM1091 1539.1l7.8-5.3 3.1-7.2-7.8 7.1zM1098.8 1533.8l7.8-5 3.1-6.3-7.8 4.1zM1254.8 1540.7l7.8 0.6 3.1-2-7.8-1.8z"/>
<path fill="#0000dd" d="M1262.6 1541.3l7.8 5.5 3.1-8.6-7.8 1.1zM1270.4 1546.8l7.8-4.6 3.1 0.5-7.8-4.5zM1278.2 1542.2l7.8 4 3.1 2-7.8-5.5z"/>
<path fill="#4a4a4a" stroke-width="3.2" d="M1286 1546.2l7.8 1.2 3.1-1.6-7.8 2.4z"/>
<path fill="#0000dd" d="M1293.8 1547.4l7.8 8.4 3.1-7.7-7.8-2.3zM1301.6 1555.8l7.8-9.2 3.1 1.7-7.8-0.2zM1325 1544.8l7.8 8.6 3.1-3.2-7.8 0z"/>
<path fill="#4a4a4a" stroke-width="3.2" d="M1348.4 1553.4l7.8-5.7 3.1 2.5-7.8 0z"/>
<path fill="#0000dd" d="M1356.2 1547.7l7.8 4.6 3.1-1.9-7.8-0.2zM1364 1552.3l7.8-2.4 3.1-1.5-7.8 2zM1387.4 1541.1l7.8 3.3 3.1-3.5-7.8 1.4z"/>
<path fill="#ffd200" d="M1488.8 1181.1l7.8 4.3 3.1-13.1-7.8 11.3zM1496.6 1185.4l7.8 2.4 3.1-10.1-7.8-5.4z"/>
<path fill="#ffee00" d="M1504.4 1187.8l7.8 18.7 3.1 1.2-7.8-30z"/>
<path fill="#e6ef28" d="M1512.2 1206.5l7.8 27.7 3.1-16.9-7.8-9.6z"/>
<path fill="#d9f03c" d="M1520 1234.2l7.8 21.7 3.1-9.1-7.8-29.5z"/>
<path fill="#8ef87d" d="M1527.8 1255.9l7.8 50 3.1-7.6-7.8-51.5z"/>
<path fill="#3cffbf" d="M1535.6 1305.9l7.8 58.7 3.1-18.2-7.8-48.1z"/>
<path fill="#00eeff" d="M1543.4 1364.6l7.8 58.7 3.1-16.3-7.8-60.6z"/>
<path fill="#009dff" d="M1551.2 1423.3l7.8 71.7 3.1-24.1-7.8-63.9z"/>
<path fill="#0033f6" d="M1559 1495l7.8 31.8 3.1 1.2-7.8-57.1z"/>
<path fill="#0011e6" d="M1566.8 1526.8l7.8 7.4 3.1-4.1-7.8-2.1zM1574.6 1534.2l7.8 3.4 3.1-5.1-7.8-2.4zM1582.4 1537.6l7.8 9.8 3.1-10.1-7.8-4.8z"/>
<path fill="#0000dd" d="M1590.2 1547.4l7.8-1.7 3.1 0.1-7.8-8.5zM1598 1545.7l7.8 2.5 3.1-5.2-7.8 2.8zM1605.8 1548.2l7.8 1.2 3.1-3.5-7.8-2.9zM1613.6 1549.4l7.8 1.7 3.1-6.7-7.8 1.5zM1621.4 1551.1l7.8 2.3 3.1-3.2-7.8-5.8zM1048.9 1555l7.8-1.7 3.1-2.1-7.8-2.7zM1056.7 1553.3l7.8-1.6 3.1-0.8-7.8 0.3zM1064.5 1551.7l7.8-3 3.1-6.7-7.8 8.9zM1072.3 1548.7l7.8-4 3.1-0.9-7.8-1.8z"/>
<path fill="#0011e6" d="M1080.1 1544.7l7.8-2.5 3.1-3.1-7.8 4.7zM1087.9 1542.2l7.8-1.4 3.1-7-7.8 5.3zM1095.7 1540.8l7.8-8.3 3.1-3.7-7.8 5z"/>
<path fill="#0022ee" d="M1103.5 1532.5l7.8-12 3.1-25.4-7.8 33.7z"/>
<path fill="#ffee00" d="M1142.5 1233.4l7.8-43.2 3.1-20.9-7.8 34.7z"/>
<path fill="#4a4a4a" stroke-width="3.2" d="M1150.3 1190.2l7.8-42.9 3.1 4.2-7.8 17.8z"/>
<path fill="#ff8000" d="M1158.1 1147.3l7.8-0.5 3.1-25.3-7.8 30zM1165.9 1146.8l7.8 3.7 3.1-22.6-7.8-6.4z"/>
<path fill="#ff9c00" d="M1173.7 1150.5l7.8 18.8 3.1-14.2-7.8-27.2z"/>
<path fill="#ffb700" d="M1181.5 1169.3l7.8-0.8 3.1-12-7.8-1.4z"/>
<path fill="#ffd200" d="M1189.3 1168.5l7.8 40.5 3.1 2.5-7.8-55z"/>
<path fill="#0000dd" d="M1267.3 1543.8l7.8 6.4 3.1-8-7.8 4.6zM1275.1 1550.2l7.8 2.3 3.1-6.3-7.8-4zM1282.9 1552.5l7.8-4.8 3.1-0.3-7.8-1.2zM1290.7 1547.7l7.8 3.4 3.1 4.7-7.8-8.4z"/>
<path fill="#4a4a4a" stroke-width="3.2" d="M1298.5 1551.1l7.8 0.4 3.1-4.9-7.8 9.2z"/>
<path fill="#0000dd" d="M1306.3 1551.5l7.8-0.4 3.1-4-7.8-0.5zM1314.1 1551.1l7.8-2.1 3.1-4.2-7.8 2.3zM1321.9 1549l7.8 2.2 3.1 2.2-7.8-8.6zM1329.7 1551.2l7.8 5.4 3.1-3.2-7.8 0zM1345.3 1556.6l7.8-0.1 3.1-8.8-7.8 5.7zM1353.1 1556.5l7.8-4.6 3.1 0.4-7.8-4.6zM1376.5 1548.1l7.8 0.4 3.1-7.4-7.8 9.3zM1384.3 1548.5l7.8-3.1 3.1-1-7.8-3.3z"/>
<path fill="#ffee00" d="M1501.3 1186.3l7.8 26 3.1-5.8-7.8-18.7z"/>
<path fill="#e6ef28" d="M1509.1 1212.3l7.8 14 3.1 7.9-7.8-27.7z"/>
<path fill="#d9f03c" d="M1516.9 1226.3l7.8 51 3.1-21.4-7.8-21.7z"/>
<path fill="#8ef87d" d="M1524.7 1277.3l7.8 49.6 3.1-21-7.8-50z"/>
<path fill="#28ffd4" d="M1532.5 1326.9l7.8 60 3.1-22.3-7.8-58.7z"/>
<path fill="#00ddff" d="M1540.3 1386.9l7.8 54.8 3.1-18.4-7.8-58.7z"/>
<path fill="#0080ff" d="M1548.1 1441.7l7.8 72.8 3.1-19.5-7.8-71.7z"/>
<path fill="#0022ee" d="M1555.9 1514.5l7.8 14.9 3.1-2.6-7.8-31.8z"/>
<path fill="#0011e6" d="M1563.7 1529.4l7.8 9.3 3.1-4.5-7.8-7.4zM1571.5 1538.7l7.8 5.8 3.1-6.9-7.8-3.4z"/>
<path fill="#0000dd" d="M1579.3 1544.5l7.8 4.7 3.1-1.8-7.8-9.8zM1587.1 1549.2l7.8-2.9 3.1-0.6-7.8 1.7z"/>
<path fill="#4a4a4a" stroke-width="3.2" d="M1594.9 1546.3l7.8-0.3 3.1 2.2-7.8-2.5z"/>
<path fill="#0000dd" d="M1602.7 1546l7.8 3.8 3.1-0.4-7.8-1.2zM1610.5 1549.8l7.8 4.1 3.1-2.8-7.8-1.7zM1618.3 1553.9l7.8 2.7 3.1-3.2-7.8-2.3zM1045.9 1558.6l7.8 0.7 3-6-7.8 1.7zM1053.7 1559.3l7.8-2.5 3-5.1-7.8 1.6zM1061.5 1556.8l7.8-7.6 3-0.5-7.8 3zM1069.3 1549.2l7.8 3.6 3-8.1-7.8 4z"/>
<path fill="#0011e6" d="M1077.1 1552.8l7.8-5.7 3-4.9-7.8 2.5zM1084.9 1547.1l7.8-3.8 3-2.5-7.8 1.4zM1092.7 1543.3l7.8-4.5 3-6.3-7.8 8.3z"/>
<path fill="#0022ee" d="M1100.5 1538.8l7.8-10.5 3-7.8-7.8 12z"/>
<path fill="#adf466" d="M1131.7 1314.3l7.8-52 3-28.9-7.8 61.6z"/>
<path fill="#ffd200" d="M1147.3 1219.7l7.8-58.4 3-14-7.8 42.9z"/>
<path fill="#ff9c00" d="M1155.1 1161.3l7.8-16.7 3 2.2-7.8 0.5zM1170.7 1147.4l7.8 12.6 3 9.3-7.8-18.8z"/>
<path fill="#0011e6" d="M1256.5 1544.7l7.8 2.6 3-3.5-7.8-3.9z"/>
<path fill="#0000dd" d="M1264.3 1547.3l7.8-0.5 3 3.4-7.8-6.4zM1279.9 1550.9l7.8 3.6 3-6.8-7.8 4.8zM1287.7 1554.5l7.8 2.9 3-6.3-7.8-3.4zM1295.5 1557.4l7.8-5.9 3 0-7.8-0.4zM1303.3 1551.5l7.8 1 3-1.4-7.8 0.4zM1311.1 1552.5l7.8 6.8 3-10.3-7.8 2.1zM1318.9 1559.3l7.8-0.6 3-7.5-7.8-2.2zM1326.7 1558.7l7.8 1.1 3-3.2-7.8-5.4z"/>
<path fill="#4a4a4a" stroke-width="3.2" d="M1342.3 1559.8l7.8-6.2 3 2.9-7.8 0.1zM1350.1 1553.6l7.8 1 3-2.7-7.8 4.6z"/>
<path fill="#0000dd" d="M1357.9 1554.6l7.8 3.4 3-6.9-7.8 0.8zM1365.7 1558l7.8-6 3-3.9-7.8 3zM1373.5 1552l7.8 0.3 3-3.8-7.8-0.4z"/>
<path fill="#ffb700" d="M1482.7 1166.5l7.8 6.7 3 10-7.8-23.3z"/>
<path fill="#ffd200" d="M1490.5 1173.2l7.8 16.7 3-3.6-7.8-3.1z"/>
<path fill="#ffee00" d="M1498.3 1189.9l7.8 32.9 3-10.5-7.8-26z"/>
<path fill="#e6ef28" d="M1506.1 1222.8l7.8 38.3 3-34.8-7.8-14z"/>
<path fill="#adf466" d="M1513.9 1261.1l7.8 41.7 3-25.5-7.8-51z"/>
<path fill="#50ffaa" d="M1521.7 1302.8l7.8 51.8 3-27.7-7.8-49.6z"/>
<path fill="#14ffea" d="M1529.5 1354.6l7.8 52 3-19.7-7.8-60z"/>
<path fill="#00ccff" d="M1537.3 1406.6l7.8 55.7 3-20.6-7.8-54.8z"/>
<path fill="#0062ff" d="M1545.1 1462.3l7.8 67.5 3-15.3-7.8-72.8z"/>
<path fill="#0022ee" d="M1552.9 1529.8l7.8 10.2 3-10.6-7.8-14.9z"/>
<path fill="#0011e6" d="M1560.7 1540l7.8 2 3-3.3-7.8-9.3zM1568.5 1542l7.8 6.6 3-4.1-7.8-5.8z"/>
<path fill="#0000dd" d="M1576.3 1548.6l7.8 1.1 3-0.5-7.8-4.7zM1584.1 1549.7l7.8 1.8 3-5.2-7.8 2.9zM1591.9 1551.5l7.8 1 3-6.5-7.8 0.3zM1599.7 1552.5l7.8 2.2 3-4.9-7.8-3.8zM1607.5 1554.7l7.8-0.6 3-0.2-7.8-4.1zM1615.3 1554.1l7.8 5.7 3-3.2-7.8-2.7zM1042.8 1564.6l7.8-5.1 3.1-0.2-7.8-0.7zM1050.6 1559.5l7.8 0.3 3.1-3-7.8 2.5zM1058.4 1559.8l7.8-2.2 3.1-8.4-7.8 7.6zM1066.2 1557.6l7.8-3.5 3.1-1.3-7.8-3.6zM1074 1554.1l7.8-3.5 3.1-3.5-7.8 5.7z"/>
<path fill="#0011e6" d="M1081.8 1550.6l7.8-1.9 3.1-5.4-7.8 3.8z"/>
<path fill="#4a4a4a" stroke-width="3.2" d="M1089.6 1548.7l7.8-10.2 3.1 0.3-7.8 4.5z"/>
<path fill="#0011e6" d="M1097.4 1538.5l7.8 2.4 3.1-12.6-7.8 10.5z"/>
<path fill="#4a4a4a" stroke-width="3.2" d="M1105.2 1540.9l7.8-50.1 3.1-31.4-7.8 68.9z"/>
<path fill="#00bbff" d="M1113 1490.8l7.8-77.1 3.1-28.2-7.8 73.9z"/>
<path fill="#4a4a4a" stroke-width="3.2" d="M1128.6 1340l7.8-59.7 3.1-18-7.8 52zM1144.2 1220l7.8-30.1 3.1-28.6-7.8 58.4z"/>
<path fill="#ff9c00" d="M1152 1189.9l7.8-32.4 3.1-12.9-7.8 16.7z"/>
<path fill="#ff8000" d="M1159.8 1157.5l7.8-5.5 3.1-4.6-7.8-2.8z"/>
<path fill="#0011e6" d="M1261.2 1546.1l7.8 3.6 3.1-2.9-7.8 0.5zM1269 1549.7l7.8-0.2 3.1 1.4-7.8-4.1z"/>
<path fill="#4a4a4a" stroke-width="3.2" d="M1292.4 1549.9l7.8 6 3.1-4.4-7.8 5.9z"/>
<path fill="#0000dd" d="M1300.2 1555.9l7.8 6.1 3.1-9.5-7.8-1zM1308 1562l7.8-2.5 3.1-0.2-7.8-6.8zM1323.6 1558l7.8 4.9 3.1-3.1-7.8-1.1zM1339.2 1565l7.8-3.6 3.1-7.8-7.8 6.2zM1347 1561.4l7.8-4.6 3.1-2.2-7.8-1z"/>
<path fill="#4a4a4a" stroke-width="3.2" d="M1354.8 1556.8l7.8-3.1 3.1 4.3-7.8-3.4zM1362.6 1553.7l7.8 2.1 3.1-3.8-7.8 6z"/>
<path fill="#0000dd" d="M1370.4 1555.8l7.8-4.9 3.1 1.4-7.8-0.3z"/>
<path fill="#4a4a4a" stroke-width="3.2" d="M1464 1184l7.8 17.5 3.1-1.4-7.8 19zM1471.8 1201.5l7.8-19.2 3.1-15.8-7.8 33.6z"/>
<path fill="#ffb700" d="M1479.6 1182.3l7.8 1.5 3.1-10.6-7.8-6.7z"/>
<path fill="#ffd200" d="M1487.4 1183.8l7.8 23.7 3.1-17.6-7.8-16.7z"/>
<path fill="#f2ee14" d="M1495.2 1207.5l7.8 30.9 3.1-15.6-7.8-32.9z"/>
<path fill="#d9f03c" d="M1503 1238.4l7.8 36 3.1-13.3-7.8-38.3z"/>
<path fill="#8ef87d" d="M1510.8 1274.4l7.8 44.3 3.1-15.9-7.8-41.7z"/>
<path fill="#3cffbf" d="M1518.6 1318.7l7.8 55.7 3.1-19.8-7.8-51.8z"/>
<path fill="#00eeff" d="M1526.4 1374.4l7.8 54.8 3.1-22.6-7.8-52z"/>
<path fill="#009dff" d="M1534.2 1429.2l7.8 63.1 3.1-30-7.8-55.7z"/>
<path fill="#0044ff" d="M1542 1492.3l7.8 45.7 3.1-8.2-7.8-67.5z"/>
<path fill="#0011e6" d="M1549.8 1538l7.8 2.9 3.1-0.9-7.8-10.2zM1557.6 1540.9l7.8 8.2 3.1-7.1-7.8-2zM1565.4 1549.1l7.8-0.2 3.1-0.3-7.8-6.6zM1573.2 1548.9l7.8 3.4 3.1-2.6-7.8-1.1z"/>
<path fill="#0000dd" d="M1581 1552.3l7.8 3.3 3.1-4.1-7.8-1.8zM1588.8 1555.6l7.8 0.9 3.1-4-7.8-1zM1596.6 1556.5l7.8-0.1 3.1-1.7-7.8-2.2zM1604.4 1556.4l7.8 2.9 3.1-5.2-7.8 0.6zM1612.2 1559.3l7.8 3.6 3.1-3.1-7.8-5.7z"/>
<path fill="#4a4a4a" stroke-width="3.2" d="M1039.8 1561.2l7.8 0.8 3-2.5-7.8 5.1z"/>
<path fill="#0000dd" d="M1047.6 1562l7.8-1 3-1.2-7.8-0.3zM1055.4 1561l7.8-0.6 3-2.8-7.8 2.2zM1063.2 1560.4l7.8-3.5 3-2.8-7.8 3.5zM1071 1556.9l7.8-1 3-5.3-7.8 3.5z"/>
<path fill="#0011e6" d="M1078.8 1555.9l7.8-1.7 3-5.5-7.8 1.9zM1086.6 1554.2l7.8-6.5 3-9.2-7.8 10.2zM1094.4 1547.7l7.8-2.3 3-4.5-7.8-2.4z"/>
<path fill="#0022ee" d="M1102.2 1545.4l7.8-23.5 3-31.1-7.8 50.1z"/>
<path fill="#4a4a4a" stroke-width="3.2" d="M1110 1521.9l7.8-78.5 3-29.7-7.8 77.1z"/>
<path fill="#00eeff" d="M1117.8 1443.4l7.8-71.2 3-32.2-7.8 73.7z"/>
<path fill="#50ffaa" d="M1125.6 1372.2l7.8-65.4 3-26.5-7.8 59.7z"/>
<path fill="#ccf050" d="M1133.4 1306.8l7.8-56.6 3-30.2-7.8 60.3z"/>
<path fill="#4a4a4a" stroke-width="3.2" d="M1141.2 1250.2l7.8-59.8 3-0.5-7.8 30.1z"/>
<path fill="#ffb700" d="M1149 1190.4l7.8-8.7 3-24.2-7.8 32.4z"/>
<path fill="#ff9c00" d="M1156.8 1181.7l7.8-21.4 3-8.3-7.8 5.5zM1164.6 1160.3l7.8 6.2 3-16.8-7.8 2.3zM1172.4 1166.5l7.8-1.3 3 8.1-7.8-23.6z"/>
<path fill="#4a4a4a" stroke-width="3.2" d="M1266 1544.6l7.8 6.1 3-1.2-7.8 0.2z"/>
<path fill="#0011e6" d="M1273.8 1550.7l7.8 3.2 3-3.7-7.8-0.7zM1281.6 1553.9l7.8 5.3 3-9.3-7.8 0.3z"/>
<path fill="#0000dd" d="M1289.4 1559.2l7.8-0.7 3-2.6-7.8-6zM1297.2 1558.5l7.8 1.3 3 2.2-7.8-6.1z"/>
<path fill="#4a4a4a" stroke-width="3.2" d="M1305 1559.8l7.8 1.4 3-1.7-7.8 2.5z"/>
<path fill="#0000dd" d="M1312.8 1561.2l7.8 3 3-6.2-7.8 1.5zM1320.6 1564.2l7.8 1.9 3-3.2-7.8-4.9z"/>
<path fill="#4a4a4a" stroke-width="3.2" d="M1328.4 1566.1l7.8-5 3 3.9-7.8-2.1z"/>
<path fill="#0000dd" d="M1344 1561.6l7.8-0.4 3-4.4-7.8 4.6zM1351.8 1561.2l7.8-0.5 3-7-7.8 3.1zM1359.6 1560.7l7.8-1.9 3-3-7.8-2.1zM1367.4 1558.8l7.8-2.2 3-5.7-7.8 4.9z"/>
<path fill="#4a4a4a" stroke-width="3.2" d="M1375.2 1556.6l7.8-10.1 3 4.8-7.8-0.4zM1383 1546.5l7.8-0.3 3-4.9-7.8 10z"/>
<path fill="#0011e6" d="M1390.8 1546.2l7.8-4.3 3-0.5-7.8-0.1z"/>
<path fill="#ffd200" d="M1461 1180.1l7.8 14.5 3 6.9-7.8-17.5zM1476.6 1183.5l7.8 28.9 3-28.6-7.8-1.5z"/>
<path fill="#ffee00" d="M1484.4 1212.4l7.8 23.2 3-28.1-7.8-23.7z"/>
<path fill="#e6ef28" d="M1492.2 1235.6l7.8 13.1 3-10.3-7.8-30.9z"/>
<path fill="#ccf050" d="M1500 1248.7l7.8 47 3-21.3-7.8-36z"/>
<path fill="#6ffb94" d="M1507.8 1295.7l7.8 50.7 3-27.7-7.8-44.3z"/>
<path fill="#28ffd4" d="M1515.6 1346.4l7.8 55.1 3-27.1-7.8-55.7z"/>
<path fill="#00ddff" d="M1523.4 1401.5l7.8 52.5 3-24.8-7.8-54.8z"/>
<path fill="#0080ff" d="M1531.2 1454l7.8 69 3-30.7-7.8-63.1z"/>
<path fill="#0022ee" d="M1539 1523l7.8 20.2 3-5.2-7.8-45.7z"/>
<path fill="#0011e6" d="M1546.8 1543.2l7.8 10.4 3-12.7-7.8-2.9zM1554.6 1553.6l7.8 0.9 3-5.4-7.8-8.2zM1562.4 1554.5l7.8 2.5 3-8.1-7.8 0.2z"/>
<path fill="#0000dd" d="M1570.2 1557l7.8 0 3-4.7-7.8-3.4zM1578 1557l7.8 4.2 3-5.6-7.8-3.3zM1585.8 1561.2l7.8 4.4 3-9.1-7.8-0.9zM1593.6 1565.6l7.8-0.6 3-8.6-7.8 0.1zM1601.4 1565l7.8 1.8 3-7.5-7.8-2.9zM1609.2 1566.8l7.8-0.7 3-3.2-7.8-3.6zM1036.7 1566.3l7.8-0.4 3.1-3.9-7.8-0.8zM1044.5 1565.9l7.8-3.8 3.1-1.1-7.8 1zM1052.3 1562.1l7.8 3.8 3.1-5.5-7.8 0.6zM1060.1 1565.9l7.8-2.2 3.1-6.8-7.8 3.5zM1067.9 1563.7l7.8-3 3.1-4.8-7.8 1zM1075.7 1560.7l7.8-4.8 3.1-1.7-7.8 1.7z"/>
<path fill="#0011e6" d="M1083.5 1555.9l7.8-3.3 3.1-4.9-7.8 6.5zM1091.3 1552.6l7.8-6.2 3.1-1-7.8 2.3z"/>
<path fill="#0022ee" d="M1099.1 1546.4l7.8-1.4 3.1-23.1-7.8 23.5z"/>
<path fill="#00ccff" d="M1114.7 1477.2l7.8-74.7 3.1-30.3-7.8 71.2z"/>
<path fill="#4a4a4a" stroke-width="3.2" d="M1122.5 1402.5l7.8-75.3 3.1-20.4-7.8 65.4z"/>
<path fill="#8ef87d" d="M1130.3 1327.2l7.8-41.1 3.1-35.9-7.8 56.6z"/>
<path fill="#4a4a4a" stroke-width="3.2" d="M1138.1 1286.1l7.8-78.4 3.1-17.3-7.8 59.8z"/>
<path fill="#ffd200" d="M1145.9 1207.7l7.8-27.9 3.1 1.9-7.8 8.7z"/>
<path fill="#0011e6" d="M1255.1 1545.4l7.8 2 3.1-2.8-7.8-3.5zM1262.9 1547.4l7.8 8.3 3.1-5-7.8-6.1zM1270.7 1555.7l7.8-0.5 3.1-1.3-7.8-3.2z"/>
<path fill="#0000dd" d="M1278.5 1555.2l7.8 7.1 3.1-3.1-7.8-5.3zM1286.3 1562.3l7.8-2.9 3.1-0.9-7.8 0.7zM1294.1 1559.4l7.8 9.6 3.1-9.2-7.8-1.3zM1301.9 1569l7.8-2.8 3.1-5-7.8-1.4zM1309.7 1566.2l7.8-2.3 3.1 0.3-7.8-3zM1317.5 1563.9l7.8 5.4 3.1-3.2-7.8-1.9zM1325.3 1569.3l7.8-2.2 3.1-6-7.8 5zM1333.1 1567.1l7.8-1.2 3.1-4.3-7.8-0.5zM1340.9 1565.9l7.8-0.9 3.1-3.8-7.8 0.4zM1348.7 1565l7.8 2.8 3.1-7.1-7.8 0.5zM1356.5 1567.8l7.8-3 3.1-6-7.8 1.9z"/>
<path fill="#4a4a4a" stroke-width="3.2" d="M1364.3 1564.8l7.8-12 3.1 3.8-7.8 2.2zM1372.1 1552.8l7.8-1.8 3.1-4.5-7.8 10.1z"/>
<path fill="#0011e6" d="M1379.9 1551l7.8-0.3 3.1-4.5-7.8 0.3zM1387.7 1550.7l7.8-4.6 3.1-4.2-7.8 4.3z"/>
<path fill="#4a4a4a" stroke-width="3.2" d="M1457.9 1162l7.8 26.8 3.1 5.8-7.8-14.5z"/>
<path fill="#ffd200" d="M1465.7 1188.8l7.8 19.6 3.1-24.9-7.8 11.1z"/>
<path fill="#ffee00" d="M1473.5 1208.4l7.8 12.1 3.1-8.1-7.8-28.9z"/>
<path fill="#f2ee14" d="M1481.3 1220.5l7.8 31.9 3.1-16.8-7.8-23.2z"/>
<path fill="#d9f03c" d="M1489.1 1252.4l7.8 34.5 3.1-38.2-7.8-13.1z"/>
<path fill="#adf466" d="M1496.9 1286.9l7.8 34.6 3.1-25.8-7.8-47z"/>
<path fill="#50ffaa" d="M1504.7 1321.5l7.8 55.2 3.1-30.3-7.8-50.7z"/>
<path fill="#00ffff" d="M1512.5 1376.7l7.8 51.6 3.1-26.8-7.8-55.1z"/>
<path fill="#00bbff" d="M1520.3 1428.3l7.8 53.7 3.1-28-7.8-52.5z"/>
<path fill="#0044ff" d="M1528.1 1482l7.8 64.8 3.1-23.8-7.8-69z"/>
<path fill="#0022ee" d="M1535.9 1546.8l7.8-2.7 3.1-0.9-7.8-20.2z"/>
<path fill="#0011e6" d="M1543.7 1544.1l7.8 6.6 3.1 2.9-7.8-10.4zM1551.5 1550.7l7.8 7.7 3.1-3.9-7.8-0.9z"/>
<path fill="#0000dd" d="M1559.3 1558.4l7.8 0.1 3.1-1.5-7.8-2.5zM1567.1 1558.5l7.8 2.3 3.1-3.8-7.8 0zM1574.9 1560.8l7.8 2.3 3.1-1.9-7.8-4.2zM1582.7 1563.1l7.8 1.7 3.1 0.8-7.8-4.4zM1606.1 1566l7.8 3.3 3.1-3.2-7.8 0.7zM1033.6 1572.9l7.8-3.9 3.1-3.1-7.8 0.4zM1041.4 1569l7.8-2.7 3.1-4.2-7.8 3.8zM1049.2 1566.3l7.8 4.7 3.1-5.1-7.8-3.8z"/>
<path fill="#0011e6" d="M1072.6 1560.8l7.8 0.5 3.1-5.4-7.8 4.8zM1080.4 1561.3l7.8-3.9 3.1-4.8-7.8 3.3zM1088.2 1557.4l7.8-4.8 3.1-6.2-7.8 6.2zM1096 1552.6l7.8-0.5 3.1-7.1-7.8 1.4z"/>
<path fill="#0033f6" d="M1103.8 1552.1l7.8-33.7 3.1-41.2-7.8 67.8z"/>
<path fill="#009dff" d="M1111.6 1518.4l7.8-77.5 3.1-38.4-7.8 74.7z"/>
<path fill="#00ffff" d="M1119.4 1440.9l7.8-70.7 3.1-43-7.8 75.3z"/>
<path fill="#6ffb94" d="M1127.2 1370.2l7.8-68.7 3.1-15.4-7.8 41.1z"/>
<path fill="#d9f03c" d="M1135 1301.5l7.8-55 3.1-38.8-7.8 78.4z"/>
<path fill="#ffee00" d="M1142.8 1246.5l7.8-43.4 3.1-23.3-7.8 27.9z"/>
<path fill="#ffb700" d="M1150.6 1203.1l7.8-31.4 3.1-9.5-7.8 17.6z"/>
<path fill="#ff8000" d="M1166.2 1147.3l7.8 5.8 3.1 8.6-7.8-17.9z"/>
<path fill="#4a4a4a" stroke-width="3.2" d="M1252 1499.6l7.8 47.7 3.1 0.1-7.8-2zM1259.8 1547.3l7.8 2.2 3.1 6.2-7.8-8.3zM1267.6 1549.5l7.8 8 3.1-2.3-7.8 0.5z"/>
<path fill="#0011e6" d="M1275.4 1557.5l7.8 2.6 3.1 2.2-7.8-7.1z"/>
<path fill="#0000dd" d="M1283.2 1560.1l7.8 9.4 3.1-10.1-7.8 2.9zM1291 1569.5l7.8-2.4 3.1 1.9-7.8-9.6zM1306.6 1566.9l7.8 1.7 3.1-4.7-7.8 2.3zM1314.4 1568.6l7.8-0.3 3.1 1-7.8-5.4zM1322.2 1568.3l7.8 4.1 3.1-5.3-7.8 2.2zM1330 1572.4l7.8-5.6 3.1-0.9-7.8 1.2zM1337.8 1566.8l7.8 3.5 3.1-5.3-7.8 0.9zM1345.6 1570.3l7.8-6.2 3.1 3.7-7.8-2.8zM1361.2 1565.3l7.8-1 3.1-11.5-7.8 12z"/>
<path fill="#0011e6" d="M1369 1564.3l7.8-4.8 3.1-8.5-7.8 1.8zM1376.8 1559.5l7.8-4.1 3.1-4.7-7.8 0.3zM1384.6 1555.4l7.8-5.8 3.1-3.5-7.8 4.6z"/>
<path fill="#4a4a4a" stroke-width="3.2" d="M1447 1183.4l7.8-6.5 3.1-14.9-7.8 57.2z"/>
<path fill="#ffb700" d="M1454.8 1176.9l7.8 20.1 3.1-8.2-7.8-26.8z"/>
<path fill="#ffd200" d="M1462.6 1197l7.8 28.9 3.1-17.5-7.8-19.6z"/>
<path fill="#f2ee14" d="M1470.4 1225.9l7.8 13.1 3.1-18.5-7.8-12.1z"/>
<path fill="#e6ef28" d="M1478.2 1239l7.8 48.6 3.1-35.2-7.8-31.9z"/>
<path fill="#adf466" d="M1486 1287.6l7.8 20.9 3.1-21.6-7.8-34.5z"/>
<path fill="#6ffb94" d="M1493.8 1308.5l7.8 43.5 3.1-30.5-7.8-34.6z"/>
<path fill="#28ffd4" d="M1501.6 1352l7.8 52.9 3.1-28.2-7.8-55.2z"/>
<path fill="#00ddff" d="M1509.4 1404.9l7.8 51.3 3.1-27.9-7.8-51.6z"/>
<path fill="#009dff" d="M1517.2 1456.2l7.8 58.9 3.1-33.1-7.8-53.7z"/>
<path fill="#0033f6" d="M1525 1515.1l7.8 30.1 3.1 1.6-7.8-64.8z"/>
<path fill="#0011e6" d="M1532.8 1545.2l7.8 7.5 3.1-8.6-7.8 2.7zM1540.6 1552.7l7.8 9.6 3.1-11.6-7.8-6.6zM1548.4 1562.3l7.8 3.1 3.1-7-7.8-7.7z"/>
<path fill="#0000dd" d="M1556.2 1565.4l7.8-3.5 3.1-3.4-7.8-0.1zM1564 1561.9l7.8 1.1 3.1-2.2-7.8-2.3zM1571.8 1563l7.8 6.1 3.1-6-7.8-2.3zM1579.6 1569.1l7.8-0.8 3.1-3.5-7.8-1.7zM1587.4 1568.3l7.8-3.2 3.1-0.7-7.8 0.4zM1595.2 1565.1l7.8 5.8 3.1-4.9-7.8-1.6zM1603 1570.9l7.8 1.5 3.1-3.1-7.8-3.3zM1030.6 1575.6l7.8-4.7 3-1.9-7.8 3.9zM1046.2 1565l7.8 4.9 3 1.1-7.8-4.7zM1061.8 1565.2l7.8-1.2 3-3.2-7.8 3.6z"/>
<path fill="#0011e6" d="M1069.6 1564l7.8 1.2 3-3.9-7.8-0.5zM1077.4 1565.2l7.8-2.9 3-4.9-7.8 3.9zM1085.2 1562.3l7.8-8.5 3-1.2-7.8 4.8zM1093 1553.8l7.8 0.1 3-1.8-7.8 0.5z"/>
<path fill="#0022ee" d="M1100.8 1553.9l7.8-8.5 3-27-7.8 33.7z"/>
<path fill="#0062ff" d="M1108.6 1545.4l7.8-65.9 3-38.6-7.8 77.5z"/>
<path fill="#00ddff" d="M1116.4 1479.5l7.8-71.2 3-38.1-7.8 70.7z"/>
<path fill="#3cffbf" d="M1124.2 1408.3l7.8-67.6 3-39.2-7.8 68.7z"/>
<path fill="#adf466" d="M1132 1340.7l7.8-55.5 3-38.7-7.8 55z"/>
<path fill="#e6ef28" d="M1139.8 1285.2l7.8-53.4 3-28.7-7.8 43.4z"/>
<path fill="#ffd200" d="M1147.6 1231.8l7.8-33.5 3-26.6-7.8 31.4z"/>
<path fill="#ff9c00" d="M1155.4 1198.3l7.8-36 3-15-7.8 24.4z"/>
<path fill="#ff8000" d="M1163.2 1162.3l7.8 2.8 3-12-7.8-5.8zM1171 1165.1l7.8-8 3 10.7-7.8-14.7z"/>
<path fill="#4a4a4a" stroke-width="3.2" d="M1186.6 1140.9l7.8 45.5 3 6.8-7.8-3.7z"/>
<path fill="#0044ff" d="M1249 1472.1l7.8 78.2 3-3-7.8-47.7z"/>
<path fill="#0011e6" d="M1256.8 1550.3l7.8 5.9 3-6.7-7.8-2.2zM1264.6 1556.2l7.8 5.3 3-4-7.8-8zM1272.4 1561.5l7.8 3.8 3-5.2-7.8-2.6z"/>
<path fill="#0000dd" d="M1280.2 1565.3l7.8-0.2 3 4.4-7.8-9.4z"/>
<path fill="#4a4a4a" stroke-width="3.2" d="M1288 1565.1l7.8 3.6 3-1.6-7.8 2.4z"/>
<path fill="#0000dd" d="M1295.8 1568.7l7.8 2.9 3-4.7-7.8 0.2zM1303.6 1571.6l7.8 1.5 3-4.5-7.8-1.7zM1311.4 1573.1l7.8 1.7 3-6.5-7.8 0.3zM1319.2 1574.8l7.8 0.8 3-3.2-7.8-4.1zM1327 1575.6l7.8-0.7 3-8.1-7.8 5.6zM1334.8 1574.9l7.8-0.3 3-4.3-7.8-3.5zM1342.6 1574.6l7.8-4.6 3-5.9-7.8 6.2zM1350.4 1570l7.8 3 3-7.7-7.8-1.2zM1358.2 1573l7.8-7.2 3-1.5-7.8 1z"/>
<path fill="#0011e6" d="M1373.8 1560.7l7.8-3.4 3-1.9-7.8 4.1zM1381.6 1557.3l7.8-2.9 3-4.8-7.8 5.8z"/>
<path fill="#0022ee" d="M1389.4 1554.4l7.8-3 3-64.3-7.8 62.5z"/>
<path fill="#009dff" d="M1397.2 1551.4l7.8-97.9 3-73.4-7.8 107z"/>
<path fill="#28ffd4" d="M1405 1453.5l7.8-131.1 3-12.7-7.8 70.4z"/>
<path fill="#4a4a4a" stroke-width="3.2" d="M1444 1165.6l7.8 16.2 3-4.9-7.8 6.5z"/>
<path fill="#ffb700" d="M1451.8 1181.8l7.8 16.8 3-1.6-7.8-20.1z"/>
<path fill="#ffee00" d="M1459.6 1198.6l7.8 40.4 3-13.1-7.8-28.9z"/>
<path fill="#e6ef28" d="M1467.4 1239l7.8 24 3-24-7.8-13.1z"/>
<path fill="#ccf050" d="M1475.2 1263l7.8 33.7 3-9.1-7.8-48.6z"/>
<path fill="#8ef87d" d="M1483 1296.7l7.8 39.2 3-27.4-7.8-20.9z"/>
<path fill="#3cffbf" d="M1490.8 1335.9l7.8 52 3-35.9-7.8-43.5z"/>
<path fill="#00ffff" d="M1498.6 1387.9l7.8 48.6 3-31.6-7.8-52.9z"/>
<path fill="#00bbff" d="M1506.4 1436.5l7.8 55.8 3-36.1-7.8-51.3z"/>
<path fill="#0062ff" d="M1514.2 1492.3l7.8 55.5 3-32.7-7.8-58.9z"/>
<path fill="#0022ee" d="M1522 1547.8l7.8 2.2 3-4.8-7.8-30.1z"/>
<path fill="#0011e6" d="M1529.8 1550l7.8 5.9 3-3.2-7.8-7.5zM1537.6 1555.9l7.8 5.8 3 0.6-7.8-9.6z"/>
<path fill="#0000dd" d="M1545.4 1561.7l7.8 4 3-0.3-7.8-3.1zM1553.2 1565.7l7.8 4.8 3-8.6-7.8 3.5zM1561 1570.5l7.8-3 3-4.5-7.8-1.1zM1568.8 1567.5l7.8 2.7 3-1.1-7.8-6.1zM1576.6 1570.2l7.8-0.7 3-1.2-7.8 0.8zM1584.4 1569.5l7.8 2.6 3-7-7.8 3.2zM1592.2 1572.1l7.8 3.5 3-4.7-7.8-5.8zM1600 1575.6l7.8 0 3-3.2-7.8-1.5zM1027.5 1578.8l7.8-0.4 3.1-7.5-7.8 4.7zM1035.3 1578.4l7.8-5.6 3.1-7.8-7.8 5.9zM1043.1 1572.8l7.8-2.6 3.1-0.3-7.8-4.9zM1050.9 1570.2l7.8-1.9 3.1-3.1-7.8 4.7zM1058.7 1568.3l7.8 7.7 3.1-12-7.8 1.2zM1066.5 1576l7.8-6.4 3.1-4.4-7.8-1.2z"/>
<path fill="#0011e6" d="M1074.3 1569.6l7.8-4.1 3.1-3.2-7.8 2.9zM1082.1 1565.5l7.8-3.2 3.1-8.5-7.8 8.5zM1089.9 1562.3l7.8-0.5 3.1-7.9-7.8-0.1zM1097.7 1561.8l7.8-7.6 3.1-8.8-7.8 8.5z"/>
<path fill="#0033f6" d="M1105.5 1554.2l7.8-27.3 3.1-47.4-7.8 65.9z"/>
<path fill="#009dff" d="M1113.3 1526.9l7.8-75 3.1-43.6-7.8 71.2z"/>
<path fill="#00ffff" d="M1121.1 1451.9l7.8-65.4 3.1-45.8-7.8 67.6z"/>
<path fill="#50ffaa" d="M1128.9 1386.5l7.8-63.5 3.1-37.8-7.8 55.5z"/>
<path fill="#ccf050" d="M1136.7 1323l7.8-45.5 3.1-45.7-7.8 53.4z"/>
<path fill="#f2ee14" d="M1144.5 1277.5l7.8-66 3.1-13.2-7.8 33.5z"/>
<path fill="#ffb700" d="M1152.3 1211.5l7.8-9.3 3.1-39.9-7.8 36z"/>
<path fill="#ff9c00" d="M1160.1 1202.2l7.8-37.8 3.1 0.7-7.8-2.8z"/>
<path fill="#ff8000" d="M1175.7 1157.6l7.8 13.6 3.1-30.3-7.8 16.2zM1183.5 1171.2l7.8-9.8 3.1 25-7.8-45.5z"/>
<path fill="#4a4a4a" stroke-width="3.2" d="M1191.3 1161.4l7.8 10.4 3.1 41.5-7.8-26.9z"/>
<path fill="#00eeff" d="M1238.1 1337.3l7.8 118.9 3.1 15.9-7.8-91.3z"/>
<path fill="#0044ff" d="M1245.9 1456.2l7.8 102.7 3.1-8.6-7.8-78.2z"/>
<path fill="#0011e6" d="M1253.7 1558.9l7.8 4.5 3.1-7.2-7.8-5.9zM1261.5 1563.4l7.8-0.6 3.1-1.3-7.8-5.3zM1269.3 1562.8l7.8 2.8 3.1-0.3-7.8-3.8z"/>
<path fill="#0000dd" d="M1277.1 1565.6l7.8 5.3 3.1-5.8-7.8 0.2zM1284.9 1570.9l7.8 0.3 3.1-2.5-7.8-3.6zM1292.7 1571.2l7.8 0.4 3.1 0-7.8-2.9zM1308.3 1570.4l7.8 6.7 3.1-2.3-7.8-1.7zM1316.1 1577.1l7.8 1.7 3.1-3.2-7.8-0.8zM1323.9 1578.8l7.8-2.2 3.1-1.7-7.8 0.7zM1331.7 1576.6l7.8-1.8 3.1-0.2-7.8 0.3zM1339.5 1574.8l7.8-1.7 3.1-3.1-7.8 4.6z"/>
<path fill="#4a4a4a" stroke-width="3.2" d="M1347.3 1573.1l7.8-3.7 3.1 3.6-7.8-3z"/>
<path fill="#0000dd" d="M1355.1 1569.4l7.8 2.4 3.1-6-7.8 7.2zM1362.9 1571.8l7.8-1.4 3.1-9.7-7.8 5.1z"/>
<path fill="#0011e6" d="M1370.7 1570.4l7.8-6.5 3.1-6.6-7.8 3.4zM1378.5 1563.9l7.8-1.3 3.1-8.2-7.8 2.9zM1386.3 1562.6l7.8-10.1 3.1-1.1-7.8 3z"/>
<path fill="#0033f6" d="M1394.1 1552.5l7.8-7.5 3.1-91.5-7.8 97.9z"/>
<path fill="#00ddff" d="M1401.9 1545l7.8-137.1 3.1-85.5-7.8 131.1z"/>
<path fill="#8ef87d" d="M1409.7 1407.9l7.8-140.5 3.1-40.8-7.8 95.8z"/>
<path fill="#ff4000" d="M1433.1 1097.9l7.8 77.4 3.1-9.7-7.8-57.4z"/>
<path fill="#ffb700" d="M1440.9 1175.3l7.8 44.2 3.1-37.7-7.8-16.2z"/>
<path fill="#ffd200" d="M1448.7 1219.5l7.8 15 3.1-35.9-7.8-16.8z"/>
<path fill="#f2ee14" d="M1456.5 1234.5l7.8 32.9 3.1-28.4-7.8-40.4z"/>
<path fill="#d9f03c" d="M1464.3 1267.4l7.8 18.3 3.1-22.7-7.8-24z"/>
<path fill="#adf466" d="M1472.1 1285.7l7.8 33.8 3.1-22.8-7.8-33.7z"/>
<path fill="#50ffaa" d="M1479.9 1319.5l7.8 49.9 3.1-33.5-7.8-39.2z"/>
<path fill="#14ffea" d="M1487.7 1369.4l7.8 51.4 3.1-32.9-7.8-52z"/>
<path fill="#00ddff" d="M1495.5 1420.8l7.8 55.9 3.1-40.2-7.8-48.6z"/>
<path fill="#0080ff" d="M1503.3 1476.7l7.8 74.8 3.1-59.2-7.8-55.8z"/>
<path fill="#0033f6" d="M1511.1 1551.5l7.8 2.7 3.1-6.4-7.8-55.5z"/>
<path fill="#0011e6" d="M1518.9 1554.2l7.8 0.5 3.1-4.7-7.8-2.2zM1526.7 1554.7l7.8 8.2 3.1-7-7.8-5.9zM1534.5 1562.9l7.8 5.8 3.1-7-7.8-5.8zM1542.3 1568.7l7.8-1.8 3.1-1.2-7.8-4z"/>
<path fill="#0000dd" d="M1550.1 1566.9l7.8 5.7 3.1-2.1-7.8-4.8zM1557.9 1572.6l7.8 2.8 3.1-7.9-7.8 3zM1565.7 1575.4l7.8-3.8 3.1-1.4-7.8-2.7zM1573.5 1571.6l7.8 2.4 3.1-4.5-7.8 0.7zM1581.3 1574l7.8 3.6 3.1-5.5-7.8-2.6zM1589.1 1577.6l7.8 1.2 3.1-3.2-7.8-3.5zM1024.4 1582l7.8-4 3.1 0.4-7.8 0.4zM1032.2 1578l7.8-1.9 3.1-3.3-7.8 5.6zM1040 1576.1l7.8 1.6 3.1-7.5-7.8 2.6zM1047.8 1577.7l7.8-2.7 3.1-6.7-7.8 1.9zM1055.6 1575l7.8-2.3 3.1 3.3-7.8-7.7zM1063.4 1572.7l7.8 2.2 3.1-5.3-7.8 6.4z"/>
<path fill="#0011e6" d="M1071.2 1574.9l7.8-8.4 3.1-1-7.8 4.1zM1079 1566.5l7.8 2.2 3.1-6.4-7.8 3.2zM1086.8 1568.7l7.8-2.5 3.1-4.4-7.8 0.5zM1094.6 1566.2l7.8-9 3.1-3-7.8 7.6z"/>
<path fill="#0022ee" d="M1102.4 1557.2l7.8 3.9 3.1-34.2-7.8 27.3z"/>
<path fill="#0062ff" d="M1110.2 1561.1l7.8-63.2 3.1-46-7.8 75z"/>
<path fill="#00ccff" d="M1118 1497.9l7.8-68.6 3.1-42.8-7.8 65.4z"/>
<path fill="#28ffd4" d="M1125.8 1429.3l7.8-67.3 3.1-39-7.8 63.5z"/>
<path fill="#6ffb94" d="M1133.6 1362l7.8-45.7 3.1-38.8-7.8 45.5z"/>
<path fill="#d9f03c" d="M1141.4 1316.3l7.8-46.7 3.1-58.1-7.8 66z"/>
<path fill="#ffee00" d="M1149.2 1269.6l7.8-47.3 3.1-20.1-7.8 9.3z"/>
<path fill="#ffb700" d="M1157 1222.3l7.8-32.1 3.1-25.8-7.8 37.8z"/>
<path fill="#ff9c00" d="M1164.8 1190.2l7.8-14.5 3.1-18.1-7.8 6.8zM1172.6 1175.7l7.8 7.2 3.1-11.7-7.8-13.6z"/>
<path fill="#4a4a4a" stroke-width="3.2" d="M1180.4 1182.9l7.8-25.5 3.1 4-7.8 9.8z"/>
<path fill="#ff8000" d="M1188.2 1157.4l7.8 15.1 3.1-0.7-7.8-10.4z"/>
<path fill="#8ef87d" d="M1227.2 1279l7.8 81 3.1-22.7-7.8-40.8z"/>
<path fill="#00eeff" d="M1235 1360l7.8 117.8 3.1-21.6-7.8-118.9z"/>
<path fill="#0044ff" d="M1242.8 1477.8l7.8 83.7 3.1-2.6-7.8-102.7z"/>
<path fill="#0011e6" d="M1250.6 1561.5l7.8 1.1 3.1 0.8-7.8-4.5zM1258.4 1562.6l7.8 4.1 3.1-3.9-7.8 0.6zM1266.2 1566.7l7.8 5 3.1-6.1-7.8-2.8z"/>
<path fill="#0000dd" d="M1274 1571.7l7.8 3.4 3.1-4.2-7.8-5.3zM1281.8 1575.1l7.8 0.1 3.1-4-7.8-0.3zM1289.6 1575.2l7.8 2.8 3.1-6.4-7.8-0.4zM1297.4 1578l7.8 0.2 3.1-7.8-7.8 1.2zM1305.2 1578.2l7.8 1 3.1-2.1-7.8-6.7zM1313 1579.2l7.8 2.8 3.1-3.2-7.8-1.7zM1320.8 1582l7.8-4.5 3.1-0.9-7.8 2.2zM1328.6 1577.5l7.8 0.8 3.1-3.5-7.8 1.8zM1336.4 1578.3l7.8-2.6 3.1-2.6-7.8 1.7zM1344.2 1575.7l7.8 4.5 3.1-10.8-7.8 3.7zM1352 1580.2l7.8-5.1 3.1-3.3-7.8-2.4zM1359.8 1575.1l7.8-1.5 3.1-3.2-7.8 1.4zM1367.6 1573.6l7.8-3.1 3.1-6.6-7.8 6.5z"/>
<path fill="#0011e6" d="M1375.4 1570.5l7.8-2.3 3.1-5.6-7.8 1.3zM1383.2 1568.2l7.8-5.1 3.1-10.6-7.8 10.1zM1391 1563.1l7.8-3.4 3.1-14.7-7.8 7.5z"/>
<path fill="#0062ff" d="M1398.8 1559.7l7.8-76.4 3.1-75.4-7.8 137.1z"/>
<path fill="#14ffea" d="M1406.6 1483.3l7.8-129.4 3.1-86.5-7.8 140.5z"/>
<path fill="#f2ee14" d="M1414.4 1353.9l7.8-148.8 3.1-68.9-7.8 131.2z"/>
<path fill="#ff6000" d="M1422.2 1205.1l7.8-52.7 3.1-54.5-7.8 38.3zM1430 1152.4l7.8 43.1 3.1-20.2-7.8-77.4z"/>
<path fill="#ffd200" d="M1437.8 1195.5l7.8 28.1 3.1-4.1-7.8-44.2z"/>
<path fill="#f2ee14" d="M1445.6 1223.6l7.8 50.1 3.1-39.2-7.8-15z"/>
<path fill="#d9f03c" d="M1453.4 1273.7l7.8 9.1 3.1-15.4-7.8-32.9z"/>
<path fill="#adf466" d="M1461.2 1282.8l7.8 41.4 3.1-38.5-7.8-18.3z"/>
<path fill="#6ffb94" d="M1469 1324.2l7.8 32.3 3.1-37-7.8-33.8z"/>
<path fill="#28ffd4" d="M1476.8 1356.5l7.8 51.3 3.1-38.4-7.8-49.9z"/>
<path fill="#00eeff" d="M1484.6 1407.8l7.8 49 3.1-36-7.8-51.4z"/>
<path fill="#009dff" d="M1492.4 1456.8l7.8 71.9 3.1-52-7.8-55.9z"/>
<path fill="#0033f6" d="M1500.2 1528.7l7.8 31.1 3.1-8.3-7.8-74.8z"/>
<path fill="#0011e6" d="M1508 1559.8l7.8 2.2 3.1-7.8-7.8-2.7zM1515.8 1562l7.8 1.6 3.1-8.9-7.8-0.5zM1523.6 1563.6l7.8 4.1 3.1-4.8-7.8-8.2zM1531.4 1567.7l7.8 2.9 3.1-1.9-7.8-5.8z"/>
<path fill="#0000dd" d="M1539.2 1570.6l7.8 3.2 3.1-6.9-7.8 1.8zM1547 1573.8l7.8 0.3 3.1-1.5-7.8-5.7zM1554.8 1574.1l7.8 1.3 3.1 0-7.8-2.8zM1562.6 1575.4l7.8 3.2 3.1-7-7.8 3.8zM1570.4 1578.6l7.8 2.5 3.1-7.1-7.8-2.4zM1578.2 1581.1l7.8 0.9 3.1-4.4-7.8-3.6zM1021.4 1585.2l7.8 0 3-7.2-7.8 4zM1029.2 1585.2l7.8-1.6 3-7.5-7.8 1.9zM1037 1583.6l7.8 0.4 3-6.3-7.8-1.6zM1044.8 1584l7.8-0.9 3-8.1-7.8 2.7zM1052.6 1583.1l7.8-3.9 3-6.5-7.8 2.3zM1060.4 1579.2l7.8 1.7 3-6-7.8-2.2zM1068.2 1580.9l7.8-1 3-13.4-7.8 8.4z"/>
<path fill="#0011e6" d="M1076 1579.9l7.8-6 3-5.2-7.8-2.2zM1083.8 1573.9l7.8-4 3-3.7-7.8 2.5zM1091.6 1569.9l7.8-4.4 3-8.3-7.8 9zM1099.4 1565.5l7.8-2.2 3-2.2-7.8-3.9z"/>
<path fill="#0022ee" d="M1107.2 1563.3l7.8-10.9 3-54.5-7.8 63.2z"/>
<path fill="#0080ff" d="M1115 1552.4l7.8-75.8 3-47.3-7.8 68.6z"/>
<path fill="#00eeff" d="M1122.8 1476.6l7.8-63.6 3-51-7.8 67.3z"/>
<path fill="#3cffbf" d="M1130.6 1413l7.8-62.9 3-33.8-7.8 45.7z"/>
<path fill="#8ef87d" d="M1138.4 1350.1l7.8-39.4 3-41.1-7.8 46.7z"/>
<path fill="#d9f03c" d="M1146.2 1310.7l7.8-46.5 3-41.9-7.8 47.3z"/>
<path fill="#ffee00" d="M1154 1264.2l7.8-52.7 3-21.3-7.8 32.1z"/>
<path fill="#ffb700" d="M1161.8 1211.5l7.8-17.2 3-18.6-7.8 14.5z"/>
<path fill="#4a4a4a" stroke-width="3.2" d="M1169.6 1194.3l7.8-37.9 3 26.5-7.8-7.2zM1177.4 1156.4l7.8 15.1 3-14.1-7.8 25.5z"/>
<path fill="#ff8000" d="M1185.2 1171.5l7.8-10.2 3 11.2-7.8-15.1z"/>
<path fill="#ff9c00" d="M1193 1161.3l7.8 32.4 3 13.7-7.8-34.9z"/>
<path fill="#e6ef28" d="M1216.4 1211.1l7.8 64.2 3 3.7-7.8-49.1z"/>
<path fill="#6ffb94" d="M1224.2 1275.3l7.8 113 3-28.3-7.8-81z"/>
<path fill="#00ddff" d="M1232 1388.3l7.8 120.9 3-31.4-7.8-117.8z"/>
<path fill="#0044ff" d="M1239.8 1509.2l7.8 50.4 3 1.9-7.8-83.7z"/>
<path fill="#0011e6" d="M1247.6 1559.6l7.8 8.3 3-5.3-7.8-1.1zM1255.4 1567.9l7.8 5.8 3-7-7.8-4.1zM1263.2 1573.7l7.8-1.6 3-0.4-7.8-5z"/>
<path fill="#0000dd" d="M1271 1572.1l7.8 3.5 3-0.5-7.8-3.4zM1278.8 1575.6l7.8 3.5 3-3.9-7.8-0.1zM1286.6 1579.1l7.8 4.1 3-5.2-7.8-2.8zM1294.4 1583.2l7.8-3.1 3-1.9-7.8-0.2zM1302.2 1580.1l7.8 3.2 3-4.1-7.8-1zM1310 1583.3l7.8 1.9 3-3.2-7.8-2.8zM1317.8 1585.2l7.8-4 3-3.7-7.8 4.5zM1325.6 1581.2l7.8-0.6 3-2.3-7.8-0.8zM1333.4 1580.6l7.8-2.7 3-2.2-7.8 2.6zM1341.2 1577.9l7.8 0 3 2.3-7.8-4.5z"/>
<path fill="#4a4a4a" stroke-width="3.2" d="M1349 1577.9l7.8-0.2 3-2.6-7.8 5.1z"/>
<path fill="#0000dd" d="M1356.8 1577.7l7.8-2.9 3-1.2-7.8 1.5zM1364.6 1574.8l7.8 1.8 3-6.1-7.8 3.1z"/>
<path fill="#0011e6" d="M1372.4 1576.6l7.8-7.6 3-0.8-7.8 2.3zM1380.2 1569l7.8-1.6 3-4.3-7.8 5.1zM1388 1567.4l7.8-3.1 3-4.6-7.8 3.4z"/>
<path fill="#0033f6" d="M1395.8 1564.3l7.8-6.7 3-74.3-7.8 76.4z"/>
<path fill="#00bbff" d="M1403.6 1557.6l7.8-114.1 3-89.6-7.8 129.4z"/>
<path fill="#6ffb94" d="M1411.4 1443.5l7.8-112.5 3-125.9-7.8 148.8z"/>
<path fill="#f2ee14" d="M1419.2 1331l7.8-80.1 3-98.5-7.8 52.7z"/>
<path fill="#ffd200" d="M1427 1250.9l7.8-21.3 3-34.1-7.8-43.1z"/>
<path fill="#ffee00" d="M1434.8 1229.6l7.8 26.6 3-32.6-7.8-28.1z"/>
<path fill="#e6ef28" d="M1442.6 1256.2l7.8 15.8 3 1.7-7.8-50.1z"/>
<path fill="#ccf050" d="M1450.4 1272l7.8 45.5 3-34.7-7.8-9.1z"/>
<path fill="#8ef87d" d="M1458.2 1317.5l7.8 37.8 3-31.1-7.8-41.4z"/>
<path fill="#3cffbf" d="M1466 1355.3l7.8 42.3 3-41.1-7.8-32.3z"/>
<path fill="#00ffff" d="M1473.8 1397.6l7.8 45.9 3-35.7-7.8-51.3z"/>
<path fill="#00ccff" d="M1481.6 1443.5l7.8 58.8 3-45.5-7.8-49z"/>
<path fill="#0062ff" d="M1489.4 1502.3l7.8 59.4 3-33-7.8-71.9z"/>
<path fill="#0022ee" d="M1497.2 1561.7l7.8 0.2 3-2.1-7.8-31.1z"/>
<path fill="#0011e6" d="M1505 1561.9l7.8 1.6 3-1.5-7.8-2.2zM1512.8 1563.5l7.8 3.4 3-3.3-7.8-1.6zM1520.6 1566.9l7.8 7.7 3-6.9-7.8-4.1zM1528.4 1574.6l7.8 1 3-5-7.8-2.9z"/>
<path fill="#0000dd" d="M1536.2 1575.6l7.8 0.7 3-2.5-7.8-3.2zM1544 1576.3l7.8 0.3 3-2.5-7.8-0.3zM1551.8 1576.6l7.8 1 3-2.2-7.8-1.3zM1559.6 1577.6l7.8 4.5 3-3.5-7.8-3.2zM1567.4 1582.1l7.8-2.6 3 1.6-7.8-2.5zM1575.2 1579.5l7.8 5.7 3-3.2-7.8-0.9zM1026.1 1588.3l7.8-0.8 3.1-3.9-7.8 1.6zM1033.9 1587.5l7.8-4.9 3.1 1.4-7.8-0.4z"/>
<path fill="#4a4a4a" stroke-width="3.2" d="M1041.7 1582.6l7.8 1.4 3.1-0.9-7.8 0.9z"/>
<path fill="#0000dd" d="M1049.5 1584l7.8 1.7 3.1-6.5-7.8 3.9zM1057.3 1585.7l7.8-7.1 3.1 2.3-7.8-1.7z"/>
<path fill="#0011e6" d="M1080.7 1574.9l7.8 1.9 3.1-6.9-7.8 4zM1088.5 1576.8l7.8-7.5 3.1-3.8-7.8 4.4zM1096.3 1569.3l7.8-5.2 3.1-0.8-7.8 2.2zM1104.1 1564.1l7.8 3 3.1-14.7-7.8 10.9z"/>
<path fill="#0033f6" d="M1111.9 1567.1l7.8-35 3.1-55.5-7.8 75.8z"/>
<path fill="#00bbff" d="M1119.7 1532.1l7.8-68.9 3.1-50.2-7.8 63.6z"/>
<path fill="#00ffff" d="M1127.5 1463.2l7.8-60.6 3.1-52.5-7.8 62.9z"/>
<path fill="#50ffaa" d="M1135.3 1402.6l7.8-56.1 3.1-35.8-7.8 39.4z"/>
<path fill="#adf466" d="M1143.1 1346.5l7.8-59.4 3.1-22.9-7.8 46.5z"/>
<path fill="#e6ef28" d="M1150.9 1287.1l7.8-33.8 3.1-41.8-7.8 52.7z"/>
<path fill="#ffd200" d="M1158.7 1253.3l7.8-39.9 3.1-19.1-7.8 17.2z"/>
<path fill="#ff9c00" d="M1166.5 1213.4l7.8-26.1 3.1-30.9-7.8 37.9z"/>
<path fill="#ff8000" d="M1174.3 1187.3l7.8-15.4 3.1-0.4-7.8-15.1zM1182.1 1171.9l7.8 14.9 3.1-25.5-7.8 10.2z"/>
<path fill="#4a4a4a" stroke-width="3.2" d="M1189.9 1186.8l7.8-30.3 3.1 37.2-7.8-32.4z"/>
<path fill="#ffb700" d="M1205.5 1181l7.8 39.4 3.1-9.3-7.8-5.5z"/>
<path fill="#e6ef28" d="M1213.3 1220.4l7.8 89.1 3.1-34.2-7.8-64.2z"/>
<path fill="#50ffaa" d="M1221.1 1309.5l7.8 103.6 3.1-24.8-7.8-113z"/>
<path fill="#00bbff" d="M1228.9 1413.1l7.8 126.1 3.1-30-7.8-120.9z"/>
<path fill="#0033f6" d="M1236.7 1539.2l7.8 30 3.1-9.6-7.8-50.4z"/>
<path fill="#0011e6" d="M1244.5 1569.2l7.8 3 3.1-4.3-7.8-8.3zM1252.3 1572.2l7.8 7.9 3.1-6.4-7.8-5.8z"/>
<path fill="#0000dd" d="M1260.1 1580.1l7.8-0.5 3.1-7.5-7.8 1.6zM1267.9 1579.6l7.8 3.7 3.1-7.7-7.8-3.5zM1275.7 1583.3l7.8-4.5 3.1 0.3-7.8-3.5zM1283.5 1578.8l7.8 5.6 3.1-1.2-7.8-4.1zM1291.3 1584.4l7.8 3 3.1-7.3-7.8 3.1zM1299.1 1587.4l7.8 0.9 3.1-5-7.8-3.2zM1306.9 1588.3l7.8 0 3.1-3.1-7.8-1.9zM1314.7 1588.3l7.8 0 3.1-7.1-7.8 4zM1322.5 1588.3l7.8-3.9 3.1-3.8-7.8 0.6zM1330.3 1584.4l7.8-2.6 3.1-3.9-7.8 2.7zM1338.1 1581.8l7.8 2.8 3.1-6.7-7.8 0zM1345.9 1584.6l7.8 1.5 3.1-8.4-7.8 0.2zM1353.7 1586.1l7.8-4.6 3.1-6.7-7.8 2.9zM1361.5 1581.5l7.8-1.9 3.1-3-7.8-1.8z"/>
<path fill="#0011e6" d="M1369.3 1579.6l7.8-2.9 3.1-7.7-7.8 7.6zM1377.1 1576.7l7.8-1 3.1-8.3-7.8 1.6zM1384.9 1575.7l7.8-7.9 3.1-3.5-7.8 3.1zM1392.7 1567.8l7.8-2.6 3.1-7.6-7.8 6.7z"/>
<path fill="#0044ff" d="M1400.5 1565.2l7.8-10.7 3.1-111-7.8 114.1z"/>
<path fill="#00ccff" d="M1408.3 1554.5l7.8-109.3 3.1-114.2-7.8 112.5z"/>
<path fill="#50ffaa" d="M1416.1 1445.2l7.8-108.9 3.1-85.4-7.8 80.1z"/>
<path fill="#d9f03c" d="M1423.9 1336.3l7.8-68.3 3.1-38.4-7.8 21.3z"/>
<path fill="#e6ef28" d="M1431.7 1268l7.8 17.5 3.1-29.3-7.8-26.6z"/>
<path fill="#ccf050" d="M1439.5 1285.5l7.8 31.8 3.1-45.3-7.8-15.8z"/>
<path fill="#8ef87d" d="M1447.3 1317.3l7.8 32.3 3.1-32.1-7.8-45.5z"/>
<path fill="#50ffaa" d="M1455.1 1349.6l7.8 43.8 3.1-38.1-7.8-37.8z"/>
<path fill="#14ffea" d="M1462.9 1393.4l7.8 45.3 3.1-41.1-7.8-42.3z"/>
<path fill="#00ddff" d="M1470.7 1438.7l7.8 51.2 3.1-46.4-7.8-45.9z"/>
<path fill="#0080ff" d="M1478.5 1489.9l7.8 70.2 3.1-57.8-7.8-58.8z"/>
<path fill="#0022ee" d="M1486.3 1560.1l7.8 4.9 3.1-3.3-7.8-59.4z"/>
<path fill="#0011e6" d="M1494.1 1565l7.8-1.5 3.1-1.6-7.8-0.2zM1501.9 1563.5l7.8 11.4 3.1-11.4-7.8-1.6zM1509.7 1574.9l7.8 0.2 3.1-8.2-7.8-3.4zM1517.5 1575.1l7.8 3.1 3.1-3.6-7.8-7.7z"/>
<path fill="#0000dd" d="M1525.3 1578.2l7.8 0.1 3.1-2.7-7.8-1zM1533.1 1578.3l7.8 1.5 3.1-3.5-7.8-0.7zM1540.9 1579.8l7.8 5.5 3.1-8.7-7.8-0.3zM1548.7 1585.3l7.8-0.1 3.1-7.6-7.8-1zM1556.5 1585.2l7.8-1.6 3.1-1.5-7.8-4.5zM1564.3 1583.6l7.8 4.7 3.1-8.8-7.8 2.6zM1572.1 1588.3l7.8 0 3.1-3.1-7.8-5.7zM1030.8 1591.5l7.8-0.8 3.1-8.1-7.8 4.9zM1038.6 1590.7l7.8 0.4 3.1-7.1-7.8-1.4zM1046.4 1591.1l7.8-3.9 3.1-1.5-7.8-1.7zM1054.2 1587.2l7.8 2 3.1-10.6-7.8 7.1zM1062 1589.2l7.8-6.6 3.1-3.5-7.8-0.5zM1069.8 1582.6l7.8 1.3 3.1-9-7.8 4.2zM1077.6 1583.9l7.8-3.6 3.1-3.5-7.8-1.9z"/>
<path fill="#0011e6" d="M1085.4 1580.3l7.8-8 3.1-3-7.8 7.5zM1093.2 1572.3l7.8-0.9 3.1-7.3-7.8 5.2zM1101 1571.4l7.8-1.9 3.1-2.4-7.8-3z"/>
<path fill="#0022ee" d="M1108.8 1569.5l7.8-1.8 3.1-35.6-7.8 35z"/>
<path fill="#0044ff" d="M1116.6 1567.7l7.8-48.9 3.1-55.6-7.8 68.9z"/>
<path fill="#00ccff" d="M1124.4 1518.8l7.8-63.3 3.1-52.9-7.8 60.6z"/>
<path fill="#14ffea" d="M1132.2 1455.5l7.8-56.5 3.1-52.5-7.8 56.1z"/>
<path fill="#6ffb94" d="M1140 1399l7.8-62.3 3.1-49.6-7.8 59.4z"/>
<path fill="#ccf050" d="M1147.8 1336.7l7.8-42.3 3.1-41.1-7.8 33.8z"/>
<path fill="#f2ee14" d="M1155.6 1294.4l7.8-51.8 3.1-29.2-7.8 39.9z"/>
<path fill="#ffd200" d="M1163.4 1242.6l7.8-17.1 3.1-38.2-7.8 26.1z"/>
<path fill="#ff9c00" d="M1171.2 1225.5l7.8-36.9 3.1-16.7-7.8 15.4zM1179 1188.6l7.8 18.7 3.1-20.5-7.8-14.9zM1186.8 1207.3l7.8-12.2 3.1-38.6-7.8 30.3zM1194.6 1195.1l7.8 25.8 3.1-39.9-7.8-24.5z"/>
<path fill="#ffd200" d="M1202.4 1220.9l7.8 30 3.1-30.5-7.8-39.4z"/>
<path fill="#d9f03c" d="M1210.2 1250.9l7.8 84.6 3.1-26-7.8-89.1z"/>
<path fill="#28ffd4" d="M1218 1335.5l7.8 106.2 3.1-28.6-7.8-103.6z"/>
<path fill="#009dff" d="M1225.8 1441.7l7.8 125.2 3.1-27.7-7.8-126.1z"/>
<path fill="#0022ee" d="M1233.6 1566.9l7.8 1.1 3.1 1.2-7.8-30z"/>
<path fill="#0011e6" d="M1241.4 1568l7.8 9.2 3.1-5-7.8-3zM1249.2 1577.2l7.8 2.6 3.1 0.3-7.8-7.9z"/>
<path fill="#0000dd" d="M1257 1579.8l7.8 7.3 3.1-7.5-7.8 0.5zM1264.8 1587.1l7.8 1 3.1-4.8-7.8-3.7zM1272.6 1588.1l7.8 2.4 3.1-11.7-7.8 4.5zM1280.4 1590.5l7.8-4.9 3.1-1.2-7.8-5.6zM1288.2 1585.6l7.8 3.9 3.1-2.1-7.8-3zM1296 1589.5l7.8 2 3.1-3.2-7.8-0.9zM1319.4 1591.5l7.8 0 3.1-7.1-7.8 3.9zM1327.2 1591.5l7.9-4.9 3-4.8-7.8 2.6zM1335.1 1586.6l7.7 0 3.1-2-7.8-2.8zM1342.8 1586.6l7.8-1.8 3.1 1.3-7.8-1.5zM1358.4 1583.1l7.8 0.1 3.1-3.6-7.8 1.9zM1366.2 1583.2l7.9 0 3-6.5-7.8 2.9zM1374.1 1583.2l7.7-3.3 3.1-4.2-7.8 1z"/>
<path fill="#0011e6" d="M1381.8 1579.9l7.8-3.1 3.1-9-7.8 7.9zM1389.6 1576.8l7.8-3.2 3.1-8.4-7.8 2.6zM1397.4 1573.6l7.8-6.3 3.1-12.8-7.8 10.7z"/>
<path fill="#0044ff" d="M1405.2 1567.3l7.9-29 3-93.1-7.8 109.3z"/>
<path fill="#00ddff" d="M1413.1 1538.3l7.7-131.4 3.1-70.6-7.8 108.9z"/>
<path fill="#6ffb94" d="M1420.8 1406.9l7.8-70.5 3.1-68.4-7.8 68.3z"/>
<path fill="#adf466" d="M1428.6 1336.4l7.8-1 3.1-49.9-7.8-17.5z"/>
<path fill="#8ef87d" d="M1436.4 1335.4l7.8 19.2 3.1-37.3-7.8-31.8z"/>
<path fill="#50ffaa" d="M1444.2 1354.6l7.9 46.7 3-51.7-7.8-32.3z"/>
<path fill="#14ffea" d="M1452.1 1401.3l7.7 51.3 3.1-59.2-7.8-43.8z"/>
<path fill="#00ccff" d="M1459.8 1452.6l7.8 47.7 3.1-61.6-7.8-45.3z"/>
<path fill="#0080ff" d="M1467.6 1500.3l7.8 50.4 3.1-60.8-7.8-51.2z"/>
<path fill="#0033f6" d="M1475.4 1550.7l7.8 16 3.1-6.6-7.8-70.2z"/>
<path fill="#0011e6" d="M1483.2 1566.7l7.9 6.8 3-8.5-7.8-4.9zM1491.1 1573.5l7.7 3.4 3.1-13.4-7.8 1.5zM1498.8 1576.9l7.8 2 3.1-4-7.8-11.4zM1506.6 1578.9l7.8 0.6 3.1-4.4-7.8-0.2z"/>
<path fill="#0000dd" d="M1514.4 1579.5l7.8 6.1 3.1-7.4-7.8-3.1zM1522.2 1585.6l7.9 0.7 3-8-7.8-0.1zM1530.1 1586.3l7.7 1.1 3.1-7.6-7.8-1.5zM1537.8 1587.4l7.8-3.7 3.1 1.6-7.8-5.5zM1545.6 1583.7l7.8 3.2 3.1-1.7-7.8 0.1zM1553.4 1586.9l7.8 0.4 3.1-3.7-7.8 1.6zM1561.2 1587.3l7.9 4.2 3-3.2-7.8-4.7zM1027.8 1594.7l7.8-2.4 3-1.6-7.8 0.8zM1035.6 1592.3l7.8-0.2 3-1-7.8-0.4zM1051.2 1587.9l7.8-0.2 3 1.5-7.8-2zM1059 1587.7l7.8 1.8 3-6.9-7.8 6.6zM1066.8 1589.5l7.8-1.9 3-3.7-7.8-1.3zM1074.6 1587.6l7.8-4.6 3-2.7-7.8 3.6z"/>
<path fill="#0011e6" d="M1082.4 1583l7.8-2.6 3-8.1-7.8 8zM1090.2 1580.4l7.8-4.8 3-4.2-7.8 0.9zM1098 1575.6l7.8-2.2 3-3.9-7.8 1.9zM1105.8 1573.4l7.8-3.9 3-1.8-7.8 1.8z"/>
<path fill="#0022ee" d="M1113.6 1569.5l7.8-2 3-48.7-7.8 48.9z"/>
<path fill="#0062ff" d="M1121.4 1567.5l7.8-55.8 3-56.2-7.8 63.3z"/>
<path fill="#00ccff" d="M1129.2 1511.7l7.8-60.5 3-52.2-7.8 56.5z"/>
<path fill="#14ffea" d="M1137 1451.2l7.8-56.2 3-58.3-7.8 62.3z"/>
<path fill="#6ffb94" d="M1144.8 1395l7.8-57.6 3-43-7.8 42.3z"/>
<path fill="#ccf050" d="M1152.6 1337.4l7.8-34.3 3-60.5-7.8 51.8z"/>
<path fill="#f2ee14" d="M1160.4 1303.1l7.8-52 3-25.6-7.8 17.1z"/>
<path fill="#ffd200" d="M1168.2 1251.1l7.8-16 3-46.5-7.8 36.9z"/>
<path fill="#ffb700" d="M1176 1235.1l7.8-24.7 3-3.1-7.8-18.7z"/>
<path fill="#ffd200" d="M1183.8 1210.4l7.8 30.5 3-45.8-7.8 12.2zM1191.6 1240.9l7.8 6.2 3-26.2-7.8-25.8z"/>
<path fill="#f2ee14" d="M1199.4 1247.1l7.8 37.2 3-33.4-7.8-30z"/>
<path fill="#adf466" d="M1207.2 1284.3l7.8 69.4 3-18.2-7.8-84.6z"/>
<path fill="#14ffea" d="M1215 1353.7l7.8 109.1 3-21.1-7.8-106.2z"/>
<path fill="#0062ff" d="M1222.8 1462.8l7.8 108 3-3.9-7.8-125.2z"/>
<path fill="#0011e6" d="M1230.6 1570.8l7.8-0.7 3-2.1-7.8-1.1zM1238.4 1570.1l7.8 12.9 3-5.8-7.8-9.2zM1246.2 1583l7.8 1.8 3-5-7.8-2.6z"/>
<path fill="#4a4a4a" stroke-width="3.2" d="M1254 1584.8l7.8-4.4 3 6.7-7.8-7.3zM1261.8 1580.4l7.8 9.9 3-2.2-7.8-1z"/>
<path fill="#0000dd" d="M1269.6 1590.3l7.8-1.8 3 2-7.8-2.4zM1277.4 1588.5l7.8 3.7 3-6.6-7.8 4.9zM1285.2 1592.2l7.8-1.2 3-1.5-7.8-3.9zM1293 1591l7.8 3.7 3-3.2-7.8-2zM1324.2 1594.7l7.8-2.7 3.1-5.4-7.9 4.9zM1332 1592l7.8-0.2 3-5.2-7.7 0zM1339.8 1591.8l7.8-4.1 3-2.9-7.8 1.8zM1347.6 1587.7l7.8 4.4 3-9-7.8 1.7zM1355.4 1592.1l7.8-5 3-3.9-7.8-0.1zM1363.2 1587.1l7.8 0.5 3.1-4.4-7.9 0zM1371 1587.6l7.8-3.2 3-4.5-7.7 3.3z"/>
<path fill="#0011e6" d="M1378.8 1584.4l7.8-3.6 3-4-7.8 3.1zM1386.6 1580.8l7.8 0 3-7.2-7.8 3.2zM1394.4 1580.8l7.8-3.5 3-10-7.8 6.3z"/>
<path fill="#0022ee" d="M1402.2 1577.3l7.8-4.6 3.1-34.4-7.9 29z"/>
<path fill="#0062ff" d="M1410 1572.7l7.8-47.9 3-117.9-7.7 131.4z"/>
<path fill="#00eeff" d="M1417.8 1524.8l7.8-67.3 3-121.1-7.8 70.5z"/>
<path fill="#28ffd4" d="M1425.6 1457.5l7.8-38.3 3-83.8-7.8 1zM1433.4 1419.2l7.8 4.3 3-68.9-7.8-19.2z"/>
<path fill="#00ffff" d="M1441.2 1423.5l7.8 25.8 3.1-48-7.9-46.7z"/>
<path fill="#00ccff" d="M1449 1449.3l7.8 67.4 3-64.1-7.7-51.3z"/>
<path fill="#0062ff" d="M1456.8 1516.7l7.8 46.5 3-62.9-7.8-47.7z"/>
<path fill="#0033f6" d="M1464.6 1563.2l7.8 7.5 3-20-7.8-50.4z"/>
<path fill="#0022ee" d="M1472.4 1570.7l7.8 3.2 3-7.2-7.8-16z"/>
<path fill="#0011e6" d="M1480.2 1573.9l7.8 7.5 3.1-7.9-7.9-6.8zM1488 1581.4l7.8 4.1 3-8.6-7.7-3.4zM1495.8 1585.5l7.8-2.1 3-4.5-7.8-2z"/>
<path fill="#0000dd" d="M1503.6 1583.4l7.8 3.9 3-7.8-7.8-0.6zM1511.4 1587.3l7.8-1.6 3-0.1-7.8-6.1zM1519.2 1585.7l7.8 4.5 3.1-3.9-7.9-0.7zM1527 1590.2l7.8 1 3-3.8-7.7-1.1zM1534.8 1591.2l7.8 1 3-8.5-7.8 3.7zM1542.6 1592.2l7.8-1.9 3-3.4-7.8-3.2zM1550.4 1590.3l7.8 4.4 3-7.4-7.8-0.4zM1558.2 1594.7l7.8 0 3.1-3.2-7.9-4.2zM1024.7 1597.8l7.8 0 3.1-5.5-7.8 2.4zM1032.5 1597.8l7.8-6 3.1 0.3-7.8 0.2zM1040.3 1591.8l7.8 3.1 3.1-7-7.8 4.2zM1048.1 1594.9l7.8-4.7 3.1-2.5-7.8 0.2zM1055.9 1590.2l7.8-2.8 3.1 2.1-7.8-1.8zM1063.7 1587.4l7.8 2.5 3.1-2.3-7.8 1.9zM1071.5 1589.9l7.8-1.2 3.1-5.7-7.8 4.6z"/>
<path fill="#0011e6" d="M1079.3 1588.7l7.8-4.8 3.1-3.5-7.8 2.6zM1087.1 1583.9l7.8-3.7 3.1-4.6-7.8 4.8zM1094.9 1580.2l7.8 6.4 3.1-13.2-7.8 2.2zM1102.7 1586.6l7.8-12 3.1-5.1-7.8 3.9zM1110.5 1574.6l7.8-0.1 3.1-7-7.8 2z"/>
<path fill="#0022ee" d="M1118.3 1574.5l7.8-1.7 3.1-61.1-7.8 55.8z"/>
<path fill="#0062ff" d="M1126.1 1572.8l7.8-61.8 3.1-59.8-7.8 60.5z"/>
<path fill="#00ccff" d="M1133.9 1511l7.8-57.2 3.1-58.8-7.8 56.2z"/>
<path fill="#14ffea" d="M1141.7 1453.8l7.8-53.7 3.1-62.7-7.8 57.6z"/>
<path fill="#6ffb94" d="M1149.5 1400.1l7.8-50.4 3.1-46.6-7.8 34.3z"/>
<path fill="#ccf050" d="M1157.3 1349.7l7.8-47 3.1-51.6-7.8 52z"/>
<path fill="#e6ef28" d="M1165.1 1302.7l7.8-31.5 3.1-36.1-7.8 16z"/>
<path fill="#ffee00" d="M1172.9 1271.2l7.8-22.9 3.1-37.9-7.8 24.7zM1180.7 1248.3l7.8 4.7 3.1-12.1-7.8-30.5z"/>
<path fill="#f2ee14" d="M1188.5 1253l7.8 43.2 3.1-49.1-7.8-6.2z"/>
<path fill="#ccf050" d="M1196.3 1296.2l7.8 37.2 3.1-49.1-7.8-37.2z"/>
<path fill="#6ffb94" d="M1204.1 1333.4l7.8 44.4 3.1-24.1-7.8-69.4z"/>
<path fill="#00ffff" d="M1211.9 1377.8l7.8 104.9 3.1-19.9-7.8-109.1z"/>
<path fill="#0062ff" d="M1219.7 1482.7l7.8 89.6 3.1-1.5-7.8-108z"/>
<path fill="#0011e6" d="M1227.5 1572.3l7.8 10.1 3.1-12.3-7.8 0.7zM1235.3 1582.4l7.8-1.5 3.1 2.1-7.8-12.9zM1250.9 1583.4l7.8 4.8 3.1-7.8-7.8 4.4z"/>
<path fill="#0000dd" d="M1258.7 1588.2l7.8 4.6 3.1-2.5-7.8-9.9zM1266.5 1592.8l7.8 2.9 3.1-7.2-7.8 1.8zM1274.3 1595.7l7.8-2.4 3.1-1.1-7.8-3.7zM1282.1 1593.3l7.8-1.1 3.1-1.2-7.8 1.2zM1289.9 1592.2l7.8 5.6 3.1-3.1-7.8-3.7zM1321.1 1597.8l7.8 0 3.1-5.8-7.8 2.7zM1328.9 1597.8l7.8 0.2 3.1-6.2-7.8 0.2zM1336.7 1598l7.8-4.5 3.1-5.8-7.8 4.1zM1344.5 1593.5l7.8-1.3 3.1-0.1-7.8-4.4zM1352.3 1592.2l7.8 0.8 3.1-5.9-7.8 5zM1360.1 1593l7.8-2.5 3.1-2.9-7.8-0.5zM1367.9 1590.5l7.8-2.2 3.1-3.9-7.8 3.2zM1375.7 1588.3l7.8-0.9 3.1-6.6-7.8 3.6z"/>
<path fill="#0011e6" d="M1383.5 1587.4l7.8-2.4 3.1-4.2-7.8 0zM1391.3 1585l7.8-4 3.1-3.7-7.8 3.5zM1399.1 1581l7.8 0.5 3.1-8.8-7.8 4.6z"/>
<path fill="#0022ee" d="M1406.9 1581.5l7.8-9.9 3.1-46.8-7.8 47.9z"/>
<path fill="#0044ff" d="M1414.7 1571.6l7.8 0.7 3.1-114.8-7.8 67.3z"/>
<path fill="#009dff" d="M1422.5 1572.3l7.8-65.4 3.1-87.7-7.8 38.3z"/>
<path fill="#00ccff" d="M1430.3 1506.9l7.8-2.1 3.1-81.3-7.8-4.3z"/>
<path fill="#00bbff" d="M1438.1 1504.8l7.8 0.9 3.1-56.4-7.8-25.8z"/>
<path fill="#0080ff" d="M1445.9 1505.7l7.8 50.4 3.1-39.4-7.8-67.4z"/>
<path fill="#0033f6" d="M1453.7 1556.1l7.8 23.7 3.1-16.6-7.8-46.5z"/>
<path fill="#0011e6" d="M1461.5 1579.8l7.8-0.6 3.1-8.5-7.8-7.5zM1469.3 1579.2l7.8 8.8 3.1-14.1-7.8-3.2zM1477.1 1588l7.8-8.4 3.1 1.8-7.8-7.5zM1492.7 1581.4l7.8 5.2 3.1-3.2-7.8 2.1z"/>
<path fill="#0000dd" d="M1500.5 1586.6l7.8 10.5 3.1-9.8-7.8-3.9zM1508.3 1597.1l7.8-5.4 3.1-6-7.8 1.6zM1516.1 1591.7l7.8 5.6 3.1-7.1-7.8-4.5zM1523.9 1597.3l7.8-1.6 3.1-4.5-7.8-1zM1531.7 1595.7l7.8-1.9 3.1-1.6-7.8-1zM1539.5 1593.8l7.8 4 3.1-7.5-7.8 1.9zM1547.3 1597.8l7.8 0 3.1-3.1-7.8-4.4zM1029.5 1601l7.8-3.7 3-5.5-7.8 6zM1037.3 1597.3l7.8 4 3-6.4-7.8-3.1zM1045.1 1601.3l7.8-4.1 3-7-7.8 4.7zM1052.9 1597.2l7.8-0.6 3-9.2-7.8 2.8zM1060.7 1596.6l7.8-7.4 3 0.7-7.8-2.5zM1068.5 1589.2l7.8 6.1 3-6.6-7.8 1.2zM1076.3 1595.3l7.8-4.6 3-6.8-7.8 4.8z"/>
<path fill="#0011e6" d="M1084.1 1590.7l7.8-2.8 3-7.7-7.8 3.7zM1091.9 1587.9l7.8 2.1 3-3.4-7.8-6.4zM1099.7 1590l7.8-8.9 3-6.5-7.8 12zM1107.5 1581.1l7.8 1.1 3-7.7-7.8 0.1zM1115.3 1582.2l7.8-3.1 3-6.3-7.8 1.7z"/>
<path fill="#0022ee" d="M1123.1 1579.1l7.8-0.4 3-67.7-7.8 61.8z"/>
<path fill="#0062ff" d="M1130.9 1578.7l7.8-62 3-62.9-7.8 57.2z"/>
<path fill="#00ccff" d="M1138.7 1516.7l7.8-54.2 3-62.4-7.8 53.7z"/>
<path fill="#14ffea" d="M1146.5 1462.5l7.8-52.4 3-60.4-7.8 50.4z"/>
<path fill="#50ffaa" d="M1154.3 1410.1l7.8-43.1 3-64.3-7.8 47z"/>
<path fill="#adf466" d="M1162.1 1367l7.8-45.9 3-49.9-7.8 31.5z"/>
<path fill="#d9f03c" d="M1169.9 1321.1l7.8-13.9 3-58.9-7.8 22.9z"/>
<path fill="#e6ef28" d="M1177.7 1307.2l7.8-12.7 3-41.5-7.8-4.7z"/>
<path fill="#ccf050" d="M1185.5 1294.5l7.8 57.2 3-55.5-7.8-43.2z"/>
<path fill="#6ffb94" d="M1193.3 1351.7l7.8 42.1 3-60.4-7.8-37.2z"/>
<path fill="#28ffd4" d="M1201.1 1393.8l7.8 50.3 3-66.3-7.8-44.4z"/>
<path fill="#00ddff" d="M1208.9 1444.1l7.8 62.3 3-23.7-7.8-104.9z"/>
<path fill="#0044ff" d="M1216.7 1506.4l7.8 71.1 3-5.2-7.8-89.6z"/>
<path fill="#0011e6" d="M1224.5 1577.5l7.8 4.4 3 0.5-7.8-10.1zM1232.3 1581.9l7.8 3.1 3-4.1-7.8 1.5zM1240.1 1585l7.8 6 3-7.6-7.8-2.5z"/>
<path fill="#0000dd" d="M1247.9 1591l7.8 1.3 3-4.1-7.8-4.8zM1255.7 1592.3l7.8 4.2 3-3.7-7.8-4.6zM1263.5 1596.5l7.8 0.2 3-1-7.8-2.9zM1271.3 1596.7l7.8-0.2 3-3.2-7.8 2.4zM1279.1 1596.5l7.8 4.1 3-8.4-7.8 1.1zM1286.9 1600.6l7.8 0.4 3-3.2-7.8-5.6zM1333.7 1601l7.8-2.6 3-4.9-7.8 4.5zM1341.5 1598.4l7.8-0.9 3-5.3-7.8 1.3zM1349.3 1597.5l7.8-0.4 3-4.1-7.8-0.8zM1357.1 1597.1l7.8-1.1 3-5.5-7.8 2.5zM1364.9 1596l7.8-3.7 3-4-7.8 2.2zM1372.7 1592.3l7.8-2.5 3-2.4-7.8 0.9z"/>
<path fill="#0011e6" d="M1380.5 1589.8l7.8-3.7 3-1.1-7.8 2.4zM1388.3 1586.1l7.8 3.9 3-9-7.8 4zM1396.1 1590l7.8-6.6 3-1.9-7.8-0.5zM1403.9 1583.4l7.8 0.3 3-12.1-7.8 9.9zM1411.7 1583.7l7.8-6.6 3-4.8-7.8-0.7z"/>
<path fill="#0022ee" d="M1419.5 1577.1l7.8 2 3-72.2-7.8 65.4z"/>
<path fill="#0044ff" d="M1427.3 1579.1l7.8-4.4 3-69.9-7.8 2.1zM1435.1 1574.7l7.8 7 3-76-7.8-0.9z"/>
<path fill="#0033f6" d="M1442.9 1581.7l7.8-3.5 3-22.1-7.8-50.4z"/>
<path fill="#0022ee" d="M1450.7 1578.2l7.8 1.2 3 0.4-7.8-23.7z"/>
<path fill="#0011e6" d="M1458.5 1579.4l7.8 3.4 3-3.6-7.8 0.6zM1466.3 1582.8l7.8 7.6 3-2.4-7.8-8.8zM1474.1 1590.4l7.8 0.6 3-11.4-7.8 8.4zM1481.9 1591l7.8 0.1 3-9.7-7.8-1.8z"/>
<path fill="#0000dd" d="M1489.7 1591.1l7.8 3.1 3-7.6-7.8-5.2zM1497.5 1594.2l7.8-1.6 3 4.5-7.8-10.5zM1513.1 1591.5l7.8 7.7 3-1.9-7.8-5.6zM1520.9 1599.2l7.8-2.2 3-1.3-7.8 1.6zM1528.7 1597l7.8 5.2 3-8.4-7.8 1.9zM1536.5 1602.2l7.8-1.2 3-3.2-7.8-4zM1026.4 1604.2l7.8 0 3.1-6.9-7.8 3.7zM1034.2 1604.2l7.8-3.7 3.1 0.8-7.8-4zM1042 1600.5l7.8 0.3 3.1-3.6-7.8 4.1z"/>
<path fill="#4a4a4a" stroke-width="3.2" d="M1049.8 1600.8l7.8-8.4 3.1 4.2-7.8 0.6z"/>
<path fill="#0000dd" d="M1057.6 1592.4l7.8 4.9 3.1-8.1-7.8 7.4zM1065.4 1597.3l7.8-2.7 3.1 0.7-7.8-6.1zM1073.2 1594.6l7.8 2.5 3.1-6.4-7.8 4.6zM1081 1597.1l7.8 0.2 3.1-9.4-7.8 2.8zM1088.8 1597.3l7.8-1.6 3.1-5.7-7.8-2.1z"/>
<path fill="#0011e6" d="M1096.6 1595.7l7.8-8.2 3.1-6.4-7.8 8.9zM1104.4 1587.5l7.8 0.6 3.1-5.9-7.8-1.1zM1112.2 1588.1l7.8-5.3 3.1-3.7-7.8 3.1zM1120 1582.8l7.8-3.1 3.1-1-7.8 0.4z"/>
<path fill="#0033f6" d="M1127.8 1579.7l7.8-9 3.1-54-7.8 62z"/>
<path fill="#0062ff" d="M1135.6 1570.7l7.8-41.9 3.1-66.3-7.8 54.2z"/>
<path fill="#00ccff" d="M1143.4 1528.8l7.8-53.1 3.1-65.6-7.8 52.4z"/>
<path fill="#00ffff" d="M1151.2 1475.7l7.8-45.9 3.1-62.8-7.8 43.1z"/>
<path fill="#3cffbf" d="M1159 1429.8l7.8-36.4 3.1-72.3-7.8 45.9z"/>
<path fill="#6ffb94" d="M1166.8 1393.4l7.8-25.6 3.1-60.6-7.8 13.9z"/>
<path fill="#8ef87d" d="M1174.6 1367.8l7.8-14.1 3.1-59.2-7.8 12.7z"/>
<path fill="#6ffb94" d="M1182.4 1353.7l7.8 45.5 3.1-47.5-7.8-57.2z"/>
<path fill="#14ffea" d="M1190.2 1399.2l7.8 61.2 3.1-66.6-7.8-42.1z"/>
<path fill="#00ddff" d="M1198 1460.4l7.8 48.6 3.1-64.9-7.8-50.3z"/>
<path fill="#0080ff" d="M1205.8 1509l7.8 52.9 3.1-55.5-7.8-62.3z"/>
<path fill="#0033f6" d="M1213.6 1561.9l7.8 19.4 3.1-3.8-7.8-71.1z"/>
<path fill="#0011e6" d="M1221.4 1581.3l7.8 6.6 3.1-6-7.8-4.4zM1229.2 1587.9l7.8 8 3.1-10.9-7.8-3.1zM1237 1595.9l7.8-3.2 3.1-1.7-7.8-6z"/>
<path fill="#0000dd" d="M1244.8 1592.7l7.8 10.1 3.1-10.5-7.8-1.3zM1252.6 1602.8l7.8-0.4 3.1-5.9-7.8-4.2zM1260.4 1602.4l7.8-2 3.1-3.7-7.8-0.2zM1268.2 1600.4l7.8-1 3.1-2.9-7.8 0.2zM1276 1599.4l7.8 0.3 3.1 0.9-7.8-4.1zM1283.8 1599.7l7.8 4.5 3.1-3.2-7.8-0.4zM1330.6 1604.2l7.8-2.6 3.1-3.2-7.8 2.6zM1338.4 1601.6l7.8 1.4 3.1-5.5-7.8 0.9zM1346.2 1603l7.8-2.7 3.1-3.2-7.8 0.4zM1354 1600.3l7.8-1.4 3.1-2.9-7.8 1.1zM1361.8 1598.9l7.8-0.9 3.1-5.7-7.8 3.7zM1369.6 1598l7.8-2 3.1-6.2-7.8 2.5z"/>
<path fill="#0011e6" d="M1377.4 1596l7.8-3.9 3.1-6-7.8 3.7zM1385.2 1592.1l7.8 0.2 3.1-2.3-7.8-3.9zM1393 1592.3l7.8 1.5 3.1-10.4-7.8 6.6zM1400.8 1593.8l7.8-1.7 3.1-8.4-7.8-0.3zM1408.6 1592.1l7.8-6 3.1-9-7.8 6.6zM1416.4 1586.1l7.8-2.5 3.1-4.5-7.8-2zM1424.2 1583.6l7.8 2.7 3.1-11.6-7.8 4.4zM1432 1586.3l7.8-3.6 3.1-1-7.8-7zM1439.8 1582.7l7.8 0.1 3.1-4.6-7.8 3.5zM1447.6 1582.8l7.8 1.9 3.1-5.3-7.8-1.2zM1455.4 1584.7l7.8 4.4 3.1-6.3-7.8-3.4zM1463.2 1589.1l7.8 3.5 3.1-2.2-7.8-7.6z"/>
<path fill="#0000dd" d="M1471 1592.6l7.8 0.3 3.1-1.9-7.8-0.6zM1478.8 1592.9l7.8 2 3.1-3.8-7.8-0.1zM1486.6 1594.9l7.8 2 3.1-2.7-7.8-3.1zM1494.4 1596.9l7.8 1.5 3.1-5.8-7.8 1.6zM1502.2 1598.4l7.8 1.2 3.1-8.1-7.8 1.1zM1510 1599.6l7.8 1.1 3.1-1.5-7.8-7.7zM1517.8 1600.7l7.8-2 3.1-1.7-7.8 2.2zM1525.6 1598.7l7.8 5.5 3.1-2-7.8-5.2zM1031.1 1607.4l7.8-2.3 3.1-4.6-7.8 3.7zM1038.9 1605.1l7.8-0.4 3.1-3.9-7.8-0.3zM1046.7 1604.7l7.8-3.2 3.1-9.1-7.8 8.4zM1054.5 1601.5l7.8 5.5 3.1-9.7-7.8-4.9zM1062.3 1607l7.8-2.5 3.1-9.9-7.8 2.7zM1070.1 1604.5l7.8-3.6 3.1-3.8-7.8-2.5zM1077.9 1600.9l7.8-5.4 3.1 1.8-7.8-0.2z"/>
<path fill="#4a4a4a" stroke-width="3.2" d="M1093.5 1594.3l7.8-2.7 3.1-4.1-7.8 8.2z"/>
<path fill="#0011e6" d="M1101.3 1591.6l7.8-1.5 3.1-2-7.8-0.6zM1109.1 1590.1l7.8-1.7 3.1-5.6-7.8 5.3zM1116.9 1588.4l7.8-4.6 3.1-4.1-7.8 3.1z"/>
<path fill="#0022ee" d="M1124.7 1583.8l7.8-4.5 3.1-8.6-7.8 9zM1132.5 1579.3l7.8 9.1 3.1-59.6-7.8 41.9z"/>
<path fill="#0062ff" d="M1140.3 1588.4l7.8-41.2 3.1-71.5-7.8 53.1z"/>
<path fill="#00bbff" d="M1148.1 1547.2l7.8-50.4 3.1-67-7.8 45.9z"/>
<path fill="#00eeff" d="M1155.9 1496.8l7.8-28.6 3.1-74.8-7.8 36.4z"/>
<path fill="#14ffea" d="M1163.7 1468.2l7.8-28.3 3.1-72.1-7.8 25.6z"/>
<path fill="#28ffd4" d="M1171.5 1439.9l7.8-26.2 3.1-60-7.8 14.1zM1179.3 1413.7l7.8 28 3.1-42.5-7.8-45.5z"/>
<path fill="#00ddff" d="M1187.1 1441.7l7.8 71.2 3.1-52.5-7.8-61.2z"/>
<path fill="#0080ff" d="M1194.9 1512.9l7.8 69.9 3.1-73.8-7.8-48.6z"/>
<path fill="#0033f6" d="M1202.7 1582.8l7.8 1.5 3.1-22.4-7.8-52.9z"/>
<path fill="#0022ee" d="M1210.5 1584.3l7.8 4.6 3.1-7.6-7.8-19.4z"/>
<path fill="#0011e6" d="M1218.3 1588.9l7.8 5.3 3.1-6.3-7.8-6.6zM1226.1 1594.2l7.8 3.1 3.1-1.4-7.8-8z"/>
<path fill="#0000dd" d="M1233.9 1597.3l7.8-1.9 3.1-2.7-7.8 3.2zM1241.7 1595.4l7.8 8.5 3.1-1.1-7.8-10.1zM1257.3 1599.3l7.8 4.4 3.1-3.3-7.8 2zM1265.1 1603.7l7.8 4.1 3.1-8.4-7.8 1zM1272.9 1607.8l7.8-0.4 3.1-7.7-7.8-0.3zM1280.7 1607.4l7.8 0 3.1-3.2-7.8-4.5zM1327.5 1607.4l7.8 0 3.1-5.8-7.8 2.6zM1335.3 1607.4l7.8-7.2 3.1 2.8-7.8-1.4zM1343.1 1600.2l7.8 5.7 3.1-5.6-7.8 2.7zM1350.9 1605.9l7.8-1.2 3.1-5.8-7.8 1.4zM1358.7 1604.7l7.8-2.2 3.1-4.5-7.8 0.9zM1366.5 1602.5l7.8 0.9 3.1-7.4-7.8 2zM1374.3 1603.4l7.8-4.2 3.1-7.1-7.8 3.9zM1382.1 1599.2l7.8-2.5 3.1-4.4-7.8-0.2zM1389.9 1596.7l7.8 0.6 3.1-3.5-7.8-1.5zM1397.7 1597.3l7.8-0.7 3.1-4.5-7.8 1.7z"/>
<path fill="#0011e6" d="M1405.5 1596.6l7.8-3.3 3.1-7.2-7.8 6zM1413.3 1593.3l7.8-3.8 3.1-5.9-7.8 2.5zM1421.1 1589.5l7.8 5.5 3.1-8.7-7.8-2.7zM1428.9 1595l7.8-8 3.1-4.3-7.8 3.6zM1436.7 1587l7.8 5.7 3.1-9.9-7.8-0.1zM1444.5 1592.7l7.8 2.3 3.1-10.3-7.8-1.9zM1452.3 1595l7.8-3.1 3.1-2.8-7.8-4.4zM1460.1 1591.9l7.8 5.7 3.1-5-7.8-3.5z"/>
<path fill="#0000dd" d="M1467.9 1597.6l7.8 5.9 3.1-10.6-7.8-0.3zM1475.7 1603.5l7.8-6 3.1-2.6-7.8-2zM1483.5 1597.5l7.8 7.4 3.1-8-7.8-2zM1491.3 1604.9l7.8-2.3 3.1-4.2-7.8-1.5zM1499.1 1602.6l7.8-1.2 3.1-1.8-7.8-1.2zM1506.9 1601.4l7.8 4.7 3.1-5.4-7.8-1.1zM1514.7 1606.1l7.8 1.3 3.1-8.7-7.8 2zM1522.5 1607.4l7.8 0 3.1-3.2-7.8-5.5zM1028.1 1610.6l7.8 0 3-5.5-7.8 2.3zM1035.9 1610.6l7.8-1.4 3-4.5-7.8 0.4zM1043.7 1609.2l7.8-3 3-4.7-7.8 3.2zM1051.5 1606.2l7.8 3.7 3-2.9-7.8-5.5zM1059.3 1609.9l7.8-2 3-3.4-7.8 2.5zM1067.1 1607.9l7.8-3.1 3-3.9-7.8 3.6zM1074.9 1604.8l7.8-3 3-6.3-7.8 5.4z"/>
<path fill="#0011e6" d="M1082.7 1601.8l7.8-4.7 3-2.8-7.8 1.2zM1090.5 1597.1l7.8 1.9 3-7.4-7.8 2.7zM1098.3 1599l7.8-2.6 3-6.3-7.8 1.5zM1106.1 1596.4l7.8-4.9 3-3.1-7.8 1.7zM1113.9 1591.5l7.8 1.5 3-9.2-7.8 4.6zM1121.7 1593l7.8-3.8 3-9.9-7.8 4.5zM1129.5 1589.2l7.8-2.7 3 1.9-7.8-9.1z"/>
<path fill="#0022ee" d="M1137.3 1586.5l7.8-1.3 3-38-7.8 41.2z"/>
<path fill="#0044ff" d="M1145.1 1585.2l7.8-7.6 3-80.8-7.8 50.4z"/>
<path fill="#0080ff" d="M1152.9 1577.6l7.8-28.3 3-81.1-7.8 28.6z"/>
<path fill="#00bbff" d="M1160.7 1549.3l7.8-33.3 3-76.1-7.8 28.3z"/>
<path fill="#00ddff" d="M1168.5 1516l7.8-29 3-73.3-7.8 26.2zM1176.3 1487l7.8-15.5 3-29.8-7.8-28z"/>
<path fill="#00bbff" d="M1184.1 1471.5l7.8 75.7 3-34.3-7.8-71.2z"/>
<path fill="#0033f6" d="M1191.9 1547.2l7.8 38.8 3-3.2-7.8-69.9z"/>
<path fill="#0011e6" d="M1199.7 1586l7.8 10.8 3-12.5-7.8-1.5zM1207.5 1596.8l7.8-0.3 3-7.6-7.8-4.6zM1215.3 1596.5l7.8-4.8 3 2.5-7.8-5.3zM1223.1 1591.7l7.8 7.6 3-2-7.8-3.1z"/>
<path fill="#0000dd" d="M1230.9 1599.3l7.8 4.3 3-8.2-7.8 1.9zM1238.7 1603.6l7.8 3.8 3-3.5-7.8-8.5zM1246.5 1607.4l7.8-1.9 3-6.2-7.8 4.6zM1254.3 1605.5l7.8 0.2 3-2-7.8-4.4zM1262.1 1605.7l7.8-1 3 3.1-7.8-4.1zM1269.9 1604.7l7.8 5.9 3-3.2-7.8 0.4zM1332.3 1610.6l7.8 0 3-10.4-7.8 7.2zM1340.1 1610.6l7.8-5.8 3 1.1-7.8-5.7zM1347.9 1604.8l7.8 4.1 3-4.2-7.8 1.2zM1355.7 1608.9l7.8-1.2 3-5.2-7.8 2.2zM1363.5 1607.7l7.8-3.4 3-0.9-7.8-0.9zM1371.3 1604.3l7.8 1.6 3-6.7-7.8 4.2zM1379.1 1605.9l7.8-4.4 3-4.8-7.8 2.5zM1386.9 1601.5l7.8-0.9 3-3.3-7.8-0.6zM1394.7 1600.6l7.8-0.6 3-3.4-7.8 0.7z"/>
<path fill="#0011e6" d="M1402.5 1600l7.8 0.6 3-7.3-7.8 3.3zM1410.3 1600.6l7.8 1.2 3-12.3-7.8 3.8zM1418.1 1601.8l7.8-2.9 3-3.9-7.8-5.5zM1425.9 1598.9l7.8 5.9 3-17.8-7.8 8zM1433.7 1604.8l7.8-4.7 3-7.4-7.8-5.7zM1441.5 1600.1l7.8-1.9 3-3.2-7.8-2.3zM1449.3 1598.2l7.8 5 3-11.3-7.8 3.1z"/>
<path fill="#0000dd" d="M1457.1 1603.2l7.8-2.2 3-3.4-7.8-5.7zM1464.9 1601l7.8 8.7 3-6.2-7.8-5.9zM1472.7 1609.7l7.8-4.5 3-7.7-7.8 6zM1480.5 1605.2l7.8-0.9 3 0.6-7.8-7.4zM1488.3 1604.3l7.8 4.9 3-6.6-7.8 2.3zM1496.1 1609.2l7.8 2 3-9.8-7.8 1.2zM1503.9 1611.2l7.8-0.6 3-4.5-7.8-4.7zM1040.6 1613.7l7.8-1.5 3.1-6-7.8 3zM1048.4 1612.2l7.8-1.3 3.1-1-7.8-3.7zM1056.2 1610.9l7.8-1.3 3.1-1.7-7.8 2zM1064 1609.6l7.8 2.3 3.1-7.1-7.8 3.1zM1071.8 1611.9l7.8-4.8 3.1-5.3-7.8 3zM1079.6 1607.1l7.8-4.3 3.1-5.7-7.8 4.7z"/>
<path fill="#0011e6" d="M1087.4 1602.8l7.8 0.2 3.1-4-7.8-1.9zM1095.2 1603l7.8 1.4 3.1-8-7.8 2.6zM1103 1604.4l7.8-7.1 3.1-5.8-7.8 4.9zM1110.8 1597.3l7.8 4.6 3.1-8.9-7.8-1.5zM1118.6 1601.9l7.8-3.8 3.1-8.9-7.8 3.8zM1126.4 1598.1l7.8-2.4 3.1-9.2-7.8 2.7zM1134.2 1595.7l7.8-3 3.1-7.5-7.8 1.3zM1142 1592.7l7.8 0 3.1-15.1-7.8 7.6z"/>
<path fill="#0022ee" d="M1149.8 1592.7l7.8-6.6 3.1-36.8-7.8 28.3z"/>
<path fill="#0033f6" d="M1157.6 1586.1l7.8-4.1 3.1-66-7.8 33.3z"/>
<path fill="#0062ff" d="M1165.4 1582l7.8-18 3.1-77-7.8 29z"/>
<path fill="#009dff" d="M1173.2 1564l7.8-47.7 3.1-44.8-7.8 15.5z"/>
<path fill="#0062ff" d="M1181 1516.3l7.8 69.6 3.1-38.7-7.8-75.7z"/>
<path fill="#0022ee" d="M1188.8 1585.9l7.8 2.1 3.1-2-7.8-38.8z"/>
<path fill="#0011e6" d="M1196.6 1588l7.8 9.2 3.1-0.4-7.8-10.8zM1212.2 1596.3l7.8 7.5 3.1-12.1-7.8 4.8zM1220 1603.8l7.8 4 3.1-8.5-7.8-7.6z"/>
<path fill="#0000dd" d="M1227.8 1607.8l7.8 0.3 3.1-4.5-7.8-4.3zM1235.6 1608.1l7.8 1.6 3.1-2.3-7.8-3.8zM1243.4 1609.7l7.8-0.3 3.1-3.9-7.8 1.9zM1251.2 1609.4l7.8 4.4 3.1-8.1-7.8-0.2zM1259 1613.8l7.8-7 3.1-2.1-7.8 1zM1266.8 1606.8l7.8 6.9 3.1-3.1-7.8-5.9zM1337 1613.7l7.8 0 3.1-8.9-7.8 5.8zM1344.8 1613.7l7.8-3.9 3.1-0.9-7.8-4.1zM1360.4 1607.5l7.8 5.4 3.1-8.6-7.8 3.4zM1368.2 1612.9l7.8-1.2 3.1-5.8-7.8-1.6zM1376 1611.7l7.8-4.1 3.1-6.1-7.8 4.4zM1383.8 1607.6l7.8-1.5 3.1-5.5-7.8 0.9zM1391.6 1606.1l7.8-0.1 3.1-6-7.8 0.6zM1399.4 1606l7.8-1.3 3.1-4.1-7.8-0.6zM1407.2 1604.7l7.8-0.8 3.1-2.1-7.8-1.2zM1415 1603.9l7.8 0.4 3.1-5.4-7.8 2.9zM1422.8 1604.3l7.8 3.2 3.1-2.7-7.8-5.9zM1430.6 1607.5l7.8-3.9 3.1-3.5-7.8 4.7zM1438.4 1603.6l7.8-1 3.1-4.4-7.8 1.9zM1446.2 1602.6l7.8 1.1 3.1-0.5-7.8-5zM1454 1603.7l7.8 2.8 3.1-5.5-7.8 2.2zM1461.8 1606.5l7.8 4.4 3.1-1.2-7.8-8.7zM1469.6 1610.9l7.8-2.6 3.1-3.1-7.8 4.5zM1477.4 1608.3l7.8-0.3 3.1-3.7-7.8 0.9zM1485.2 1608l7.8 3.8 3.1-2.6-7.8-4.9zM1493 1611.8l7.8 1.9 3.1-2.5-7.8-2zM1037.6 1616.9l7.8 0 3-4.7-7.8 1.5zM1045.4 1616.9l7.8-1.2 3-4.8-7.8 1.3zM1053.2 1615.7l7.8 1.7 3-7.8-7.8 1.3zM1061 1617.4l7.8-3.4 3-2.1-7.8-2.3zM1068.8 1614l7.8 0.2 3-7.1-7.8 4.8zM1076.6 1614.2l7.8-1.2 3-10.2-7.8 4.3zM1084.4 1613l7.8-2.4 3-7.6-7.8-0.2zM1092.2 1610.6l7.8-3.9 3-2.3-7.8-1.4z"/>
<path fill="#0011e6" d="M1100 1606.7l7.8 0 3-9.4-7.8 7.1zM1107.8 1606.7l7.8 0.2 3-5-7.8-4.6zM1115.6 1606.9l7.8-1.7 3-7.1-7.8 3.8zM1123.4 1605.2l7.8-2.7 3-6.8-7.8 2.4zM1131.2 1602.5l7.8 1.4 3-11.2-7.8 3zM1139 1603.9l7.8-3.9 3-7.3-7.8 0zM1146.8 1600l7.8 0 3-13.9-7.8 6.6zM1154.6 1600l7.8-2.7 3-15.3-7.8 4.1z"/>
<path fill="#0022ee" d="M1162.4 1597.3l7.8-6.6 3-26.7-7.8 18z"/>
<path fill="#0033f6" d="M1170.2 1590.7l7.8-1.5 3-72.9-7.8 47.7zM1178 1589.2l7.8 1.6 3-4.9-7.8-69.6z"/>
<path fill="#0011e6" d="M1185.8 1590.8l7.8 3.7 3-6.5-7.8-2.1zM1193.6 1594.5l7.8 6.9 3-4.2-7.8-9.2zM1201.4 1601.4l7.8 2.3 3-7.4-7.8 0.9zM1209.2 1603.7l7.8 7.3 3-7.2-7.8-7.5z"/>
<path fill="#0000dd" d="M1217 1611l7.8-2.7 3-0.5-7.8-4zM1232.6 1605.9l7.8 6.7 3-2.9-7.8-1.6zM1240.4 1612.6l7.8-2.7 3-0.5-7.8 0.3zM1248.2 1609.9l7.8 2.9 3 1-7.8-4.4zM1256 1612.8l7.8 1.2 3-7.2-7.8 7zM1263.8 1614l7.8 2.9 3-3.2-7.8-6.9zM1341.8 1616.9l7.8 0 3-7.1-7.8 3.9zM1349.6 1616.9l7.8-1 3-8.4-7.8 2.3zM1357.4 1615.9l7.8 0.2 3-3.2-7.8-5.4z"/>
<path fill="#4a4a4a" stroke-width="3.2" d="M1365.2 1616.1l7.8-6.5 3 2.1-7.8 1.2z"/>
<path fill="#0000dd" d="M1373 1609.6l7.8 8.9 3-10.9-7.8 4.1zM1380.8 1618.5l7.8-7.2 3-5.2-7.8 1.5zM1388.6 1611.3l7.8 4.1 3-9.4-7.8 0.1zM1396.4 1615.4l7.8-1.5 3-9.2-7.8 1.3zM1404.2 1613.9l7.8-1.1 3-8.9-7.8 0.8zM1412 1612.8l7.8 0.6 3-9.1-7.8-0.4zM1419.8 1613.4l7.8-0.7 3-5.2-7.8-3.2zM1427.6 1612.7l7.8 1.8 3-10.9-7.8 3.9zM1435.4 1614.5l7.8-5.4 3-6.5-7.8 1zM1443.2 1609.1l7.8 2.1 3-7.5-7.8-1.1zM1451 1611.2l7.8-0.9 3-3.8-7.8-2.8zM1458.8 1610.3l7.8 0.9 3-0.3-7.8-4.4zM1466.6 1611.2l7.8 5.8 3-8.7-7.8 2.6zM1474.4 1617l7.8-2.9 3-6.1-7.8 0.3zM1482.2 1614.1l7.8 1 3-3.3-7.8-3.8zM1490 1615.1l7.8 1.8 3-3.2-7.8-1.9zM1050.1 1620.1l7.8-2.1 3.1-0.6-7.8-1.7zM1065.7 1615.1l7.8 3.6 3.1-4.5-7.8-0.2zM1073.5 1618.7l7.8-3.7 3.1-2-7.8 1.2zM1081.3 1615l7.8-2.1 3.1-2.3-7.8 2.4zM1089.1 1612.9l7.8-1.8 3.1-4.4-7.8 3.9zM1096.9 1611.1l7.8-0.1 3.1-4.3-7.8 0zM1104.7 1611l7.8 1.8 3.1-5.9-7.8-0.2zM1112.5 1612.8l7.8-3.1 3.1-4.5-7.8 1.7z"/>
<path fill="#0011e6" d="M1120.3 1609.7l7.8-0.1 3.1-7.1-7.8 2.7zM1128.1 1609.6l7.8-7.3 3.1 1.6-7.8-1.4zM1135.9 1602.3l7.8 5.2 3.1-7.5-7.8 3.9zM1143.7 1607.5l7.8-0.4 3.1-7.1-7.8 0zM1151.5 1607.1l7.8-4.7 3.1-5.1-7.8 2.7zM1159.3 1602.4l7.8-4.8 3.1-6.9-7.8 6.6zM1167.1 1597.6l7.8 0.1 3.1-8.5-7.8 1.5zM1174.9 1597.7l7.8-2.1 3.1-4.8-7.8-1.6zM1182.7 1595.6l7.8 7.5 3.1-8.6-7.8-3.7zM1190.5 1603.1l7.8 0.3 3.1-2-7.8-6.9zM1198.3 1603.4l7.8 7.9 3.1-7.6-7.8-2.3z"/>
<path fill="#0000dd" d="M1206.1 1611.3l7.8 1.8 3.1-2.1-7.8-7.3zM1213.9 1613.1l7.8 0.1 3.1-4.9-7.8 2.7zM1221.7 1613.2l7.8 4.6 3.1-11.9-7.8 2.4zM1229.5 1617.8l7.8-5.4 3.1 0.2-7.8-6.7zM1237.3 1612.4l7.8 2 3.1-4.5-7.8 2.7zM1245.1 1614.4l7.8 4.3 3.1-5.9-7.8-2.9zM1252.9 1618.7l7.8 1.4 3.1-6.1-7.8-1.2zM1260.7 1620.1l7.8 0 3.1-3.2-7.8-2.9zM1362.1 1620.1l7.8-3.3 3.1-7.2-7.8 6.5zM1369.9 1616.8l7.8 0 3.1 1.7-7.8-8.9zM1377.7 1616.8l7.8 0.9 3.1-6.4-7.8 7.2zM1385.5 1617.7l7.8-1.2 3.1-1.1-7.8-4.1zM1401.1 1610.5l7.8 6.7 3.1-4.4-7.8 1.1zM1408.9 1617.2l7.8-1.3 3.1-2.5-7.8-0.6zM1416.7 1615.9l7.8-0.9 3.1-2.3-7.8 0.7zM1424.5 1615l7.8 1.4 3.1-1.9-7.8-1.8zM1432.3 1616.4l7.8 0.8 3.1-8.1-7.8 5.4zM1440.1 1617.2l7.8-0.8 3.1-5.2-7.8-2.1zM1447.9 1616.4l7.8 0.1 3.1-6.2-7.8 0.9zM1455.7 1616.5l7.8 2.1 3.1-7.4-7.8-0.9zM1463.5 1618.6l7.8 0.9 3.1-2.5-7.8-5.8zM1471.3 1619.5l7.8-0.5 3.1-4.9-7.8 2.9zM1479.1 1619l7.8 1.1 3.1-5-7.8-1zM1486.9 1620.1l7.8 0 3.1-3.2-7.8-1.8zM1047 1623.2l7.8 0 3.1-5.2-7.8 2.1zM1054.8 1623.2l7.8-8.4 3.1 0.3-7.8 2.9zM1062.6 1614.8l7.8 3.7 3.1 0.2-7.8-3.6zM1078.2 1615.8l7.8 1.9 3.1-4.8-7.8 2.1zM1086 1617.7l7.8 0 3.1-6.6-7.8 1.8zM1093.8 1617.7l7.8-2.7 3.1-4-7.8 0.1zM1101.6 1615l7.8 3.4 3.1-5.6-7.8-1.8zM1109.4 1618.4l7.8-3.6 3.1-5.1-7.8 3.1zM1117.2 1614.8l7.8 0 3.1-5.2-7.8 0.1z"/>
<path fill="#0011e6" d="M1125 1614.8l7.8-0.4 3.1-12.1-7.8 7.3zM1132.8 1614.4l7.8 1.1 3.1-8-7.8-5.2zM1140.6 1615.5l7.8-5.1 3.1-3.3-7.8 0.4zM1148.4 1610.4l7.8 6 3.1-14-7.8 4.7zM1156.2 1616.4l7.8-10.1 3.1-8.7-7.8 4.8zM1164 1606.3l7.8 0 3.1-8.6-7.8-0.1zM1171.8 1606.3l7.8-1.8 3.1-8.9-7.8 2.1zM1179.6 1604.5l7.8 5.4 3.1-6.8-7.8-7.5zM1187.4 1609.9l7.8 2.5 3.1-9-7.8-0.3zM1195.2 1612.4l7.8 1.2 3.1-2.3-7.8-7.9z"/>
<path fill="#0000dd" d="M1203 1613.6l7.8 2.8 3.1-3.3-7.8-1.8zM1210.8 1616.4l7.8-0.8 3.1-2.4-7.8-0.1zM1218.6 1615.6l7.8 4.2 3.1-2-7.8-4.6zM1226.4 1619.8l7.8 0.3 3.1-7.7-7.8 5.4zM1234.2 1620.1l7.8-2.1 3.1-3.6-7.8-2zM1242 1618l7.8 5.2 3.1-4.5-7.8-4.3zM1359 1623.2l7.8 0 3.1-6.4-7.8 3.3zM1366.8 1623.2l7.8-0.9 3.1-5.5-7.8 0zM1374.6 1622.3l7.8-2.3 3.1-2.3-7.8-0.9zM1382.4 1620l7.8 2.1 3.1-5.6-7.8 1.2zM1390.2 1622.1l7.8 2.3 3.1-13.9-7.8 6zM1398 1624.4l7.8-4 3.1-3.2-7.8-6.7zM1405.8 1620.4l7.8-0.6 3.1-3.9-7.8 1.3zM1413.6 1619.8l7.8-2.5 3.1-2.3-7.8 0.9zM1421.4 1617.3l7.8 6.5 3.1-7.4-7.8-1.4zM1429.2 1623.8l7.8-8.5 3.1 1.9-7.8-0.8zM1437 1615.3l7.8 2.5 3.1-1.4-7.8 0.8zM1444.8 1617.8l7.8 3.3 3.1-4.6-7.8-0.1zM1452.6 1621.1l7.8 2.6 3.1-5.1-7.8-2.1zM1460.4 1623.7l7.8-5.1 3.1 0.9-7.8-0.9zM1468.2 1618.6l7.8 4.6 3.1-4.2-7.8 0.5zM1051.8 1626.4l7.8 0 3-11.6-7.8 8.4zM1059.6 1626.4l7.8-4.5 3-3.4-7.8-3.7zM1067.4 1621.9l7.8 3.1 3-9.2-7.8 2.7zM1075.2 1625l7.8-1 3-6.3-7.8-1.9zM1083 1624l7.8-2.1 3-4.2-7.8 0zM1090.8 1621.9l7.8-1 3-5.9-7.8 2.7zM1098.6 1620.9l7.8-3.8 3 1.3-7.8-3.4zM1106.4 1617.1l7.8 3.3 3-5.6-7.8 3.6zM1114.2 1620.4l7.8-5 3-0.6-7.8 0zM1122 1615.4l7.8 1.7 3-2.7-7.8 0.4zM1129.8 1617.1l7.8-0.9 3-0.7-7.8-1.1zM1137.6 1616.2l7.8 0.6 3-6.4-7.8 5.1zM1145.4 1616.8l7.8 0.4 3-0.8-7.8-6z"/>
<path fill="#0011e6" d="M1161 1609.4l7.8 3.4 3-6.5-7.8 0zM1168.8 1612.8l7.8-4.8 3-3.5-7.8 1.8zM1176.6 1608l7.8 6.4 3-4.5-7.8-5.4zM1184.4 1614.4l7.8 2.9 3-4.9-7.8-2.5z"/>
<path fill="#0000dd" d="M1192.2 1617.3l7.8 4.6 3-8.3-7.8-1.2zM1200 1621.9l7.8 2.6 3-8.1-7.8-2.8zM1207.8 1624.5l7.8-0.6 3-8.3-7.8 0.8zM1215.6 1623.9l7.8 1.5 3-5.6-7.8-4.2zM1223.4 1625.4l7.8-4.2 3-1.1-7.8-0.3zM1231.2 1621.2l7.8 5.1 3-8.3-7.8 2.1zM1239 1626.3l7.8 0.1 3-3.2-7.8-5.2zM1371.6 1626.4l7.8 0 3-6.4-7.8 2.3zM1379.4 1626.4l7.8 0 3-4.3-7.8-2.1zM1387.2 1626.4l7.8-5.2 3 3.2-7.8-2.3zM1395 1621.2l7.8 4.7 3-5.5-7.8 4zM1402.8 1625.9l7.8-2 3-4.1-7.8 0.6zM1410.6 1623.9l7.8-2.6 3-4-7.8 2.5zM1418.4 1621.3l7.8 5.2 3-2.7-7.8-6.5zM1426.2 1626.5l7.8-5.2 3-6-7.8 8.5zM1434 1621.3l7.8 2.1 3-5.6-7.8-2.5zM1441.8 1623.4l7.8 3 3-5.3-7.8-3.3zM1449.6 1626.4l7.8 0 3-2.7-7.8-2.6zM1457.4 1626.4l7.8 0 3-7.8-7.8 5.1zM1465.2 1626.4l7.8 0 3-3.2-7.8-4.6zM1056.5 1629.6l7.8 0 3.1-7.7-7.8 4.5zM1064.3 1629.6l7.8-2.9 3.1-1.7-7.8-3.1zM1072.1 1626.7l7.8 0.2 3.1-2.9-7.8 1zM1079.9 1626.9l7.8 2.2 3.1-7.2-7.8 2.1zM1087.7 1629.1l7.8-5.7 3.1-2.5-7.8 1zM1095.5 1623.4l7.8 4.2 3.1-10.5-7.8 3.8zM1103.3 1627.6l7.8-3.1 3.1-4.1-7.8-3.3zM1111.1 1624.5l7.8 2.2 3.1-11.3-7.8 5zM1118.9 1626.7l7.8-0.5 3.1-9.1-7.8-1.7zM1126.7 1626.2l7.8-5.5 3.1-4.5-7.8 0.9zM1134.5 1620.7l7.8 3 3.1-6.9-7.8-0.6zM1142.3 1623.7l7.8-5.3 3.1-1.2-7.8-0.4z"/>
<path fill="#0011e6" d="M1150.1 1618.4l7.8 2.7 3.1-11.7-7.8 7.8zM1157.9 1621.1l7.8-2.8 3.1-5.5-7.8-3.4zM1165.7 1618.3l7.8 5 3.1-15.3-7.8 4.8z"/>
<path fill="#0000dd" d="M1173.5 1623.3l7.8 1 3.1-9.9-7.8-6.4zM1181.3 1624.3l7.8-5.3 3.1-1.7-7.8-2.9zM1189.1 1619l7.8 3.3 3.1-0.4-7.8-4.6zM1196.9 1622.3l7.8 3.8 3.1-1.6-7.8-2.6zM1204.7 1626.1l7.8 1.3 3.1-3.5-7.8 0.6zM1212.5 1627.4l7.8-0.2 3.1-1.8-7.8-1.5zM1220.3 1627.2l7.8-2.6 3.1-3.4-7.8 4.2zM1228.1 1624.6l7.8 5 3.1-3.3-7.8-5.1zM1384.1 1629.6l7.8 0 3.1-8.4-7.8 5.2zM1391.9 1629.6l7.8 0 3.1-3.7-7.8-4.7zM1399.7 1629.6l7.8 0 3.1-5.7-7.8 2zM1407.5 1629.6l7.8 0 3.1-8.3-7.8 2.6zM1415.3 1629.6l7.8 0 3.1-3.1-7.8-5.2zM1423.1 1629.6l7.8 0 3.1-8.3-7.8 5.2zM1430.9 1629.6l7.8 0 3.1-6.2-7.8-2.1zM1438.7 1629.6l7.8 0 3.1-3.2-7.8-3zM1061.2 1632.8l7.8 0 3.1-6.1-7.8 2.9zM1069 1632.8l7.8 0 3.1-5.9-7.8-0.2zM1076.8 1632.8l7.8-1.1 3.1-2.6-7.8-2.2zM1084.6 1631.7l7.8-2.7 3.1-5.6-7.8 5.7zM1092.4 1629l7.8 1.4 3.1-2.8-7.8-4.2z"/>
<path fill="#4a4a4a" stroke-width="3.2" d="M1100.2 1630.4l7.8-5.7 3.1-0.2-7.8 3.1z"/>
<path fill="#0000dd" d="M1108 1624.7l7.8 4.3 3.1-2.3-7.8-2.2z"/>
<path fill="#4a4a4a" stroke-width="3.2" d="M1115.8 1629l7.8-3.8 3.1 1-7.8 0.5z"/>
<path fill="#0000dd" d="M1123.6 1625.2l7.8 5.1 3.1-9.6-7.8 5.5zM1131.4 1630.3l7.8 1.2 3.1-7.8-7.8-3zM1139.2 1631.5l7.8-5.6 3.1-7.5-7.8 5.3zM1147 1625.9l7.8-1.1 3.1-3.7-7.8-2.7zM1154.8 1624.8l7.8 0.9 3.1-7.4-7.8 2.8zM1162.6 1625.7l7.8 1.2 3.1-3.6-7.8-5zM1170.4 1626.9l7.8-2.9 3.1 0.3-7.8-1zM1178.2 1624l7.8 2.9 3.1-7.9-7.8 5.3zM1186 1626.9l7.8 3.7 3.1-8.3-7.8-3.3zM1193.8 1630.6l7.8-3.3 3.1-1.2-7.8-3.8zM1201.6 1627.3l7.8 3.4 3.1-3.3-7.8-1.3zM1209.4 1630.7l7.8 1.4 3.1-4.9-7.8 0.2zM1217.2 1632.1l7.8-5 3.1-2.5-7.8 2.6zM1225 1627.1l7.8 5.7 3.1-3.2-7.8-5zM1081.6 1636l7.8 0 3-7-7.8 2.7zM1089.4 1636l7.8-3.5 3-2.1-7.8-1.4zM1097.2 1632.5l7.8-0.7 3-7.1-7.8 5.7zM1105 1631.8l7.8 1.2 3-4-7.8-4.3zM1112.8 1633l7.8 3.1 3-10.9-7.8 3.8zM1120.6 1636.1l7.8-5.2 3-0.6-7.8-5.1zM1128.4 1630.9l7.8-0.3 3 0.9-7.8-1.2zM1144 1624.7l7.8 6.6 3-6.5-7.8 1.1zM1151.8 1631.3l7.8-3.4 3-2.2-7.8-0.9zM1159.6 1627.9l7.8 3.6 3-4.6-7.8-1.2zM1167.4 1631.5l7.8-1.4 3-6.1-7.8 2.9zM1175.2 1630.1l7.8-1.4 3-1.8-7.8-2.9zM1183 1628.7l7.8 2.2 3-0.3-7.8-3.7zM1190.8 1630.9l7.8 2.9 3-6.5-7.8 3.3zM1198.6 1633.8l7.8-3.1 3 0-7.8-3.4zM1206.4 1630.7l7.8 3.4 3-2-7.8-1.4zM1214.2 1634.1l7.8 1.9 3-8.9-7.8 5zM1222 1636l7.8 0 3-3.2-7.8-5.7zM1086.3 1639.1l7.8 0 3.1-6.6-7.8 3.5zM1094.1 1639.1l7.8 0 3.1-7.3-7.8 0.7zM1101.9 1639.1l7.8 0 3.1-6.1-7.8-1.2zM1109.7 1639.1l7.8-0.5 3.1-2.5-7.8-3.1zM1117.5 1638.6l7.8 0.1 3.1-7.8-7.8 5.2zM1125.3 1638.7l7.8-3.9 3.1-4.2-7.8 0.3zM1133.1 1634.8l7.8-0.3 3.1-9.8-7.8 5.9zM1140.9 1634.5l7.8-5.1 3.1 1.9-7.8-6.6zM1148.7 1629.4l7.8 5.9 3.1-7.4-7.8 3.4zM1156.5 1635.3l7.8-0.6 3.1-3.2-7.8-3.6zM1164.3 1634.7l7.8-4 3.1-0.6-7.8 1.4zM1172.1 1630.7l7.8 4.9 3.1-6.9-7.8 1.4zM1179.9 1635.6l7.8 0 3.1-4.7-7.8-2.2zM1187.7 1635.6l7.8-3.6 3.1 1.8-7.8-2.9zM1195.5 1632l7.8 4.9 3.1-6.2-7.8 3.1zM1203.3 1636.9l7.8 2.2 3.1-5-7.8-3.4zM1211.1 1639.1l7.8 0 3.1-3.1-7.8-1.9zM1122.2 1642.3l7.8 0 3.1-7.5-7.8 3.9zM1130 1642.3l7.8 0 3.1-7.8-7.8 0.3zM1137.8 1642.3l7.8 0 3.1-12.9-7.8 5.1zM1145.6 1642.3l7.8 0 3.1-7-7.8-5.9zM1153.4 1642.3l7.8 0 3.1-7.6-7.8 0.6zM1161.2 1642.3l7.8 0 3.1-11.6-7.8 4zM1169 1642.3l7.8 0 3.1-6.7-7.8-4.9zM1176.8 1642.3l7.8 0 3.1-6.7-7.8 0zM1184.6 1642.3l7.8 0 3.1-10.3-7.8 3.6zM1192.4 1642.3l7.8 0 3.1-5.4-7.8-4.9zM1200.2 1642.3l7.8 0 3.1-3.2-7.8-2.2z"/>
</g>
<g filter="url(#tb)"><path d="M952.7 1710.2H1572.7L1823.5 1449.5" fill="none" stroke="#3a3a3a" stroke-width="2.2"/>
<path d="M952.7 1710.2v-4.5M1107.1 1710.2v-4.5M1261.5 1710.2v-4.5M1416 1710.2v-4.5M1570.5 1710.2v-4.5M1604 1677.5l-3-3.5M1635.9 1645l-3-3.5M1698 1580l-3-3.5M1761.2 1514.5l-3-3.5M1823.5 1449.5l-3-3.5" fill="none" stroke="#444" stroke-width="2"/>
<g font-size="27" fill="#6e6e6e" stroke="#6e6e6e" stroke-width=".4">
<text x="924" y="1737.5">2.00</text>
<text x="1260" y="1737.5" text-anchor="middle">0.00</text>
<text x="1381" y="1737.5" text-anchor="middle">x[mm]</text>
<text x="1572.5" y="1737.5" text-anchor="end">-2.00</text>
<text x="1572.5" y="1737.5">2.00</text>
<text x="1634" y="1676">y[mm]</text>
<text x="1696" y="1609.5">0.00</text>
<text x="1821" y="1479">-2.00</text>
</g>
<g class="cb">
<rect x="1738" y="999" width="18.7" height="350.70000000000005" fill="#777"/>
<rect x="1739" y="1000.00" width="16.7" height="31.70" fill="#800000"/>
<rect x="1739" y="1031.70" width="16.7" height="31.70" fill="#ff0000"/>
<rect x="1739" y="1063.40" width="16.7" height="31.70" fill="#ff8000"/>
<rect x="1739" y="1095.10" width="16.7" height="31.70" fill="#ffee00"/>
<rect x="1739" y="1126.80" width="16.7" height="31.70" fill="#ccf050"/>
<rect x="1739" y="1158.50" width="16.7" height="31.70" fill="#50ffaa"/>
<rect x="1739" y="1190.20" width="16.7" height="31.70" fill="#00ffff"/>
<rect x="1739" y="1221.90" width="16.7" height="31.70" fill="#00bbff"/>
<rect x="1739" y="1253.60" width="16.7" height="31.70" fill="#0044ff"/>
<rect x="1739" y="1285.30" width="16.7" height="31.70" fill="#0000dd"/>
<rect x="1739" y="1317.00" width="16.7" height="31.70" fill="#000080"/>
<rect x="1739" y="1030.60" width="16.7" height="2.2" fill="#000"/>
<rect x="1739" y="1062.30" width="16.7" height="2.2" fill="#000"/>
<rect x="1739" y="1094.00" width="16.7" height="2.2" fill="#000"/>
<rect x="1739" y="1125.70" width="16.7" height="2.2" fill="#000"/>
<rect x="1739" y="1157.40" width="16.7" height="2.2" fill="#000"/>
<rect x="1739" y="1189.10" width="16.7" height="2.2" fill="#000"/>
<rect x="1739" y="1220.80" width="16.7" height="2.2" fill="#000"/>
<rect x="1739" y="1252.50" width="16.7" height="2.2" fill="#000"/>
<rect x="1739" y="1284.20" width="16.7" height="2.2" fill="#000"/>
<rect x="1739" y="1315.90" width="16.7" height="2.2" fill="#000"/>
<text x="1803.6" y="1025.2" font-size="26" text-anchor="end" fill="#6e6e6e" stroke="#6e6e6e" stroke-width=".35">100</text>
<text x="1803.6" y="1056.9" font-size="26" text-anchor="end" fill="#6e6e6e" stroke="#6e6e6e" stroke-width=".35">90</text>
<text x="1803.6" y="1088.6" font-size="26" text-anchor="end" fill="#6e6e6e" stroke="#6e6e6e" stroke-width=".35">80</text>
<text x="1803.6" y="1120.3" font-size="26" text-anchor="end" fill="#6e6e6e" stroke="#6e6e6e" stroke-width=".35">70</text>
<text x="1803.6" y="1152.0" font-size="26" text-anchor="end" fill="#6e6e6e" stroke="#6e6e6e" stroke-width=".35">60</text>
<text x="1803.6" y="1183.7" font-size="26" text-anchor="end" fill="#6e6e6e" stroke="#6e6e6e" stroke-width=".35">50</text>
<text x="1803.6" y="1215.4" font-size="26" text-anchor="end" fill="#6e6e6e" stroke="#6e6e6e" stroke-width=".35">40</text>
<text x="1803.6" y="1247.1" font-size="26" text-anchor="end" fill="#6e6e6e" stroke="#6e6e6e" stroke-width=".35">30</text>
<text x="1803.6" y="1278.8" font-size="26" text-anchor="end" fill="#6e6e6e" stroke="#6e6e6e" stroke-width=".35">20</text>
<text x="1803.6" y="1310.5" font-size="26" text-anchor="end" fill="#6e6e6e" stroke="#6e6e6e" stroke-width=".35">10</text>
<text x="1803.6" y="1342.2" font-size="26" text-anchor="end" fill="#6e6e6e" stroke="#6e6e6e" stroke-width=".35">0</text>
<text x="1803.6" y="993.5" font-size="26" text-anchor="end" fill="#6e6e6e" stroke="#6e6e6e" stroke-width=".35">%</text>
</g></g>
</g>
<g font-family="'Liberation Serif',serif" font-size="76" fill="#000">
<text y="923.8"><tspan x="419.6">(</tspan><tspan x="444.5" font-weight="bold">a</tspan><tspan x="481.2">)</tspan></text>
<text y="923.8"><tspan x="1359.6">(</tspan><tspan x="1384" font-weight="bold">b</tspan><tspan x="1430.6">)</tspan></text>
<text y="1850.8"><tspan x="421.4">(</tspan><tspan x="446.2" font-weight="bold">c</tspan><tspan x="479.3">)</tspan></text>
<text y="1850.8"><tspan x="1359.6">(</tspan><tspan x="1384.7" font-weight="bold">d</tspan><tspan x="1430.6">)</tspan></text>
</g>
</svg></body></html>
